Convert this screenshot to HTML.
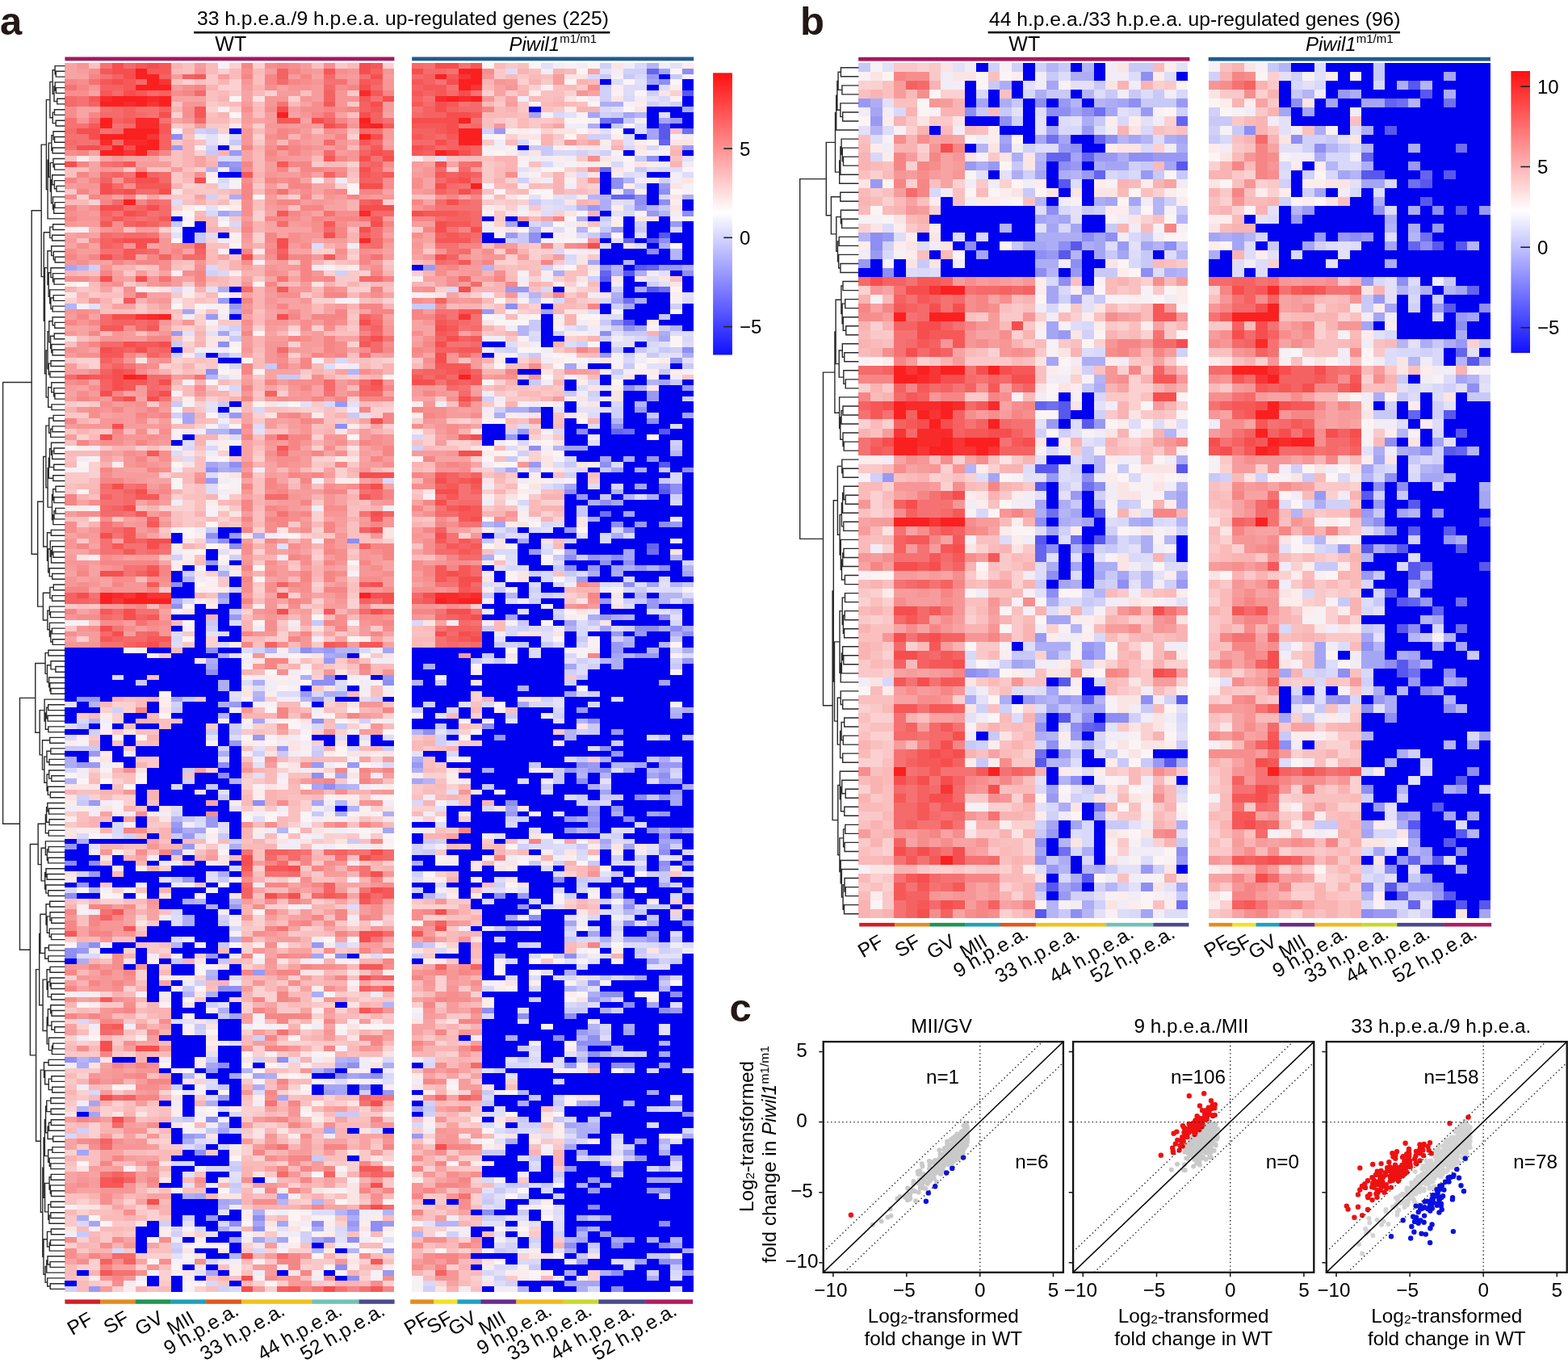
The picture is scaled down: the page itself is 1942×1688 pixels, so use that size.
<!DOCTYPE html><html><head><meta charset="utf-8"><style>html,body{margin:0;padding:0;background:#fff;overflow:hidden}svg{display:block}text{font-family:'Liberation Sans', Arial, sans-serif}</style></head><body>
<svg width="1942" height="1688" viewBox="0 0 1942 1688">
<rect width="1942" height="1688" fill="#fff"/>
<g transform="translate(80.40 78.20) scale(14.5680 6.7627)" shape-rendering="crispEdges"><path fill="#f8a3a3" d="M0 0h1v1h-1zM0 1h1v1h-1zM0 2h2v1h-2zM21 2h1v1h-1zM18 4h1v1h-1zM2 5h1v1h-1zM15 5h1v1h-1zM9 6h3v1h-3zM15 6h1v1h-1zM20 7h1v1h-1zM1 8h2v1h-2zM1 9h1v1h-1zM19 9h1v1h-1zM23 9h1v1h-1zM27 9h1v1h-1zM9 10h1v1h-1zM16 10h1v1h-1zM20 10h1v1h-1zM15 11h1v1h-1zM21 13h1v1h-1zM21 14h1v1h-1zM24 14h1v1h-1zM27 14h1v1h-1zM2 16h1v1h-1zM15 16h1v1h-1zM21 16h1v1h-1zM3 17h1v1h-1zM5 17h3v1h-3zM11 17h1v1h-1zM15 17h1v1h-1zM2 18h1v1h-1zM11 18h1v1h-1zM2 19h1v1h-1zM21 20h1v1h-1zM20 21h1v1h-1zM21 22h2v1h-2zM21 23h1v1h-1zM27 23h1v1h-1zM4 24h1v1h-1zM7 24h1v1h-1zM11 24h1v1h-1zM23 25h1v1h-1zM22 26h2v1h-2zM17 27h1v1h-1zM21 27h1v1h-1zM17 29h1v1h-1zM17 30h4v1h-4zM0 31h1v1h-1zM2 31h1v1h-1zM8 31h1v1h-1zM18 31h1v1h-1zM27 31h1v1h-1zM21 32h1v1h-1zM0 33h1v1h-1zM2 33h1v1h-1zM7 33h1v1h-1zM15 33h1v1h-1zM23 33h1v1h-1zM10 34h1v1h-1zM19 34h2v1h-2zM27 34h1v1h-1zM6 35h1v1h-1zM13 35h1v1h-1zM2 36h2v1h-2zM17 36h1v1h-1zM15 37h1v1h-1zM4 38h1v1h-1zM8 38h1v1h-1zM5 39h1v1h-1zM10 39h1v1h-1zM15 39h1v1h-1zM17 39h1v1h-1zM19 39h1v1h-1zM3 41h1v1h-1zM7 42h2v1h-2zM15 42h1v1h-1zM27 42h1v1h-1zM18 43h2v1h-2zM4 44h2v1h-2zM8 44h1v1h-1zM19 44h2v1h-2zM22 44h1v1h-1zM17 45h1v1h-1zM20 45h1v1h-1zM22 45h1v1h-1zM25 45h1v1h-1zM2 46h1v1h-1zM15 46h1v1h-1zM17 46h1v1h-1zM20 46h1v1h-1zM27 46h1v1h-1zM19 47h1v1h-1zM0 48h2v1h-2zM8 48h1v1h-1zM18 48h1v1h-1zM1 49h1v1h-1zM7 49h1v1h-1zM17 49h1v1h-1zM20 49h1v1h-1zM23 50h2v1h-2zM2 52h1v1h-1zM21 52h1v1h-1zM24 52h1v1h-1zM15 53h1v1h-1zM20 53h1v1h-1zM26 53h1v1h-1zM7 56h1v1h-1zM17 56h3v1h-3zM23 56h1v1h-1zM15 57h1v1h-1zM17 57h1v1h-1zM2 58h1v1h-1zM1 59h1v1h-1zM17 59h1v1h-1zM21 59h1v1h-1zM0 60h1v1h-1zM5 60h1v1h-1zM21 60h1v1h-1zM27 60h1v1h-1zM6 61h1v1h-1zM3 64h1v1h-1zM15 64h1v1h-1zM15 65h1v1h-1zM18 65h1v1h-1zM25 65h1v1h-1zM26 66h1v1h-1zM19 67h1v1h-1zM15 69h1v1h-1zM15 70h1v1h-1zM20 70h1v1h-1zM25 70h1v1h-1zM4 71h1v1h-1zM15 71h1v1h-1zM22 71h1v1h-1zM26 71h1v1h-1zM3 72h1v1h-1zM7 72h1v1h-1zM15 72h1v1h-1zM25 72h1v1h-1zM17 73h1v1h-1zM5 74h2v1h-2zM17 74h1v1h-1zM22 74h1v1h-1zM18 75h1v1h-1zM7 76h2v1h-2zM15 76h1v1h-1zM18 76h1v1h-1zM25 76h1v1h-1zM27 77h1v1h-1zM15 79h1v1h-1zM23 79h1v1h-1zM1 80h1v1h-1zM6 80h1v1h-1zM17 80h1v1h-1zM23 80h1v1h-1zM20 81h1v1h-1zM5 83h1v1h-1zM8 83h1v1h-1zM22 83h1v1h-1zM1 85h1v1h-1zM23 85h1v1h-1zM0 86h1v1h-1zM7 86h1v1h-1zM4 87h1v1h-1zM2 88h1v1h-1zM0 89h2v1h-2zM18 89h1v1h-1zM20 89h1v1h-1zM5 90h1v1h-1zM8 91h1v1h-1zM18 91h1v1h-1zM27 91h1v1h-1zM2 92h1v1h-1zM23 92h1v1h-1zM27 92h1v1h-1zM0 93h1v1h-1zM2 93h1v1h-1zM1 94h1v1h-1zM3 94h1v1h-1zM17 94h1v1h-1zM23 94h1v1h-1zM3 95h1v1h-1zM22 95h1v1h-1zM2 96h1v1h-1zM17 97h1v1h-1zM21 97h1v1h-1zM18 98h1v1h-1zM22 98h1v1h-1zM15 99h1v1h-1zM1 100h1v1h-1zM8 100h1v1h-1zM19 100h1v1h-1zM16 101h1v1h-1zM18 101h1v1h-1zM20 101h1v1h-1zM20 102h1v1h-1zM19 104h1v1h-1zM22 104h1v1h-1zM27 104h1v1h-1zM0 105h1v1h-1zM23 105h1v1h-1zM26 105h1v1h-1zM27 106h1v1h-1zM24 109h1v1h-1zM26 119h1v1h-1zM18 122h1v1h-1zM26 122h1v1h-1zM25 127h1v1h-1zM15 128h1v1h-1zM11 129h1v1h-1zM12 135h1v1h-1zM3 137h1v1h-1zM5 138h1v1h-1zM7 142h1v1h-1zM12 144h1v1h-1zM6 145h1v1h-1zM19 150h1v1h-1zM23 150h3v1h-3zM16 151h1v1h-1zM20 151h1v1h-1zM24 152h1v1h-1zM23 153h1v1h-1zM27 153h1v1h-1zM7 155h1v1h-1zM18 155h1v1h-1zM22 155h1v1h-1zM5 156h1v1h-1zM7 156h1v1h-1zM19 156h1v1h-1zM5 157h1v1h-1zM1 158h1v1h-1zM19 158h1v1h-1zM22 158h1v1h-1zM27 158h1v1h-1zM1 159h1v1h-1zM18 159h1v1h-1zM17 160h1v1h-1zM23 160h1v1h-1zM27 160h1v1h-1zM17 162h1v1h-1zM19 162h2v1h-2zM26 162h1v1h-1zM17 163h1v1h-1zM19 165h1v1h-1zM2 166h1v1h-1zM22 167h1v1h-1zM8 168h1v1h-1zM25 168h1v1h-1zM1 169h1v1h-1zM18 169h1v1h-1zM20 169h1v1h-1zM23 169h1v1h-1zM1 171h1v1h-1zM17 172h1v1h-1zM20 173h1v1h-1zM22 174h1v1h-1zM15 175h1v1h-1zM0 176h1v1h-1zM8 176h1v1h-1zM22 176h1v1h-1zM27 178h1v1h-1zM6 179h2v1h-2zM17 179h1v1h-1zM3 183h1v1h-1zM5 184h1v1h-1zM8 185h1v1h-1zM17 191h1v1h-1zM22 191h1v1h-1zM26 191h1v1h-1zM19 193h1v1h-1zM23 193h1v1h-1zM6 194h1v1h-1zM20 194h1v1h-1zM5 196h1v1h-1zM25 196h2v1h-2zM0 197h1v1h-1zM22 197h2v1h-2zM25 197h1v1h-1zM0 198h1v1h-1zM25 198h1v1h-1zM3 199h2v1h-2zM3 200h1v1h-1zM6 200h2v1h-2zM3 202h1v1h-1zM17 202h1v1h-1zM0 203h1v1h-1zM2 203h1v1h-1zM0 204h1v1h-1zM22 204h1v1h-1zM18 205h1v1h-1zM22 205h1v1h-1zM1 206h2v1h-2zM20 206h1v1h-1zM26 206h1v1h-1zM4 207h1v1h-1zM7 207h2v1h-2zM6 208h1v1h-1zM4 209h1v1h-1zM7 209h1v1h-1zM20 209h1v1h-1zM22 209h2v1h-2zM5 215h1v1h-1zM7 216h1v1h-1zM1 218h1v1h-1zM0 219h1v1h-1zM6 219h1v1h-1zM4 220h2v1h-2z"/><path fill="#f79696" d="M1 0h1v1h-1zM11 1h1v1h-1zM20 1h1v1h-1zM24 1h1v1h-1zM27 1h1v1h-1zM23 2h1v1h-1zM15 3h1v1h-1zM21 3h1v1h-1zM24 3h1v1h-1zM27 3h1v1h-1zM2 4h1v1h-1zM19 4h2v1h-2zM27 4h1v1h-1zM23 5h1v1h-1zM17 6h2v1h-2zM20 6h1v1h-1zM23 6h2v1h-2zM10 7h2v1h-2zM17 7h1v1h-1zM23 7h1v1h-1zM20 9h1v1h-1zM1 10h1v1h-1zM10 10h1v1h-1zM17 11h2v1h-2zM20 11h1v1h-1zM24 11h1v1h-1zM15 12h1v1h-1zM23 12h1v1h-1zM15 13h1v1h-1zM20 13h1v1h-1zM15 14h1v1h-1zM17 14h1v1h-1zM23 14h1v1h-1zM21 15h1v1h-1zM20 16h1v1h-1zM24 16h1v1h-1zM4 17h1v1h-1zM18 17h1v1h-1zM24 17h1v1h-1zM3 19h1v1h-1zM17 20h1v1h-1zM4 21h1v1h-1zM1 22h2v1h-2zM22 24h1v1h-1zM25 24h1v1h-1zM27 24h1v1h-1zM17 25h1v1h-1zM21 25h1v1h-1zM18 26h1v1h-1zM1 27h1v1h-1zM20 27h1v1h-1zM1 28h2v1h-2zM0 29h1v1h-1zM20 29h1v1h-1zM3 30h1v1h-1zM27 30h1v1h-1zM15 31h1v1h-1zM20 31h2v1h-2zM8 32h1v1h-1zM20 32h1v1h-1zM5 33h1v1h-1zM8 33h1v1h-1zM8 34h1v1h-1zM26 34h1v1h-1zM1 35h1v1h-1zM21 35h1v1h-1zM23 35h1v1h-1zM0 36h1v1h-1zM5 36h1v1h-1zM11 36h1v1h-1zM3 37h1v1h-1zM17 37h1v1h-1zM19 37h1v1h-1zM18 38h1v1h-1zM21 38h1v1h-1zM7 39h1v1h-1zM3 40h1v1h-1zM7 40h1v1h-1zM15 40h1v1h-1zM17 41h1v1h-1zM19 41h2v1h-2zM23 41h1v1h-1zM5 42h1v1h-1zM2 43h1v1h-1zM8 43h1v1h-1zM17 43h1v1h-1zM20 43h1v1h-1zM15 44h1v1h-1zM0 45h1v1h-1zM2 45h1v1h-1zM1 47h1v1h-1zM8 47h1v1h-1zM10 47h1v1h-1zM17 47h2v1h-2zM15 48h1v1h-1zM27 48h1v1h-1zM0 49h1v1h-1zM4 49h1v1h-1zM8 49h1v1h-1zM27 49h1v1h-1zM3 50h2v1h-2zM1 51h1v1h-1zM17 51h2v1h-2zM1 52h1v1h-1zM15 52h1v1h-1zM17 52h1v1h-1zM17 53h1v1h-1zM5 54h1v1h-1zM7 54h1v1h-1zM17 54h1v1h-1zM10 57h1v1h-1zM27 58h1v1h-1zM19 59h1v1h-1zM23 59h1v1h-1zM11 60h1v1h-1zM15 60h1v1h-1zM20 60h1v1h-1zM19 61h2v1h-2zM22 61h1v1h-1zM5 62h1v1h-1zM8 62h1v1h-1zM1 63h1v1h-1zM3 63h1v1h-1zM6 63h1v1h-1zM3 65h2v1h-2zM1 66h3v1h-3zM8 66h1v1h-1zM20 66h1v1h-1zM15 67h1v1h-1zM20 67h1v1h-1zM5 68h2v1h-2zM8 68h1v1h-1zM22 68h2v1h-2zM27 68h1v1h-1zM7 69h1v1h-1zM17 69h1v1h-1zM20 69h1v1h-1zM27 69h1v1h-1zM26 70h1v1h-1zM6 71h1v1h-1zM19 71h2v1h-2zM5 72h1v1h-1zM17 72h1v1h-1zM5 73h1v1h-1zM7 73h1v1h-1zM19 73h1v1h-1zM25 74h1v1h-1zM11 75h1v1h-1zM5 76h1v1h-1zM26 76h1v1h-1zM20 77h1v1h-1zM23 77h1v1h-1zM15 78h1v1h-1zM8 79h1v1h-1zM19 79h1v1h-1zM22 79h1v1h-1zM22 80h1v1h-1zM27 80h1v1h-1zM17 82h1v1h-1zM22 82h2v1h-2zM27 83h1v1h-1zM6 84h1v1h-1zM8 84h1v1h-1zM15 84h1v1h-1zM20 84h1v1h-1zM25 84h1v1h-1zM27 84h1v1h-1zM2 85h1v1h-1zM1 86h1v1h-1zM23 86h1v1h-1zM26 86h1v1h-1zM0 87h1v1h-1zM18 87h1v1h-1zM0 88h1v1h-1zM19 89h1v1h-1zM25 89h1v1h-1zM4 90h1v1h-1zM25 90h1v1h-1zM0 91h2v1h-2zM15 91h1v1h-1zM23 91h1v1h-1zM3 92h1v1h-1zM17 92h1v1h-1zM25 92h1v1h-1zM19 93h1v1h-1zM25 93h2v1h-2zM0 94h1v1h-1zM0 95h1v1h-1zM2 95h1v1h-1zM5 95h2v1h-2zM8 95h1v1h-1zM23 95h1v1h-1zM4 96h3v1h-3zM19 96h1v1h-1zM25 96h1v1h-1zM20 97h1v1h-1zM17 98h1v1h-1zM23 98h1v1h-1zM17 99h1v1h-1zM2 100h1v1h-1zM16 100h1v1h-1zM0 101h1v1h-1zM17 101h1v1h-1zM27 101h1v1h-1zM25 102h1v1h-1zM1 103h1v1h-1zM8 103h1v1h-1zM8 104h1v1h-1zM16 104h2v1h-2zM20 105h1v1h-1zM0 106h3v1h-3zM20 106h1v1h-1zM16 108h1v1h-1zM22 111h1v1h-1zM27 111h1v1h-1zM25 117h2v1h-2zM15 118h1v1h-1zM20 119h1v1h-1zM18 121h1v1h-1zM26 121h1v1h-1zM22 122h1v1h-1zM15 129h1v1h-1zM26 129h1v1h-1zM26 131h1v1h-1zM5 133h1v1h-1zM20 133h1v1h-1zM27 133h1v1h-1zM25 135h1v1h-1zM22 139h1v1h-1zM7 143h1v1h-1zM3 144h1v1h-1zM23 146h1v1h-1zM22 147h1v1h-1zM27 148h1v1h-1zM20 150h1v1h-1zM26 150h1v1h-1zM19 151h1v1h-1zM21 151h1v1h-1zM7 153h1v1h-1zM20 153h1v1h-1zM0 156h1v1h-1zM15 156h1v1h-1zM3 157h2v1h-2zM3 158h2v1h-2zM26 158h1v1h-1zM5 159h1v1h-1zM17 159h1v1h-1zM3 160h1v1h-1zM16 162h1v1h-1zM17 164h1v1h-1zM0 165h1v1h-1zM3 165h1v1h-1zM6 165h1v1h-1zM23 165h1v1h-1zM17 166h1v1h-1zM1 167h1v1h-1zM3 167h1v1h-1zM3 168h1v1h-1zM5 168h1v1h-1zM16 168h1v1h-1zM2 169h2v1h-2zM5 171h1v1h-1zM22 171h1v1h-1zM3 173h1v1h-1zM17 173h1v1h-1zM27 173h1v1h-1zM1 174h1v1h-1zM3 174h1v1h-1zM22 177h1v1h-1zM8 180h1v1h-1zM15 180h1v1h-1zM19 180h1v1h-1zM25 180h1v1h-1zM5 183h1v1h-1zM4 184h1v1h-1zM6 184h2v1h-2zM20 184h1v1h-1zM2 185h1v1h-1zM4 185h1v1h-1zM3 186h1v1h-1zM18 187h1v1h-1zM7 188h1v1h-1zM15 188h1v1h-1zM19 191h1v1h-1zM19 192h1v1h-1zM26 194h2v1h-2zM5 195h2v1h-2zM7 196h1v1h-1zM17 196h1v1h-1zM6 197h1v1h-1zM27 197h1v1h-1zM4 198h3v1h-3zM27 202h1v1h-1zM7 203h1v1h-1zM19 203h1v1h-1zM1 204h1v1h-1zM26 204h1v1h-1zM0 205h1v1h-1zM5 205h1v1h-1zM17 205h1v1h-1zM0 206h1v1h-1zM3 206h3v1h-3zM26 208h1v1h-1zM5 216h1v1h-1zM3 218h1v1h-1zM20 218h1v1h-1zM23 219h1v1h-1zM7 220h1v1h-1zM17 220h1v1h-1zM3 222h1v1h-1zM5 222h1v1h-1zM19 222h1v1h-1zM22 222h1v1h-1zM20 223h1v1h-1z"/><path fill="#fac0c0" d="M2 0h1v1h-1zM10 0h1v1h-1zM21 0h1v1h-1zM10 1h1v1h-1zM16 2h1v1h-1zM9 3h1v1h-1zM11 3h1v1h-1zM16 3h1v1h-1zM12 5h1v1h-1zM20 5h1v1h-1zM12 6h1v1h-1zM9 7h1v1h-1zM13 7h1v1h-1zM16 7h1v1h-1zM12 9h1v1h-1zM16 9h1v1h-1zM24 9h1v1h-1zM10 11h1v1h-1zM21 12h1v1h-1zM24 12h1v1h-1zM10 13h1v1h-1zM11 14h1v1h-1zM9 16h1v1h-1zM0 17h1v1h-1zM9 17h1v1h-1zM9 18h1v1h-1zM0 19h2v1h-2zM7 19h2v1h-2zM10 19h1v1h-1zM0 20h1v1h-1zM24 20h1v1h-1zM12 22h1v1h-1zM10 23h1v1h-1zM13 23h1v1h-1zM8 24h1v1h-1zM10 25h1v1h-1zM16 25h1v1h-1zM16 26h1v1h-1zM19 26h1v1h-1zM5 30h1v1h-1zM24 30h1v1h-1zM1 32h1v1h-1zM12 33h2v1h-2zM10 36h1v1h-1zM23 36h1v1h-1zM7 37h1v1h-1zM9 37h1v1h-1zM27 37h1v1h-1zM2 38h1v1h-1zM12 40h1v1h-1zM2 41h1v1h-1zM27 41h1v1h-1zM3 42h2v1h-2zM11 43h1v1h-1zM25 43h1v1h-1zM3 45h3v1h-3zM9 45h1v1h-1zM12 45h1v1h-1zM16 45h1v1h-1zM24 45h1v1h-1zM24 47h1v1h-1zM11 48h1v1h-1zM6 49h1v1h-1zM23 49h2v1h-2zM1 50h1v1h-1zM9 50h1v1h-1zM0 51h1v1h-1zM16 53h1v1h-1zM24 53h1v1h-1zM11 54h1v1h-1zM25 54h1v1h-1zM1 55h1v1h-1zM10 56h1v1h-1zM22 56h1v1h-1zM12 59h1v1h-1zM13 61h1v1h-1zM16 61h1v1h-1zM26 62h1v1h-1zM17 63h2v1h-2zM22 63h1v1h-1zM22 64h1v1h-1zM2 65h1v1h-1zM12 65h1v1h-1zM22 65h1v1h-1zM24 65h1v1h-1zM21 66h1v1h-1zM2 67h1v1h-1zM17 67h2v1h-2zM27 67h1v1h-1zM16 68h1v1h-1zM0 69h1v1h-1zM7 70h1v1h-1zM11 70h1v1h-1zM16 70h1v1h-1zM0 72h1v1h-1zM11 72h1v1h-1zM11 73h1v1h-1zM22 73h1v1h-1zM10 74h2v1h-2zM16 76h1v1h-1zM19 76h1v1h-1zM0 77h1v1h-1zM11 77h1v1h-1zM16 77h1v1h-1zM21 77h1v1h-1zM11 78h1v1h-1zM16 78h1v1h-1zM24 78h1v1h-1zM2 79h1v1h-1zM10 79h2v1h-2zM11 80h1v1h-1zM25 80h1v1h-1zM6 81h1v1h-1zM11 81h1v1h-1zM24 81h1v1h-1zM9 82h1v1h-1zM13 82h1v1h-1zM16 82h1v1h-1zM24 82h1v1h-1zM0 83h2v1h-2zM9 83h1v1h-1zM16 83h1v1h-1zM11 84h1v1h-1zM13 84h1v1h-1zM24 84h1v1h-1zM24 85h1v1h-1zM8 86h1v1h-1zM24 86h2v1h-2zM25 87h2v1h-2zM11 88h1v1h-1zM11 90h1v1h-1zM24 90h1v1h-1zM19 91h1v1h-1zM24 95h1v1h-1zM18 96h1v1h-1zM24 96h1v1h-1zM12 97h1v1h-1zM1 99h1v1h-1zM21 99h1v1h-1zM26 99h2v1h-2zM15 101h1v1h-1zM18 103h1v1h-1zM24 103h1v1h-1zM27 105h1v1h-1zM16 106h1v1h-1zM20 109h1v1h-1zM25 109h1v1h-1zM18 110h1v1h-1zM24 110h1v1h-1zM7 112h1v1h-1zM26 114h1v1h-1zM26 115h1v1h-1zM5 116h1v1h-1zM23 117h1v1h-1zM27 117h1v1h-1zM16 118h1v1h-1zM22 118h1v1h-1zM19 119h1v1h-1zM8 120h2v1h-2zM5 121h1v1h-1zM8 121h1v1h-1zM22 121h1v1h-1zM6 122h2v1h-2zM16 122h1v1h-1zM4 124h1v1h-1zM6 124h1v1h-1zM15 125h1v1h-1zM15 127h1v1h-1zM20 127h1v1h-1zM2 130h1v1h-1zM4 130h2v1h-2zM10 130h1v1h-1zM19 130h2v1h-2zM5 131h1v1h-1zM27 131h1v1h-1zM4 132h1v1h-1zM1 133h2v1h-2zM15 133h1v1h-1zM19 134h2v1h-2zM7 135h1v1h-1zM6 136h1v1h-1zM19 136h1v1h-1zM1 137h1v1h-1zM19 137h1v1h-1zM1 138h1v1h-1zM7 138h1v1h-1zM19 138h1v1h-1zM25 138h1v1h-1zM24 139h1v1h-1zM7 140h1v1h-1zM6 141h1v1h-1zM19 141h1v1h-1zM8 142h1v1h-1zM15 142h1v1h-1zM25 142h1v1h-1zM5 143h2v1h-2zM20 143h1v1h-1zM7 144h1v1h-1zM11 144h1v1h-1zM16 144h1v1h-1zM16 145h1v1h-1zM24 145h1v1h-1zM10 146h1v1h-1zM16 148h1v1h-1zM21 149h2v1h-2zM6 151h1v1h-1zM16 152h1v1h-1zM20 152h1v1h-1zM0 153h1v1h-1zM5 153h1v1h-1zM18 153h1v1h-1zM22 153h1v1h-1zM24 153h1v1h-1zM8 155h1v1h-1zM1 156h1v1h-1zM22 156h1v1h-1zM1 157h1v1h-1zM15 157h1v1h-1zM18 157h1v1h-1zM25 157h1v1h-1zM15 159h1v1h-1zM20 159h2v1h-2zM4 160h2v1h-2zM16 160h1v1h-1zM6 161h1v1h-1zM8 161h1v1h-1zM24 162h1v1h-1zM8 163h1v1h-1zM3 164h1v1h-1zM15 164h1v1h-1zM19 164h1v1h-1zM18 165h1v1h-1zM23 166h1v1h-1zM25 166h1v1h-1zM24 167h1v1h-1zM6 168h1v1h-1zM15 168h1v1h-1zM26 168h2v1h-2zM12 169h1v1h-1zM24 171h1v1h-1zM20 172h1v1h-1zM2 173h1v1h-1zM2 175h1v1h-1zM27 175h1v1h-1zM5 177h1v1h-1zM26 177h1v1h-1zM0 179h1v1h-1zM24 179h1v1h-1zM24 181h1v1h-1zM18 184h1v1h-1zM7 185h1v1h-1zM0 187h1v1h-1zM3 187h1v1h-1zM17 187h1v1h-1zM0 189h1v1h-1zM15 189h1v1h-1zM19 189h1v1h-1zM24 189h1v1h-1zM5 190h1v1h-1zM7 190h1v1h-1zM20 190h1v1h-1zM8 191h1v1h-1zM8 192h1v1h-1zM18 192h1v1h-1zM6 193h1v1h-1zM24 193h2v1h-2zM0 194h1v1h-1zM18 194h1v1h-1zM19 195h2v1h-2zM1 196h1v1h-1zM18 196h1v1h-1zM21 196h1v1h-1zM26 197h1v1h-1zM2 199h1v1h-1zM7 199h1v1h-1zM23 199h1v1h-1zM1 200h2v1h-2zM15 200h1v1h-1zM22 200h2v1h-2zM0 201h1v1h-1zM2 201h1v1h-1zM17 201h1v1h-1zM11 203h1v1h-1zM8 206h1v1h-1zM10 206h2v1h-2zM0 207h2v1h-2zM16 207h1v1h-1zM20 207h1v1h-1zM23 207h1v1h-1zM0 208h1v1h-1zM2 208h1v1h-1zM2 210h2v1h-2zM23 211h1v1h-1zM5 213h1v1h-1zM4 214h1v1h-1zM24 214h1v1h-1zM8 216h1v1h-1zM20 216h1v1h-1zM7 217h2v1h-2zM20 219h1v1h-1zM27 219h1v1h-1zM8 220h1v1h-1zM13 220h1v1h-1zM15 221h1v1h-1zM0 222h1v1h-1zM12 222h1v1h-1zM14 222h1v1h-1zM20 222h1v1h-1zM7 224h1v1h-1zM12 224h1v1h-1z"/><path fill="#f67272" d="M3 0h1v1h-1zM3 2h1v1h-1zM25 2h1v1h-1zM2 3h1v1h-1zM22 3h2v1h-2zM0 4h1v1h-1zM1 6h1v1h-1zM26 6h1v1h-1zM1 7h1v1h-1zM18 7h1v1h-1zM3 8h1v1h-1zM6 8h2v1h-2zM7 9h1v1h-1zM22 9h1v1h-1zM0 10h1v1h-1zM2 10h1v1h-1zM8 10h1v1h-1zM27 10h1v1h-1zM0 11h2v1h-2zM4 11h1v1h-1zM3 12h1v1h-1zM26 12h1v1h-1zM0 13h2v1h-2zM1 14h2v1h-2zM0 15h1v1h-1zM18 15h1v1h-1zM25 15h1v1h-1zM26 17h1v1h-1zM3 18h1v1h-1zM5 20h1v1h-1zM18 23h1v1h-1zM8 25h1v1h-1zM4 27h1v1h-1zM7 27h1v1h-1zM22 27h1v1h-1zM6 28h1v1h-1zM25 28h1v1h-1zM8 29h1v1h-1zM26 30h1v1h-1zM4 31h1v1h-1zM7 31h1v1h-1zM26 31h1v1h-1zM25 33h1v1h-1zM3 34h2v1h-2zM26 35h1v1h-1zM8 39h1v1h-1zM18 39h1v1h-1zM26 46h1v1h-1zM25 48h1v1h-1zM27 50h1v1h-1zM8 53h1v1h-1zM25 53h1v1h-1zM4 54h1v1h-1zM3 55h1v1h-1zM5 55h1v1h-1zM11 57h1v1h-1zM8 59h1v1h-1zM22 60h1v1h-1zM8 61h1v1h-1zM5 77h1v1h-1zM3 78h2v1h-2zM25 78h1v1h-1zM4 79h1v1h-1zM3 80h2v1h-2zM5 82h1v1h-1zM18 82h1v1h-1zM25 82h1v1h-1zM3 84h1v1h-1zM3 85h1v1h-1zM4 86h1v1h-1zM3 87h1v1h-1zM3 88h1v1h-1zM5 88h2v1h-2zM3 89h2v1h-2zM6 89h1v1h-1zM8 89h1v1h-1zM5 92h2v1h-2zM5 93h1v1h-1zM2 97h1v1h-1zM6 100h2v1h-2zM4 101h1v1h-1zM6 102h1v1h-1zM4 103h1v1h-1zM3 106h2v1h-2zM15 144h1v1h-1zM20 144h1v1h-1zM24 144h2v1h-2zM23 145h1v1h-1zM25 147h1v1h-1zM15 148h1v1h-1zM17 148h2v1h-2zM25 148h1v1h-1zM25 151h1v1h-1zM18 152h1v1h-1zM26 153h1v1h-1zM3 155h1v1h-1zM18 158h1v1h-1zM26 160h1v1h-1zM26 169h1v1h-1zM26 173h1v1h-1zM4 177h1v1h-1zM18 177h1v1h-1zM26 189h2v1h-2zM17 190h1v1h-1zM25 190h1v1h-1zM18 198h1v1h-1zM3 203h1v1h-1zM5 203h1v1h-1zM25 203h1v1h-1zM25 209h1v1h-1zM4 221h2v1h-2zM21 224h1v1h-1zM23 224h1v1h-1zM25 224h1v1h-1z"/><path fill="#f64e4e" d="M4 0h1v1h-1zM7 0h1v1h-1zM25 0h1v1h-1zM4 1h2v1h-2zM25 1h1v1h-1zM5 2h1v1h-1zM26 2h1v1h-1zM4 3h1v1h-1zM25 4h1v1h-1zM5 5h1v1h-1zM27 6h1v1h-1zM26 7h1v1h-1zM18 8h1v1h-1zM8 9h1v1h-1zM25 9h1v1h-1zM21 10h1v1h-1zM22 11h1v1h-1zM1 12h2v1h-2zM2 13h1v1h-1zM26 13h1v1h-1zM1 15h2v1h-2zM5 15h1v1h-1zM26 16h1v1h-1zM25 17h1v1h-1zM27 17h1v1h-1zM0 18h1v1h-1zM25 19h1v1h-1zM6 21h2v1h-2zM11 21h1v1h-1zM3 22h1v1h-1zM25 22h2v1h-2zM3 23h1v1h-1zM5 23h1v1h-1zM8 23h1v1h-1zM3 26h2v1h-2zM7 26h1v1h-1zM25 26h3v1h-3zM5 27h1v1h-1zM26 29h1v1h-1zM25 30h1v1h-1zM22 31h1v1h-1zM5 32h3v1h-3zM18 32h1v1h-1zM6 33h1v1h-1zM18 33h1v1h-1zM3 35h1v1h-1zM15 35h1v1h-1zM3 39h1v1h-1zM6 39h1v1h-1zM4 46h2v1h-2zM18 46h1v1h-1zM25 47h1v1h-1zM26 50h1v1h-1zM5 51h1v1h-1zM8 51h1v1h-1zM3 52h1v1h-1zM6 52h1v1h-1zM4 56h1v1h-1zM1 57h1v1h-1zM4 57h1v1h-1zM4 58h1v1h-1zM8 58h1v1h-1zM26 58h1v1h-1zM4 59h1v1h-1zM3 60h1v1h-1zM8 60h1v1h-1zM5 61h1v1h-1zM7 61h1v1h-1zM26 65h1v1h-1zM4 66h1v1h-1zM3 68h1v1h-1zM25 75h3v1h-3zM4 77h1v1h-1zM26 77h1v1h-1zM6 78h1v1h-1zM5 81h1v1h-1zM26 82h1v1h-1zM26 85h1v1h-1zM3 86h1v1h-1zM7 87h2v1h-2zM7 88h1v1h-1zM3 93h2v1h-2zM7 93h1v1h-1zM26 95h1v1h-1zM1 97h1v1h-1zM18 97h1v1h-1zM26 97h2v1h-2zM27 98h1v1h-1zM5 100h1v1h-1zM18 100h1v1h-1zM26 100h1v1h-1zM5 101h1v1h-1zM3 103h1v1h-1zM4 104h1v1h-1zM7 106h1v1h-1zM26 144h1v1h-1zM15 145h1v1h-1zM25 145h1v1h-1zM15 146h1v1h-1zM19 147h1v1h-1zM26 148h1v1h-1zM26 151h1v1h-1zM17 152h1v1h-1zM19 152h1v1h-1zM25 152h1v1h-1zM25 159h2v1h-2zM25 160h1v1h-1zM25 167h1v1h-1zM3 179h1v1h-1zM3 180h1v1h-1zM6 180h2v1h-2zM3 189h1v1h-1zM26 190h1v1h-1zM4 193h1v1h-1zM4 204h1v1h-1zM26 205h1v1h-1zM7 208h1v1h-1zM26 209h1v1h-1zM15 218h1v1h-1zM15 222h1v1h-1zM15 224h1v1h-1zM22 224h1v1h-1z"/><path fill="#f56a6a" d="M5 0h1v1h-1zM22 2h1v1h-1zM6 3h1v1h-1zM18 3h1v1h-1zM22 4h1v1h-1zM26 4h1v1h-1zM4 5h1v1h-1zM7 5h1v1h-1zM11 5h1v1h-1zM0 6h1v1h-1zM0 7h1v1h-1zM4 8h1v1h-1zM3 9h2v1h-2zM6 9h1v1h-1zM11 10h1v1h-1zM5 11h1v1h-1zM0 12h1v1h-1zM4 12h1v1h-1zM25 12h1v1h-1zM0 14h1v1h-1zM4 14h1v1h-1zM22 14h1v1h-1zM26 14h1v1h-1zM7 16h1v1h-1zM22 16h1v1h-1zM4 18h1v1h-1zM25 18h1v1h-1zM26 19h1v1h-1zM3 20h1v1h-1zM8 20h1v1h-1zM8 21h1v1h-1zM4 22h1v1h-1zM6 23h2v1h-2zM4 25h1v1h-1zM7 25h1v1h-1zM5 26h1v1h-1zM8 26h1v1h-1zM8 27h1v1h-1zM26 27h2v1h-2zM3 28h1v1h-1zM5 28h1v1h-1zM7 28h1v1h-1zM18 29h1v1h-1zM22 30h1v1h-1zM3 31h1v1h-1zM5 31h2v1h-2zM26 32h1v1h-1zM4 33h1v1h-1zM26 33h1v1h-1zM7 34h1v1h-1zM4 35h1v1h-1zM10 35h2v1h-2zM25 39h2v1h-2zM15 41h1v1h-1zM6 42h1v1h-1zM3 46h1v1h-1zM3 47h1v1h-1zM6 47h1v1h-1zM26 47h1v1h-1zM6 48h1v1h-1zM26 49h1v1h-1zM3 51h2v1h-2zM26 51h1v1h-1zM7 52h1v1h-1zM18 52h1v1h-1zM26 52h1v1h-1zM0 57h1v1h-1zM7 57h2v1h-2zM7 58h1v1h-1zM22 58h1v1h-1zM25 58h1v1h-1zM7 59h1v1h-1zM22 59h1v1h-1zM25 60h2v1h-2zM18 71h1v1h-1zM3 77h1v1h-1zM6 77h1v1h-1zM26 78h1v1h-1zM5 79h1v1h-1zM17 79h2v1h-2zM26 79h1v1h-1zM5 80h1v1h-1zM3 81h1v1h-1zM3 82h2v1h-2zM4 85h1v1h-1zM8 88h1v1h-1zM7 89h1v1h-1zM2 98h1v1h-1zM26 98h1v1h-1zM4 100h1v1h-1zM25 100h1v1h-1zM3 101h1v1h-1zM3 104h1v1h-1zM6 104h1v1h-1zM5 105h2v1h-2zM8 106h1v1h-1zM19 144h1v1h-1zM22 144h1v1h-1zM27 144h1v1h-1zM17 145h1v1h-1zM19 145h1v1h-1zM27 145h1v1h-1zM18 146h1v1h-1zM19 148h1v1h-1zM15 150h1v1h-1zM21 152h1v1h-1zM26 152h1v1h-1zM27 159h1v1h-1zM26 167h1v1h-1zM3 177h1v1h-1zM4 189h1v1h-1zM4 194h1v1h-1zM3 198h1v1h-1zM18 203h1v1h-1zM27 203h1v1h-1zM27 209h1v1h-1zM4 218h2v1h-2zM18 218h1v1h-1z"/><path fill="#f65858" d="M6 0h1v1h-1zM8 0h1v1h-1zM26 0h1v1h-1zM3 1h1v1h-1zM7 1h2v1h-2zM22 1h1v1h-1zM11 2h1v1h-1zM3 3h1v1h-1zM5 3h1v1h-1zM25 3h1v1h-1zM5 4h1v1h-1zM3 5h1v1h-1zM6 5h1v1h-1zM26 5h1v1h-1zM2 6h1v1h-1zM25 6h1v1h-1zM22 7h1v1h-1zM11 8h1v1h-1zM26 8h1v1h-1zM11 9h1v1h-1zM5 10h1v1h-1zM18 10h2v1h-2zM2 11h1v1h-1zM8 11h1v1h-1zM27 11h1v1h-1zM8 12h1v1h-1zM25 14h1v1h-1zM3 15h1v1h-1zM26 15h1v1h-1zM27 16h1v1h-1zM22 17h1v1h-1zM5 18h1v1h-1zM18 18h1v1h-1zM15 20h1v1h-1zM25 20h1v1h-1zM27 20h1v1h-1zM6 22h3v1h-3zM4 23h1v1h-1zM26 25h1v1h-1zM6 27h1v1h-1zM18 27h1v1h-1zM4 28h1v1h-1zM8 28h1v1h-1zM26 28h1v1h-1zM3 29h1v1h-1zM6 29h1v1h-1zM22 29h1v1h-1zM4 32h1v1h-1zM11 33h1v1h-1zM5 34h1v1h-1zM5 35h1v1h-1zM18 35h1v1h-1zM22 35h1v1h-1zM18 41h1v1h-1zM5 43h1v1h-1zM3 48h2v1h-2zM7 48h1v1h-1zM6 51h2v1h-2zM25 51h1v1h-1zM4 52h1v1h-1zM3 53h2v1h-2zM5 56h1v1h-1zM2 57h2v1h-2zM5 58h2v1h-2zM5 59h1v1h-1zM26 59h1v1h-1zM18 68h1v1h-1zM18 70h1v1h-1zM7 71h1v1h-1zM6 79h2v1h-2zM25 79h1v1h-1zM6 82h1v1h-1zM26 83h1v1h-1zM7 84h1v1h-1zM5 85h1v1h-1zM5 86h1v1h-1zM5 87h1v1h-1zM4 88h1v1h-1zM5 89h1v1h-1zM7 92h1v1h-1zM7 95h1v1h-1zM25 95h1v1h-1zM3 100h1v1h-1zM22 100h1v1h-1zM7 101h1v1h-1zM3 105h1v1h-1zM7 105h2v1h-2zM6 106h1v1h-1zM22 106h1v1h-1zM25 106h2v1h-2zM15 147h1v1h-1zM17 147h2v1h-2zM27 151h1v1h-1zM22 152h1v1h-1zM27 152h1v1h-1zM25 153h1v1h-1zM4 155h1v1h-1zM5 158h1v1h-1zM0 159h1v1h-1zM25 165h2v1h-2zM27 169h1v1h-1zM3 171h1v1h-1zM25 173h1v1h-1zM4 176h1v1h-1zM25 202h2v1h-2zM3 204h1v1h-1zM3 205h2v1h-2zM26 219h1v1h-1zM3 221h1v1h-1zM19 224h1v1h-1zM26 224h1v1h-1z"/><path fill="#f9b3b3" d="M9 0h1v1h-1zM13 3h1v1h-1zM12 4h1v1h-1zM16 4h1v1h-1zM13 6h1v1h-1zM9 8h1v1h-1zM13 9h1v1h-1zM10 12h1v1h-1zM19 13h1v1h-1zM10 14h1v1h-1zM10 15h1v1h-1zM16 15h1v1h-1zM10 16h1v1h-1zM13 16h1v1h-1zM10 17h1v1h-1zM10 18h1v1h-1zM12 18h1v1h-1zM19 19h1v1h-1zM10 20h1v1h-1zM16 20h1v1h-1zM22 21h1v1h-1zM9 22h1v1h-1zM14 23h1v1h-1zM11 25h1v1h-1zM24 25h1v1h-1zM24 26h1v1h-1zM11 28h1v1h-1zM16 29h1v1h-1zM2 30h1v1h-1zM12 30h1v1h-1zM16 30h1v1h-1zM24 31h1v1h-1zM24 32h1v1h-1zM16 33h1v1h-1zM22 33h1v1h-1zM16 35h1v1h-1zM14 36h1v1h-1zM21 36h1v1h-1zM4 37h2v1h-2zM14 37h1v1h-1zM16 37h1v1h-1zM0 38h1v1h-1zM15 38h2v1h-2zM19 38h1v1h-1zM27 38h1v1h-1zM12 39h1v1h-1zM6 40h1v1h-1zM18 40h1v1h-1zM22 40h1v1h-1zM24 40h1v1h-1zM0 41h1v1h-1zM11 41h1v1h-1zM16 41h1v1h-1zM1 42h1v1h-1zM16 42h1v1h-1zM21 42h1v1h-1zM3 43h1v1h-1zM6 43h1v1h-1zM16 43h1v1h-1zM7 44h1v1h-1zM16 44h1v1h-1zM24 44h1v1h-1zM27 44h1v1h-1zM8 45h1v1h-1zM9 47h1v1h-1zM11 49h1v1h-1zM2 50h1v1h-1zM16 50h1v1h-1zM11 51h1v1h-1zM16 51h1v1h-1zM19 54h1v1h-1zM10 55h1v1h-1zM27 55h1v1h-1zM8 56h1v1h-1zM21 56h1v1h-1zM27 56h1v1h-1zM22 57h1v1h-1zM26 57h1v1h-1zM9 58h1v1h-1zM11 58h1v1h-1zM12 60h2v1h-2zM11 61h1v1h-1zM14 61h1v1h-1zM0 63h1v1h-1zM10 63h1v1h-1zM11 64h1v1h-1zM23 64h1v1h-1zM1 65h1v1h-1zM7 65h1v1h-1zM18 66h1v1h-1zM1 67h1v1h-1zM22 67h1v1h-1zM26 67h1v1h-1zM11 68h2v1h-2zM11 69h1v1h-1zM16 69h1v1h-1zM21 69h1v1h-1zM24 69h1v1h-1zM4 70h2v1h-2zM4 72h1v1h-1zM3 73h1v1h-1zM16 73h1v1h-1zM24 74h1v1h-1zM22 76h1v1h-1zM2 78h1v1h-1zM9 78h1v1h-1zM1 79h1v1h-1zM12 79h1v1h-1zM16 79h1v1h-1zM21 79h1v1h-1zM24 79h1v1h-1zM14 80h1v1h-1zM16 80h1v1h-1zM7 81h1v1h-1zM26 81h1v1h-1zM11 82h1v1h-1zM24 83h1v1h-1zM2 84h1v1h-1zM10 88h1v1h-1zM16 88h1v1h-1zM21 88h1v1h-1zM24 88h1v1h-1zM16 90h2v1h-2zM21 92h1v1h-1zM16 93h1v1h-1zM21 93h1v1h-1zM11 97h1v1h-1zM23 100h1v1h-1zM12 101h1v1h-1zM15 102h1v1h-1zM15 103h1v1h-1zM22 103h1v1h-1zM19 110h1v1h-1zM15 111h1v1h-1zM4 116h1v1h-1zM7 116h1v1h-1zM19 118h1v1h-1zM26 118h1v1h-1zM15 119h3v1h-3zM23 119h1v1h-1zM6 120h2v1h-2zM7 123h1v1h-1zM22 125h1v1h-1zM26 125h1v1h-1zM6 128h1v1h-1zM4 129h1v1h-1zM16 129h1v1h-1zM19 131h1v1h-1zM0 133h1v1h-1zM3 133h2v1h-2zM7 133h1v1h-1zM17 133h1v1h-1zM24 133h2v1h-2zM7 134h1v1h-1zM17 134h1v1h-1zM17 135h1v1h-1zM5 136h1v1h-1zM2 138h1v1h-1zM2 139h1v1h-1zM3 140h1v1h-1zM8 140h1v1h-1zM15 140h1v1h-1zM20 140h1v1h-1zM8 141h1v1h-1zM15 141h1v1h-1zM16 142h1v1h-1zM3 143h2v1h-2zM8 143h2v1h-2zM17 143h1v1h-1zM5 145h1v1h-1zM11 145h1v1h-1zM21 145h2v1h-2zM6 146h1v1h-1zM26 146h1v1h-1zM7 147h1v1h-1zM23 147h1v1h-1zM27 147h1v1h-1zM20 148h1v1h-1zM24 148h1v1h-1zM16 149h1v1h-1zM23 149h1v1h-1zM25 149h1v1h-1zM8 151h1v1h-1zM16 153h1v1h-1zM0 154h1v1h-1zM15 154h1v1h-1zM21 154h2v1h-2zM27 154h1v1h-1zM6 155h1v1h-1zM15 155h1v1h-1zM27 155h1v1h-1zM18 156h1v1h-1zM17 157h1v1h-1zM21 157h1v1h-1zM23 158h1v1h-1zM1 160h1v1h-1zM20 160h1v1h-1zM5 163h1v1h-1zM2 164h1v1h-1zM10 164h1v1h-1zM22 164h1v1h-1zM25 164h2v1h-2zM17 167h1v1h-1zM1 168h1v1h-1zM13 168h1v1h-1zM22 168h2v1h-2zM6 169h1v1h-1zM4 170h1v1h-1zM15 170h1v1h-1zM27 170h1v1h-1zM6 171h1v1h-1zM15 171h1v1h-1zM0 172h1v1h-1zM7 172h1v1h-1zM16 172h1v1h-1zM25 172h1v1h-1zM7 173h2v1h-2zM24 173h1v1h-1zM5 174h1v1h-1zM8 174h1v1h-1zM26 174h1v1h-1zM6 175h1v1h-1zM20 175h1v1h-1zM23 175h1v1h-1zM7 176h1v1h-1zM19 176h1v1h-1zM8 177h1v1h-1zM17 177h1v1h-1zM25 177h1v1h-1zM3 178h1v1h-1zM21 178h1v1h-1zM20 180h1v1h-1zM6 181h1v1h-1zM23 181h1v1h-1zM6 182h1v1h-1zM20 182h1v1h-1zM1 186h1v1h-1zM5 186h1v1h-1zM15 187h1v1h-1zM0 188h1v1h-1zM5 188h1v1h-1zM8 189h1v1h-1zM3 190h1v1h-1zM11 190h1v1h-1zM2 191h1v1h-1zM18 191h1v1h-1zM5 192h1v1h-1zM8 193h1v1h-1zM3 194h1v1h-1zM3 195h2v1h-2zM21 195h1v1h-1zM23 195h1v1h-1zM23 196h2v1h-2zM19 198h1v1h-1zM21 198h1v1h-1zM24 198h1v1h-1zM18 199h1v1h-1zM0 200h1v1h-1zM20 201h1v1h-1zM26 201h1v1h-1zM15 202h1v1h-1zM15 203h1v1h-1zM24 203h1v1h-1zM19 204h1v1h-1zM21 204h1v1h-1zM23 204h1v1h-1zM25 204h1v1h-1zM6 205h1v1h-1zM13 205h1v1h-1zM20 205h1v1h-1zM2 207h1v1h-1zM6 207h1v1h-1zM15 207h1v1h-1zM21 207h1v1h-1zM4 208h1v1h-1zM15 208h1v1h-1zM22 208h1v1h-1zM8 209h1v1h-1zM16 209h4v1h-4zM24 209h1v1h-1zM8 210h1v1h-1zM5 211h1v1h-1zM15 213h1v1h-1zM2 215h1v1h-1zM1 216h1v1h-1zM4 216h1v1h-1zM2 217h2v1h-2zM16 218h1v1h-1zM22 218h1v1h-1zM2 221h1v1h-1zM24 221h1v1h-1zM13 222h1v1h-1zM23 223h2v1h-2zM6 224h1v1h-1z"/><path fill="#f79c9c" d="M11 0h1v1h-1zM20 0h1v1h-1zM1 1h1v1h-1zM17 1h1v1h-1zM21 1h1v1h-1zM9 2h1v1h-1zM13 2h1v1h-1zM19 2h1v1h-1zM24 2h1v1h-1zM27 2h1v1h-1zM9 4h1v1h-1zM15 4h1v1h-1zM21 4h1v1h-1zM18 5h2v1h-2zM21 5h1v1h-1zM21 6h1v1h-1zM15 7h1v1h-1zM27 7h1v1h-1zM19 8h1v1h-1zM27 8h1v1h-1zM15 9h1v1h-1zM17 9h1v1h-1zM15 10h1v1h-1zM17 10h1v1h-1zM24 10h1v1h-1zM11 11h1v1h-1zM19 11h1v1h-1zM21 11h1v1h-1zM17 12h1v1h-1zM20 12h1v1h-1zM27 12h1v1h-1zM22 13h1v1h-1zM27 13h1v1h-1zM20 14h1v1h-1zM22 15h1v1h-1zM27 15h1v1h-1zM18 16h1v1h-1zM23 16h1v1h-1zM19 17h2v1h-2zM6 18h3v1h-3zM17 18h1v1h-1zM4 19h1v1h-1zM9 19h1v1h-1zM17 19h1v1h-1zM27 19h1v1h-1zM2 20h1v1h-1zM18 20h2v1h-2zM1 21h1v1h-1zM0 22h1v1h-1zM17 22h1v1h-1zM2 23h1v1h-1zM19 23h1v1h-1zM17 24h1v1h-1zM23 24h1v1h-1zM26 24h1v1h-1zM20 25h1v1h-1zM22 25h1v1h-1zM1 26h1v1h-1zM17 26h1v1h-1zM2 27h1v1h-1zM15 28h1v1h-1zM20 28h1v1h-1zM27 28h1v1h-1zM1 29h2v1h-2zM19 29h1v1h-1zM24 29h2v1h-2zM6 30h2v1h-2zM1 31h1v1h-1zM0 32h1v1h-1zM15 32h1v1h-1zM22 32h2v1h-2zM19 33h1v1h-1zM27 33h1v1h-1zM1 34h2v1h-2zM27 35h1v1h-1zM18 36h1v1h-1zM26 36h1v1h-1zM18 37h1v1h-1zM25 37h1v1h-1zM6 38h1v1h-1zM2 39h1v1h-1zM4 39h1v1h-1zM9 39h1v1h-1zM9 40h1v1h-1zM20 40h1v1h-1zM17 42h1v1h-1zM25 42h1v1h-1zM7 43h1v1h-1zM17 44h1v1h-1zM23 44h1v1h-1zM18 45h1v1h-1zM0 46h1v1h-1zM21 47h1v1h-1zM27 47h1v1h-1zM2 48h1v1h-1zM17 48h1v1h-1zM5 49h1v1h-1zM21 49h1v1h-1zM5 50h2v1h-2zM15 50h1v1h-1zM17 50h2v1h-2zM21 50h1v1h-1zM15 51h1v1h-1zM20 51h2v1h-2zM19 52h2v1h-2zM0 53h1v1h-1zM6 53h1v1h-1zM27 53h1v1h-1zM0 55h1v1h-1zM19 55h1v1h-1zM0 56h2v1h-2zM26 56h1v1h-1zM9 57h1v1h-1zM15 58h1v1h-1zM18 58h1v1h-1zM23 58h1v1h-1zM0 59h1v1h-1zM6 59h1v1h-1zM2 60h1v1h-1zM6 60h1v1h-1zM19 60h1v1h-1zM23 60h1v1h-1zM0 61h1v1h-1zM3 61h1v1h-1zM17 61h1v1h-1zM4 62h1v1h-1zM5 63h1v1h-1zM8 63h1v1h-1zM4 64h2v1h-2zM20 64h1v1h-1zM5 65h1v1h-1zM8 65h1v1h-1zM17 65h1v1h-1zM19 65h1v1h-1zM0 66h1v1h-1zM5 66h3v1h-3zM17 66h1v1h-1zM19 66h1v1h-1zM25 67h1v1h-1zM0 68h1v1h-1zM25 68h1v1h-1zM2 69h1v1h-1zM5 69h1v1h-1zM8 69h1v1h-1zM18 69h1v1h-1zM22 69h1v1h-1zM17 70h1v1h-1zM3 71h1v1h-1zM25 71h1v1h-1zM20 72h1v1h-1zM27 72h1v1h-1zM8 73h1v1h-1zM20 73h1v1h-1zM25 73h2v1h-2zM4 74h1v1h-1zM15 74h1v1h-1zM19 74h1v1h-1zM4 75h4v1h-4zM17 75h1v1h-1zM22 75h1v1h-1zM6 76h1v1h-1zM7 77h1v1h-1zM19 78h3v1h-3zM20 79h1v1h-1zM8 80h1v1h-1zM18 80h2v1h-2zM26 80h1v1h-1zM19 81h1v1h-1zM0 82h1v1h-1zM7 82h1v1h-1zM15 82h1v1h-1zM6 83h1v1h-1zM20 83h1v1h-1zM23 83h1v1h-1zM25 83h1v1h-1zM5 84h1v1h-1zM23 84h1v1h-1zM6 85h1v1h-1zM19 85h1v1h-1zM2 86h1v1h-1zM2 87h1v1h-1zM15 87h1v1h-1zM20 87h1v1h-1zM23 87h1v1h-1zM17 88h1v1h-1zM20 88h1v1h-1zM23 88h1v1h-1zM17 89h1v1h-1zM0 90h1v1h-1zM6 90h2v1h-2zM15 90h1v1h-1zM22 90h1v1h-1zM26 90h1v1h-1zM2 91h1v1h-1zM26 91h1v1h-1zM0 92h1v1h-1zM18 92h1v1h-1zM20 92h1v1h-1zM22 92h1v1h-1zM15 93h1v1h-1zM18 93h1v1h-1zM2 94h1v1h-1zM18 94h1v1h-1zM27 94h1v1h-1zM27 95h1v1h-1zM26 96h1v1h-1zM15 97h1v1h-1zM22 97h1v1h-1zM3 99h2v1h-2zM22 99h2v1h-2zM20 100h1v1h-1zM24 100h1v1h-1zM8 101h1v1h-1zM5 102h1v1h-1zM6 103h1v1h-1zM25 103h1v1h-1zM1 104h2v1h-2zM5 104h1v1h-1zM25 104h1v1h-1zM2 105h1v1h-1zM24 106h1v1h-1zM16 110h1v1h-1zM25 119h1v1h-1zM25 122h1v1h-1zM27 127h1v1h-1zM17 128h1v1h-1zM27 130h1v1h-1zM20 131h1v1h-1zM21 133h1v1h-1zM26 133h1v1h-1zM26 139h1v1h-1zM12 145h1v1h-1zM16 146h1v1h-1zM22 148h2v1h-2zM23 151h1v1h-1zM15 153h1v1h-1zM4 154h1v1h-1zM7 154h1v1h-1zM25 154h1v1h-1zM5 155h1v1h-1zM20 155h1v1h-1zM25 155h1v1h-1zM17 156h1v1h-1zM20 156h1v1h-1zM4 159h1v1h-1zM24 159h1v1h-1zM18 160h2v1h-2zM25 161h2v1h-2zM1 165h1v1h-1zM17 165h1v1h-1zM4 166h1v1h-1zM26 166h1v1h-1zM2 167h1v1h-1zM4 167h1v1h-1zM18 167h1v1h-1zM20 167h1v1h-1zM0 168h1v1h-1zM15 169h1v1h-1zM2 171h1v1h-1zM23 171h1v1h-1zM22 173h1v1h-1zM15 174h1v1h-1zM25 175h1v1h-1zM6 176h1v1h-1zM0 177h1v1h-1zM16 177h1v1h-1zM19 177h1v1h-1zM27 177h1v1h-1zM7 178h1v1h-1zM22 178h1v1h-1zM16 179h1v1h-1zM5 180h1v1h-1zM26 180h1v1h-1zM3 184h1v1h-1zM3 185h1v1h-1zM6 186h1v1h-1zM8 187h1v1h-1zM3 188h1v1h-1zM6 188h1v1h-1zM6 190h1v1h-1zM23 191h1v1h-1zM0 193h1v1h-1zM3 193h1v1h-1zM16 193h1v1h-1zM5 194h1v1h-1zM15 194h1v1h-1zM3 196h1v1h-1zM5 197h1v1h-1zM15 197h1v1h-1zM17 197h1v1h-1zM20 197h1v1h-1zM7 198h1v1h-1zM16 198h1v1h-1zM20 198h1v1h-1zM19 199h2v1h-2zM22 199h1v1h-1zM26 199h1v1h-1zM5 200h1v1h-1zM18 200h1v1h-1zM6 201h1v1h-1zM21 201h1v1h-1zM2 202h1v1h-1zM4 202h1v1h-1zM7 202h1v1h-1zM21 202h1v1h-1zM1 203h1v1h-1zM6 203h1v1h-1zM2 204h1v1h-1zM6 204h1v1h-1zM2 205h1v1h-1zM11 205h1v1h-1zM16 205h1v1h-1zM25 205h1v1h-1zM17 216h1v1h-1zM17 218h1v1h-1zM16 220h1v1h-1zM17 221h1v1h-1zM18 222h1v1h-1zM19 223h1v1h-1zM3 224h1v1h-1zM16 224h1v1h-1z"/><path fill="#fababa" d="M12 0h1v1h-1zM24 0h1v1h-1zM9 1h1v1h-1zM12 1h1v1h-1zM14 1h1v1h-1zM16 1h1v1h-1zM14 2h1v1h-1zM13 5h1v1h-1zM16 5h1v1h-1zM14 7h1v1h-1zM19 7h1v1h-1zM16 8h1v1h-1zM12 10h2v1h-2zM16 12h1v1h-1zM18 14h1v1h-1zM24 15h1v1h-1zM16 16h1v1h-1zM8 17h1v1h-1zM12 17h1v1h-1zM16 17h1v1h-1zM21 17h1v1h-1zM16 18h1v1h-1zM22 18h2v1h-2zM16 19h1v1h-1zM24 19h1v1h-1zM10 21h1v1h-1zM16 21h1v1h-1zM18 22h1v1h-1zM16 23h1v1h-1zM18 24h1v1h-1zM21 24h1v1h-1zM0 25h2v1h-2zM13 25h1v1h-1zM11 27h1v1h-1zM12 28h1v1h-1zM12 29h1v1h-1zM13 30h1v1h-1zM12 34h1v1h-1zM12 35h1v1h-1zM9 36h1v1h-1zM12 36h1v1h-1zM24 36h1v1h-1zM1 38h1v1h-1zM7 38h1v1h-1zM13 39h1v1h-1zM2 40h1v1h-1zM13 40h1v1h-1zM19 40h1v1h-1zM26 40h2v1h-2zM21 41h1v1h-1zM12 42h1v1h-1zM24 42h1v1h-1zM1 43h1v1h-1zM26 43h1v1h-1zM3 44h1v1h-1zM21 44h1v1h-1zM7 45h1v1h-1zM21 45h1v1h-1zM16 46h1v1h-1zM16 47h1v1h-1zM23 48h1v1h-1zM3 49h1v1h-1zM18 49h1v1h-1zM22 49h1v1h-1zM11 50h1v1h-1zM16 52h1v1h-1zM16 54h1v1h-1zM22 54h1v1h-1zM16 55h1v1h-1zM21 55h1v1h-1zM25 55h1v1h-1zM25 57h1v1h-1zM13 58h1v1h-1zM16 58h1v1h-1zM10 59h1v1h-1zM16 59h1v1h-1zM18 59h1v1h-1zM24 59h1v1h-1zM10 60h1v1h-1zM15 62h1v1h-1zM25 62h1v1h-1zM15 63h1v1h-1zM11 65h1v1h-1zM9 66h2v1h-2zM22 66h1v1h-1zM5 67h1v1h-1zM21 67h1v1h-1zM24 67h1v1h-1zM2 68h1v1h-1zM23 70h1v1h-1zM0 71h3v1h-3zM0 73h1v1h-1zM18 74h1v1h-1zM20 74h1v1h-1zM26 74h1v1h-1zM9 75h2v1h-2zM24 75h1v1h-1zM2 76h1v1h-1zM10 76h1v1h-1zM1 77h2v1h-2zM19 77h1v1h-1zM13 80h1v1h-1zM24 80h1v1h-1zM16 81h1v1h-1zM25 81h1v1h-1zM12 83h1v1h-1zM14 83h1v1h-1zM9 84h1v1h-1zM16 84h1v1h-1zM21 84h1v1h-1zM19 87h1v1h-1zM11 91h1v1h-1zM21 91h1v1h-1zM6 94h1v1h-1zM19 94h1v1h-1zM21 94h1v1h-1zM16 98h1v1h-1zM7 99h1v1h-1zM19 101h1v1h-1zM22 101h1v1h-1zM24 101h1v1h-1zM9 102h1v1h-1zM20 103h1v1h-1zM24 104h1v1h-1zM15 105h2v1h-2zM19 106h1v1h-1zM9 107h1v1h-1zM21 110h1v1h-1zM26 110h2v1h-2zM16 111h1v1h-1zM26 111h1v1h-1zM24 115h1v1h-1zM6 116h1v1h-1zM3 117h1v1h-1zM6 117h1v1h-1zM18 117h2v1h-2zM20 118h1v1h-1zM25 118h1v1h-1zM2 119h1v1h-1zM7 119h1v1h-1zM22 120h1v1h-1zM27 121h1v1h-1zM2 124h1v1h-1zM7 124h1v1h-1zM25 125h1v1h-1zM18 127h1v1h-1zM21 127h3v1h-3zM17 129h1v1h-1zM17 130h1v1h-1zM2 131h1v1h-1zM17 131h1v1h-1zM19 132h1v1h-1zM18 133h2v1h-2zM22 133h1v1h-1zM3 134h1v1h-1zM15 134h1v1h-1zM18 134h1v1h-1zM21 134h1v1h-1zM15 135h1v1h-1zM19 135h1v1h-1zM3 138h1v1h-1zM18 138h1v1h-1zM1 139h1v1h-1zM16 139h1v1h-1zM18 139h1v1h-1zM27 139h1v1h-1zM17 141h1v1h-1zM10 142h2v1h-2zM13 142h1v1h-1zM15 143h2v1h-2zM21 144h1v1h-1zM14 145h1v1h-1zM19 146h1v1h-1zM26 147h1v1h-1zM4 148h1v1h-1zM17 151h2v1h-2zM2 153h1v1h-1zM6 153h1v1h-1zM21 155h1v1h-1zM25 158h1v1h-1zM6 159h1v1h-1zM22 159h1v1h-1zM2 160h1v1h-1zM20 161h1v1h-1zM27 161h1v1h-1zM13 162h1v1h-1zM18 162h1v1h-1zM14 164h1v1h-1zM16 165h1v1h-1zM24 165h1v1h-1zM1 166h1v1h-1zM8 166h1v1h-1zM22 166h1v1h-1zM15 167h2v1h-2zM21 167h1v1h-1zM12 168h1v1h-1zM17 168h1v1h-1zM20 168h2v1h-2zM17 169h1v1h-1zM5 170h1v1h-1zM19 170h2v1h-2zM20 171h1v1h-1zM19 172h1v1h-1zM26 172h1v1h-1zM1 173h1v1h-1zM6 173h1v1h-1zM4 174h1v1h-1zM7 174h1v1h-1zM23 174h2v1h-2zM17 175h1v1h-1zM1 177h1v1h-1zM21 177h1v1h-1zM15 178h1v1h-1zM18 178h1v1h-1zM20 178h1v1h-1zM23 178h1v1h-1zM8 179h1v1h-1zM15 179h1v1h-1zM27 179h1v1h-1zM0 180h1v1h-1zM2 180h1v1h-1zM4 180h1v1h-1zM24 180h1v1h-1zM7 181h2v1h-2zM19 181h1v1h-1zM25 181h2v1h-2zM17 184h1v1h-1zM0 185h1v1h-1zM17 186h1v1h-1zM19 186h2v1h-2zM2 187h1v1h-1zM2 189h1v1h-1zM20 189h2v1h-2zM23 189h1v1h-1zM18 190h1v1h-1zM27 190h1v1h-1zM5 191h1v1h-1zM21 191h1v1h-1zM24 191h1v1h-1zM17 192h1v1h-1zM22 192h1v1h-1zM7 193h1v1h-1zM20 193h1v1h-1zM1 194h1v1h-1zM11 194h1v1h-1zM23 194h3v1h-3zM0 195h1v1h-1zM8 195h1v1h-1zM17 195h1v1h-1zM18 197h1v1h-1zM21 197h1v1h-1zM24 197h1v1h-1zM5 199h2v1h-2zM8 199h2v1h-2zM17 199h1v1h-1zM21 199h1v1h-1zM8 200h1v1h-1zM4 201h2v1h-2zM15 201h2v1h-2zM8 202h1v1h-1zM16 202h1v1h-1zM19 202h1v1h-1zM20 203h1v1h-1zM10 204h1v1h-1zM18 204h1v1h-1zM21 205h1v1h-1zM6 206h1v1h-1zM15 206h1v1h-1zM5 207h1v1h-1zM12 207h1v1h-1zM17 207h1v1h-1zM25 207h1v1h-1zM27 207h1v1h-1zM8 208h1v1h-1zM5 209h1v1h-1zM0 210h1v1h-1zM4 210h1v1h-1zM3 211h2v1h-2zM6 211h1v1h-1zM18 211h1v1h-1zM27 211h1v1h-1zM1 213h1v1h-1zM3 213h2v1h-2zM2 214h1v1h-1zM26 214h1v1h-1zM2 216h1v1h-1zM25 216h2v1h-2zM26 218h1v1h-1zM15 219h1v1h-1zM0 220h1v1h-1zM25 220h2v1h-2zM0 221h1v1h-1zM1 223h1v1h-1zM15 223h1v1h-1zM25 223h1v1h-1zM1 224h1v1h-1zM8 224h1v1h-1z"/><path fill="#f7f0f5" d="M13 0h1v1h-1zM13 8h1v1h-1zM9 12h1v1h-1zM13 13h1v1h-1zM13 14h1v1h-1zM11 15h1v1h-1zM14 21h1v1h-1zM14 22h1v1h-1zM10 28h1v1h-1zM1 30h1v1h-1zM14 31h1v1h-1zM13 34h1v1h-1zM16 36h1v1h-1zM22 37h1v1h-1zM9 38h1v1h-1zM6 41h1v1h-1zM23 43h2v1h-2zM1 44h1v1h-1zM12 44h1v1h-1zM13 45h1v1h-1zM12 47h1v1h-1zM14 51h1v1h-1zM21 54h1v1h-1zM13 55h1v1h-1zM10 58h1v1h-1zM9 60h1v1h-1zM10 62h1v1h-1zM9 65h1v1h-1zM12 66h1v1h-1zM9 67h1v1h-1zM9 68h1v1h-1zM14 69h1v1h-1zM9 70h1v1h-1zM2 72h1v1h-1zM12 72h1v1h-1zM0 74h2v1h-2zM14 76h1v1h-1zM21 76h1v1h-1zM14 77h1v1h-1zM13 79h1v1h-1zM2 81h1v1h-1zM12 81h1v1h-1zM12 82h1v1h-1zM9 85h1v1h-1zM18 86h1v1h-1zM21 87h1v1h-1zM10 89h1v1h-1zM2 90h1v1h-1zM13 91h1v1h-1zM11 92h1v1h-1zM24 93h1v1h-1zM12 94h1v1h-1zM12 96h1v1h-1zM9 100h1v1h-1zM0 102h2v1h-2zM24 102h1v1h-1zM10 103h1v1h-1zM6 107h1v1h-1zM15 108h1v1h-1zM20 108h1v1h-1zM15 110h1v1h-1zM18 112h1v1h-1zM25 112h1v1h-1zM26 113h1v1h-1zM19 114h1v1h-1zM27 114h1v1h-1zM15 116h1v1h-1zM16 117h2v1h-2zM20 117h1v1h-1zM21 119h1v1h-1zM15 120h1v1h-1zM3 121h1v1h-1zM20 122h1v1h-1zM4 123h1v1h-1zM17 123h1v1h-1zM1 124h1v1h-1zM12 124h1v1h-1zM20 126h1v1h-1zM2 127h1v1h-1zM24 127h1v1h-1zM18 128h1v1h-1zM3 129h1v1h-1zM24 129h1v1h-1zM6 130h1v1h-1zM22 130h1v1h-1zM18 131h1v1h-1zM24 131h1v1h-1zM16 132h1v1h-1zM26 132h1v1h-1zM22 134h1v1h-1zM26 134h1v1h-1zM4 135h1v1h-1zM4 136h1v1h-1zM25 136h1v1h-1zM15 137h1v1h-1zM18 137h1v1h-1zM24 137h1v1h-1zM26 137h1v1h-1zM5 139h1v1h-1zM24 140h1v1h-1zM18 141h1v1h-1zM20 141h1v1h-1zM25 141h1v1h-1zM12 142h1v1h-1zM27 142h1v1h-1zM21 143h1v1h-1zM24 149h1v1h-1zM10 150h1v1h-1zM3 151h1v1h-1zM5 151h1v1h-1zM4 152h1v1h-1zM19 154h1v1h-1zM1 155h1v1h-1zM14 159h1v1h-1zM10 160h1v1h-1zM9 163h1v1h-1zM22 163h1v1h-1zM21 164h1v1h-1zM23 164h2v1h-2zM11 165h2v1h-2zM24 168h1v1h-1zM6 170h1v1h-1zM8 172h1v1h-1zM16 174h1v1h-1zM16 175h1v1h-1zM24 175h1v1h-1zM10 176h1v1h-1zM17 176h1v1h-1zM23 177h1v1h-1zM23 180h1v1h-1zM17 181h1v1h-1zM21 181h1v1h-1zM26 182h1v1h-1zM20 183h1v1h-1zM25 184h1v1h-1zM15 185h1v1h-1zM16 186h1v1h-1zM25 186h1v1h-1zM5 187h1v1h-1zM11 187h1v1h-1zM11 191h1v1h-1zM12 192h1v1h-1zM11 193h1v1h-1zM13 193h1v1h-1zM10 195h1v1h-1zM5 202h1v1h-1zM23 202h1v1h-1zM24 204h1v1h-1zM9 206h1v1h-1zM23 206h1v1h-1zM0 209h1v1h-1zM17 210h1v1h-1zM20 210h1v1h-1zM21 211h2v1h-2zM10 213h1v1h-1zM15 214h1v1h-1zM21 214h1v1h-1zM25 214h1v1h-1zM7 215h1v1h-1zM10 216h1v1h-1zM13 216h1v1h-1zM24 216h1v1h-1zM18 217h1v1h-1zM26 217h1v1h-1zM10 218h1v1h-1zM9 219h2v1h-2zM16 219h1v1h-1zM7 221h1v1h-1zM23 221h1v1h-1zM26 221h1v1h-1zM16 222h1v1h-1zM26 222h1v1h-1zM10 223h1v1h-1zM10 224h1v1h-1z"/><path fill="#fbd0d0" d="M14 0h1v1h-1zM16 0h1v1h-1zM27 0h1v1h-1zM13 1h1v1h-1zM10 3h1v1h-1zM14 3h1v1h-1zM13 4h2v1h-2zM17 5h1v1h-1zM19 6h1v1h-1zM12 8h1v1h-1zM14 8h1v1h-1zM9 9h1v1h-1zM14 10h1v1h-1zM16 11h1v1h-1zM13 12h1v1h-1zM16 13h1v1h-1zM24 13h1v1h-1zM11 16h1v1h-1zM2 17h1v1h-1zM24 18h1v1h-1zM11 19h1v1h-1zM10 22h1v1h-1zM23 22h1v1h-1zM1 24h1v1h-1zM13 24h1v1h-1zM19 24h1v1h-1zM2 25h1v1h-1zM27 25h1v1h-1zM9 26h1v1h-1zM16 27h1v1h-1zM16 28h1v1h-1zM8 30h1v1h-1zM16 31h1v1h-1zM12 32h1v1h-1zM16 32h1v1h-1zM21 34h2v1h-2zM24 35h1v1h-1zM22 36h1v1h-1zM22 38h1v1h-1zM25 38h1v1h-1zM24 41h2v1h-2zM11 42h1v1h-1zM0 43h1v1h-1zM4 43h1v1h-1zM10 43h1v1h-1zM21 43h2v1h-2zM27 43h1v1h-1zM10 44h1v1h-1zM11 46h1v1h-1zM11 47h1v1h-1zM10 48h1v1h-1zM16 48h1v1h-1zM19 48h1v1h-1zM21 48h1v1h-1zM10 51h1v1h-1zM19 51h1v1h-1zM24 51h1v1h-1zM19 53h1v1h-1zM1 54h2v1h-2zM9 54h1v1h-1zM27 54h1v1h-1zM2 55h1v1h-1zM8 55h1v1h-1zM11 55h1v1h-1zM9 56h1v1h-1zM20 57h1v1h-1zM24 57h1v1h-1zM14 60h1v1h-1zM18 60h1v1h-1zM12 61h1v1h-1zM24 61h1v1h-1zM1 62h1v1h-1zM11 62h1v1h-1zM20 63h2v1h-2zM23 63h1v1h-1zM26 63h2v1h-2zM16 64h1v1h-1zM26 64h1v1h-1zM14 65h1v1h-1zM11 66h1v1h-1zM27 66h1v1h-1zM1 68h1v1h-1zM21 68h1v1h-1zM6 70h1v1h-1zM8 70h1v1h-1zM21 70h1v1h-1zM11 71h1v1h-1zM13 71h1v1h-1zM24 71h1v1h-1zM9 72h1v1h-1zM16 72h1v1h-1zM21 72h2v1h-2zM2 73h1v1h-1zM2 74h1v1h-1zM21 74h1v1h-1zM23 74h1v1h-1zM2 75h1v1h-1zM8 75h1v1h-1zM23 75h1v1h-1zM9 79h1v1h-1zM10 80h1v1h-1zM8 81h3v1h-3zM21 82h1v1h-1zM13 83h1v1h-1zM21 83h1v1h-1zM16 85h1v1h-1zM21 85h1v1h-1zM20 86h1v1h-1zM11 87h1v1h-1zM16 87h1v1h-1zM27 87h1v1h-1zM16 89h1v1h-1zM21 90h1v1h-1zM12 93h1v1h-1zM21 95h1v1h-1zM16 96h1v1h-1zM19 97h1v1h-1zM21 98h1v1h-1zM24 98h1v1h-1zM24 99h1v1h-1zM15 100h1v1h-1zM21 100h1v1h-1zM18 104h1v1h-1zM1 105h1v1h-1zM12 105h1v1h-1zM18 105h1v1h-1zM12 106h1v1h-1zM21 109h1v1h-1zM23 110h1v1h-1zM21 112h1v1h-1zM17 116h1v1h-1zM4 117h2v1h-2zM22 117h1v1h-1zM3 118h1v1h-1zM5 118h1v1h-1zM4 119h1v1h-1zM27 119h1v1h-1zM4 120h1v1h-1zM16 121h1v1h-1zM24 121h1v1h-1zM19 122h1v1h-1zM21 122h1v1h-1zM23 122h1v1h-1zM21 124h1v1h-1zM17 125h1v1h-1zM19 127h1v1h-1zM26 127h1v1h-1zM2 129h1v1h-1zM12 129h1v1h-1zM18 129h1v1h-1zM22 129h1v1h-1zM4 131h1v1h-1zM15 131h1v1h-1zM15 132h1v1h-1zM2 134h1v1h-1zM4 134h2v1h-2zM5 135h1v1h-1zM20 135h1v1h-1zM20 136h1v1h-1zM26 136h1v1h-1zM0 137h1v1h-1zM26 138h1v1h-1zM19 139h1v1h-1zM22 141h2v1h-2zM17 142h1v1h-1zM22 142h1v1h-1zM5 144h1v1h-1zM27 146h1v1h-1zM8 147h1v1h-1zM16 147h1v1h-1zM17 149h1v1h-1zM27 149h1v1h-1zM4 151h1v1h-1zM1 153h1v1h-1zM3 153h2v1h-2zM21 153h1v1h-1zM17 154h2v1h-2zM24 155h1v1h-1zM6 156h1v1h-1zM16 156h1v1h-1zM27 156h1v1h-1zM16 157h1v1h-1zM20 158h1v1h-1zM0 160h1v1h-1zM15 161h1v1h-1zM5 162h1v1h-1zM8 162h1v1h-1zM15 162h1v1h-1zM21 162h1v1h-1zM11 163h1v1h-1zM15 165h1v1h-1zM6 166h1v1h-1zM0 167h1v1h-1zM6 167h1v1h-1zM11 167h1v1h-1zM19 167h1v1h-1zM5 169h1v1h-1zM16 169h1v1h-1zM19 169h1v1h-1zM3 170h1v1h-1zM16 170h2v1h-2zM24 170h1v1h-1zM14 171h1v1h-1zM17 171h1v1h-1zM25 171h1v1h-1zM6 172h1v1h-1zM15 172h1v1h-1zM22 172h1v1h-1zM15 173h1v1h-1zM23 173h1v1h-1zM6 174h1v1h-1zM21 174h1v1h-1zM0 175h1v1h-1zM7 175h1v1h-1zM1 176h1v1h-1zM6 177h1v1h-1zM15 177h1v1h-1zM24 177h1v1h-1zM0 178h1v1h-1zM5 178h1v1h-1zM1 179h1v1h-1zM18 179h3v1h-3zM16 180h1v1h-1zM21 180h1v1h-1zM27 180h1v1h-1zM5 181h1v1h-1zM16 181h1v1h-1zM19 183h1v1h-1zM21 183h2v1h-2zM19 184h1v1h-1zM1 185h1v1h-1zM11 186h1v1h-1zM19 187h1v1h-1zM1 188h1v1h-1zM8 188h1v1h-1zM18 188h1v1h-1zM22 189h1v1h-1zM4 190h1v1h-1zM23 190h1v1h-1zM0 191h1v1h-1zM3 191h1v1h-1zM6 191h1v1h-1zM15 191h2v1h-2zM25 191h1v1h-1zM3 192h1v1h-1zM15 192h1v1h-1zM22 193h1v1h-1zM2 194h1v1h-1zM17 194h1v1h-1zM21 194h1v1h-1zM2 195h1v1h-1zM7 195h1v1h-1zM2 196h1v1h-1zM15 196h1v1h-1zM7 197h2v1h-2zM19 197h1v1h-1zM15 198h1v1h-1zM0 199h1v1h-1zM15 199h1v1h-1zM16 200h1v1h-1zM27 200h1v1h-1zM18 201h1v1h-1zM22 201h1v1h-1zM24 201h1v1h-1zM24 202h1v1h-1zM8 203h1v1h-1zM15 205h1v1h-1zM19 205h1v1h-1zM7 206h1v1h-1zM22 207h1v1h-1zM1 208h1v1h-1zM5 208h1v1h-1zM20 208h1v1h-1zM6 209h1v1h-1zM1 210h1v1h-1zM7 210h1v1h-1zM7 211h1v1h-1zM23 212h1v1h-1zM11 214h1v1h-1zM1 215h1v1h-1zM0 216h1v1h-1zM15 216h1v1h-1zM17 217h1v1h-1zM19 217h2v1h-2zM7 218h2v1h-2zM23 218h1v1h-1zM27 218h1v1h-1zM2 219h1v1h-1zM25 219h1v1h-1zM1 220h2v1h-2zM6 220h1v1h-1zM15 220h1v1h-1zM20 220h1v1h-1zM8 221h1v1h-1zM8 222h1v1h-1zM25 222h1v1h-1zM3 223h1v1h-1zM16 223h1v1h-1zM18 223h1v1h-1zM22 223h1v1h-1zM27 223h1v1h-1zM4 224h1v1h-1zM11 224h1v1h-1zM17 224h1v1h-1z"/><path fill="#f68686" d="M15 0h1v1h-1zM18 0h1v1h-1zM19 1h1v1h-1zM2 2h1v1h-1zM15 2h1v1h-1zM17 2h1v1h-1zM20 2h1v1h-1zM0 3h1v1h-1zM17 3h1v1h-1zM19 3h1v1h-1zM1 4h1v1h-1zM11 4h1v1h-1zM24 4h1v1h-1zM10 5h1v1h-1zM27 5h1v1h-1zM22 8h1v1h-1zM24 8h1v1h-1zM2 9h1v1h-1zM21 9h1v1h-1zM23 10h1v1h-1zM18 12h1v1h-1zM18 13h1v1h-1zM23 13h1v1h-1zM15 15h1v1h-1zM19 15h1v1h-1zM1 16h1v1h-1zM8 16h1v1h-1zM17 16h1v1h-1zM19 16h1v1h-1zM23 17h1v1h-1zM1 18h1v1h-1zM15 18h1v1h-1zM19 18h2v1h-2zM18 19h1v1h-1zM20 19h2v1h-2zM1 20h1v1h-1zM23 20h1v1h-1zM0 21h1v1h-1zM2 21h1v1h-1zM17 21h1v1h-1zM19 21h1v1h-1zM15 22h1v1h-1zM19 22h2v1h-2zM1 23h1v1h-1zM15 23h1v1h-1zM23 23h1v1h-1zM25 23h2v1h-2zM2 24h1v1h-1zM5 24h1v1h-1zM15 24h1v1h-1zM20 24h1v1h-1zM24 24h1v1h-1zM3 25h1v1h-1zM6 25h1v1h-1zM18 25h2v1h-2zM0 26h1v1h-1zM20 26h2v1h-2zM19 27h1v1h-1zM0 28h1v1h-1zM17 28h2v1h-2zM21 28h1v1h-1zM23 28h2v1h-2zM27 29h1v1h-1zM15 30h1v1h-1zM23 30h1v1h-1zM17 31h1v1h-1zM23 31h1v1h-1zM2 32h1v1h-1zM17 32h1v1h-1zM10 33h1v1h-1zM9 34h1v1h-1zM15 34h1v1h-1zM17 34h1v1h-1zM0 35h1v1h-1zM2 35h1v1h-1zM7 35h1v1h-1zM19 35h2v1h-2zM25 35h1v1h-1zM4 36h1v1h-1zM6 36h2v1h-2zM20 36h1v1h-1zM25 36h1v1h-1zM20 37h1v1h-1zM3 38h1v1h-1zM11 38h1v1h-1zM20 38h1v1h-1zM26 38h1v1h-1zM11 39h1v1h-1zM20 39h1v1h-1zM22 39h1v1h-1zM27 39h1v1h-1zM17 40h1v1h-1zM26 41h1v1h-1zM22 42h2v1h-2zM15 43h1v1h-1zM18 44h1v1h-1zM25 44h2v1h-2zM23 45h1v1h-1zM26 45h2v1h-2zM1 46h1v1h-1zM19 46h1v1h-1zM21 46h3v1h-3zM0 47h1v1h-1zM2 47h1v1h-1zM22 47h1v1h-1zM2 49h1v1h-1zM15 49h1v1h-1zM25 49h1v1h-1zM7 50h2v1h-2zM19 50h1v1h-1zM22 50h1v1h-1zM2 51h1v1h-1zM22 51h1v1h-1zM22 52h1v1h-1zM27 52h1v1h-1zM5 53h1v1h-1zM18 53h1v1h-1zM21 53h1v1h-1zM23 53h1v1h-1zM20 54h1v1h-1zM6 55h1v1h-1zM15 55h1v1h-1zM18 55h1v1h-1zM20 55h1v1h-1zM15 56h1v1h-1zM1 58h1v1h-1zM17 58h1v1h-1zM15 59h1v1h-1zM20 59h1v1h-1zM27 59h1v1h-1zM4 60h1v1h-1zM1 61h1v1h-1zM15 61h1v1h-1zM21 61h1v1h-1zM23 61h1v1h-1zM25 61h3v1h-3zM4 63h1v1h-1zM7 63h1v1h-1zM25 63h1v1h-1zM6 64h1v1h-1zM8 64h1v1h-1zM19 64h1v1h-1zM27 64h1v1h-1zM0 65h1v1h-1zM20 65h1v1h-1zM27 65h1v1h-1zM4 67h1v1h-1zM15 68h1v1h-1zM17 68h1v1h-1zM19 68h2v1h-2zM1 69h1v1h-1zM6 69h1v1h-1zM19 69h1v1h-1zM25 69h1v1h-1zM19 70h1v1h-1zM27 70h1v1h-1zM21 71h1v1h-1zM27 71h1v1h-1zM6 72h1v1h-1zM26 72h1v1h-1zM23 73h1v1h-1zM3 74h1v1h-1zM7 74h1v1h-1zM15 75h1v1h-1zM19 75h1v1h-1zM21 75h1v1h-1zM3 76h2v1h-2zM17 76h1v1h-1zM20 76h1v1h-1zM15 77h1v1h-1zM17 77h1v1h-1zM8 78h1v1h-1zM18 78h1v1h-1zM22 78h2v1h-2zM27 78h1v1h-1zM0 79h1v1h-1zM27 79h1v1h-1zM0 80h1v1h-1zM15 80h1v1h-1zM20 80h1v1h-1zM15 81h1v1h-1zM17 81h1v1h-1zM20 82h1v1h-1zM15 83h1v1h-1zM17 83h2v1h-2zM4 84h1v1h-1zM18 84h1v1h-1zM22 84h1v1h-1zM26 84h1v1h-1zM15 85h1v1h-1zM22 85h1v1h-1zM17 87h1v1h-1zM22 87h1v1h-1zM1 88h1v1h-1zM26 88h2v1h-2zM22 89h1v1h-1zM27 89h1v1h-1zM19 90h1v1h-1zM27 90h1v1h-1zM3 91h5v1h-5zM22 91h1v1h-1zM25 91h1v1h-1zM8 92h1v1h-1zM15 92h1v1h-1zM1 93h1v1h-1zM8 93h1v1h-1zM20 93h1v1h-1zM22 93h1v1h-1zM15 94h1v1h-1zM20 94h1v1h-1zM22 94h1v1h-1zM4 95h1v1h-1zM19 95h1v1h-1zM0 96h2v1h-2zM7 96h1v1h-1zM22 96h2v1h-2zM15 98h1v1h-1zM19 98h1v1h-1zM6 99h1v1h-1zM0 100h1v1h-1zM7 102h1v1h-1zM22 102h1v1h-1zM27 102h1v1h-1zM23 103h1v1h-1zM15 104h1v1h-1zM20 104h1v1h-1zM26 104h1v1h-1zM19 105h1v1h-1zM15 106h1v1h-1zM17 109h2v1h-2zM17 110h1v1h-1zM25 110h1v1h-1zM6 118h1v1h-1zM18 118h1v1h-1zM27 118h1v1h-1zM18 119h1v1h-1zM24 119h1v1h-1zM23 129h1v1h-1zM25 129h1v1h-1zM27 129h1v1h-1zM22 131h1v1h-1zM25 131h1v1h-1zM23 139h1v1h-1zM25 139h1v1h-1zM5 140h1v1h-1zM26 142h1v1h-1zM8 144h1v1h-1zM20 145h1v1h-1zM17 146h1v1h-1zM20 146h1v1h-1zM21 147h1v1h-1zM24 147h1v1h-1zM26 149h1v1h-1zM17 150h2v1h-2zM21 150h1v1h-1zM19 153h1v1h-1zM2 154h2v1h-2zM0 155h1v1h-1zM17 155h1v1h-1zM23 155h1v1h-1zM2 156h1v1h-1zM4 156h1v1h-1zM21 156h1v1h-1zM23 156h1v1h-1zM25 156h1v1h-1zM0 157h1v1h-1zM2 157h1v1h-1zM20 157h1v1h-1zM0 158h1v1h-1zM17 158h1v1h-1zM2 159h2v1h-2zM23 159h1v1h-1zM25 162h1v1h-1zM27 162h1v1h-1zM15 163h1v1h-1zM18 163h1v1h-1zM27 164h1v1h-1zM2 165h1v1h-1zM20 165h1v1h-1zM0 166h1v1h-1zM3 166h1v1h-1zM5 166h1v1h-1zM15 166h1v1h-1zM18 166h2v1h-2zM23 167h1v1h-1zM2 168h1v1h-1zM4 168h1v1h-1zM0 169h1v1h-1zM18 170h1v1h-1zM16 171h1v1h-1zM18 171h1v1h-1zM5 173h1v1h-1zM16 173h1v1h-1zM0 174h1v1h-1zM2 174h1v1h-1zM17 174h4v1h-4zM3 175h1v1h-1zM18 175h1v1h-1zM22 175h1v1h-1zM7 177h1v1h-1zM17 178h1v1h-1zM25 178h2v1h-2zM26 179h1v1h-1zM17 180h2v1h-2zM22 180h1v1h-1zM3 181h1v1h-1zM4 183h1v1h-1zM6 183h1v1h-1zM6 185h1v1h-1zM2 186h1v1h-1zM7 186h2v1h-2zM18 186h1v1h-1zM17 188h1v1h-1zM6 189h2v1h-2zM19 190h1v1h-1zM1 193h1v1h-1zM5 193h1v1h-1zM18 193h1v1h-1zM26 193h1v1h-1zM19 194h1v1h-1zM2 197h1v1h-1zM17 198h1v1h-1zM22 198h2v1h-2zM27 198h1v1h-1zM16 199h1v1h-1zM4 200h1v1h-1zM19 200h2v1h-2zM3 201h1v1h-1zM7 201h1v1h-1zM25 201h1v1h-1zM18 202h1v1h-1zM20 202h1v1h-1zM22 202h1v1h-1zM7 204h1v1h-1zM20 204h1v1h-1zM17 206h1v1h-1zM19 206h1v1h-1zM25 206h1v1h-1zM27 206h1v1h-1zM21 209h1v1h-1zM2 218h1v1h-1zM19 218h1v1h-1zM18 219h2v1h-2zM3 220h1v1h-1zM19 220h1v1h-1zM20 221h1v1h-1zM4 222h1v1h-1zM20 224h1v1h-1zM24 224h1v1h-1zM27 224h1v1h-1z"/><path fill="#f78e8e" d="M17 0h1v1h-1zM19 0h1v1h-1zM22 0h1v1h-1zM2 1h1v1h-1zM15 1h1v1h-1zM23 1h1v1h-1zM1 3h1v1h-1zM20 3h1v1h-1zM10 4h1v1h-1zM17 4h1v1h-1zM23 4h1v1h-1zM0 5h2v1h-2zM9 5h1v1h-1zM21 7h1v1h-1zM0 8h1v1h-1zM10 8h1v1h-1zM15 8h1v1h-1zM17 8h1v1h-1zM20 8h2v1h-2zM23 8h1v1h-1zM0 9h1v1h-1zM10 9h1v1h-1zM19 12h1v1h-1zM22 12h1v1h-1zM17 13h1v1h-1zM19 14h1v1h-1zM17 15h1v1h-1zM20 15h1v1h-1zM23 15h1v1h-1zM0 16h1v1h-1zM17 17h1v1h-1zM27 18h1v1h-1zM6 19h1v1h-1zM15 19h1v1h-1zM22 19h2v1h-2zM11 20h1v1h-1zM20 20h1v1h-1zM15 21h1v1h-1zM18 21h1v1h-1zM27 21h1v1h-1zM5 22h1v1h-1zM27 22h1v1h-1zM17 23h1v1h-1zM20 23h1v1h-1zM22 23h1v1h-1zM0 24h1v1h-1zM3 24h1v1h-1zM15 25h1v1h-1zM2 26h1v1h-1zM15 26h1v1h-1zM0 27h1v1h-1zM15 27h1v1h-1zM23 27h2v1h-2zM19 28h1v1h-1zM22 28h1v1h-1zM4 29h1v1h-1zM15 29h1v1h-1zM21 29h1v1h-1zM23 29h1v1h-1zM4 30h1v1h-1zM21 30h1v1h-1zM19 31h1v1h-1zM19 32h1v1h-1zM27 32h1v1h-1zM1 33h1v1h-1zM9 33h1v1h-1zM17 33h1v1h-1zM20 33h1v1h-1zM0 34h1v1h-1zM23 34h1v1h-1zM25 34h1v1h-1zM9 35h1v1h-1zM17 35h1v1h-1zM1 36h1v1h-1zM8 36h1v1h-1zM15 36h1v1h-1zM8 37h1v1h-1zM11 37h1v1h-1zM26 37h1v1h-1zM10 38h1v1h-1zM17 38h1v1h-1zM0 39h2v1h-2zM21 39h1v1h-1zM4 40h1v1h-1zM8 40h1v1h-1zM11 40h1v1h-1zM5 41h1v1h-1zM22 41h1v1h-1zM18 42h2v1h-2zM26 42h1v1h-1zM1 45h1v1h-1zM15 45h1v1h-1zM19 45h1v1h-1zM15 47h1v1h-1zM20 47h1v1h-1zM23 47h1v1h-1zM5 48h1v1h-1zM20 48h1v1h-1zM22 48h1v1h-1zM20 50h1v1h-1zM23 51h1v1h-1zM27 51h1v1h-1zM0 52h1v1h-1zM23 52h1v1h-1zM25 52h1v1h-1zM1 53h2v1h-2zM22 53h1v1h-1zM8 54h1v1h-1zM18 54h1v1h-1zM7 55h1v1h-1zM2 56h1v1h-1zM6 56h1v1h-1zM25 56h1v1h-1zM21 57h1v1h-1zM0 58h1v1h-1zM19 58h3v1h-3zM24 58h1v1h-1zM2 59h1v1h-1zM11 59h1v1h-1zM1 60h1v1h-1zM24 60h1v1h-1zM2 61h1v1h-1zM18 61h1v1h-1zM3 62h1v1h-1zM6 62h1v1h-1zM2 63h1v1h-1zM2 64h1v1h-1zM7 64h1v1h-1zM18 64h1v1h-1zM6 65h1v1h-1zM21 65h1v1h-1zM15 66h1v1h-1zM6 67h1v1h-1zM8 67h1v1h-1zM4 68h1v1h-1zM7 68h1v1h-1zM26 68h1v1h-1zM3 69h2v1h-2zM23 69h1v1h-1zM26 69h1v1h-1zM22 70h1v1h-1zM5 71h1v1h-1zM8 71h1v1h-1zM17 71h1v1h-1zM23 71h1v1h-1zM8 72h1v1h-1zM18 72h2v1h-2zM6 73h1v1h-1zM15 73h1v1h-1zM18 73h1v1h-1zM27 73h1v1h-1zM8 74h1v1h-1zM3 75h1v1h-1zM20 75h1v1h-1zM11 76h1v1h-1zM8 77h1v1h-1zM18 77h1v1h-1zM22 77h1v1h-1zM24 77h1v1h-1zM7 78h1v1h-1zM17 78h1v1h-1zM2 80h1v1h-1zM7 80h1v1h-1zM18 81h1v1h-1zM22 81h2v1h-2zM1 82h2v1h-2zM8 82h1v1h-1zM19 82h1v1h-1zM3 83h1v1h-1zM19 83h1v1h-1zM0 84h1v1h-1zM17 84h1v1h-1zM0 85h1v1h-1zM7 85h1v1h-1zM17 85h1v1h-1zM20 85h1v1h-1zM6 86h1v1h-1zM15 88h1v1h-1zM19 88h1v1h-1zM22 88h1v1h-1zM2 89h1v1h-1zM15 89h1v1h-1zM23 89h1v1h-1zM26 89h1v1h-1zM3 90h1v1h-1zM20 90h1v1h-1zM23 90h1v1h-1zM17 91h1v1h-1zM20 91h1v1h-1zM1 92h1v1h-1zM4 92h1v1h-1zM26 92h1v1h-1zM17 93h1v1h-1zM23 93h1v1h-1zM27 93h1v1h-1zM4 94h2v1h-2zM7 94h2v1h-2zM25 94h2v1h-2zM1 95h1v1h-1zM15 95h1v1h-1zM17 95h1v1h-1zM20 95h1v1h-1zM3 96h1v1h-1zM15 96h1v1h-1zM17 96h1v1h-1zM20 96h1v1h-1zM27 96h1v1h-1zM23 97h1v1h-1zM20 98h1v1h-1zM5 99h1v1h-1zM8 99h1v1h-1zM19 99h1v1h-1zM25 99h1v1h-1zM17 100h1v1h-1zM1 101h2v1h-2zM23 101h1v1h-1zM25 101h2v1h-2zM3 102h2v1h-2zM8 102h1v1h-1zM17 102h1v1h-1zM23 102h1v1h-1zM26 102h1v1h-1zM2 103h1v1h-1zM5 103h1v1h-1zM7 103h1v1h-1zM17 103h1v1h-1zM27 103h1v1h-1zM0 104h1v1h-1zM18 106h1v1h-1zM18 111h1v1h-1zM25 111h1v1h-1zM17 127h1v1h-1zM20 128h1v1h-1zM5 129h1v1h-1zM25 130h1v1h-1zM21 131h1v1h-1zM23 133h1v1h-1zM18 135h1v1h-1zM26 135h1v1h-1zM6 137h1v1h-1zM12 137h1v1h-1zM15 139h1v1h-1zM17 139h1v1h-1zM6 140h1v1h-1zM6 144h1v1h-1zM18 145h1v1h-1zM22 146h1v1h-1zM15 149h1v1h-1zM20 149h1v1h-1zM27 150h1v1h-1zM17 153h1v1h-1zM5 154h1v1h-1zM16 154h1v1h-1zM26 154h1v1h-1zM26 155h1v1h-1zM26 156h1v1h-1zM19 157h1v1h-1zM22 157h1v1h-1zM2 158h1v1h-1zM16 159h1v1h-1zM15 160h1v1h-1zM17 161h1v1h-1zM22 162h1v1h-1zM4 163h1v1h-1zM19 163h2v1h-2zM4 164h1v1h-1zM4 165h1v1h-1zM21 165h2v1h-2zM27 165h1v1h-1zM5 167h1v1h-1zM19 168h1v1h-1zM4 169h1v1h-1zM22 169h1v1h-1zM0 171h1v1h-1zM4 171h1v1h-1zM19 171h1v1h-1zM5 172h1v1h-1zM4 173h1v1h-1zM4 175h1v1h-1zM8 175h1v1h-1zM5 179h1v1h-1zM1 180h1v1h-1zM7 183h1v1h-1zM5 185h1v1h-1zM4 186h1v1h-1zM6 187h2v1h-2zM17 189h1v1h-1zM2 193h1v1h-1zM17 193h1v1h-1zM7 194h1v1h-1zM22 194h1v1h-1zM20 196h1v1h-1zM27 196h1v1h-1zM1 197h1v1h-1zM4 197h1v1h-1zM2 198h1v1h-1zM17 200h1v1h-1zM19 201h1v1h-1zM11 204h1v1h-1zM15 204h1v1h-1zM1 205h1v1h-1zM7 205h1v1h-1zM3 207h1v1h-1zM26 207h1v1h-1zM3 208h1v1h-1zM16 208h2v1h-2zM5 210h1v1h-1zM0 215h1v1h-1zM4 215h1v1h-1zM8 215h1v1h-1zM3 216h1v1h-1zM0 217h1v1h-1zM0 218h1v1h-1zM25 218h1v1h-1zM1 219h1v1h-1zM4 219h1v1h-1zM8 219h1v1h-1zM11 219h1v1h-1zM6 221h1v1h-1zM17 222h1v1h-1zM27 222h1v1h-1zM4 223h1v1h-1zM26 223h1v1h-1z"/><path fill="#fac8c8" d="M23 0h1v1h-1zM12 2h1v1h-1zM12 3h1v1h-1zM14 5h1v1h-1zM24 5h1v1h-1zM12 7h1v1h-1zM24 7h1v1h-1zM9 11h1v1h-1zM12 11h2v1h-2zM9 14h1v1h-1zM16 14h1v1h-1zM21 18h1v1h-1zM5 19h1v1h-1zM9 20h1v1h-1zM9 21h1v1h-1zM24 21h1v1h-1zM11 22h1v1h-1zM16 22h1v1h-1zM0 23h1v1h-1zM11 23h2v1h-2zM6 24h1v1h-1zM9 24h2v1h-2zM12 25h1v1h-1zM14 28h1v1h-1zM14 30h1v1h-1zM24 34h1v1h-1zM14 35h1v1h-1zM13 36h1v1h-1zM19 36h1v1h-1zM27 36h1v1h-1zM6 37h1v1h-1zM10 37h1v1h-1zM13 37h1v1h-1zM5 38h1v1h-1zM24 38h1v1h-1zM14 39h1v1h-1zM16 39h1v1h-1zM23 39h2v1h-2zM5 40h1v1h-1zM10 40h1v1h-1zM14 40h1v1h-1zM23 40h1v1h-1zM25 40h1v1h-1zM1 41h1v1h-1zM4 41h1v1h-1zM2 42h1v1h-1zM9 42h1v1h-1zM20 42h1v1h-1zM12 43h1v1h-1zM6 44h1v1h-1zM6 45h1v1h-1zM9 46h1v1h-1zM24 46h1v1h-1zM13 47h2v1h-2zM9 48h1v1h-1zM24 48h1v1h-1zM10 52h1v1h-1zM0 54h1v1h-1zM10 54h1v1h-1zM12 54h1v1h-1zM24 54h1v1h-1zM26 54h1v1h-1zM9 55h1v1h-1zM12 55h1v1h-1zM26 55h1v1h-1zM11 56h1v1h-1zM20 56h1v1h-1zM16 57h1v1h-1zM23 57h1v1h-1zM14 58h1v1h-1zM9 59h1v1h-1zM16 60h1v1h-1zM9 61h1v1h-1zM0 62h1v1h-1zM2 62h1v1h-1zM7 62h1v1h-1zM21 62h1v1h-1zM27 62h1v1h-1zM11 63h1v1h-1zM19 63h1v1h-1zM0 64h2v1h-2zM16 65h1v1h-1zM23 65h1v1h-1zM25 66h1v1h-1zM0 67h1v1h-1zM3 67h1v1h-1zM7 67h1v1h-1zM3 70h1v1h-1zM16 71h1v1h-1zM14 72h1v1h-1zM21 73h1v1h-1zM24 73h1v1h-1zM27 74h1v1h-1zM0 75h2v1h-2zM16 75h1v1h-1zM0 76h2v1h-2zM10 77h1v1h-1zM0 78h1v1h-1zM10 78h1v1h-1zM14 79h1v1h-1zM21 80h1v1h-1zM14 81h1v1h-1zM10 82h1v1h-1zM4 83h1v1h-1zM10 83h2v1h-2zM1 84h1v1h-1zM10 84h1v1h-1zM14 84h1v1h-1zM19 84h1v1h-1zM8 85h1v1h-1zM21 86h2v1h-2zM1 87h1v1h-1zM21 89h1v1h-1zM24 89h1v1h-1zM8 90h1v1h-1zM16 91h1v1h-1zM19 92h1v1h-1zM13 94h1v1h-1zM24 94h1v1h-1zM13 95h1v1h-1zM16 95h1v1h-1zM8 96h1v1h-1zM21 96h1v1h-1zM16 97h1v1h-1zM24 97h1v1h-1zM0 99h1v1h-1zM2 99h1v1h-1zM18 99h1v1h-1zM20 99h1v1h-1zM2 102h1v1h-1zM18 102h1v1h-1zM0 103h1v1h-1zM26 103h1v1h-1zM10 104h1v1h-1zM21 104h1v1h-1zM23 104h1v1h-1zM17 105h1v1h-1zM22 105h1v1h-1zM10 106h1v1h-1zM21 106h1v1h-1zM8 108h1v1h-1zM26 108h1v1h-1zM23 109h1v1h-1zM22 110h1v1h-1zM21 111h1v1h-1zM24 111h1v1h-1zM21 114h1v1h-1zM11 116h1v1h-1zM23 118h1v1h-1zM1 119h1v1h-1zM12 121h1v1h-1zM17 121h1v1h-1zM4 122h1v1h-1zM15 122h1v1h-1zM17 122h1v1h-1zM2 123h1v1h-1zM5 125h1v1h-1zM6 127h2v1h-2zM7 128h1v1h-1zM15 130h1v1h-1zM16 131h1v1h-1zM23 131h1v1h-1zM25 134h1v1h-1zM15 136h1v1h-1zM17 136h1v1h-1zM0 139h1v1h-1zM7 139h2v1h-2zM21 139h1v1h-1zM24 141h1v1h-1zM26 141h1v1h-1zM21 142h1v1h-1zM12 143h1v1h-1zM9 145h1v1h-1zM3 146h1v1h-1zM21 146h1v1h-1zM25 146h1v1h-1zM20 147h1v1h-1zM21 148h1v1h-1zM18 149h1v1h-1zM3 150h1v1h-1zM11 150h1v1h-1zM24 151h1v1h-1zM6 154h1v1h-1zM23 154h1v1h-1zM19 155h1v1h-1zM7 157h1v1h-1zM23 157h1v1h-1zM27 157h1v1h-1zM6 158h1v1h-1zM15 158h2v1h-2zM21 158h1v1h-1zM24 158h1v1h-1zM19 159h1v1h-1zM7 161h1v1h-1zM19 161h1v1h-1zM7 162h1v1h-1zM23 162h1v1h-1zM8 165h1v1h-1zM18 168h1v1h-1zM23 170h1v1h-1zM25 170h1v1h-1zM11 171h1v1h-1zM26 171h2v1h-2zM3 172h2v1h-2zM18 172h1v1h-1zM21 172h1v1h-1zM0 173h1v1h-1zM18 173h2v1h-2zM25 174h1v1h-1zM27 174h1v1h-1zM5 175h1v1h-1zM19 175h1v1h-1zM20 177h1v1h-1zM4 178h1v1h-1zM2 179h1v1h-1zM4 179h1v1h-1zM21 179h3v1h-3zM25 179h1v1h-1zM0 181h3v1h-3zM4 181h1v1h-1zM18 181h1v1h-1zM17 182h1v1h-1zM0 184h3v1h-3zM0 186h1v1h-1zM15 186h1v1h-1zM4 188h1v1h-1zM1 189h1v1h-1zM11 189h1v1h-1zM0 190h1v1h-1zM15 190h1v1h-1zM22 190h1v1h-1zM4 191h1v1h-1zM7 191h1v1h-1zM27 191h1v1h-1zM7 192h1v1h-1zM16 192h1v1h-1zM25 192h2v1h-2zM15 193h1v1h-1zM27 193h1v1h-1zM16 194h1v1h-1zM15 195h1v1h-1zM4 196h1v1h-1zM6 196h1v1h-1zM8 196h1v1h-1zM16 197h1v1h-1zM1 198h1v1h-1zM8 198h2v1h-2zM26 198h1v1h-1zM12 199h1v1h-1zM25 199h1v1h-1zM27 199h1v1h-1zM25 200h1v1h-1zM23 201h1v1h-1zM0 202h1v1h-1zM6 202h1v1h-1zM17 203h1v1h-1zM27 204h1v1h-1zM23 205h1v1h-1zM27 205h1v1h-1zM19 208h1v1h-1zM25 208h1v1h-1zM3 209h1v1h-1zM15 209h1v1h-1zM6 210h1v1h-1zM0 211h1v1h-1zM8 211h1v1h-1zM17 211h1v1h-1zM0 212h1v1h-1zM4 212h2v1h-2zM3 214h1v1h-1zM5 214h1v1h-1zM17 214h1v1h-1zM3 215h1v1h-1zM22 216h1v1h-1zM1 217h1v1h-1zM5 217h1v1h-1zM15 217h1v1h-1zM6 218h1v1h-1zM17 219h1v1h-1zM21 219h2v1h-2zM21 220h1v1h-1zM25 221h1v1h-1zM1 222h1v1h-1zM2 223h1v1h-1zM8 223h1v1h-1zM13 223h1v1h-1zM21 223h1v1h-1z"/><path fill="#fa2020" d="M6 1h1v1h-1zM6 2h2v1h-2zM7 3h1v1h-1zM6 4h3v1h-3zM4 6h3v1h-3zM8 6h1v1h-1zM3 7h2v1h-2zM6 7h1v1h-1zM8 7h1v1h-1zM18 9h1v1h-1zM3 10h1v1h-1zM25 10h1v1h-1zM3 11h1v1h-1zM26 11h1v1h-1zM5 12h3v1h-3zM3 13h4v1h-4zM25 13h1v1h-1zM7 14h1v1h-1zM4 15h1v1h-1zM6 15h2v1h-2zM3 16h2v1h-2zM6 16h1v1h-1zM5 25h1v1h-1zM8 46h1v1h-1zM5 57h1v1h-1zM3 97h1v1h-1zM6 97h1v1h-1zM25 97h1v1h-1zM3 98h1v1h-1zM5 98h4v1h-4z"/><path fill="#f56262" d="M18 1h1v1h-1zM26 1h1v1h-1zM4 2h1v1h-1zM8 2h1v1h-1zM10 2h1v1h-1zM18 2h1v1h-1zM26 3h1v1h-1zM3 4h2v1h-2zM8 5h1v1h-1zM22 5h1v1h-1zM22 6h1v1h-1zM2 7h1v1h-1zM25 7h1v1h-1zM5 8h1v1h-1zM8 8h1v1h-1zM25 8h1v1h-1zM5 9h1v1h-1zM26 9h1v1h-1zM4 10h1v1h-1zM22 10h1v1h-1zM26 10h1v1h-1zM23 11h1v1h-1zM8 13h1v1h-1zM8 14h1v1h-1zM8 15h1v1h-1zM25 16h1v1h-1zM26 18h1v1h-1zM4 20h1v1h-1zM7 20h1v1h-1zM22 20h1v1h-1zM26 20h1v1h-1zM3 21h1v1h-1zM5 21h1v1h-1zM25 21h2v1h-2zM25 25h1v1h-1zM6 26h1v1h-1zM3 27h1v1h-1zM5 29h1v1h-1zM7 29h1v1h-1zM25 31h1v1h-1zM3 32h1v1h-1zM3 33h1v1h-1zM6 34h1v1h-1zM11 34h1v1h-1zM18 34h1v1h-1zM8 35h1v1h-1zM25 46h1v1h-1zM4 47h2v1h-2zM7 47h1v1h-1zM26 48h1v1h-1zM25 50h1v1h-1zM5 52h1v1h-1zM8 52h1v1h-1zM7 53h1v1h-1zM3 54h1v1h-1zM4 55h1v1h-1zM3 56h1v1h-1zM3 58h1v1h-1zM3 59h1v1h-1zM25 59h1v1h-1zM7 60h1v1h-1zM17 60h1v1h-1zM4 61h1v1h-1zM25 77h1v1h-1zM5 78h1v1h-1zM3 79h1v1h-1zM4 81h1v1h-1zM27 82h1v1h-1zM7 83h1v1h-1zM25 85h1v1h-1zM6 87h1v1h-1zM25 88h1v1h-1zM6 93h1v1h-1zM18 95h1v1h-1zM0 97h1v1h-1zM0 98h2v1h-2zM25 98h1v1h-1zM27 100h1v1h-1zM6 101h1v1h-1zM7 104h1v1h-1zM4 105h1v1h-1zM5 106h1v1h-1zM17 106h1v1h-1zM23 106h1v1h-1zM17 144h2v1h-2zM23 144h1v1h-1zM26 145h1v1h-1zM22 150h1v1h-1zM15 151h1v1h-1zM22 151h1v1h-1zM15 152h1v1h-1zM23 152h1v1h-1zM3 156h1v1h-1zM27 167h1v1h-1zM25 169h1v1h-1zM3 176h1v1h-1zM5 189h1v1h-1zM25 189h1v1h-1zM3 197h1v1h-1zM4 203h1v1h-1zM22 203h1v1h-1zM26 203h1v1h-1zM5 204h1v1h-1zM3 219h1v1h-1zM5 219h1v1h-1zM18 224h1v1h-1z"/><path fill="#f83434" d="M8 3h1v1h-1zM7 7h1v1h-1zM7 13h1v1h-1zM5 16h1v1h-1zM6 46h1v1h-1zM5 97h1v1h-1zM7 97h2v1h-2zM4 98h1v1h-1z"/><path fill="#f92a2a" d="M25 5h1v1h-1zM3 6h1v1h-1zM7 6h1v1h-1zM5 7h1v1h-1zM6 10h2v1h-2zM6 11h2v1h-2zM25 11h1v1h-1zM3 14h1v1h-1zM5 14h2v1h-2zM6 20h1v1h-1zM25 27h1v1h-1zM25 32h1v1h-1zM7 46h1v1h-1zM6 57h1v1h-1zM4 97h1v1h-1z"/><path fill="#fcf4f4" d="M14 6h1v1h-1zM14 9h1v1h-1zM12 21h1v1h-1zM24 22h1v1h-1zM24 23h1v1h-1zM16 24h1v1h-1zM11 26h1v1h-1zM13 26h1v1h-1zM10 27h1v1h-1zM10 29h1v1h-1zM13 29h1v1h-1zM9 32h1v1h-1zM14 33h1v1h-1zM1 40h1v1h-1zM16 40h1v1h-1zM13 42h1v1h-1zM9 44h1v1h-1zM11 44h1v1h-1zM16 49h1v1h-1zM14 52h1v1h-1zM15 54h1v1h-1zM13 56h1v1h-1zM16 56h1v1h-1zM27 57h1v1h-1zM12 58h1v1h-1zM16 62h1v1h-1zM19 62h1v1h-1zM9 63h1v1h-1zM12 64h1v1h-1zM14 66h1v1h-1zM24 68h1v1h-1zM0 70h1v1h-1zM13 72h1v1h-1zM1 73h1v1h-1zM9 73h1v1h-1zM9 76h1v1h-1zM9 77h1v1h-1zM13 77h1v1h-1zM1 78h1v1h-1zM12 84h1v1h-1zM10 85h1v1h-1zM10 86h1v1h-1zM19 86h1v1h-1zM12 88h1v1h-1zM11 89h1v1h-1zM13 90h1v1h-1zM24 91h1v1h-1zM16 92h1v1h-1zM16 94h1v1h-1zM11 95h1v1h-1zM10 99h1v1h-1zM21 101h1v1h-1zM10 102h1v1h-1zM16 102h1v1h-1zM10 105h1v1h-1zM24 105h1v1h-1zM5 107h1v1h-1zM19 108h1v1h-1zM25 108h1v1h-1zM17 111h1v1h-1zM20 111h1v1h-1zM20 113h1v1h-1zM24 113h1v1h-1zM18 114h1v1h-1zM8 115h1v1h-1zM17 118h1v1h-1zM24 118h1v1h-1zM8 119h1v1h-1zM22 119h1v1h-1zM18 120h2v1h-2zM23 120h1v1h-1zM19 121h1v1h-1zM27 122h1v1h-1zM6 123h1v1h-1zM15 123h1v1h-1zM20 123h1v1h-1zM17 124h1v1h-1zM23 125h1v1h-1zM23 126h1v1h-1zM23 128h1v1h-1zM25 128h1v1h-1zM0 130h1v1h-1zM1 131h1v1h-1zM3 131h1v1h-1zM6 131h1v1h-1zM5 132h1v1h-1zM20 132h1v1h-1zM27 134h1v1h-1zM17 137h1v1h-1zM20 137h1v1h-1zM15 138h1v1h-1zM17 138h1v1h-1zM20 138h1v1h-1zM12 140h1v1h-1zM19 140h1v1h-1zM25 140h1v1h-1zM2 141h1v1h-1zM27 141h1v1h-1zM23 143h1v1h-1zM27 143h1v1h-1zM13 144h1v1h-1zM14 149h1v1h-1zM13 150h1v1h-1zM1 151h1v1h-1zM3 152h1v1h-1zM6 152h1v1h-1zM16 155h1v1h-1zM22 160h1v1h-1zM24 160h1v1h-1zM0 161h1v1h-1zM14 161h1v1h-1zM16 163h1v1h-1zM27 163h1v1h-1zM11 166h1v1h-1zM11 169h1v1h-1zM22 170h1v1h-1zM10 171h1v1h-1zM1 172h1v1h-1zM16 176h1v1h-1zM20 176h1v1h-1zM23 176h1v1h-1zM25 176h3v1h-3zM12 177h1v1h-1zM2 178h1v1h-1zM19 178h1v1h-1zM15 181h1v1h-1zM22 181h1v1h-1zM8 183h1v1h-1zM15 183h1v1h-1zM17 183h1v1h-1zM10 184h1v1h-1zM16 184h1v1h-1zM19 185h1v1h-1zM21 186h1v1h-1zM24 186h1v1h-1zM4 187h1v1h-1zM20 187h1v1h-1zM9 188h1v1h-1zM13 188h1v1h-1zM12 191h1v1h-1zM20 192h1v1h-1zM10 194h1v1h-1zM14 200h1v1h-1zM1 201h1v1h-1zM27 201h1v1h-1zM21 203h1v1h-1zM13 206h1v1h-1zM23 208h1v1h-1zM27 208h1v1h-1zM19 210h1v1h-1zM2 211h1v1h-1zM19 211h1v1h-1zM3 212h1v1h-1zM15 212h1v1h-1zM20 213h1v1h-1zM27 214h1v1h-1zM19 215h1v1h-1zM26 215h1v1h-1zM11 216h2v1h-2zM27 216h1v1h-1zM25 217h1v1h-1zM21 218h1v1h-1zM7 219h1v1h-1zM9 220h1v1h-1zM22 220h1v1h-1zM6 223h1v1h-1zM11 223h1v1h-1zM17 223h1v1h-1z"/><path fill="#fbe4e4" d="M16 6h1v1h-1zM14 15h1v1h-1zM9 23h1v1h-1zM14 25h1v1h-1zM23 37h1v1h-1zM21 40h1v1h-1zM8 41h1v1h-1zM0 42h1v1h-1zM14 42h1v1h-1zM9 43h1v1h-1zM11 45h1v1h-1zM12 48h1v1h-1zM19 49h1v1h-1zM0 50h1v1h-1zM10 50h1v1h-1zM12 50h2v1h-2zM12 51h1v1h-1zM6 54h1v1h-1zM17 62h1v1h-1zM17 64h1v1h-1zM23 67h1v1h-1zM13 68h1v1h-1zM24 70h1v1h-1zM10 71h1v1h-1zM24 72h1v1h-1zM10 73h1v1h-1zM14 75h1v1h-1zM13 81h1v1h-1zM14 82h1v1h-1zM18 85h1v1h-1zM27 85h1v1h-1zM27 86h1v1h-1zM10 87h1v1h-1zM1 90h1v1h-1zM10 91h1v1h-1zM14 92h1v1h-1zM24 92h1v1h-1zM11 93h1v1h-1zM12 98h1v1h-1zM10 100h1v1h-1zM19 103h1v1h-1zM21 103h1v1h-1zM21 108h1v1h-1zM27 108h1v1h-1zM11 109h1v1h-1zM16 109h1v1h-1zM19 109h1v1h-1zM23 111h1v1h-1zM15 114h1v1h-1zM22 114h1v1h-1zM15 115h1v1h-1zM24 117h1v1h-1zM8 118h1v1h-1zM20 120h1v1h-1zM5 122h1v1h-1zM18 123h1v1h-1zM19 124h1v1h-1zM23 124h1v1h-1zM19 125h1v1h-1zM17 126h1v1h-1zM24 126h2v1h-2zM27 126h1v1h-1zM3 127h1v1h-1zM19 128h1v1h-1zM6 129h1v1h-1zM19 129h1v1h-1zM21 129h1v1h-1zM3 130h1v1h-1zM24 130h1v1h-1zM0 132h3v1h-3zM17 132h1v1h-1zM11 133h1v1h-1zM0 134h1v1h-1zM24 135h1v1h-1zM3 136h1v1h-1zM8 136h1v1h-1zM16 136h1v1h-1zM27 136h1v1h-1zM8 138h1v1h-1zM24 138h1v1h-1zM27 138h1v1h-1zM0 140h1v1h-1zM21 140h1v1h-1zM0 141h1v1h-1zM18 142h1v1h-1zM20 142h1v1h-1zM23 142h1v1h-1zM11 143h1v1h-1zM26 143h1v1h-1zM3 145h1v1h-1zM13 145h1v1h-1zM13 146h1v1h-1zM4 147h1v1h-1zM0 148h1v1h-1zM19 149h1v1h-1zM8 152h1v1h-1zM14 152h1v1h-1zM6 157h1v1h-1zM24 157h1v1h-1zM3 163h1v1h-1zM25 163h1v1h-1zM5 164h1v1h-1zM11 164h1v1h-1zM18 164h1v1h-1zM13 165h1v1h-1zM20 166h2v1h-2zM24 166h1v1h-1zM24 169h1v1h-1zM11 170h1v1h-1zM8 171h1v1h-1zM21 171h1v1h-1zM10 172h1v1h-1zM24 172h1v1h-1zM11 175h1v1h-1zM26 175h1v1h-1zM12 176h1v1h-1zM24 176h1v1h-1zM12 178h1v1h-1zM24 178h1v1h-1zM12 180h1v1h-1zM20 181h1v1h-1zM27 181h1v1h-1zM3 182h1v1h-1zM15 182h1v1h-1zM22 182h1v1h-1zM2 183h1v1h-1zM26 183h1v1h-1zM10 186h1v1h-1zM19 188h1v1h-1zM9 189h1v1h-1zM24 190h1v1h-1zM0 192h1v1h-1zM4 192h1v1h-1zM6 192h1v1h-1zM21 192h1v1h-1zM9 194h1v1h-1zM16 195h1v1h-1zM18 195h1v1h-1zM25 195h1v1h-1zM12 196h1v1h-1zM16 196h1v1h-1zM14 199h1v1h-1zM24 199h1v1h-1zM26 200h1v1h-1zM8 201h1v1h-1zM1 202h1v1h-1zM16 203h1v1h-1zM23 203h1v1h-1zM8 204h1v1h-1zM13 204h1v1h-1zM24 205h1v1h-1zM21 206h1v1h-1zM24 206h1v1h-1zM13 207h2v1h-2zM24 207h1v1h-1zM24 208h1v1h-1zM1 209h2v1h-2zM20 211h1v1h-1zM6 212h1v1h-1zM17 212h1v1h-1zM0 213h1v1h-1zM19 213h1v1h-1zM25 213h1v1h-1zM10 214h1v1h-1zM16 214h1v1h-1zM16 216h1v1h-1zM10 217h1v1h-1zM13 217h1v1h-1zM11 218h1v1h-1zM24 219h1v1h-1zM11 220h1v1h-1zM10 221h1v1h-1zM19 221h1v1h-1z"/><path fill="#fcecec" d="M14 11h1v1h-1zM1 17h1v1h-1zM12 20h1v1h-1zM21 21h1v1h-1zM10 26h1v1h-1zM14 26h1v1h-1zM9 27h1v1h-1zM0 30h1v1h-1zM14 32h1v1h-1zM16 34h1v1h-1zM24 37h1v1h-1zM14 38h1v1h-1zM0 40h1v1h-1zM7 41h1v1h-1zM10 42h1v1h-1zM13 44h1v1h-1zM10 53h1v1h-1zM23 55h1v1h-1zM14 56h1v1h-1zM10 61h1v1h-1zM21 64h1v1h-1zM24 66h1v1h-1zM13 69h1v1h-1zM1 70h1v1h-1zM13 70h1v1h-1zM23 72h1v1h-1zM4 73h1v1h-1zM13 75h1v1h-1zM23 76h2v1h-2zM14 78h1v1h-1zM12 80h1v1h-1zM0 81h2v1h-2zM2 83h1v1h-1zM11 86h1v1h-1zM15 86h1v1h-1zM9 88h1v1h-1zM13 88h1v1h-1zM14 89h1v1h-1zM10 90h1v1h-1zM9 91h1v1h-1zM9 92h1v1h-1zM12 95h1v1h-1zM11 96h1v1h-1zM13 96h1v1h-1zM11 98h1v1h-1zM12 99h1v1h-1zM16 99h1v1h-1zM25 105h1v1h-1zM14 106h1v1h-1zM18 107h1v1h-1zM7 108h1v1h-1zM17 108h1v1h-1zM20 110h1v1h-1zM15 112h1v1h-1zM17 112h1v1h-1zM19 112h1v1h-1zM18 113h1v1h-1zM17 115h1v1h-1zM25 115h1v1h-1zM27 115h1v1h-1zM8 116h1v1h-1zM8 117h1v1h-1zM3 119h1v1h-1zM13 120h1v1h-1zM24 120h1v1h-1zM26 120h1v1h-1zM25 121h1v1h-1zM3 122h1v1h-1zM1 123h1v1h-1zM0 124h1v1h-1zM15 124h2v1h-2zM20 125h1v1h-1zM3 126h1v1h-1zM22 126h1v1h-1zM26 126h1v1h-1zM4 128h1v1h-1zM18 132h1v1h-1zM27 132h1v1h-1zM16 133h1v1h-1zM16 134h1v1h-1zM23 134h2v1h-2zM0 135h1v1h-1zM14 135h1v1h-1zM1 136h1v1h-1zM4 137h1v1h-1zM7 137h1v1h-1zM25 137h1v1h-1zM0 138h1v1h-1zM22 138h1v1h-1zM1 140h2v1h-2zM16 140h1v1h-1zM22 140h1v1h-1zM26 140h1v1h-1zM12 141h1v1h-1zM24 143h1v1h-1zM4 144h1v1h-1zM6 147h1v1h-1zM0 149h1v1h-1zM11 152h1v1h-1zM1 154h1v1h-1zM14 157h1v1h-1zM11 161h1v1h-1zM16 161h1v1h-1zM18 161h1v1h-1zM7 164h1v1h-1zM27 166h1v1h-1zM8 167h3v1h-3zM9 169h1v1h-1zM21 169h1v1h-1zM0 170h1v1h-1zM2 170h1v1h-1zM2 172h1v1h-1zM12 173h1v1h-1zM21 173h1v1h-1zM10 174h1v1h-1zM21 175h1v1h-1zM18 176h1v1h-1zM2 177h1v1h-1zM10 177h1v1h-1zM6 178h1v1h-1zM12 179h1v1h-1zM11 182h1v1h-1zM11 183h1v1h-1zM9 184h1v1h-1zM24 184h1v1h-1zM18 185h1v1h-1zM20 185h1v1h-1zM27 187h1v1h-1zM11 188h1v1h-1zM20 188h1v1h-1zM16 189h1v1h-1zM21 190h1v1h-1zM9 191h1v1h-1zM14 191h1v1h-1zM20 191h1v1h-1zM9 192h1v1h-1zM27 192h1v1h-1zM21 193h1v1h-1zM19 196h1v1h-1zM18 206h1v1h-1zM22 206h1v1h-1zM19 207h1v1h-1zM15 210h1v1h-1zM15 211h1v1h-1zM26 211h1v1h-1zM19 212h1v1h-1zM22 212h1v1h-1zM25 212h1v1h-1zM2 213h1v1h-1zM8 213h1v1h-1zM17 213h1v1h-1zM27 213h1v1h-1zM8 214h1v1h-1zM22 214h1v1h-1zM11 215h1v1h-1zM19 216h1v1h-1zM22 217h1v1h-1zM24 218h1v1h-1zM14 220h1v1h-1zM18 220h1v1h-1zM24 220h1v1h-1zM27 220h1v1h-1zM9 221h1v1h-1zM14 221h1v1h-1zM21 221h1v1h-1zM2 222h1v1h-1zM10 222h1v1h-1zM5 224h1v1h-1z"/><path fill="#d0d0f9" d="M11 12h1v1h-1zM12 15h1v1h-1zM12 24h1v1h-1zM2 37h1v1h-1zM12 38h1v1h-1zM23 38h1v1h-1zM14 48h1v1h-1zM9 53h1v1h-1zM11 53h1v1h-1zM9 64h1v1h-1zM9 90h1v1h-1zM14 90h1v1h-1zM10 93h1v1h-1zM14 96h1v1h-1zM12 103h1v1h-1zM16 107h1v1h-1zM26 116h1v1h-1zM9 117h1v1h-1zM4 118h1v1h-1zM25 120h1v1h-1zM14 121h1v1h-1zM2 122h1v1h-1zM13 125h1v1h-1zM21 125h1v1h-1zM16 126h1v1h-1zM10 131h1v1h-1zM1 134h1v1h-1zM5 141h1v1h-1zM14 142h1v1h-1zM1 148h1v1h-1zM13 156h1v1h-1zM23 161h1v1h-1zM11 168h1v1h-1zM12 172h1v1h-1zM11 177h1v1h-1zM16 178h1v1h-1zM16 182h1v1h-1zM9 187h1v1h-1zM25 188h1v1h-1zM9 193h1v1h-1zM1 195h1v1h-1zM14 195h1v1h-1zM14 201h1v1h-1zM14 206h1v1h-1zM10 211h1v1h-1zM8 212h1v1h-1zM9 214h1v1h-1zM20 214h1v1h-1zM20 215h1v1h-1zM9 216h1v1h-1zM0 224h1v1h-1zM13 224h1v1h-1z"/><path fill="#c9c9f8" d="M12 12h1v1h-1zM14 14h1v1h-1zM12 16h1v1h-1zM9 29h1v1h-1zM11 31h1v1h-1zM11 32h1v1h-1zM14 50h1v1h-1zM9 51h1v1h-1zM17 55h1v1h-1zM18 57h2v1h-2zM9 62h1v1h-1zM13 62h1v1h-1zM24 64h1v1h-1zM12 85h1v1h-1zM14 100h1v1h-1zM12 102h1v1h-1zM21 102h1v1h-1zM19 107h1v1h-1zM6 113h1v1h-1zM10 116h1v1h-1zM9 118h1v1h-1zM1 121h1v1h-1zM23 121h1v1h-1zM12 122h1v1h-1zM14 122h1v1h-1zM0 125h3v1h-3zM27 125h1v1h-1zM18 126h1v1h-1zM21 126h1v1h-1zM10 129h1v1h-1zM12 132h1v1h-1zM13 134h1v1h-1zM1 135h1v1h-1zM21 137h1v1h-1zM10 138h1v1h-1zM9 141h1v1h-1zM13 141h1v1h-1zM24 142h1v1h-1zM9 149h1v1h-1zM13 149h1v1h-1zM13 157h1v1h-1zM13 161h1v1h-1zM9 164h1v1h-1zM13 164h1v1h-1zM10 169h1v1h-1zM13 174h1v1h-1zM11 176h1v1h-1zM12 182h1v1h-1zM13 187h1v1h-1zM23 192h2v1h-2zM10 193h1v1h-1zM12 195h1v1h-1zM11 198h1v1h-1zM21 200h1v1h-1zM14 202h1v1h-1zM14 205h1v1h-1zM1 214h1v1h-1zM17 215h1v1h-1zM9 217h1v1h-1z"/><path fill="#0000f0" d="M14 12h1v1h-1zM13 15h1v1h-1zM13 20h2v1h-2zM9 28h1v1h-1zM11 29h1v1h-1zM10 30h2v1h-2zM10 31h1v1h-1zM13 31h1v1h-1zM10 32h1v1h-1zM14 34h1v1h-1zM14 41h1v1h-1zM14 43h1v1h-1zM14 46h1v1h-1zM9 52h1v1h-1zM12 53h1v1h-1zM13 54h2v1h-2zM14 62h1v1h-1zM13 63h1v1h-1zM10 68h1v1h-1zM9 69h1v1h-1zM14 70h1v1h-1zM14 71h1v1h-1zM13 85h2v1h-2zM9 86h1v1h-1zM13 86h1v1h-1zM9 87h1v1h-1zM14 87h1v1h-1zM12 89h1v1h-1zM12 90h1v1h-1zM14 91h1v1h-1zM10 92h1v1h-1zM12 92h1v1h-1zM9 93h1v1h-1zM9 94h1v1h-1zM14 94h1v1h-1zM10 95h1v1h-1zM14 95h1v1h-1zM9 96h2v1h-2zM9 97h2v1h-2zM14 97h1v1h-1zM14 98h1v1h-1zM11 99h1v1h-1zM13 99h2v1h-2zM11 100h3v1h-3zM9 101h3v1h-3zM13 101h1v1h-1zM11 102h1v1h-1zM13 102h1v1h-1zM9 103h1v1h-1zM11 103h1v1h-1zM13 103h2v1h-2zM11 104h1v1h-1zM14 104h1v1h-1zM11 105h1v1h-1zM13 105h2v1h-2zM11 106h1v1h-1zM0 107h5v1h-5zM7 107h2v1h-2zM10 107h2v1h-2zM13 107h2v1h-2zM0 108h7v1h-7zM9 108h4v1h-4zM24 108h1v1h-1zM0 109h11v1h-11zM13 109h2v1h-2zM0 110h12v1h-12zM13 110h2v1h-2zM0 111h12v1h-12zM13 111h2v1h-2zM0 112h4v1h-4zM5 112h2v1h-2zM8 112h7v1h-7zM23 112h1v1h-1zM26 112h1v1h-1zM0 113h6v1h-6zM7 113h6v1h-6zM14 113h1v1h-1zM0 114h13v1h-13zM14 114h1v1h-1zM20 114h1v1h-1zM24 114h1v1h-1zM0 115h8v1h-8zM9 115h5v1h-5zM0 116h1v1h-1zM3 116h1v1h-1zM12 116h2v1h-2zM23 116h2v1h-2zM27 116h1v1h-1zM1 117h1v1h-1zM7 117h1v1h-1zM10 117h3v1h-3zM15 117h1v1h-1zM21 117h1v1h-1zM0 118h3v1h-3zM7 118h1v1h-1zM10 118h4v1h-4zM0 119h1v1h-1zM5 119h2v1h-2zM9 119h4v1h-4zM14 119h1v1h-1zM0 120h1v1h-1zM5 120h1v1h-1zM10 120h3v1h-3zM14 120h1v1h-1zM2 121h1v1h-1zM4 121h1v1h-1zM6 121h2v1h-2zM9 121h3v1h-3zM13 121h1v1h-1zM0 122h2v1h-2zM8 122h4v1h-4zM13 122h1v1h-1zM3 123h1v1h-1zM5 123h1v1h-1zM8 123h4v1h-4zM13 123h1v1h-1zM21 123h2v1h-2zM24 123h1v1h-1zM26 123h1v1h-1zM3 124h1v1h-1zM5 124h1v1h-1zM8 124h4v1h-4zM13 124h1v1h-1zM22 124h1v1h-1zM24 124h1v1h-1zM26 124h2v1h-2zM3 125h2v1h-2zM6 125h7v1h-7zM14 125h1v1h-1zM0 126h2v1h-2zM4 126h1v1h-1zM6 126h7v1h-7zM14 126h1v1h-1zM1 127h1v1h-1zM4 127h2v1h-2zM8 127h5v1h-5zM14 127h1v1h-1zM5 128h1v1h-1zM8 128h5v1h-5zM14 128h1v1h-1zM7 129h3v1h-3zM13 129h2v1h-2zM7 130h3v1h-3zM11 130h2v1h-2zM14 130h1v1h-1zM7 131h3v1h-3zM11 131h3v1h-3zM3 132h1v1h-1zM6 132h3v1h-3zM10 132h2v1h-2zM13 132h2v1h-2zM6 133h1v1h-1zM8 133h3v1h-3zM12 133h1v1h-1zM14 133h1v1h-1zM6 134h1v1h-1zM8 134h5v1h-5zM14 134h1v1h-1zM6 135h1v1h-1zM8 135h4v1h-4zM13 135h1v1h-1zM7 136h1v1h-1zM10 136h4v1h-4zM23 136h1v1h-1zM10 137h2v1h-2zM13 137h2v1h-2zM4 138h1v1h-1zM6 138h1v1h-1zM13 138h2v1h-2zM3 139h1v1h-1zM6 139h1v1h-1zM14 139h1v1h-1zM14 140h1v1h-1zM7 141h1v1h-1zM14 141h1v1h-1zM0 142h1v1h-1zM2 142h5v1h-5zM9 142h1v1h-1zM1 143h1v1h-1zM0 144h2v1h-2zM14 144h1v1h-1zM0 145h3v1h-3zM4 145h1v1h-1zM8 145h1v1h-1zM10 145h1v1h-1zM1 146h1v1h-1zM4 146h2v1h-2zM7 146h1v1h-1zM11 146h1v1h-1zM14 146h1v1h-1zM0 147h4v1h-4zM5 147h1v1h-1zM9 147h5v1h-5zM3 148h1v1h-1zM5 148h7v1h-7zM14 148h1v1h-1zM1 149h7v1h-7zM11 149h1v1h-1zM0 150h1v1h-1zM2 150h1v1h-1zM4 150h2v1h-2zM7 150h2v1h-2zM12 150h1v1h-1zM14 150h1v1h-1zM7 151h1v1h-1zM9 151h3v1h-3zM13 151h2v1h-2zM1 152h2v1h-2zM5 152h1v1h-1zM7 152h1v1h-1zM9 152h2v1h-2zM12 152h2v1h-2zM8 153h2v1h-2zM12 153h2v1h-2zM8 154h4v1h-4zM13 154h1v1h-1zM10 155h3v1h-3zM14 155h1v1h-1zM11 156h2v1h-2zM8 157h1v1h-1zM11 157h2v1h-2zM7 158h7v1h-7zM7 159h7v1h-7zM6 160h3v1h-3zM11 160h3v1h-3zM4 161h2v1h-2zM10 161h1v1h-1zM12 161h1v1h-1zM3 162h2v1h-2zM6 162h1v1h-1zM9 162h4v1h-4zM14 162h1v1h-1zM6 163h1v1h-1zM10 163h1v1h-1zM13 163h1v1h-1zM24 163h1v1h-1zM0 164h1v1h-1zM6 164h1v1h-1zM8 164h1v1h-1zM12 164h1v1h-1zM5 165h1v1h-1zM7 165h1v1h-1zM9 165h2v1h-2zM14 165h1v1h-1zM7 166h1v1h-1zM9 166h2v1h-2zM13 166h2v1h-2zM7 167h1v1h-1zM13 167h1v1h-1zM7 168h1v1h-1zM9 168h1v1h-1zM7 169h2v1h-2zM7 170h1v1h-1zM9 170h1v1h-1zM13 170h2v1h-2zM7 171h1v1h-1zM9 171h1v1h-1zM12 171h2v1h-2zM9 172h1v1h-1zM11 172h1v1h-1zM14 172h1v1h-1zM23 172h1v1h-1zM9 173h3v1h-3zM14 173h1v1h-1zM9 174h1v1h-1zM11 174h2v1h-2zM13 175h2v1h-2zM9 176h1v1h-1zM13 176h2v1h-2zM9 177h1v1h-1zM13 177h2v1h-2zM8 178h4v1h-4zM13 178h2v1h-2zM9 179h3v1h-3zM9 180h3v1h-3zM13 180h2v1h-2zM9 181h3v1h-3zM13 181h2v1h-2zM4 182h2v1h-2zM7 182h1v1h-1zM9 182h2v1h-2zM13 182h2v1h-2zM9 183h2v1h-2zM14 183h1v1h-1zM16 183h1v1h-1zM8 184h1v1h-1zM11 184h1v1h-1zM13 184h2v1h-2zM23 184h1v1h-1zM26 184h1v1h-1zM9 185h1v1h-1zM12 185h2v1h-2zM21 185h2v1h-2zM9 186h1v1h-1zM13 186h2v1h-2zM10 187h1v1h-1zM14 187h1v1h-1zM21 187h1v1h-1zM24 187h1v1h-1zM26 187h1v1h-1zM12 188h1v1h-1zM14 188h1v1h-1zM21 188h1v1h-1zM24 188h1v1h-1zM26 188h1v1h-1zM10 189h1v1h-1zM14 189h1v1h-1zM8 190h1v1h-1zM10 190h1v1h-1zM13 190h2v1h-2zM10 191h1v1h-1zM1 192h1v1h-1zM10 192h1v1h-1zM13 192h1v1h-1zM14 193h1v1h-1zM8 194h1v1h-1zM14 194h1v1h-1zM9 195h1v1h-1zM24 195h1v1h-1zM27 195h1v1h-1zM9 196h1v1h-1zM13 196h2v1h-2zM9 197h1v1h-1zM13 197h2v1h-2zM12 198h1v1h-1zM10 199h1v1h-1zM13 199h1v1h-1zM9 200h5v1h-5zM24 200h1v1h-1zM11 201h3v1h-3zM9 202h2v1h-2zM9 203h1v1h-1zM12 203h2v1h-2zM9 204h1v1h-1zM12 204h1v1h-1zM16 204h1v1h-1zM8 205h2v1h-2zM12 206h1v1h-1zM9 207h1v1h-1zM9 208h4v1h-4zM9 209h4v1h-4zM9 210h4v1h-4zM14 210h1v1h-1zM9 211h1v1h-1zM11 211h1v1h-1zM13 211h2v1h-2zM7 212h1v1h-1zM9 212h1v1h-1zM11 212h2v1h-2zM6 213h2v1h-2zM12 213h1v1h-1zM6 214h2v1h-2zM13 214h2v1h-2zM6 215h1v1h-1zM10 215h1v1h-1zM12 215h2v1h-2zM6 216h1v1h-1zM14 216h1v1h-1zM21 216h1v1h-1zM6 217h1v1h-1zM11 217h2v1h-2zM14 217h1v1h-1zM23 217h1v1h-1zM12 218h2v1h-2zM10 220h1v1h-1zM12 220h1v1h-1zM1 221h1v1h-1zM13 221h1v1h-1zM18 221h1v1h-1zM22 221h1v1h-1zM7 222h1v1h-1zM9 222h1v1h-1zM11 222h1v1h-1zM23 222h1v1h-1zM0 223h1v1h-1zM7 223h1v1h-1zM9 223h1v1h-1zM14 223h1v1h-1zM9 224h1v1h-1z"/><path fill="#8e8ef3" d="M9 13h1v1h-1zM13 18h1v1h-1zM14 19h1v1h-1zM13 51h1v1h-1zM12 56h1v1h-1zM23 66h1v1h-1zM14 67h1v1h-1zM14 73h1v1h-1zM12 74h1v1h-1zM12 86h1v1h-1zM13 87h1v1h-1zM24 87h1v1h-1zM14 88h1v1h-1zM9 95h1v1h-1zM9 99h1v1h-1zM12 107h1v1h-1zM20 107h1v1h-1zM12 111h1v1h-1zM22 112h1v1h-1zM21 113h2v1h-2zM27 113h1v1h-1zM21 120h1v1h-1zM13 128h1v1h-1zM13 130h1v1h-1zM21 130h1v1h-1zM22 132h1v1h-1zM16 135h1v1h-1zM9 140h1v1h-1zM9 144h1v1h-1zM0 146h1v1h-1zM2 146h1v1h-1zM0 152h1v1h-1zM2 161h1v1h-1zM0 162h1v1h-1zM0 163h1v1h-1zM23 163h1v1h-1zM13 169h2v1h-2zM0 182h1v1h-1zM18 182h1v1h-1zM13 183h1v1h-1zM24 183h1v1h-1zM22 184h1v1h-1zM23 185h1v1h-1zM26 185h1v1h-1zM25 187h1v1h-1zM12 193h1v1h-1zM11 199h1v1h-1zM16 211h1v1h-1zM14 212h1v1h-1zM21 212h1v1h-1zM26 212h1v1h-1zM16 213h1v1h-1zM26 213h1v1h-1zM22 215h1v1h-1zM24 215h1v1h-1zM23 220h1v1h-1zM24 222h1v1h-1z"/><path fill="#f1ecf6" d="M11 13h1v1h-1zM13 19h1v1h-1zM23 21h1v1h-1zM13 28h1v1h-1zM9 30h1v1h-1zM13 32h1v1h-1zM24 33h1v1h-1zM21 37h1v1h-1zM10 41h1v1h-1zM10 46h1v1h-1zM13 46h1v1h-1zM11 52h3v1h-3zM24 55h1v1h-1zM14 57h1v1h-1zM13 59h1v1h-1zM18 62h1v1h-1zM14 63h1v1h-1zM24 63h1v1h-1zM13 65h1v1h-1zM10 67h2v1h-2zM12 69h1v1h-1zM2 70h1v1h-1zM12 71h1v1h-1zM1 72h1v1h-1zM9 74h1v1h-1zM16 74h1v1h-1zM13 76h1v1h-1zM13 78h1v1h-1zM9 80h1v1h-1zM21 81h1v1h-1zM27 81h1v1h-1zM11 85h1v1h-1zM17 86h1v1h-1zM9 89h1v1h-1zM18 90h1v1h-1zM14 93h1v1h-1zM11 94h1v1h-1zM19 102h1v1h-1zM16 103h1v1h-1zM21 105h1v1h-1zM26 107h1v1h-1zM18 108h1v1h-1zM15 109h1v1h-1zM26 109h2v1h-2zM19 111h1v1h-1zM16 112h1v1h-1zM24 112h1v1h-1zM17 113h1v1h-1zM19 113h1v1h-1zM25 113h1v1h-1zM17 114h1v1h-1zM25 114h1v1h-1zM18 116h2v1h-2zM14 118h1v1h-1zM21 118h1v1h-1zM3 120h1v1h-1zM17 120h1v1h-1zM27 120h1v1h-1zM15 121h1v1h-1zM20 121h1v1h-1zM24 122h1v1h-1zM19 123h1v1h-1zM18 124h1v1h-1zM20 124h1v1h-1zM25 124h1v1h-1zM5 126h1v1h-1zM15 126h1v1h-1zM19 126h1v1h-1zM16 127h1v1h-1zM3 128h1v1h-1zM22 128h1v1h-1zM26 128h1v1h-1zM1 129h1v1h-1zM20 129h1v1h-1zM1 130h1v1h-1zM18 130h1v1h-1zM26 130h1v1h-1zM25 132h1v1h-1zM3 135h1v1h-1zM22 135h1v1h-1zM27 135h1v1h-1zM0 136h1v1h-1zM2 136h1v1h-1zM18 136h1v1h-1zM21 136h1v1h-1zM2 137h1v1h-1zM5 137h1v1h-1zM8 137h1v1h-1zM16 137h1v1h-1zM22 137h1v1h-1zM21 138h1v1h-1zM23 138h1v1h-1zM10 139h1v1h-1zM20 139h1v1h-1zM17 140h1v1h-1zM23 140h1v1h-1zM3 141h1v1h-1zM16 141h1v1h-1zM21 141h1v1h-1zM19 142h1v1h-1zM13 143h1v1h-1zM18 143h2v1h-2zM22 143h1v1h-1zM25 143h1v1h-1zM2 144h1v1h-1zM10 144h1v1h-1zM7 145h1v1h-1zM8 146h2v1h-2zM12 146h1v1h-1zM24 146h1v1h-1zM6 150h1v1h-1zM9 150h1v1h-1zM16 150h1v1h-1zM12 151h1v1h-1zM20 154h1v1h-1zM2 155h1v1h-1zM13 155h1v1h-1zM8 156h1v1h-1zM14 156h1v1h-1zM24 156h1v1h-1zM26 157h1v1h-1zM21 160h1v1h-1zM3 161h1v1h-1zM22 161h1v1h-1zM2 162h1v1h-1zM7 163h1v1h-1zM14 163h1v1h-1zM16 164h1v1h-1zM20 164h1v1h-1zM10 168h1v1h-1zM14 168h1v1h-1zM1 170h1v1h-1zM8 170h1v1h-1zM26 170h1v1h-1zM2 176h1v1h-1zM5 176h1v1h-1zM15 176h1v1h-1zM21 176h1v1h-1zM1 178h1v1h-1zM13 179h1v1h-1zM8 182h1v1h-1zM21 182h1v1h-1zM25 182h1v1h-1zM0 183h1v1h-1zM18 183h1v1h-1zM25 183h1v1h-1zM27 184h1v1h-1zM11 185h1v1h-1zM22 186h1v1h-1zM26 186h1v1h-1zM1 187h1v1h-1zM1 190h1v1h-1zM9 190h1v1h-1zM16 190h1v1h-1zM11 192h1v1h-1zM12 194h1v1h-1zM11 195h1v1h-1zM22 196h1v1h-1zM14 198h1v1h-1zM11 202h1v1h-1zM17 204h1v1h-1zM12 205h1v1h-1zM16 206h1v1h-1zM14 209h1v1h-1zM18 210h1v1h-1zM25 210h2v1h-2zM25 211h1v1h-1zM20 212h1v1h-1zM22 213h1v1h-1zM0 214h1v1h-1zM18 214h2v1h-2zM9 215h1v1h-1zM15 215h1v1h-1zM25 215h1v1h-1zM18 216h1v1h-1zM23 216h1v1h-1zM13 219h2v1h-2zM16 221h1v1h-1zM6 222h1v1h-1zM21 222h1v1h-1zM5 223h1v1h-1z"/><path fill="#e3e0f8" d="M12 13h1v1h-1zM12 14h1v1h-1zM13 22h1v1h-1zM12 26h1v1h-1zM9 31h1v1h-1zM12 41h1v1h-1zM2 44h1v1h-1zM10 49h1v1h-1zM12 49h1v1h-1zM14 49h1v1h-1zM13 57h1v1h-1zM12 62h1v1h-1zM20 62h1v1h-1zM24 62h1v1h-1zM12 63h1v1h-1zM25 64h1v1h-1zM16 67h1v1h-1zM18 88h1v1h-1zM13 89h1v1h-1zM12 104h1v1h-1zM14 108h1v1h-1zM14 115h1v1h-1zM0 117h1v1h-1zM12 123h1v1h-1zM25 123h1v1h-1zM16 125h1v1h-1zM13 127h1v1h-1zM16 128h1v1h-1zM16 130h1v1h-1zM13 133h1v1h-1zM14 136h1v1h-1zM22 136h1v1h-1zM13 140h1v1h-1zM2 143h1v1h-1zM8 149h1v1h-1zM12 149h1v1h-1zM24 161h1v1h-1zM13 172h1v1h-1zM10 175h1v1h-1zM12 175h1v1h-1zM14 179h1v1h-1zM12 181h1v1h-1zM19 182h1v1h-1zM10 188h1v1h-1zM12 197h1v1h-1zM10 203h1v1h-1zM14 203h1v1h-1zM10 205h1v1h-1zM13 210h1v1h-1zM10 212h1v1h-1zM18 213h1v1h-1zM12 214h1v1h-1zM23 215h1v1h-1zM27 215h1v1h-1zM9 218h1v1h-1zM11 221h1v1h-1z"/><path fill="#d8d8fa" d="M14 13h1v1h-1zM13 17h2v1h-2zM13 21h1v1h-1zM12 27h1v1h-1zM14 29h1v1h-1zM12 37h1v1h-1zM13 38h1v1h-1zM9 41h1v1h-1zM14 53h1v1h-1zM23 54h1v1h-1zM14 55h1v1h-1zM14 59h1v1h-1zM22 62h1v1h-1zM16 63h1v1h-1zM13 64h1v1h-1zM13 66h1v1h-1zM10 70h1v1h-1zM12 70h1v1h-1zM27 76h1v1h-1zM10 98h1v1h-1zM9 105h1v1h-1zM13 106h1v1h-1zM25 107h1v1h-1zM23 114h1v1h-1zM21 115h1v1h-1zM22 116h1v1h-1zM1 120h1v1h-1zM21 121h1v1h-1zM0 123h1v1h-1zM24 125h1v1h-1zM27 128h1v1h-1zM0 129h1v1h-1zM9 132h1v1h-1zM9 137h1v1h-1zM11 138h1v1h-1zM4 139h1v1h-1zM4 140h1v1h-1zM1 141h1v1h-1zM14 147h1v1h-1zM0 151h1v1h-1zM9 155h1v1h-1zM14 158h1v1h-1zM2 163h1v1h-1zM1 175h1v1h-1zM27 182h1v1h-1zM27 185h1v1h-1zM12 187h1v1h-1zM2 188h1v1h-1zM14 192h1v1h-1zM0 196h1v1h-1zM13 198h1v1h-1zM9 201h2v1h-2zM12 202h2v1h-2zM1 212h1v1h-1zM13 212h1v1h-1zM9 213h1v1h-1zM11 213h1v1h-1zM14 213h1v1h-1zM23 213h1v1h-1zM4 217h1v1h-1zM16 217h1v1h-1zM12 219h1v1h-1zM12 223h1v1h-1zM14 224h1v1h-1z"/><path fill="#9999f4" d="M9 15h1v1h-1zM14 16h1v1h-1zM14 18h1v1h-1zM13 43h1v1h-1zM14 44h1v1h-1zM12 46h1v1h-1zM9 49h1v1h-1zM23 62h1v1h-1zM14 64h1v1h-1zM12 76h1v1h-1zM14 86h1v1h-1zM12 91h1v1h-1zM13 97h1v1h-1zM14 101h1v1h-1zM22 107h1v1h-1zM22 109h1v1h-1zM27 112h1v1h-1zM20 115h1v1h-1zM1 116h2v1h-2zM21 116h1v1h-1zM14 117h1v1h-1zM16 123h1v1h-1zM14 124h1v1h-1zM18 125h1v1h-1zM2 126h1v1h-1zM1 128h2v1h-2zM21 128h1v1h-1zM24 128h1v1h-1zM2 135h1v1h-1zM12 138h1v1h-1zM9 139h1v1h-1zM12 139h1v1h-1zM10 141h1v1h-1zM0 143h1v1h-1zM10 143h1v1h-1zM2 148h1v1h-1zM10 149h1v1h-1zM1 150h1v1h-1zM14 154h1v1h-1zM21 161h1v1h-1zM1 162h1v1h-1zM12 163h1v1h-1zM16 166h1v1h-1zM12 184h1v1h-1zM25 185h1v1h-1zM22 188h1v1h-1zM27 188h1v1h-1zM13 189h1v1h-1zM10 196h1v1h-1zM18 207h1v1h-1zM24 210h1v1h-1zM12 211h1v1h-1zM24 212h1v1h-1zM27 212h1v1h-1zM27 217h1v1h-1zM27 221h1v1h-1zM2 224h1v1h-1z"/><path fill="#b4b4f6" d="M12 19h1v1h-1zM14 27h1v1h-1zM1 37h1v1h-1zM0 44h1v1h-1zM13 53h1v1h-1zM24 56h1v1h-1zM12 57h1v1h-1zM12 67h2v1h-2zM13 73h1v1h-1zM12 87h1v1h-1zM10 94h1v1h-1zM17 107h1v1h-1zM23 107h2v1h-2zM16 115h1v1h-1zM20 116h1v1h-1zM2 117h1v1h-1zM13 119h1v1h-1zM2 120h1v1h-1zM0 131h1v1h-1zM14 131h1v1h-1zM24 132h1v1h-1zM23 135h1v1h-1zM24 136h1v1h-1zM9 138h1v1h-1zM18 140h1v1h-1zM2 151h1v1h-1zM11 153h1v1h-1zM14 153h1v1h-1zM9 161h1v1h-1zM12 166h1v1h-1zM10 170h1v1h-1zM27 172h1v1h-1zM1 182h1v1h-1zM23 182h1v1h-1zM15 184h1v1h-1zM21 184h1v1h-1zM10 185h1v1h-1zM1 191h1v1h-1zM13 194h1v1h-1zM18 208h1v1h-1zM21 208h1v1h-1zM23 210h1v1h-1zM27 210h1v1h-1zM21 217h1v1h-1zM24 217h1v1h-1zM14 218h1v1h-1z"/><path fill="#adadf6" d="M14 24h1v1h-1zM13 41h1v1h-1zM14 45h1v1h-1zM13 74h1v1h-1zM16 86h1v1h-1zM13 93h1v1h-1zM9 98h1v1h-1zM13 98h1v1h-1zM13 108h1v1h-1zM22 108h1v1h-1zM12 109h1v1h-1zM20 112h1v1h-1zM13 113h1v1h-1zM16 113h1v1h-1zM13 114h1v1h-1zM22 115h2v1h-2zM16 116h1v1h-1zM13 117h1v1h-1zM13 126h1v1h-1zM0 127h1v1h-1zM0 128h1v1h-1zM23 132h1v1h-1zM23 137h1v1h-1zM27 137h1v1h-1zM10 140h1v1h-1zM1 142h1v1h-1zM14 143h1v1h-1zM13 148h1v1h-1zM10 153h1v1h-1zM12 154h1v1h-1zM10 156h1v1h-1zM10 157h1v1h-1zM14 160h1v1h-1zM1 161h1v1h-1zM1 164h1v1h-1zM12 167h1v1h-1zM12 170h1v1h-1zM21 170h1v1h-1zM13 173h1v1h-1zM24 182h1v1h-1zM1 183h1v1h-1zM27 183h1v1h-1zM17 185h1v1h-1zM16 187h1v1h-1zM12 190h1v1h-1zM10 197h1v1h-1zM10 207h1v1h-1zM14 208h1v1h-1zM13 209h1v1h-1zM16 210h1v1h-1zM1 211h1v1h-1zM24 211h1v1h-1zM13 213h1v1h-1zM21 213h1v1h-1z"/><path fill="#dddcf9" d="M9 25h1v1h-1zM12 31h1v1h-1zM21 33h1v1h-1zM13 48h1v1h-1zM22 55h1v1h-1zM16 66h1v1h-1zM14 68h1v1h-1zM10 69h1v1h-1zM9 71h1v1h-1zM10 72h1v1h-1zM12 75h1v1h-1zM12 77h1v1h-1zM12 78h1v1h-1zM13 92h1v1h-1zM14 102h1v1h-1zM9 104h1v1h-1zM13 104h1v1h-1zM9 106h1v1h-1zM15 107h1v1h-1zM4 112h1v1h-1zM15 113h1v1h-1zM23 113h1v1h-1zM16 114h1v1h-1zM18 115h2v1h-2zM14 116h1v1h-1zM25 116h1v1h-1zM0 121h1v1h-1zM14 123h1v1h-1zM23 123h1v1h-1zM27 123h1v1h-1zM9 136h1v1h-1zM16 138h1v1h-1zM11 139h1v1h-1zM13 139h1v1h-1zM4 141h1v1h-1zM11 141h1v1h-1zM12 148h1v1h-1zM24 154h1v1h-1zM9 156h1v1h-1zM9 157h1v1h-1zM9 160h1v1h-1zM1 163h1v1h-1zM26 163h1v1h-1zM14 167h1v1h-1zM9 175h1v1h-1zM12 186h1v1h-1zM23 186h1v1h-1zM27 186h1v1h-1zM16 188h1v1h-1zM12 189h1v1h-1zM13 191h1v1h-1zM26 195h1v1h-1zM11 197h1v1h-1zM10 198h1v1h-1zM14 204h1v1h-1zM21 210h2v1h-2zM23 214h1v1h-1z"/><path fill="#a5a5f5" d="M13 27h1v1h-1zM0 37h1v1h-1zM10 45h1v1h-1zM13 49h1v1h-1zM10 64h1v1h-1zM10 65h1v1h-1zM12 73h1v1h-1zM14 74h1v1h-1zM21 107h1v1h-1zM27 107h1v1h-1zM23 108h1v1h-1zM12 110h1v1h-1zM9 116h1v1h-1zM16 120h1v1h-1zM23 130h1v1h-1zM21 132h1v1h-1zM21 135h1v1h-1zM11 140h1v1h-1zM27 140h1v1h-1zM21 163h1v1h-1zM14 174h1v1h-1zM2 182h1v1h-1zM12 183h1v1h-1zM23 183h1v1h-1zM14 185h1v1h-1zM16 185h1v1h-1zM24 185h1v1h-1zM22 187h2v1h-2zM23 188h1v1h-1zM18 189h1v1h-1zM2 190h1v1h-1zM2 192h1v1h-1zM13 195h1v1h-1zM22 195h1v1h-1zM11 196h1v1h-1zM1 199h1v1h-1zM11 207h1v1h-1zM13 208h1v1h-1zM2 212h1v1h-1zM16 212h1v1h-1zM18 212h1v1h-1zM24 213h1v1h-1zM14 215h1v1h-1zM16 215h1v1h-1zM18 215h1v1h-1zM21 215h1v1h-1zM12 221h1v1h-1z"/></g>
<g transform="translate(509.70 78.20) scale(14.5680 6.7627)" shape-rendering="crispEdges"><path fill="#f56a6a" d="M0 0h1v1h-1zM1 1h2v1h-2zM0 2h1v1h-1zM3 5h1v1h-1zM1 7h1v1h-1zM5 7h1v1h-1zM4 8h2v1h-2zM0 9h1v1h-1zM5 11h1v1h-1zM2 13h1v1h-1zM0 14h2v1h-2zM2 15h1v1h-1zM5 18h1v1h-1zM2 19h1v1h-1zM4 19h1v1h-1zM2 21h1v1h-1zM3 22h1v1h-1zM5 23h1v1h-1zM2 25h1v1h-1zM4 25h1v1h-1zM5 27h1v1h-1zM2 28h1v1h-1zM5 28h1v1h-1zM5 29h1v1h-1zM5 31h1v1h-1zM4 34h1v1h-1zM2 36h1v1h-1zM4 39h1v1h-1zM5 40h1v1h-1zM4 47h1v1h-1zM5 48h1v1h-1zM5 51h1v1h-1zM4 53h1v1h-1zM0 56h1v1h-1zM1 57h1v1h-1zM3 57h1v1h-1zM3 59h1v1h-1zM4 60h1v1h-1zM5 61h1v1h-1zM4 62h1v1h-1zM2 79h1v1h-1zM4 80h2v1h-2zM2 82h2v1h-2zM5 87h1v1h-1zM2 89h2v1h-2zM4 90h2v1h-2zM5 92h1v1h-1zM5 93h1v1h-1zM3 94h1v1h-1zM5 95h1v1h-1zM0 97h1v1h-1zM2 101h1v1h-1zM4 102h1v1h-1zM3 104h1v1h-1zM3 106h1v1h-1zM5 106h1v1h-1zM5 180h1v1h-1zM5 183h1v1h-1zM2 189h1v1h-1z"/><path fill="#f67272" d="M1 0h1v1h-1zM4 0h1v1h-1zM3 1h1v1h-1zM2 3h1v1h-1zM3 4h1v1h-1zM5 5h1v1h-1zM1 6h1v1h-1zM4 7h1v1h-1zM0 8h1v1h-1zM5 10h1v1h-1zM4 11h1v1h-1zM4 18h1v1h-1zM5 21h1v1h-1zM4 22h1v1h-1zM3 23h1v1h-1zM5 25h1v1h-1zM2 26h4v1h-4zM3 30h1v1h-1zM5 32h1v1h-1zM2 33h2v1h-2zM3 34h1v1h-1zM3 36h1v1h-1zM2 45h2v1h-2zM3 46h1v1h-1zM5 46h1v1h-1zM5 47h1v1h-1zM4 48h1v1h-1zM3 51h2v1h-2zM2 58h1v1h-1zM4 59h1v1h-1zM4 75h1v1h-1zM4 77h1v1h-1zM4 78h1v1h-1zM4 79h2v1h-2zM3 80h1v1h-1zM2 81h1v1h-1zM4 84h2v1h-2zM3 86h1v1h-1zM3 87h1v1h-1zM2 88h1v1h-1zM2 95h2v1h-2zM2 100h1v1h-1zM5 100h1v1h-1zM5 102h1v1h-1zM2 103h1v1h-1zM2 105h1v1h-1zM2 106h1v1h-1zM4 106h1v1h-1zM5 189h1v1h-1zM4 207h1v1h-1z"/><path fill="#f64e4e" d="M2 0h2v1h-2zM0 1h1v1h-1zM3 3h1v1h-1zM4 5h1v1h-1zM2 7h1v1h-1zM2 8h1v1h-1zM3 9h2v1h-2zM0 10h4v1h-4zM3 11h1v1h-1zM3 12h1v1h-1zM2 14h1v1h-1zM0 15h1v1h-1zM4 16h1v1h-1zM2 18h1v1h-1zM4 21h1v1h-1zM2 22h1v1h-1zM4 23h1v1h-1zM3 25h1v1h-1zM0 27h1v1h-1zM2 29h1v1h-1zM2 30h1v1h-1zM5 30h1v1h-1zM15 33h1v1h-1zM2 35h1v1h-1zM4 41h1v1h-1zM2 48h1v1h-1zM3 50h1v1h-1zM2 51h1v1h-1zM2 53h1v1h-1zM2 54h1v1h-1zM4 56h1v1h-1zM0 58h2v1h-2zM4 61h1v1h-1zM5 68h1v1h-1zM4 71h2v1h-2zM2 76h1v1h-1zM5 76h1v1h-1zM2 78h2v1h-2zM2 80h1v1h-1zM4 81h1v1h-1zM5 83h1v1h-1zM2 86h1v1h-1zM3 93h1v1h-1zM4 94h2v1h-2zM4 95h1v1h-1zM1 97h1v1h-1zM3 100h2v1h-2zM5 101h1v1h-1zM2 104h1v1h-1zM4 104h1v1h-1zM5 105h1v1h-1zM2 155h1v1h-1zM2 158h1v1h-1zM2 198h1v1h-1z"/><path fill="#f65858" d="M5 0h1v1h-1zM3 2h1v1h-1zM0 3h1v1h-1zM1 4h2v1h-2zM0 5h1v1h-1zM2 5h1v1h-1zM0 7h1v1h-1zM3 7h1v1h-1zM5 9h1v1h-1zM0 11h3v1h-3zM2 12h1v1h-1zM0 13h1v1h-1zM3 13h1v1h-1zM1 15h1v1h-1zM4 15h1v1h-1zM0 16h1v1h-1zM2 20h1v1h-1zM4 20h1v1h-1zM3 21h1v1h-1zM1 27h3v1h-3zM3 29h2v1h-2zM3 31h1v1h-1zM2 32h3v1h-3zM4 36h1v1h-1zM4 45h2v1h-2zM2 47h1v1h-1zM3 48h1v1h-1zM2 49h1v1h-1zM5 50h1v1h-1zM4 52h2v1h-2zM2 55h3v1h-3zM3 56h1v1h-1zM0 57h1v1h-1zM2 57h1v1h-1zM5 57h1v1h-1zM3 58h1v1h-1zM5 58h1v1h-1zM2 75h1v1h-1zM4 76h1v1h-1zM3 77h1v1h-1zM5 77h1v1h-1zM3 79h1v1h-1zM3 81h1v1h-1zM5 81h1v1h-1zM4 82h2v1h-2zM4 83h1v1h-1zM2 87h1v1h-1zM4 87h1v1h-1zM3 88h1v1h-1zM5 88h1v1h-1zM4 89h1v1h-1zM2 92h1v1h-1zM4 92h1v1h-1zM2 93h1v1h-1zM4 93h1v1h-1zM2 94h1v1h-1zM4 96h1v1h-1zM1 98h1v1h-1zM4 101h1v1h-1zM5 104h1v1h-1zM4 105h1v1h-1zM0 159h1v1h-1z"/><path fill="#fcf4f4" d="M6 0h1v1h-1zM10 0h1v1h-1zM15 0h1v1h-1zM14 1h1v1h-1zM22 1h1v1h-1zM13 3h1v1h-1zM18 3h1v1h-1zM22 3h1v1h-1zM19 5h1v1h-1zM14 6h1v1h-1zM10 7h1v1h-1zM15 7h1v1h-1zM18 8h1v1h-1zM13 10h2v1h-2zM18 11h1v1h-1zM14 12h1v1h-1zM17 12h1v1h-1zM7 13h1v1h-1zM13 13h1v1h-1zM10 14h1v1h-1zM20 14h1v1h-1zM7 16h1v1h-1zM18 17h1v1h-1zM11 19h2v1h-2zM23 19h1v1h-1zM7 23h1v1h-1zM10 23h2v1h-2zM22 23h1v1h-1zM9 24h1v1h-1zM11 24h1v1h-1zM6 27h1v1h-1zM14 27h1v1h-1zM13 28h1v1h-1zM23 28h1v1h-1zM12 29h1v1h-1zM9 30h1v1h-1zM15 30h1v1h-1zM17 31h1v1h-1zM13 32h1v1h-1zM22 33h1v1h-1zM13 37h1v1h-1zM22 41h1v1h-1zM7 43h1v1h-1zM6 46h1v1h-1zM10 46h1v1h-1zM14 46h2v1h-2zM7 47h3v1h-3zM22 50h1v1h-1zM15 51h1v1h-1zM22 51h1v1h-1zM9 52h2v1h-2zM12 53h1v1h-1zM13 54h1v1h-1zM20 54h1v1h-1zM7 55h1v1h-1zM12 55h1v1h-1zM19 55h1v1h-1zM11 57h1v1h-1zM6 58h1v1h-1zM17 58h1v1h-1zM7 65h1v1h-1zM14 65h1v1h-1zM20 68h1v1h-1zM8 69h1v1h-1zM11 69h1v1h-1zM6 70h1v1h-1zM7 71h2v1h-2zM12 71h1v1h-1zM0 72h1v1h-1zM6 72h1v1h-1zM7 73h2v1h-2zM11 74h1v1h-1zM9 77h1v1h-1zM9 79h1v1h-1zM6 83h1v1h-1zM10 84h1v1h-1zM14 85h1v1h-1zM6 88h1v1h-1zM12 89h1v1h-1zM7 90h1v1h-1zM11 90h1v1h-1zM8 94h1v1h-1zM12 94h1v1h-1zM13 100h1v1h-1zM11 102h1v1h-1zM12 105h1v1h-1zM22 106h1v1h-1zM8 107h1v1h-1zM5 110h1v1h-1zM14 114h1v1h-1zM7 117h1v1h-1zM0 119h1v1h-1zM4 120h1v1h-1zM4 123h1v1h-1zM4 127h1v1h-1zM7 133h1v1h-1zM10 137h1v1h-1zM2 138h1v1h-1zM14 142h1v1h-1zM8 143h1v1h-1zM15 145h1v1h-1zM9 146h1v1h-1zM14 146h1v1h-1zM16 147h1v1h-1zM1 148h1v1h-1zM19 148h1v1h-1zM8 150h1v1h-1zM10 155h1v1h-1zM0 157h1v1h-1zM14 158h1v1h-1zM17 161h1v1h-1zM15 162h1v1h-1zM11 163h1v1h-1zM10 164h1v1h-1zM7 166h1v1h-1zM10 166h1v1h-1zM22 168h1v1h-1zM8 169h1v1h-1zM14 170h1v1h-1zM20 170h1v1h-1zM13 171h1v1h-1zM11 176h1v1h-1zM13 179h1v1h-1zM17 184h1v1h-1zM3 187h1v1h-1zM8 188h1v1h-1zM8 192h1v1h-1zM12 192h1v1h-1zM6 195h1v1h-1zM22 196h1v1h-1zM6 197h1v1h-1zM3 201h1v1h-1zM12 205h1v1h-1zM9 206h1v1h-1zM8 207h1v1h-1zM11 209h1v1h-1zM11 211h1v1h-1zM9 213h1v1h-1zM2 217h1v1h-1zM12 218h1v1h-1zM7 219h1v1h-1zM10 221h1v1h-1zM10 222h1v1h-1z"/><path fill="#fababa" d="M7 0h1v1h-1zM13 1h1v1h-1zM8 2h1v1h-1zM10 2h1v1h-1zM15 3h1v1h-1zM6 4h1v1h-1zM9 4h1v1h-1zM13 4h1v1h-1zM10 6h1v1h-1zM12 6h1v1h-1zM6 7h1v1h-1zM11 7h1v1h-1zM13 7h1v1h-1zM7 8h1v1h-1zM6 9h3v1h-3zM9 10h1v1h-1zM9 11h1v1h-1zM8 14h1v1h-1zM22 15h1v1h-1zM4 17h2v1h-2zM7 19h1v1h-1zM7 20h1v1h-1zM7 22h1v1h-1zM10 22h1v1h-1zM9 23h1v1h-1zM14 23h1v1h-1zM7 24h1v1h-1zM15 25h1v1h-1zM10 28h1v1h-1zM11 35h1v1h-1zM7 37h1v1h-1zM9 37h1v1h-1zM10 38h1v1h-1zM8 39h1v1h-1zM1 40h1v1h-1zM11 40h1v1h-1zM15 40h1v1h-1zM11 42h1v1h-1zM6 43h1v1h-1zM3 44h1v1h-1zM12 44h2v1h-2zM8 46h1v1h-1zM15 53h1v1h-1zM10 54h1v1h-1zM0 55h1v1h-1zM9 55h1v1h-1zM15 57h1v1h-1zM9 60h2v1h-2zM8 65h1v1h-1zM12 66h1v1h-1zM1 70h1v1h-1zM7 70h1v1h-1zM1 73h1v1h-1zM0 74h1v1h-1zM0 76h1v1h-1zM7 76h1v1h-1zM8 77h1v1h-1zM12 78h1v1h-1zM10 80h1v1h-1zM7 81h1v1h-1zM10 81h1v1h-1zM1 84h1v1h-1zM5 85h1v1h-1zM12 88h1v1h-1zM0 90h1v1h-1zM13 96h1v1h-1zM7 102h1v1h-1zM1 103h1v1h-1zM7 103h1v1h-1zM0 105h2v1h-2zM0 106h1v1h-1zM5 118h1v1h-1zM3 119h1v1h-1zM1 123h1v1h-1zM0 124h1v1h-1zM0 125h1v1h-1zM1 129h1v1h-1zM4 129h1v1h-1zM2 132h1v1h-1zM4 132h1v1h-1zM1 133h1v1h-1zM2 134h1v1h-1zM4 134h1v1h-1zM0 137h1v1h-1zM8 142h1v1h-1zM3 143h1v1h-1zM7 143h1v1h-1zM9 144h1v1h-1zM6 146h1v1h-1zM14 147h1v1h-1zM14 148h1v1h-1zM1 153h1v1h-1zM14 153h1v1h-1zM3 159h1v1h-1zM3 160h1v1h-1zM13 161h1v1h-1zM5 162h1v1h-1zM13 162h1v1h-1zM5 163h1v1h-1zM0 168h1v1h-1zM1 170h1v1h-1zM5 172h1v1h-1zM2 173h1v1h-1zM3 178h1v1h-1zM3 182h1v1h-1zM5 182h1v1h-1zM3 183h1v1h-1zM5 184h1v1h-1zM2 185h1v1h-1zM2 187h1v1h-1zM2 190h1v1h-1zM4 190h2v1h-2zM6 196h1v1h-1zM0 199h1v1h-1zM1 204h1v1h-1zM6 205h1v1h-1zM0 208h1v1h-1zM5 211h1v1h-1zM0 215h1v1h-1zM3 216h1v1h-1zM0 217h1v1h-1zM4 219h1v1h-1zM5 221h1v1h-1zM1 222h1v1h-1zM11 222h1v1h-1zM4 223h1v1h-1z"/><path fill="#fac8c8" d="M8 0h1v1h-1zM7 1h1v1h-1zM7 2h1v1h-1zM9 2h1v1h-1zM11 3h1v1h-1zM14 4h1v1h-1zM8 5h1v1h-1zM7 7h1v1h-1zM9 7h1v1h-1zM9 8h1v1h-1zM12 8h1v1h-1zM7 10h1v1h-1zM10 10h2v1h-2zM10 11h1v1h-1zM12 13h1v1h-1zM6 14h1v1h-1zM14 17h1v1h-1zM6 18h1v1h-1zM6 19h1v1h-1zM6 20h1v1h-1zM6 21h1v1h-1zM14 21h1v1h-1zM14 22h1v1h-1zM15 23h1v1h-1zM6 25h1v1h-1zM8 25h1v1h-1zM10 26h1v1h-1zM7 27h1v1h-1zM7 28h1v1h-1zM10 33h1v1h-1zM1 34h1v1h-1zM15 35h1v1h-1zM12 36h1v1h-1zM15 41h1v1h-1zM13 42h1v1h-1zM8 43h1v1h-1zM14 43h1v1h-1zM10 45h1v1h-1zM7 48h1v1h-1zM6 49h1v1h-1zM8 50h1v1h-1zM14 50h1v1h-1zM12 52h1v1h-1zM0 54h1v1h-1zM12 56h1v1h-1zM12 57h1v1h-1zM23 57h1v1h-1zM10 59h1v1h-1zM12 59h1v1h-1zM7 60h1v1h-1zM11 60h1v1h-1zM2 61h1v1h-1zM8 61h2v1h-2zM6 62h1v1h-1zM3 65h1v1h-1zM8 66h1v1h-1zM12 68h1v1h-1zM5 74h1v1h-1zM8 75h1v1h-1zM15 76h1v1h-1zM7 77h1v1h-1zM0 78h1v1h-1zM10 79h1v1h-1zM7 80h1v1h-1zM6 81h1v1h-1zM1 83h1v1h-1zM13 98h1v1h-1zM13 112h1v1h-1zM5 121h1v1h-1zM12 122h1v1h-1zM0 123h1v1h-1zM4 124h2v1h-2zM1 125h1v1h-1zM2 128h1v1h-1zM0 132h1v1h-1zM0 133h1v1h-1zM2 137h1v1h-1zM3 140h1v1h-1zM6 142h1v1h-1zM2 144h1v1h-1zM8 144h1v1h-1zM22 148h1v1h-1zM0 153h1v1h-1zM3 153h2v1h-2zM15 153h1v1h-1zM13 154h1v1h-1zM5 155h1v1h-1zM15 155h1v1h-1zM3 158h1v1h-1zM2 159h1v1h-1zM14 161h1v1h-1zM1 163h1v1h-1zM3 164h1v1h-1zM5 164h1v1h-1zM11 164h1v1h-1zM4 169h1v1h-1zM0 170h1v1h-1zM2 172h1v1h-1zM3 174h2v1h-2zM4 176h1v1h-1zM1 178h1v1h-1zM4 179h1v1h-1zM2 181h1v1h-1zM4 185h1v1h-1zM5 186h1v1h-1zM5 191h1v1h-1zM5 192h1v1h-1zM8 193h1v1h-1zM2 194h1v1h-1zM5 194h1v1h-1zM11 197h1v1h-1zM12 198h1v1h-1zM3 199h1v1h-1zM2 200h1v1h-1zM4 202h2v1h-2zM12 202h1v1h-1zM9 204h1v1h-1zM5 205h1v1h-1zM1 207h2v1h-2zM2 208h1v1h-1zM1 209h1v1h-1zM2 210h1v1h-1zM4 211h1v1h-1zM10 214h1v1h-1zM12 215h1v1h-1zM1 221h1v1h-1zM8 222h1v1h-1zM5 223h1v1h-1z"/><path fill="#fac0c0" d="M9 0h1v1h-1zM10 1h1v1h-1zM11 2h1v1h-1zM12 4h1v1h-1zM11 5h2v1h-2zM7 6h1v1h-1zM11 6h1v1h-1zM14 7h1v1h-1zM11 8h1v1h-1zM9 9h1v1h-1zM6 10h1v1h-1zM12 10h1v1h-1zM6 11h1v1h-1zM22 12h1v1h-1zM14 13h1v1h-1zM17 14h1v1h-1zM3 17h1v1h-1zM6 17h1v1h-1zM22 17h1v1h-1zM7 18h1v1h-1zM10 18h1v1h-1zM14 19h1v1h-1zM11 22h1v1h-1zM6 23h1v1h-1zM8 23h1v1h-1zM13 23h1v1h-1zM0 24h2v1h-2zM15 29h1v1h-1zM6 33h1v1h-1zM9 33h1v1h-1zM0 36h1v1h-1zM9 36h2v1h-2zM8 37h1v1h-1zM10 37h1v1h-1zM14 37h1v1h-1zM8 38h1v1h-1zM13 38h2v1h-2zM13 39h1v1h-1zM22 39h1v1h-1zM6 40h1v1h-1zM10 41h1v1h-1zM4 42h1v1h-1zM7 42h1v1h-1zM7 44h1v1h-1zM9 44h1v1h-1zM14 44h1v1h-1zM7 45h1v1h-1zM7 49h1v1h-1zM14 53h1v1h-1zM4 54h1v1h-1zM8 55h1v1h-1zM6 59h1v1h-1zM8 59h2v1h-2zM11 59h1v1h-1zM12 60h1v1h-1zM10 61h1v1h-1zM3 62h1v1h-1zM12 64h1v1h-1zM5 65h1v1h-1zM9 65h1v1h-1zM12 65h1v1h-1zM1 67h1v1h-1zM10 67h1v1h-1zM0 69h1v1h-1zM5 69h1v1h-1zM2 70h2v1h-2zM7 72h1v1h-1zM1 74h1v1h-1zM6 75h1v1h-1zM12 75h1v1h-1zM15 75h1v1h-1zM11 78h1v1h-1zM0 79h1v1h-1zM8 81h1v1h-1zM12 82h1v1h-1zM0 83h1v1h-1zM12 87h1v1h-1zM0 88h1v1h-1zM6 89h1v1h-1zM1 90h1v1h-1zM7 91h1v1h-1zM12 93h1v1h-1zM14 97h1v1h-1zM0 103h1v1h-1zM0 104h2v1h-2zM1 106h1v1h-1zM5 117h1v1h-1zM8 118h1v1h-1zM4 121h1v1h-1zM2 125h1v1h-1zM1 127h1v1h-1zM1 128h1v1h-1zM2 129h1v1h-1zM2 131h1v1h-1zM1 132h1v1h-1zM2 133h1v1h-1zM0 134h1v1h-1zM4 135h1v1h-1zM2 140h1v1h-1zM4 143h1v1h-1zM6 143h1v1h-1zM13 147h1v1h-1zM3 148h1v1h-1zM6 150h1v1h-1zM5 151h1v1h-1zM15 154h1v1h-1zM3 156h2v1h-2zM5 157h1v1h-1zM2 176h1v1h-1zM3 177h1v1h-1zM3 179h1v1h-1zM2 182h1v1h-1zM0 184h1v1h-1zM15 184h1v1h-1zM1 187h1v1h-1zM8 187h1v1h-1zM3 190h1v1h-1zM11 191h1v1h-1zM2 192h1v1h-1zM0 193h1v1h-1zM3 193h2v1h-2zM11 194h1v1h-1zM0 197h1v1h-1zM1 198h1v1h-1zM10 198h1v1h-1zM0 201h1v1h-1zM3 202h1v1h-1zM3 206h1v1h-1zM3 209h1v1h-1zM5 209h1v1h-1zM1 210h1v1h-1zM1 211h1v1h-1zM5 212h1v1h-1zM6 214h1v1h-1zM1 216h1v1h-1zM3 217h1v1h-1zM4 221h1v1h-1zM4 222h1v1h-1zM5 224h1v1h-1z"/><path fill="#e3e0f8" d="M11 0h1v1h-1zM22 0h1v1h-1zM16 1h1v1h-1zM19 3h1v1h-1zM20 6h1v1h-1zM17 8h1v1h-1zM13 9h1v1h-1zM21 9h1v1h-1zM16 12h1v1h-1zM18 14h1v1h-1zM9 16h1v1h-1zM2 17h1v1h-1zM23 17h1v1h-1zM9 19h1v1h-1zM19 20h1v1h-1zM10 24h1v1h-1zM12 24h1v1h-1zM17 25h1v1h-1zM11 26h1v1h-1zM17 27h1v1h-1zM19 31h1v1h-1zM17 32h1v1h-1zM21 38h1v1h-1zM20 39h1v1h-1zM21 40h1v1h-1zM9 42h1v1h-1zM23 42h1v1h-1zM13 48h1v1h-1zM16 48h1v1h-1zM17 49h1v1h-1zM18 50h1v1h-1zM17 51h2v1h-2zM21 51h1v1h-1zM21 53h2v1h-2zM23 54h1v1h-1zM20 55h2v1h-2zM17 57h1v1h-1zM16 59h1v1h-1zM12 63h1v1h-1zM14 63h3v1h-3zM13 74h1v1h-1zM11 85h1v1h-1zM14 86h1v1h-1zM11 88h1v1h-1zM8 91h1v1h-1zM7 92h1v1h-1zM13 94h1v1h-1zM7 95h1v1h-1zM17 95h1v1h-1zM21 95h1v1h-1zM20 96h1v1h-1zM9 100h1v1h-1zM21 100h1v1h-1zM22 101h1v1h-1zM15 103h1v1h-1zM11 104h1v1h-1zM7 105h1v1h-1zM11 105h1v1h-1zM13 109h1v1h-1zM12 116h1v1h-1zM17 116h1v1h-1zM4 117h1v1h-1zM12 117h1v1h-1zM2 119h1v1h-1zM8 120h1v1h-1zM12 120h1v1h-1zM2 122h1v1h-1zM20 123h1v1h-1zM3 124h1v1h-1zM0 126h1v1h-1zM16 131h1v1h-1zM3 133h1v1h-1zM3 135h1v1h-1zM2 136h1v1h-1zM12 137h1v1h-1zM10 140h1v1h-1zM7 141h1v1h-1zM1 143h1v1h-1zM20 143h1v1h-1zM21 145h2v1h-2zM19 146h1v1h-1zM16 148h1v1h-1zM18 149h1v1h-1zM6 151h1v1h-1zM9 151h1v1h-1zM12 154h1v1h-1zM13 156h1v1h-1zM18 156h1v1h-1zM19 157h1v1h-1zM17 159h1v1h-1zM17 160h1v1h-1zM21 163h2v1h-2zM13 164h1v1h-1zM15 164h1v1h-1zM20 165h2v1h-2zM11 166h1v1h-1zM15 167h1v1h-1zM15 169h1v1h-1zM22 172h1v1h-1zM9 173h1v1h-1zM9 175h1v1h-1zM21 176h1v1h-1zM21 177h1v1h-1zM10 181h1v1h-1zM13 181h1v1h-1zM8 182h1v1h-1zM10 183h1v1h-1zM6 184h1v1h-1zM8 185h1v1h-1zM7 192h1v1h-1zM11 196h1v1h-1zM7 197h1v1h-1zM22 197h1v1h-1zM17 198h1v1h-1zM22 202h1v1h-1zM6 206h1v1h-1zM7 207h1v1h-1zM6 209h1v1h-1zM12 209h1v1h-1zM8 211h1v1h-1zM12 211h1v1h-1zM1 212h1v1h-1zM6 212h2v1h-2zM10 212h1v1h-1zM7 214h1v1h-1zM12 217h1v1h-1zM17 219h1v1h-1zM7 221h1v1h-1zM22 224h1v1h-1z"/><path fill="#f1ecf6" d="M12 0h1v1h-1zM14 0h1v1h-1zM18 0h1v1h-1zM21 0h1v1h-1zM11 1h1v1h-1zM17 1h1v1h-1zM9 6h1v1h-1zM15 6h1v1h-1zM19 6h1v1h-1zM19 10h1v1h-1zM13 11h2v1h-2zM23 13h1v1h-1zM7 14h1v1h-1zM7 15h1v1h-1zM16 15h1v1h-1zM21 15h1v1h-1zM10 17h2v1h-2zM13 17h1v1h-1zM17 17h1v1h-1zM12 18h1v1h-1zM21 18h1v1h-1zM23 18h1v1h-1zM9 20h1v1h-1zM17 20h1v1h-1zM22 20h1v1h-1zM11 21h1v1h-1zM19 21h1v1h-1zM22 21h1v1h-1zM13 22h1v1h-1zM17 23h1v1h-1zM14 24h1v1h-1zM9 26h1v1h-1zM22 27h1v1h-1zM6 29h1v1h-1zM13 29h1v1h-1zM6 30h1v1h-1zM14 34h2v1h-2zM12 37h1v1h-1zM20 38h1v1h-1zM9 39h1v1h-1zM11 39h1v1h-1zM17 40h1v1h-1zM6 42h1v1h-1zM15 42h1v1h-1zM12 46h1v1h-1zM14 47h1v1h-1zM8 48h1v1h-1zM15 48h1v1h-1zM15 49h1v1h-1zM6 50h2v1h-2zM17 50h1v1h-1zM10 51h1v1h-1zM6 52h1v1h-1zM11 52h1v1h-1zM19 53h1v1h-1zM11 54h1v1h-1zM15 54h1v1h-1zM19 54h1v1h-1zM14 55h1v1h-1zM16 56h1v1h-1zM18 56h1v1h-1zM22 57h1v1h-1zM11 58h1v1h-1zM6 60h1v1h-1zM14 60h1v1h-1zM7 61h1v1h-1zM2 62h1v1h-1zM10 62h1v1h-1zM12 62h1v1h-1zM14 62h1v1h-1zM6 63h1v1h-1zM9 64h1v1h-1zM15 68h1v1h-1zM7 69h1v1h-1zM11 70h1v1h-1zM6 73h1v1h-1zM9 76h1v1h-1zM12 76h1v1h-1zM6 77h1v1h-1zM10 78h1v1h-1zM6 80h1v1h-1zM9 81h1v1h-1zM10 83h1v1h-1zM22 83h1v1h-1zM6 91h1v1h-1zM6 93h1v1h-1zM13 95h1v1h-1zM8 96h1v1h-1zM16 96h1v1h-1zM9 98h1v1h-1zM17 98h1v1h-1zM11 99h1v1h-1zM6 100h1v1h-1zM15 100h1v1h-1zM3 102h1v1h-1zM12 103h1v1h-1zM7 104h1v1h-1zM8 109h1v1h-1zM11 119h1v1h-1zM10 129h1v1h-1zM4 131h1v1h-1zM11 131h1v1h-1zM1 134h1v1h-1zM1 137h1v1h-1zM0 138h1v1h-1zM6 141h1v1h-1zM9 142h1v1h-1zM2 143h1v1h-1zM19 144h1v1h-1zM8 145h1v1h-1zM12 145h1v1h-1zM3 146h1v1h-1zM7 146h1v1h-1zM2 151h1v1h-1zM8 151h1v1h-1zM15 151h1v1h-1zM14 156h1v1h-1zM17 156h1v1h-1zM14 157h1v1h-1zM4 158h1v1h-1zM6 158h1v1h-1zM10 158h1v1h-1zM22 161h1v1h-1zM23 162h1v1h-1zM15 163h1v1h-1zM0 174h1v1h-1zM15 175h1v1h-1zM5 178h1v1h-1zM14 183h1v1h-1zM14 184h1v1h-1zM0 186h1v1h-1zM7 188h1v1h-1zM22 189h1v1h-1zM7 194h1v1h-1zM1 195h1v1h-1zM7 196h1v1h-1zM5 197h1v1h-1zM11 199h1v1h-1zM17 200h1v1h-1zM9 203h1v1h-1zM11 210h1v1h-1zM3 211h1v1h-1zM9 212h1v1h-1zM4 213h1v1h-1zM4 214h1v1h-1zM9 214h1v1h-1zM7 215h1v1h-1zM9 217h1v1h-1zM13 219h1v1h-1zM6 220h1v1h-1zM6 222h1v1h-1zM12 222h1v1h-1zM4 224h1v1h-1zM7 224h2v1h-2z"/><path fill="#f7f0f5" d="M13 0h1v1h-1zM17 2h1v1h-1zM23 2h1v1h-1zM11 4h1v1h-1zM17 5h1v1h-1zM22 6h1v1h-1zM18 7h1v1h-1zM11 9h1v1h-1zM14 9h1v1h-1zM15 10h1v1h-1zM8 12h1v1h-1zM10 12h1v1h-1zM6 13h1v1h-1zM22 13h1v1h-1zM8 15h1v1h-1zM13 15h1v1h-1zM6 16h1v1h-1zM17 16h1v1h-1zM20 16h2v1h-2zM9 18h1v1h-1zM13 18h1v1h-1zM18 18h1v1h-1zM18 19h1v1h-1zM10 20h1v1h-1zM13 21h1v1h-1zM6 22h1v1h-1zM23 22h1v1h-1zM23 23h1v1h-1zM9 27h1v1h-1zM19 27h1v1h-1zM22 28h1v1h-1zM13 30h1v1h-1zM7 31h1v1h-1zM13 31h1v1h-1zM11 32h2v1h-2zM14 32h1v1h-1zM13 34h1v1h-1zM9 38h1v1h-1zM0 39h1v1h-1zM14 40h1v1h-1zM0 42h1v1h-1zM9 43h1v1h-1zM11 43h1v1h-1zM22 43h1v1h-1zM8 45h1v1h-1zM17 45h1v1h-1zM22 45h1v1h-1zM7 46h1v1h-1zM9 46h1v1h-1zM12 48h1v1h-1zM20 48h1v1h-1zM14 49h1v1h-1zM9 50h1v1h-1zM8 53h1v1h-1zM11 53h1v1h-1zM13 53h1v1h-1zM17 53h1v1h-1zM14 54h1v1h-1zM17 54h1v1h-1zM17 55h1v1h-1zM23 56h1v1h-1zM13 57h1v1h-1zM20 57h1v1h-1zM9 62h1v1h-1zM11 62h1v1h-1zM6 65h1v1h-1zM11 67h1v1h-1zM10 69h1v1h-1zM12 72h1v1h-1zM13 76h1v1h-1zM1 79h1v1h-1zM8 80h1v1h-1zM9 83h1v1h-1zM22 87h1v1h-1zM8 88h1v1h-1zM11 91h1v1h-1zM8 93h1v1h-1zM17 96h1v1h-1zM23 96h1v1h-1zM14 101h1v1h-1zM8 102h1v1h-1zM15 105h1v1h-1zM15 106h1v1h-1zM13 107h2v1h-2zM14 108h1v1h-1zM22 108h1v1h-1zM22 111h1v1h-1zM2 112h1v1h-1zM22 117h1v1h-1zM6 120h1v1h-1zM5 122h1v1h-1zM3 127h1v1h-1zM2 135h1v1h-1zM0 140h1v1h-1zM11 141h1v1h-1zM12 142h1v1h-1zM2 145h1v1h-1zM6 145h1v1h-1zM9 145h1v1h-1zM19 151h1v1h-1zM12 152h1v1h-1zM15 152h1v1h-1zM12 153h1v1h-1zM17 153h1v1h-1zM9 156h1v1h-1zM14 162h1v1h-1zM1 164h1v1h-1zM7 164h1v1h-1zM12 164h1v1h-1zM14 164h1v1h-1zM17 164h1v1h-1zM7 165h1v1h-1zM6 168h2v1h-2zM13 168h1v1h-1zM16 168h1v1h-1zM19 170h1v1h-1zM0 173h1v1h-1zM10 179h1v1h-1zM0 182h1v1h-1zM13 184h1v1h-1zM3 186h1v1h-1zM13 189h1v1h-1zM13 190h1v1h-1zM1 194h1v1h-1zM11 198h1v1h-1zM7 204h1v1h-1zM9 209h1v1h-1zM0 212h1v1h-1zM7 213h1v1h-1zM2 214h1v1h-1zM6 217h1v1h-1zM22 218h1v1h-1zM9 220h1v1h-1zM0 222h1v1h-1zM0 223h1v1h-1zM0 224h1v1h-1z"/><path fill="#d0d0f9" d="M16 0h1v1h-1zM18 1h2v1h-2zM16 4h1v1h-1zM16 5h1v1h-1zM20 5h1v1h-1zM16 6h1v1h-1zM20 7h1v1h-1zM22 7h1v1h-1zM16 9h1v1h-1zM6 12h1v1h-1zM15 13h2v1h-2zM14 16h1v1h-1zM16 16h1v1h-1zM9 21h1v1h-1zM21 21h1v1h-1zM18 26h1v1h-1zM19 29h1v1h-1zM8 32h1v1h-1zM11 37h1v1h-1zM15 39h1v1h-1zM20 40h1v1h-1zM17 41h1v1h-1zM17 44h1v1h-1zM22 44h1v1h-1zM21 48h1v1h-1zM12 49h1v1h-1zM16 50h1v1h-1zM14 51h1v1h-1zM8 52h1v1h-1zM22 52h1v1h-1zM18 53h1v1h-1zM15 60h1v1h-1zM6 61h1v1h-1zM23 61h1v1h-1zM7 63h1v1h-1zM17 63h1v1h-1zM17 64h1v1h-1zM8 67h1v1h-1zM22 69h1v1h-1zM0 70h1v1h-1zM9 71h1v1h-1zM13 75h1v1h-1zM12 77h1v1h-1zM22 79h1v1h-1zM13 87h1v1h-1zM14 90h1v1h-1zM10 93h1v1h-1zM10 96h1v1h-1zM11 97h1v1h-1zM10 98h1v1h-1zM18 98h1v1h-1zM22 100h1v1h-1zM12 101h1v1h-1zM9 103h1v1h-1zM18 103h1v1h-1zM17 105h1v1h-1zM8 106h1v1h-1zM14 109h1v1h-1zM22 109h1v1h-1zM15 110h1v1h-1zM13 111h1v1h-1zM2 113h1v1h-1zM13 113h1v1h-1zM15 115h1v1h-1zM11 116h1v1h-1zM1 117h1v1h-1zM0 118h1v1h-1zM12 119h1v1h-1zM14 122h1v1h-1zM2 123h1v1h-1zM2 124h1v1h-1zM17 124h1v1h-1zM22 129h1v1h-1zM14 134h1v1h-1zM17 134h1v1h-1zM14 135h1v1h-1zM8 138h2v1h-2zM17 141h1v1h-1zM2 142h1v1h-1zM0 143h1v1h-1zM9 143h1v1h-1zM22 143h1v1h-1zM0 144h1v1h-1zM17 145h1v1h-1zM12 146h1v1h-1zM0 148h1v1h-1zM20 148h1v1h-1zM15 149h2v1h-2zM7 150h1v1h-1zM14 150h1v1h-1zM0 151h1v1h-1zM17 151h1v1h-1zM13 152h1v1h-1zM16 153h1v1h-1zM21 154h1v1h-1zM7 158h1v1h-1zM13 158h1v1h-1zM17 158h1v1h-1zM7 160h1v1h-1zM9 161h1v1h-1zM16 161h1v1h-1zM21 162h1v1h-1zM0 163h1v1h-1zM12 163h1v1h-1zM19 163h1v1h-1zM21 164h1v1h-1zM18 167h1v1h-1zM10 171h1v1h-1zM14 172h1v1h-1zM17 173h1v1h-1zM16 177h1v1h-1zM17 181h1v1h-1zM19 181h1v1h-1zM7 184h1v1h-1zM12 189h1v1h-1zM1 190h1v1h-1zM20 191h1v1h-1zM1 192h1v1h-1zM9 194h2v1h-2zM8 195h1v1h-1zM17 196h1v1h-1zM18 198h1v1h-1zM6 207h1v1h-1zM12 207h1v1h-1zM21 207h1v1h-1zM6 211h2v1h-2zM3 214h1v1h-1zM12 214h1v1h-1zM10 215h1v1h-1zM8 216h1v1h-1zM8 217h1v1h-1zM20 221h1v1h-1zM7 222h1v1h-1zM8 223h1v1h-1zM1 224h1v1h-1z"/><path fill="#fbe4e4" d="M17 0h1v1h-1zM13 2h2v1h-2zM21 5h1v1h-1zM13 6h1v1h-1zM17 6h1v1h-1zM19 8h1v1h-1zM12 12h2v1h-2zM15 12h1v1h-1zM9 13h2v1h-2zM22 14h2v1h-2zM14 15h2v1h-2zM19 15h1v1h-1zM10 16h1v1h-1zM16 17h1v1h-1zM19 18h1v1h-1zM10 19h1v1h-1zM17 19h1v1h-1zM13 20h1v1h-1zM15 20h1v1h-1zM10 21h1v1h-1zM23 21h1v1h-1zM22 22h1v1h-1zM8 24h1v1h-1zM22 24h1v1h-1zM13 25h1v1h-1zM7 26h1v1h-1zM22 26h1v1h-1zM8 27h1v1h-1zM10 27h1v1h-1zM13 27h1v1h-1zM19 28h2v1h-2zM14 29h1v1h-1zM8 30h1v1h-1zM18 33h1v1h-1zM14 35h1v1h-1zM14 36h1v1h-1zM15 37h1v1h-1zM14 39h1v1h-1zM17 39h1v1h-1zM19 39h1v1h-1zM21 39h1v1h-1zM22 40h1v1h-1zM13 41h1v1h-1zM2 42h1v1h-1zM16 42h1v1h-1zM13 45h2v1h-2zM6 47h1v1h-1zM9 51h1v1h-1zM16 54h1v1h-1zM11 56h1v1h-1zM14 57h1v1h-1zM18 57h1v1h-1zM15 59h1v1h-1zM20 59h1v1h-1zM17 60h1v1h-1zM14 61h1v1h-1zM17 61h1v1h-1zM15 62h1v1h-1zM10 64h1v1h-1zM13 64h1v1h-1zM11 68h1v1h-1zM12 69h1v1h-1zM5 70h1v1h-1zM9 70h1v1h-1zM11 72h1v1h-1zM11 73h1v1h-1zM14 73h1v1h-1zM12 74h1v1h-1zM6 76h1v1h-1zM10 77h1v1h-1zM1 78h1v1h-1zM8 79h1v1h-1zM14 83h1v1h-1zM9 84h1v1h-1zM14 84h1v1h-1zM7 87h1v1h-1zM11 87h1v1h-1zM7 88h1v1h-1zM22 89h1v1h-1zM9 93h1v1h-1zM6 94h1v1h-1zM9 94h1v1h-1zM17 97h1v1h-1zM14 98h1v1h-1zM17 99h1v1h-1zM14 100h1v1h-1zM1 102h1v1h-1zM16 102h1v1h-1zM9 104h2v1h-2zM12 104h1v1h-1zM8 108h1v1h-1zM5 113h1v1h-1zM9 116h2v1h-2zM14 121h1v1h-1zM12 124h1v1h-1zM3 129h1v1h-1zM5 133h1v1h-1zM7 136h1v1h-1zM9 136h1v1h-1zM10 141h1v1h-1zM17 143h1v1h-1zM19 143h1v1h-1zM13 144h1v1h-1zM5 146h1v1h-1zM8 146h1v1h-1zM5 147h1v1h-1zM7 147h1v1h-1zM22 147h1v1h-1zM8 149h1v1h-1zM9 150h1v1h-1zM3 151h1v1h-1zM14 155h1v1h-1zM5 160h1v1h-1zM0 162h1v1h-1zM3 162h1v1h-1zM20 162h1v1h-1zM14 167h1v1h-1zM8 168h1v1h-1zM14 171h1v1h-1zM0 175h1v1h-1zM3 175h1v1h-1zM11 183h1v1h-1zM0 187h1v1h-1zM6 187h1v1h-1zM3 188h1v1h-1zM14 189h2v1h-2zM11 192h1v1h-1zM7 193h1v1h-1zM4 196h1v1h-1zM8 196h1v1h-1zM10 196h1v1h-1zM1 197h1v1h-1zM7 198h1v1h-1zM6 201h1v1h-1zM17 201h1v1h-1zM10 218h2v1h-2zM15 218h1v1h-1zM6 219h1v1h-1zM6 223h1v1h-1zM2 224h1v1h-1z"/><path fill="#d8d8fa" d="M19 0h1v1h-1zM15 2h1v1h-1zM19 2h1v1h-1zM18 6h1v1h-1zM21 6h1v1h-1zM16 8h1v1h-1zM12 9h1v1h-1zM9 14h1v1h-1zM18 15h1v1h-1zM20 15h1v1h-1zM12 16h2v1h-2zM11 18h1v1h-1zM17 18h1v1h-1zM21 19h1v1h-1zM19 22h1v1h-1zM21 24h1v1h-1zM12 25h1v1h-1zM13 26h1v1h-1zM18 27h1v1h-1zM10 29h1v1h-1zM16 29h1v1h-1zM22 30h1v1h-1zM12 34h1v1h-1zM13 35h1v1h-1zM3 41h1v1h-1zM11 41h1v1h-1zM12 43h1v1h-1zM16 43h1v1h-1zM14 48h1v1h-1zM10 50h1v1h-1zM19 50h1v1h-1zM23 50h1v1h-1zM20 51h1v1h-1zM7 52h1v1h-1zM18 54h1v1h-1zM15 58h1v1h-1zM15 61h1v1h-1zM17 62h1v1h-1zM12 67h1v1h-1zM0 68h1v1h-1zM9 69h1v1h-1zM13 72h1v1h-1zM22 75h1v1h-1zM22 76h1v1h-1zM17 77h1v1h-1zM9 80h1v1h-1zM22 80h1v1h-1zM11 84h1v1h-1zM10 85h1v1h-1zM17 85h1v1h-1zM9 86h1v1h-1zM16 86h1v1h-1zM16 87h1v1h-1zM7 89h2v1h-2zM11 89h1v1h-1zM23 91h1v1h-1zM8 92h1v1h-1zM11 93h1v1h-1zM11 94h1v1h-1zM12 95h1v1h-1zM18 96h1v1h-1zM10 97h1v1h-1zM12 97h1v1h-1zM23 97h1v1h-1zM12 100h1v1h-1zM0 102h1v1h-1zM22 102h1v1h-1zM8 103h1v1h-1zM11 103h1v1h-1zM14 103h1v1h-1zM8 104h1v1h-1zM14 104h1v1h-1zM14 106h1v1h-1zM22 107h1v1h-1zM13 108h1v1h-1zM14 115h1v1h-1zM6 117h1v1h-1zM10 117h2v1h-2zM15 117h1v1h-1zM3 118h1v1h-1zM12 118h1v1h-1zM3 126h1v1h-1zM22 127h1v1h-1zM22 130h1v1h-1zM0 135h1v1h-1zM16 135h1v1h-1zM6 136h1v1h-1zM8 139h1v1h-1zM16 141h1v1h-1zM11 142h1v1h-1zM18 142h1v1h-1zM11 143h1v1h-1zM12 144h1v1h-1zM14 144h1v1h-1zM23 144h1v1h-1zM2 150h1v1h-1zM22 150h1v1h-1zM12 151h1v1h-1zM14 151h1v1h-1zM2 152h1v1h-1zM22 152h1v1h-1zM10 153h1v1h-1zM11 154h1v1h-1zM17 154h1v1h-1zM19 154h1v1h-1zM15 156h1v1h-1zM22 156h1v1h-1zM9 158h1v1h-1zM14 160h2v1h-2zM10 161h1v1h-1zM20 161h1v1h-1zM2 162h1v1h-1zM22 162h1v1h-1zM13 167h1v1h-1zM22 167h1v1h-1zM14 168h1v1h-1zM6 169h1v1h-1zM10 169h1v1h-1zM13 172h1v1h-1zM6 174h1v1h-1zM16 176h1v1h-1zM10 180h1v1h-1zM18 181h1v1h-1zM10 182h1v1h-1zM1 183h1v1h-1zM8 183h2v1h-2zM20 184h1v1h-1zM23 184h1v1h-1zM12 186h1v1h-1zM6 189h1v1h-1zM12 191h1v1h-1zM21 191h2v1h-2zM0 194h1v1h-1zM9 195h1v1h-1zM23 195h1v1h-1zM14 197h1v1h-1zM14 200h1v1h-1zM10 202h1v1h-1zM20 202h1v1h-1zM6 204h1v1h-1zM12 204h1v1h-1zM7 205h1v1h-1zM11 206h1v1h-1zM9 207h1v1h-1zM10 208h1v1h-1zM7 209h1v1h-1zM15 217h1v1h-1zM9 219h2v1h-2zM7 220h1v1h-1zM6 221h1v1h-1zM22 221h1v1h-1zM1 223h1v1h-1zM15 224h1v1h-1z"/><path fill="#b4b4f6" d="M20 0h1v1h-1zM19 9h1v1h-1zM18 21h1v1h-1zM15 24h2v1h-2zM14 26h1v1h-1zM20 26h1v1h-1zM21 27h1v1h-1zM10 30h1v1h-1zM14 30h1v1h-1zM22 34h1v1h-1zM22 35h1v1h-1zM18 36h1v1h-1zM6 37h1v1h-1zM17 37h1v1h-1zM10 42h1v1h-1zM9 48h1v1h-1zM22 48h1v1h-1zM9 49h1v1h-1zM20 58h1v1h-1zM19 59h1v1h-1zM19 62h1v1h-1zM17 65h1v1h-1zM12 70h1v1h-1zM22 71h1v1h-1zM17 78h1v1h-1zM18 79h1v1h-1zM6 84h1v1h-1zM22 90h1v1h-1zM20 92h1v1h-1zM23 92h1v1h-1zM22 95h1v1h-1zM8 97h1v1h-1zM19 97h1v1h-1zM21 97h2v1h-2zM21 98h1v1h-1zM18 101h1v1h-1zM13 103h1v1h-1zM18 105h1v1h-1zM21 106h1v1h-1zM20 107h1v1h-1zM18 108h1v1h-1zM16 109h1v1h-1zM0 113h1v1h-1zM9 114h1v1h-1zM22 118h1v1h-1zM14 120h1v1h-1zM0 122h1v1h-1zM13 122h1v1h-1zM13 123h1v1h-1zM17 128h2v1h-2zM20 129h1v1h-1zM14 130h1v1h-1zM16 130h1v1h-1zM1 131h1v1h-1zM14 140h1v1h-1zM16 143h1v1h-1zM23 151h1v1h-1zM1 152h1v1h-1zM18 155h1v1h-1zM0 161h1v1h-1zM13 169h1v1h-1zM21 169h1v1h-1zM16 171h1v1h-1zM15 176h1v1h-1zM14 178h1v1h-1zM21 179h1v1h-1zM16 181h1v1h-1zM14 182h1v1h-1zM9 188h1v1h-1zM18 190h1v1h-1zM16 192h1v1h-1zM15 194h1v1h-1zM21 197h1v1h-1zM22 200h1v1h-1zM16 201h1v1h-1zM21 202h1v1h-1zM14 205h1v1h-1zM2 212h2v1h-2zM15 213h1v1h-1zM0 214h1v1h-1zM14 214h1v1h-1zM13 215h1v1h-1zM22 215h1v1h-1zM9 224h1v1h-1z"/><path fill="#fcecec" d="M23 0h1v1h-1zM17 4h1v1h-1zM22 4h1v1h-1zM10 5h1v1h-1zM19 7h1v1h-1zM13 8h1v1h-1zM9 12h1v1h-1zM17 13h1v1h-1zM16 14h1v1h-1zM19 14h1v1h-1zM6 15h1v1h-1zM12 15h1v1h-1zM8 16h1v1h-1zM19 16h1v1h-1zM0 17h1v1h-1zM9 17h1v1h-1zM12 17h1v1h-1zM14 18h3v1h-3zM20 18h1v1h-1zM20 21h1v1h-1zM9 22h1v1h-1zM18 22h1v1h-1zM19 23h1v1h-1zM6 24h1v1h-1zM22 25h1v1h-1zM6 26h1v1h-1zM17 26h1v1h-1zM17 28h1v1h-1zM17 29h1v1h-1zM7 30h1v1h-1zM11 30h1v1h-1zM12 31h1v1h-1zM11 38h1v1h-1zM15 38h1v1h-1zM9 40h1v1h-1zM12 40h1v1h-1zM1 42h1v1h-1zM22 42h1v1h-1zM12 47h1v1h-1zM15 47h1v1h-1zM20 47h1v1h-1zM13 49h1v1h-1zM7 53h1v1h-1zM7 54h1v1h-1zM12 54h1v1h-1zM21 54h1v1h-1zM19 56h2v1h-2zM22 56h1v1h-1zM14 58h1v1h-1zM17 59h1v1h-1zM13 61h1v1h-1zM16 61h1v1h-1zM0 62h1v1h-1zM7 62h1v1h-1zM0 64h1v1h-1zM6 64h1v1h-1zM8 64h1v1h-1zM14 64h1v1h-1zM0 67h1v1h-1zM5 67h1v1h-1zM6 71h1v1h-1zM11 71h1v1h-1zM9 72h1v1h-1zM15 73h1v1h-1zM9 74h1v1h-1zM10 75h1v1h-1zM10 76h2v1h-2zM9 78h1v1h-1zM6 79h1v1h-1zM9 82h1v1h-1zM8 84h1v1h-1zM6 85h1v1h-1zM6 96h1v1h-1zM6 98h1v1h-1zM13 101h1v1h-1zM6 102h1v1h-1zM15 107h1v1h-1zM5 111h1v1h-1zM7 118h1v1h-1zM11 129h1v1h-1zM0 130h1v1h-1zM3 130h1v1h-1zM3 131h1v1h-1zM4 137h1v1h-1zM1 140h1v1h-1zM15 143h1v1h-1zM11 144h1v1h-1zM17 144h1v1h-1zM3 145h1v1h-1zM10 145h1v1h-1zM13 145h1v1h-1zM2 146h1v1h-1zM11 146h1v1h-1zM8 147h1v1h-1zM1 149h2v1h-2zM5 149h1v1h-1zM3 152h1v1h-1zM5 152h1v1h-1zM20 153h1v1h-1zM2 161h1v1h-1zM17 162h1v1h-1zM2 164h1v1h-1zM10 168h1v1h-1zM7 169h1v1h-1zM13 170h1v1h-1zM6 171h1v1h-1zM20 171h1v1h-1zM6 172h1v1h-1zM13 180h1v1h-1zM12 184h1v1h-1zM0 185h1v1h-1zM1 188h1v1h-1zM0 189h1v1h-1zM1 193h1v1h-1zM5 193h1v1h-1zM11 193h1v1h-1zM12 194h1v1h-1zM12 195h1v1h-1zM12 196h1v1h-1zM21 196h1v1h-1zM10 197h1v1h-1zM15 197h1v1h-1zM6 198h1v1h-1zM5 201h1v1h-1zM0 204h1v1h-1zM11 208h1v1h-1zM10 209h1v1h-1zM3 213h1v1h-1zM10 217h1v1h-1zM8 221h2v1h-2zM11 221h1v1h-1zM9 222h1v1h-1zM14 222h1v1h-1z"/><path fill="#fa2020" d="M4 1h2v1h-2zM2 2h1v1h-1zM5 2h1v1h-1zM4 3h2v1h-2zM4 4h1v1h-1zM3 6h1v1h-1zM5 6h1v1h-1zM4 10h1v1h-1zM4 12h2v1h-2zM4 13h2v1h-2zM4 14h2v1h-2zM2 16h1v1h-1zM5 22h1v1h-1zM4 57h1v1h-1zM2 98h1v1h-1zM4 98h2v1h-2z"/><path fill="#f78e8e" d="M6 1h1v1h-1zM15 4h1v1h-1zM15 17h1v1h-1zM8 20h1v1h-1zM0 21h1v1h-1zM0 22h1v1h-1zM0 31h1v1h-1zM13 33h1v1h-1zM6 34h1v1h-1zM2 37h1v1h-1zM2 38h1v1h-1zM7 38h1v1h-1zM3 39h1v1h-1zM3 40h1v1h-1zM1 41h1v1h-1zM0 43h1v1h-1zM2 44h1v1h-1zM0 49h1v1h-1zM5 49h1v1h-1zM1 50h1v1h-1zM1 52h1v1h-1zM0 53h1v1h-1zM1 54h1v1h-1zM10 55h1v1h-1zM8 57h1v1h-1zM3 61h1v1h-1zM1 63h2v1h-2zM2 64h1v1h-1zM5 64h1v1h-1zM0 66h1v1h-1zM3 66h1v1h-1zM3 67h1v1h-1zM2 73h1v1h-1zM4 73h1v1h-1zM4 74h1v1h-1zM1 75h1v1h-1zM0 77h2v1h-2zM1 82h1v1h-1zM2 83h1v1h-1zM7 83h1v1h-1zM3 84h1v1h-1zM1 87h1v1h-1zM1 88h1v1h-1zM1 89h1v1h-1zM0 91h1v1h-1zM3 91h2v1h-2zM0 92h1v1h-1zM1 94h1v1h-1zM14 95h1v1h-1zM0 96h2v1h-2zM3 96h1v1h-1zM15 98h1v1h-1zM3 99h1v1h-1zM14 99h1v1h-1zM0 155h1v1h-1zM0 156h1v1h-1zM4 165h1v1h-1zM1 166h1v1h-1zM5 166h1v1h-1zM5 168h1v1h-1zM3 170h1v1h-1zM3 171h2v1h-2zM4 180h1v1h-1zM2 183h1v1h-1zM1 184h1v1h-1zM3 184h1v1h-1zM2 186h1v1h-1zM1 189h1v1h-1zM5 198h1v1h-1zM2 199h1v1h-1zM0 200h1v1h-1zM3 203h1v1h-1zM5 203h1v1h-1zM4 205h1v1h-1zM4 208h1v1h-1zM4 209h1v1h-1zM1 215h2v1h-2zM5 215h1v1h-1zM0 216h1v1h-1zM1 218h1v1h-1zM1 219h1v1h-1zM0 220h1v1h-1z"/><path fill="#dddcf9" d="M8 1h1v1h-1zM17 3h1v1h-1zM18 4h2v1h-2zM21 4h1v1h-1zM18 5h1v1h-1zM21 7h1v1h-1zM19 11h1v1h-1zM19 12h1v1h-1zM18 13h1v1h-1zM15 16h1v1h-1zM20 19h1v1h-1zM22 19h1v1h-1zM14 20h1v1h-1zM18 20h1v1h-1zM23 20h1v1h-1zM13 24h1v1h-1zM11 25h1v1h-1zM18 25h1v1h-1zM12 26h1v1h-1zM11 27h1v1h-1zM12 30h1v1h-1zM14 31h1v1h-1zM16 33h1v1h-1zM19 33h1v1h-1zM13 36h1v1h-1zM23 43h1v1h-1zM15 45h1v1h-1zM16 46h2v1h-2zM10 49h1v1h-1zM22 49h2v1h-2zM8 51h1v1h-1zM13 51h1v1h-1zM23 51h1v1h-1zM20 52h1v1h-1zM9 53h1v1h-1zM14 59h1v1h-1zM15 64h1v1h-1zM9 66h1v1h-1zM15 66h1v1h-1zM22 66h1v1h-1zM15 69h1v1h-1zM8 70h1v1h-1zM12 73h1v1h-1zM17 73h1v1h-1zM14 74h1v1h-1zM11 77h1v1h-1zM15 77h1v1h-1zM19 79h1v1h-1zM12 84h1v1h-1zM7 85h1v1h-1zM8 86h1v1h-1zM18 86h1v1h-1zM8 90h1v1h-1zM12 91h1v1h-1zM9 92h1v1h-1zM14 93h1v1h-1zM18 94h1v1h-1zM21 94h1v1h-1zM6 95h1v1h-1zM10 95h1v1h-1zM16 95h1v1h-1zM19 95h1v1h-1zM21 96h2v1h-2zM8 98h1v1h-1zM22 98h1v1h-1zM18 99h1v1h-1zM20 100h1v1h-1zM14 102h1v1h-1zM10 103h1v1h-1zM17 103h1v1h-1zM12 106h1v1h-1zM10 107h1v1h-1zM10 108h1v1h-1zM23 108h1v1h-1zM6 109h1v1h-1zM15 109h1v1h-1zM14 110h1v1h-1zM14 111h1v1h-1zM15 125h1v1h-1zM13 127h1v1h-1zM17 129h1v1h-1zM9 131h1v1h-1zM20 131h1v1h-1zM11 133h1v1h-1zM13 134h1v1h-1zM2 139h1v1h-1zM19 139h1v1h-1zM17 140h2v1h-2zM17 142h1v1h-1zM10 143h1v1h-1zM12 143h2v1h-2zM20 144h1v1h-1zM14 145h1v1h-1zM17 146h2v1h-2zM11 147h1v1h-1zM12 148h1v1h-1zM23 148h1v1h-1zM0 149h1v1h-1zM7 149h1v1h-1zM7 151h1v1h-1zM6 153h1v1h-1zM16 155h2v1h-2zM17 157h1v1h-1zM15 158h1v1h-1zM13 159h1v1h-1zM22 159h1v1h-1zM18 161h2v1h-2zM23 161h1v1h-1zM10 163h1v1h-1zM14 163h1v1h-1zM16 163h1v1h-1zM20 163h1v1h-1zM8 164h1v1h-1zM14 165h1v1h-1zM8 167h1v1h-1zM10 167h1v1h-1zM12 167h1v1h-1zM17 167h1v1h-1zM17 171h1v1h-1zM15 172h1v1h-1zM16 178h1v1h-1zM1 182h1v1h-1zM12 182h1v1h-1zM12 183h1v1h-1zM18 184h1v1h-1zM7 191h1v1h-1zM6 192h1v1h-1zM13 193h1v1h-1zM6 194h1v1h-1zM20 194h1v1h-1zM7 195h1v1h-1zM10 195h1v1h-1zM13 196h1v1h-1zM17 197h1v1h-1zM17 199h1v1h-1zM9 200h1v1h-1zM16 200h1v1h-1zM10 201h1v1h-1zM22 201h1v1h-1zM10 205h1v1h-1zM8 206h1v1h-1zM7 208h1v1h-1zM12 210h1v1h-1zM9 211h1v1h-1zM12 212h1v1h-1zM8 213h1v1h-1zM12 213h1v1h-1zM8 215h1v1h-1zM7 216h1v1h-1zM10 216h1v1h-1zM18 219h1v1h-1zM8 220h1v1h-1zM18 220h1v1h-1zM22 222h1v1h-1zM7 223h1v1h-1zM11 224h1v1h-1z"/><path fill="#f9b3b3" d="M9 1h1v1h-1zM12 1h1v1h-1zM6 3h1v1h-1zM10 3h1v1h-1zM14 3h1v1h-1zM9 5h1v1h-1zM12 7h1v1h-1zM8 8h1v1h-1zM14 8h2v1h-2zM11 11h1v1h-1zM11 13h1v1h-1zM11 14h1v1h-1zM14 14h1v1h-1zM17 15h1v1h-1zM22 16h1v1h-1zM7 17h2v1h-2zM8 18h1v1h-1zM22 18h1v1h-1zM8 19h1v1h-1zM12 20h1v1h-1zM7 21h1v1h-1zM12 21h1v1h-1zM8 22h1v1h-1zM12 22h1v1h-1zM12 23h1v1h-1zM14 25h1v1h-1zM15 27h1v1h-1zM1 33h1v1h-1zM9 34h1v1h-1zM1 36h1v1h-1zM1 38h1v1h-1zM6 38h1v1h-1zM0 40h1v1h-1zM7 40h1v1h-1zM10 40h1v1h-1zM5 41h3v1h-3zM14 42h1v1h-1zM13 43h1v1h-1zM4 44h2v1h-2zM12 45h1v1h-1zM13 46h1v1h-1zM13 47h1v1h-1zM6 48h1v1h-1zM8 49h1v1h-1zM20 49h1v1h-1zM15 50h1v1h-1zM12 51h1v1h-1zM13 52h1v1h-1zM6 54h1v1h-1zM6 56h2v1h-2zM8 58h1v1h-1zM12 58h1v1h-1zM7 59h1v1h-1zM11 61h1v1h-1zM8 62h1v1h-1zM15 65h1v1h-1zM4 67h1v1h-1zM0 73h1v1h-1zM7 75h1v1h-1zM7 78h1v1h-1zM11 79h2v1h-2zM11 81h2v1h-2zM6 82h2v1h-2zM10 82h1v1h-1zM11 83h1v1h-1zM0 84h1v1h-1zM14 96h2v1h-2zM6 116h1v1h-1zM1 124h1v1h-1zM3 125h1v1h-1zM3 134h1v1h-1zM1 135h1v1h-1zM6 135h1v1h-1zM1 141h2v1h-2zM7 144h1v1h-1zM15 144h1v1h-1zM11 145h1v1h-1zM13 146h1v1h-1zM3 149h1v1h-1zM4 154h1v1h-1zM14 154h1v1h-1zM4 155h1v1h-1zM5 156h1v1h-1zM4 159h2v1h-2zM5 161h1v1h-1zM17 163h1v1h-1zM0 165h1v1h-1zM5 167h1v1h-1zM0 169h1v1h-1zM4 172h1v1h-1zM3 176h1v1h-1zM5 176h1v1h-1zM1 177h1v1h-1zM0 178h1v1h-1zM2 178h1v1h-1zM1 180h3v1h-3zM0 181h2v1h-2zM5 181h1v1h-1zM4 182h1v1h-1zM2 188h1v1h-1zM3 192h1v1h-1zM4 197h1v1h-1zM10 199h1v1h-1zM12 199h1v1h-1zM1 200h1v1h-1zM12 200h1v1h-1zM1 201h1v1h-1zM12 201h1v1h-1zM2 203h1v1h-1zM1 205h1v1h-1zM2 209h1v1h-1zM3 210h1v1h-1zM0 211h1v1h-1zM4 212h1v1h-1zM0 213h1v1h-1zM3 215h1v1h-1zM2 216h1v1h-1zM12 216h1v1h-1zM5 217h1v1h-1zM0 218h1v1h-1zM5 219h1v1h-1zM4 220h1v1h-1zM0 221h1v1h-1zM3 224h1v1h-1z"/><path fill="#f8a3a3" d="M15 1h1v1h-1zM7 4h1v1h-1zM7 5h1v1h-1zM15 5h1v1h-1zM8 6h1v1h-1zM12 11h1v1h-1zM15 14h1v1h-1zM1 18h1v1h-1zM3 18h1v1h-1zM0 19h1v1h-1zM1 21h1v1h-1zM1 22h1v1h-1zM4 24h1v1h-1zM1 25h1v1h-1zM11 28h1v1h-1zM1 31h1v1h-1zM1 32h1v1h-1zM5 34h1v1h-1zM0 35h1v1h-1zM5 35h1v1h-1zM3 38h1v1h-1zM1 39h2v1h-2zM5 39h1v1h-1zM2 40h1v1h-1zM3 42h1v1h-1zM0 47h1v1h-1zM0 48h2v1h-2zM1 49h1v1h-1zM4 49h1v1h-1zM0 50h1v1h-1zM1 53h1v1h-1zM15 56h1v1h-1zM5 59h1v1h-1zM0 61h2v1h-2zM4 63h1v1h-1zM1 66h1v1h-1zM5 66h1v1h-1zM2 68h1v1h-1zM2 72h3v1h-3zM5 73h1v1h-1zM0 80h1v1h-1zM1 81h1v1h-1zM3 83h1v1h-1zM8 83h1v1h-1zM4 85h1v1h-1zM0 89h1v1h-1zM2 90h1v1h-1zM0 95h1v1h-1zM2 102h1v1h-1zM3 141h1v1h-1zM13 142h1v1h-1zM15 147h1v1h-1zM0 160h1v1h-1zM2 160h1v1h-1zM1 165h1v1h-1zM4 167h1v1h-1zM4 168h1v1h-1zM0 171h1v1h-1zM4 173h1v1h-1zM2 174h1v1h-1zM1 175h1v1h-1zM0 176h2v1h-2zM0 177h1v1h-1zM4 183h1v1h-1zM4 184h1v1h-1zM1 185h1v1h-1zM3 185h1v1h-1zM5 185h1v1h-1zM3 189h1v1h-1zM2 191h1v1h-1zM3 194h1v1h-1zM4 195h2v1h-2zM0 198h1v1h-1zM1 199h1v1h-1zM4 199h2v1h-2zM3 200h1v1h-1zM2 202h1v1h-1zM2 204h1v1h-1zM4 206h2v1h-2zM4 210h1v1h-1zM1 220h1v1h-1zM3 223h1v1h-1z"/><path fill="#6464ef" d="M20 1h1v1h-1zM17 10h1v1h-1zM21 14h1v1h-1zM16 19h1v1h-1zM17 24h2v1h-2zM18 32h1v1h-1zM20 37h1v1h-1zM16 38h1v1h-1zM17 67h1v1h-1zM21 77h1v1h-1zM20 88h1v1h-1z"/><path fill="#a5a5f5" d="M21 1h1v1h-1zM20 3h1v1h-1zM10 9h1v1h-1zM15 9h1v1h-1zM18 9h1v1h-1zM21 10h1v1h-1zM20 12h1v1h-1zM20 13h1v1h-1zM8 29h1v1h-1zM15 36h1v1h-1zM17 43h1v1h-1zM18 44h1v1h-1zM11 45h1v1h-1zM19 48h1v1h-1zM21 50h1v1h-1zM13 55h1v1h-1zM21 58h1v1h-1zM23 64h1v1h-1zM13 70h2v1h-2zM16 72h1v1h-1zM8 74h1v1h-1zM17 74h1v1h-1zM13 77h1v1h-1zM19 77h1v1h-1zM17 80h1v1h-1zM18 82h1v1h-1zM7 84h1v1h-1zM9 87h1v1h-1zM13 89h1v1h-1zM18 89h1v1h-1zM16 90h1v1h-1zM18 90h1v1h-1zM17 92h1v1h-1zM23 93h1v1h-1zM20 95h1v1h-1zM8 101h1v1h-1zM13 102h1v1h-1zM16 103h1v1h-1zM17 108h1v1h-1zM13 110h1v1h-1zM21 113h1v1h-1zM13 115h1v1h-1zM9 117h1v1h-1zM19 128h1v1h-1zM18 129h1v1h-1zM21 129h1v1h-1zM20 130h1v1h-1zM0 131h1v1h-1zM22 131h1v1h-1zM16 133h1v1h-1zM22 134h1v1h-1zM22 135h1v1h-1zM8 136h1v1h-1zM20 137h1v1h-1zM15 140h1v1h-1zM16 142h1v1h-1zM21 142h1v1h-1zM18 143h1v1h-1zM17 152h1v1h-1zM18 153h1v1h-1zM13 157h1v1h-1zM15 159h1v1h-1zM20 159h1v1h-1zM7 163h1v1h-1zM20 164h1v1h-1zM20 172h1v1h-1zM18 177h1v1h-1zM14 180h1v1h-1zM21 181h1v1h-1zM21 183h1v1h-1zM20 188h1v1h-1zM15 190h1v1h-1zM0 191h1v1h-1zM13 194h1v1h-1zM19 197h1v1h-1zM13 198h1v1h-1zM18 199h1v1h-1zM20 204h2v1h-2zM16 211h1v1h-1zM14 215h1v1h-1zM17 215h1v1h-1zM22 216h1v1h-1zM14 219h1v1h-1zM19 219h1v1h-1zM13 223h3v1h-3z"/><path fill="#8e8ef3" d="M23 1h1v1h-1zM21 3h1v1h-1zM20 17h1v1h-1zM17 21h1v1h-1zM17 22h1v1h-1zM21 23h1v1h-1zM19 24h1v1h-1zM19 25h1v1h-1zM21 25h1v1h-1zM23 27h1v1h-1zM10 31h1v1h-1zM10 32h1v1h-1zM21 32h1v1h-1zM20 34h1v1h-1zM16 37h1v1h-1zM23 38h1v1h-1zM8 44h1v1h-1zM17 47h1v1h-1zM18 48h1v1h-1zM16 49h1v1h-1zM23 52h1v1h-1zM18 59h1v1h-1zM10 63h1v1h-1zM20 65h1v1h-1zM17 66h1v1h-1zM14 67h1v1h-1zM10 70h1v1h-1zM16 73h1v1h-1zM23 74h1v1h-1zM22 77h1v1h-1zM13 78h1v1h-1zM22 78h1v1h-1zM16 80h1v1h-1zM17 84h1v1h-1zM21 84h1v1h-1zM18 85h1v1h-1zM13 90h1v1h-1zM17 90h1v1h-1zM16 91h1v1h-1zM18 91h1v1h-1zM13 92h1v1h-1zM21 92h1v1h-1zM18 95h1v1h-1zM21 101h1v1h-1zM19 103h2v1h-2zM22 103h1v1h-1zM23 104h1v1h-1zM15 120h1v1h-1zM6 121h1v1h-1zM1 122h1v1h-1zM16 125h1v1h-1zM14 128h1v1h-1zM16 129h1v1h-1zM21 130h1v1h-1zM14 131h1v1h-1zM19 134h1v1h-1zM8 135h1v1h-1zM15 137h1v1h-1zM18 138h1v1h-1zM15 139h1v1h-1zM20 140h1v1h-1zM22 140h1v1h-1zM21 141h1v1h-1zM21 144h1v1h-1zM21 146h1v1h-1zM23 146h1v1h-1zM12 149h1v1h-1zM7 152h1v1h-1zM18 154h1v1h-1zM10 156h1v1h-1zM18 157h1v1h-1zM23 157h1v1h-1zM13 163h1v1h-1zM15 168h1v1h-1zM16 170h2v1h-2zM22 170h1v1h-1zM18 172h1v1h-1zM6 173h1v1h-1zM21 173h1v1h-1zM9 174h1v1h-1zM13 174h1v1h-1zM12 178h1v1h-1zM15 178h1v1h-1zM14 179h3v1h-3zM15 181h1v1h-1zM17 183h2v1h-2zM22 190h1v1h-1zM17 202h1v1h-1zM21 206h1v1h-1zM15 209h1v1h-1zM6 210h1v1h-1zM21 212h1v1h-1zM14 213h1v1h-1zM13 216h1v1h-1zM17 216h1v1h-1zM21 216h1v1h-1zM21 219h1v1h-1zM17 221h1v1h-1zM23 221h1v1h-1zM17 224h1v1h-1z"/><path fill="#f56262" d="M1 2h1v1h-1zM1 3h1v1h-1zM0 4h1v1h-1zM1 5h1v1h-1zM0 6h1v1h-1zM1 8h1v1h-1zM3 8h1v1h-1zM1 9h2v1h-2zM0 12h2v1h-2zM1 13h1v1h-1zM3 14h1v1h-1zM3 15h1v1h-1zM5 15h1v1h-1zM1 16h1v1h-1zM5 16h1v1h-1zM3 20h1v1h-1zM5 20h1v1h-1zM2 23h1v1h-1zM4 27h1v1h-1zM3 28h2v1h-2zM2 31h1v1h-1zM4 31h1v1h-1zM3 35h1v1h-1zM2 43h1v1h-1zM2 46h1v1h-1zM3 47h1v1h-1zM3 49h1v1h-1zM2 50h1v1h-1zM4 50h1v1h-1zM2 52h2v1h-2zM1 56h2v1h-2zM5 56h1v1h-1zM4 58h1v1h-1zM4 68h1v1h-1zM3 75h1v1h-1zM5 75h1v1h-1zM3 76h1v1h-1zM2 77h1v1h-1zM5 78h1v1h-1zM2 85h1v1h-1zM4 88h1v1h-1zM5 89h1v1h-1zM5 96h1v1h-1zM0 98h1v1h-1zM3 101h1v1h-1zM3 103h3v1h-3zM3 105h1v1h-1zM2 157h1v1h-1zM2 165h1v1h-1zM5 165h1v1h-1zM4 189h1v1h-1zM2 221h1v1h-1z"/><path fill="#f83434" d="M4 2h1v1h-1zM5 4h1v1h-1zM3 16h1v1h-1zM4 46h1v1h-1zM4 97h1v1h-1z"/><path fill="#f79696" d="M6 2h1v1h-1zM7 3h1v1h-1zM8 4h1v1h-1zM14 5h1v1h-1zM6 6h1v1h-1zM7 11h1v1h-1zM13 14h1v1h-1zM1 19h1v1h-1zM1 20h1v1h-1zM15 21h1v1h-1zM1 23h1v1h-1zM2 24h1v1h-1zM0 26h1v1h-1zM9 28h1v1h-1zM15 32h1v1h-1zM0 33h1v1h-1zM7 33h1v1h-1zM2 34h1v1h-1zM1 35h1v1h-1zM4 35h1v1h-1zM6 35h2v1h-2zM5 36h1v1h-1zM5 38h1v1h-1zM0 41h1v1h-1zM8 42h1v1h-1zM1 43h1v1h-1zM3 43h1v1h-1zM5 43h1v1h-1zM1 47h1v1h-1zM3 53h1v1h-1zM3 54h1v1h-1zM1 55h1v1h-1zM13 56h1v1h-1zM7 57h1v1h-1zM10 57h1v1h-1zM1 59h1v1h-1zM2 60h1v1h-1zM1 62h1v1h-1zM1 65h1v1h-1zM10 65h1v1h-1zM2 66h1v1h-1zM4 66h1v1h-1zM3 68h1v1h-1zM3 71h1v1h-1zM9 73h1v1h-1zM2 74h2v1h-2zM8 82h1v1h-1zM0 86h1v1h-1zM5 86h1v1h-1zM2 91h1v1h-1zM5 91h1v1h-1zM0 94h1v1h-1zM1 95h1v1h-1zM15 95h1v1h-1zM2 96h1v1h-1zM0 99h2v1h-2zM4 99h1v1h-1zM13 99h1v1h-1zM0 101h1v1h-1zM4 133h1v1h-1zM15 148h1v1h-1zM2 153h1v1h-1zM3 157h1v1h-1zM1 158h1v1h-1zM4 160h1v1h-1zM0 166h1v1h-1zM3 166h1v1h-1zM3 167h1v1h-1zM1 168h1v1h-1zM3 169h1v1h-1zM2 170h1v1h-1zM4 170h1v1h-1zM1 171h1v1h-1zM1 173h1v1h-1zM5 174h1v1h-1zM4 177h1v1h-1zM0 180h1v1h-1zM3 191h1v1h-1zM2 193h1v1h-1zM2 195h1v1h-1zM3 196h1v1h-1zM2 197h2v1h-2zM4 201h1v1h-1zM1 203h1v1h-1zM3 204h1v1h-1zM0 205h1v1h-1zM0 206h1v1h-1zM3 207h1v1h-1zM5 216h1v1h-1zM4 218h1v1h-1zM3 221h1v1h-1zM2 222h2v1h-2z"/><path fill="#f79c9c" d="M12 2h1v1h-1zM8 3h1v1h-1zM12 3h1v1h-1zM8 7h1v1h-1zM0 18h1v1h-1zM5 19h1v1h-1zM0 20h1v1h-1zM0 23h1v1h-1zM0 29h2v1h-2zM0 32h1v1h-1zM8 33h1v1h-1zM0 34h1v1h-1zM9 35h1v1h-1zM12 35h1v1h-1zM4 37h2v1h-2zM4 38h1v1h-1zM6 39h1v1h-1zM4 40h1v1h-1zM4 43h1v1h-1zM1 45h1v1h-1zM0 51h1v1h-1zM15 52h1v1h-1zM5 54h1v1h-1zM5 55h1v1h-1zM14 56h1v1h-1zM6 57h1v1h-1zM0 59h1v1h-1zM2 59h1v1h-1zM0 60h1v1h-1zM3 60h1v1h-1zM5 60h1v1h-1zM12 61h1v1h-1zM5 62h1v1h-1zM3 63h1v1h-1zM5 63h1v1h-1zM3 64h2v1h-2zM2 65h1v1h-1zM2 67h1v1h-1zM2 69h1v1h-1zM0 71h3v1h-3zM0 82h1v1h-1zM0 85h1v1h-1zM3 85h1v1h-1zM1 86h1v1h-1zM0 87h1v1h-1zM1 91h1v1h-1zM0 93h1v1h-1zM2 99h1v1h-1zM15 99h1v1h-1zM1 101h1v1h-1zM4 108h1v1h-1zM3 155h1v1h-1zM4 157h1v1h-1zM1 159h1v1h-1zM3 165h1v1h-1zM1 167h1v1h-1zM3 168h1v1h-1zM1 169h1v1h-1zM5 169h1v1h-1zM5 171h1v1h-1zM3 172h1v1h-1zM3 173h1v1h-1zM1 174h1v1h-1zM5 177h1v1h-1zM1 179h1v1h-1zM5 179h1v1h-1zM4 181h1v1h-1zM2 184h1v1h-1zM4 186h1v1h-1zM4 187h2v1h-2zM3 195h1v1h-1zM2 196h1v1h-1zM5 196h1v1h-1zM4 203h1v1h-1zM2 206h1v1h-1zM2 211h1v1h-1zM0 219h1v1h-1zM2 219h1v1h-1z"/><path fill="#c9c9f8" d="M16 2h1v1h-1zM18 2h1v1h-1zM22 2h1v1h-1zM17 9h1v1h-1zM18 10h1v1h-1zM17 11h1v1h-1zM10 15h2v1h-2zM11 16h1v1h-1zM19 17h1v1h-1zM19 19h1v1h-1zM10 25h1v1h-1zM21 26h1v1h-1zM16 28h1v1h-1zM11 29h1v1h-1zM16 30h1v1h-1zM19 30h1v1h-1zM9 31h1v1h-1zM15 31h1v1h-1zM9 32h1v1h-1zM10 43h1v1h-1zM0 44h2v1h-2zM21 46h1v1h-1zM10 47h1v1h-1zM16 47h1v1h-1zM10 48h1v1h-1zM17 48h1v1h-1zM18 49h2v1h-2zM20 50h1v1h-1zM17 52h1v1h-1zM19 52h1v1h-1zM21 52h1v1h-1zM10 53h1v1h-1zM20 53h1v1h-1zM18 55h1v1h-1zM23 55h1v1h-1zM17 56h1v1h-1zM21 56h1v1h-1zM10 58h1v1h-1zM22 58h1v1h-1zM13 60h1v1h-1zM20 64h1v1h-1zM22 70h1v1h-1zM8 72h1v1h-1zM13 73h1v1h-1zM7 74h1v1h-1zM10 74h1v1h-1zM16 74h1v1h-1zM21 74h1v1h-1zM21 76h1v1h-1zM16 79h1v1h-1zM14 81h1v1h-1zM14 82h1v1h-1zM8 85h1v1h-1zM7 86h1v1h-1zM6 87h1v1h-1zM12 90h1v1h-1zM12 92h1v1h-1zM13 93h1v1h-1zM23 95h1v1h-1zM7 96h1v1h-1zM19 96h1v1h-1zM6 97h1v1h-1zM19 98h1v1h-1zM9 102h1v1h-1zM15 102h1v1h-1zM6 103h1v1h-1zM14 105h1v1h-1zM22 105h1v1h-1zM7 106h1v1h-1zM9 106h1v1h-1zM11 106h1v1h-1zM6 108h1v1h-1zM5 109h1v1h-1zM7 109h1v1h-1zM22 110h1v1h-1zM14 112h1v1h-1zM8 119h1v1h-1zM2 121h1v1h-1zM15 121h1v1h-1zM3 122h1v1h-1zM15 122h1v1h-1zM21 123h1v1h-1zM23 123h1v1h-1zM14 127h1v1h-1zM20 127h1v1h-1zM10 128h1v1h-1zM12 129h1v1h-1zM12 130h1v1h-1zM12 131h1v1h-1zM6 132h1v1h-1zM11 132h1v1h-1zM16 132h1v1h-1zM16 134h1v1h-1zM20 134h1v1h-1zM15 135h1v1h-1zM1 142h1v1h-1zM14 143h1v1h-1zM1 144h1v1h-1zM19 145h1v1h-1zM10 146h1v1h-1zM15 146h1v1h-1zM19 147h1v1h-1zM17 148h1v1h-1zM21 148h1v1h-1zM14 149h1v1h-1zM21 149h1v1h-1zM20 154h1v1h-1zM19 155h1v1h-1zM20 156h1v1h-1zM13 160h1v1h-1zM22 160h1v1h-1zM1 161h1v1h-1zM21 161h1v1h-1zM19 162h1v1h-1zM22 164h1v1h-1zM16 167h1v1h-1zM21 168h1v1h-1zM14 169h1v1h-1zM13 173h2v1h-2zM9 180h1v1h-1zM14 181h1v1h-1zM9 182h1v1h-1zM6 188h1v1h-1zM10 189h1v1h-1zM6 190h1v1h-1zM12 190h1v1h-1zM1 191h1v1h-1zM9 193h1v1h-1zM12 193h1v1h-1zM15 193h1v1h-1zM13 195h1v1h-1zM13 197h1v1h-1zM21 198h1v1h-1zM6 199h2v1h-2zM10 200h1v1h-1zM15 200h1v1h-1zM18 200h1v1h-1zM12 203h1v1h-1zM17 203h1v1h-1zM8 205h2v1h-2zM11 205h1v1h-1zM7 206h1v1h-1zM6 208h1v1h-1zM9 210h1v1h-1zM15 211h1v1h-1zM15 216h1v1h-1zM7 217h1v1h-1zM14 218h1v1h-1zM20 218h2v1h-2zM10 220h1v1h-1zM22 220h1v1h-1z"/><path fill="#9999f4" d="M20 2h1v1h-1zM22 10h1v1h-1zM7 12h1v1h-1zM23 15h1v1h-1zM21 22h1v1h-1zM18 23h1v1h-1zM15 26h1v1h-1zM19 26h1v1h-1zM20 27h1v1h-1zM22 29h1v1h-1zM17 30h1v1h-1zM8 31h1v1h-1zM16 31h1v1h-1zM1 37h1v1h-1zM21 37h2v1h-2zM8 41h2v1h-2zM6 45h1v1h-1zM16 53h1v1h-1zM22 54h1v1h-1zM23 59h1v1h-1zM20 60h1v1h-1zM20 61h1v1h-1zM19 63h1v1h-1zM9 67h1v1h-1zM8 68h1v1h-1zM20 72h1v1h-1zM10 73h1v1h-1zM14 79h1v1h-1zM19 84h1v1h-1zM22 84h1v1h-1zM13 85h1v1h-1zM10 89h1v1h-1zM15 90h1v1h-1zM15 92h1v1h-1zM19 92h1v1h-1zM14 94h1v1h-1zM16 98h1v1h-1zM20 98h1v1h-1zM20 99h1v1h-1zM16 101h1v1h-1zM17 104h1v1h-1zM19 104h1v1h-1zM17 106h1v1h-1zM17 107h1v1h-1zM19 108h2v1h-2zM23 109h1v1h-1zM14 118h1v1h-1zM17 122h1v1h-1zM7 123h1v1h-1zM17 126h1v1h-1zM0 128h1v1h-1zM15 128h1v1h-1zM21 128h2v1h-2zM13 129h1v1h-1zM15 129h1v1h-1zM21 131h1v1h-1zM22 133h1v1h-1zM21 134h1v1h-1zM15 136h1v1h-1zM17 136h1v1h-1zM8 137h1v1h-1zM21 137h1v1h-1zM13 138h1v1h-1zM15 138h1v1h-1zM13 140h1v1h-1zM21 143h1v1h-1zM21 147h1v1h-1zM9 152h1v1h-1zM9 154h1v1h-1zM8 158h1v1h-1zM20 160h1v1h-1zM15 171h1v1h-1zM22 173h1v1h-1zM14 177h1v1h-1zM13 183h1v1h-1zM23 192h1v1h-1zM0 196h1v1h-1zM19 200h1v1h-1zM13 202h1v1h-1zM15 204h1v1h-1zM15 206h1v1h-1zM20 206h1v1h-1zM16 214h1v1h-1zM18 215h1v1h-1zM22 219h1v1h-1z"/><path fill="#0000f0" d="M21 2h1v1h-1zM16 3h1v1h-1zM23 3h1v1h-1zM20 4h1v1h-1zM23 4h1v1h-1zM23 6h1v1h-1zM23 7h1v1h-1zM10 8h1v1h-1zM20 8h3v1h-3zM20 9h1v1h-1zM22 9h2v1h-2zM20 10h1v1h-1zM23 10h1v1h-1zM16 11h1v1h-1zM20 11h1v1h-1zM22 11h2v1h-2zM18 12h1v1h-1zM19 13h1v1h-1zM9 15h1v1h-1zM18 16h1v1h-1zM23 16h1v1h-1zM21 17h1v1h-1zM16 20h1v1h-1zM20 20h2v1h-2zM16 21h1v1h-1zM16 22h1v1h-1zM20 22h1v1h-1zM16 23h1v1h-1zM20 23h1v1h-1zM20 24h1v1h-1zM20 25h1v1h-1zM23 25h1v1h-1zM23 26h1v1h-1zM16 27h1v1h-1zM6 28h1v1h-1zM8 28h1v1h-1zM15 28h1v1h-1zM18 28h1v1h-1zM21 28h1v1h-1zM9 29h1v1h-1zM18 29h1v1h-1zM20 29h2v1h-2zM23 29h1v1h-1zM18 30h1v1h-1zM20 30h2v1h-2zM23 30h1v1h-1zM6 31h1v1h-1zM11 31h1v1h-1zM18 31h1v1h-1zM20 31h1v1h-1zM22 31h2v1h-2zM6 32h2v1h-2zM16 32h1v1h-1zM19 32h1v1h-1zM22 32h2v1h-2zM17 33h1v1h-1zM20 33h1v1h-1zM23 33h1v1h-1zM16 34h4v1h-4zM21 34h1v1h-1zM23 34h1v1h-1zM16 35h6v1h-6zM23 35h1v1h-1zM16 36h2v1h-2zM19 36h5v1h-5zM0 37h1v1h-1zM18 37h1v1h-1zM22 38h1v1h-1zM18 39h1v1h-1zM23 39h1v1h-1zM16 40h1v1h-1zM18 40h2v1h-2zM23 40h1v1h-1zM12 41h1v1h-1zM16 41h1v1h-1zM18 41h1v1h-1zM23 41h1v1h-1zM18 42h4v1h-4zM20 43h2v1h-2zM11 44h1v1h-1zM16 44h1v1h-1zM19 44h3v1h-3zM23 44h1v1h-1zM16 45h1v1h-1zM18 45h4v1h-4zM23 45h1v1h-1zM11 46h1v1h-1zM18 46h3v1h-3zM22 46h2v1h-2zM11 47h1v1h-1zM19 47h1v1h-1zM21 47h3v1h-3zM11 48h1v1h-1zM23 48h1v1h-1zM11 49h1v1h-1zM11 50h2v1h-2zM6 51h2v1h-2zM11 51h1v1h-1zM16 51h1v1h-1zM19 51h1v1h-1zM16 52h1v1h-1zM18 52h1v1h-1zM6 53h1v1h-1zM8 54h1v1h-1zM15 55h2v1h-2zM22 55h1v1h-1zM9 56h2v1h-2zM16 57h1v1h-1zM19 57h1v1h-1zM21 57h1v1h-1zM9 58h1v1h-1zM13 58h1v1h-1zM16 58h1v1h-1zM18 58h2v1h-2zM23 58h1v1h-1zM13 59h1v1h-1zM21 59h2v1h-2zM16 60h1v1h-1zM18 60h2v1h-2zM21 60h3v1h-3zM18 61h2v1h-2zM21 61h2v1h-2zM13 62h1v1h-1zM16 62h1v1h-1zM18 62h1v1h-1zM20 62h4v1h-4zM11 63h1v1h-1zM13 63h1v1h-1zM18 63h1v1h-1zM20 63h4v1h-4zM11 64h1v1h-1zM16 64h1v1h-1zM18 64h2v1h-2zM21 64h2v1h-2zM11 65h1v1h-1zM13 65h1v1h-1zM16 65h1v1h-1zM18 65h2v1h-2zM21 65h3v1h-3zM6 66h2v1h-2zM11 66h1v1h-1zM13 66h2v1h-2zM16 66h1v1h-1zM18 66h4v1h-4zM23 66h1v1h-1zM6 67h2v1h-2zM13 67h1v1h-1zM15 67h2v1h-2zM19 67h2v1h-2zM22 67h2v1h-2zM6 68h2v1h-2zM9 68h1v1h-1zM13 68h2v1h-2zM16 68h4v1h-4zM21 68h3v1h-3zM6 69h1v1h-1zM13 69h2v1h-2zM16 69h6v1h-6zM23 69h1v1h-1zM15 70h7v1h-7zM23 70h1v1h-1zM13 71h9v1h-9zM23 71h1v1h-1zM14 72h2v1h-2zM17 72h1v1h-1zM19 72h1v1h-1zM21 72h3v1h-3zM18 73h3v1h-3zM22 73h2v1h-2zM15 74h1v1h-1zM18 74h1v1h-1zM20 74h1v1h-1zM22 74h1v1h-1zM9 75h1v1h-1zM11 75h1v1h-1zM14 75h1v1h-1zM16 75h6v1h-6zM23 75h1v1h-1zM14 76h1v1h-1zM16 76h5v1h-5zM23 76h1v1h-1zM14 77h1v1h-1zM16 77h1v1h-1zM18 77h1v1h-1zM20 77h1v1h-1zM23 77h1v1h-1zM14 78h3v1h-3zM18 78h3v1h-3zM23 78h1v1h-1zM13 79h1v1h-1zM15 79h1v1h-1zM17 79h1v1h-1zM21 79h1v1h-1zM23 79h1v1h-1zM13 80h2v1h-2zM18 80h4v1h-4zM23 80h1v1h-1zM13 81h1v1h-1zM15 81h9v1h-9zM13 82h1v1h-1zM15 82h1v1h-1zM17 82h1v1h-1zM19 82h5v1h-5zM13 83h1v1h-1zM16 83h6v1h-6zM23 83h1v1h-1zM13 84h1v1h-1zM15 84h2v1h-2zM18 84h1v1h-1zM20 84h1v1h-1zM23 84h1v1h-1zM9 85h1v1h-1zM12 85h1v1h-1zM15 85h2v1h-2zM19 85h5v1h-5zM6 86h1v1h-1zM10 86h4v1h-4zM15 86h1v1h-1zM19 86h5v1h-5zM8 87h1v1h-1zM10 87h1v1h-1zM14 87h2v1h-2zM17 87h5v1h-5zM23 87h1v1h-1zM9 88h2v1h-2zM13 88h7v1h-7zM21 88h3v1h-3zM9 89h1v1h-1zM14 89h4v1h-4zM19 89h1v1h-1zM21 89h1v1h-1zM23 89h1v1h-1zM9 90h2v1h-2zM19 90h3v1h-3zM23 90h1v1h-1zM9 91h2v1h-2zM13 91h3v1h-3zM17 91h1v1h-1zM19 91h4v1h-4zM6 92h1v1h-1zM10 92h2v1h-2zM14 92h1v1h-1zM16 92h1v1h-1zM22 92h1v1h-1zM7 93h1v1h-1zM16 93h1v1h-1zM18 93h5v1h-5zM7 94h1v1h-1zM10 94h1v1h-1zM15 94h3v1h-3zM19 94h2v1h-2zM22 94h2v1h-2zM8 95h2v1h-2zM11 95h1v1h-1zM9 96h1v1h-1zM11 96h2v1h-2zM7 97h1v1h-1zM9 97h1v1h-1zM16 97h1v1h-1zM18 97h1v1h-1zM20 97h1v1h-1zM7 98h1v1h-1zM11 98h2v1h-2zM6 99h5v1h-5zM12 99h1v1h-1zM16 99h1v1h-1zM19 99h1v1h-1zM21 99h3v1h-3zM7 100h2v1h-2zM10 100h2v1h-2zM16 100h4v1h-4zM23 100h1v1h-1zM6 101h2v1h-2zM9 101h3v1h-3zM19 101h2v1h-2zM23 101h1v1h-1zM10 102h1v1h-1zM12 102h1v1h-1zM17 102h5v1h-5zM23 102h1v1h-1zM6 104h1v1h-1zM13 104h1v1h-1zM15 104h2v1h-2zM18 104h1v1h-1zM20 104h2v1h-2zM6 105h1v1h-1zM8 105h3v1h-3zM13 105h1v1h-1zM16 105h1v1h-1zM19 105h3v1h-3zM23 105h1v1h-1zM6 106h1v1h-1zM10 106h1v1h-1zM13 106h1v1h-1zM16 106h1v1h-1zM19 106h2v1h-2zM23 106h1v1h-1zM0 107h8v1h-8zM9 107h1v1h-1zM11 107h2v1h-2zM16 107h1v1h-1zM18 107h2v1h-2zM21 107h1v1h-1zM0 108h4v1h-4zM5 108h1v1h-1zM7 108h1v1h-1zM9 108h1v1h-1zM11 108h2v1h-2zM16 108h1v1h-1zM21 108h1v1h-1zM0 109h5v1h-5zM9 109h4v1h-4zM18 109h4v1h-4zM0 110h1v1h-1zM2 110h3v1h-3zM6 110h7v1h-7zM16 110h1v1h-1zM18 110h4v1h-4zM23 110h1v1h-1zM0 111h5v1h-5zM6 111h7v1h-7zM15 111h7v1h-7zM23 111h1v1h-1zM0 112h2v1h-2zM3 112h10v1h-10zM15 112h9v1h-9zM1 113h1v1h-1zM3 113h2v1h-2zM6 113h7v1h-7zM14 113h7v1h-7zM22 113h2v1h-2zM0 114h9v1h-9zM10 114h4v1h-4zM15 114h9v1h-9zM0 115h5v1h-5zM6 115h7v1h-7zM16 115h8v1h-8zM0 116h5v1h-5zM7 116h2v1h-2zM13 116h4v1h-4zM18 116h6v1h-6zM0 117h1v1h-1zM2 117h2v1h-2zM8 117h1v1h-1zM13 117h2v1h-2zM16 117h6v1h-6zM23 117h1v1h-1zM1 118h2v1h-2zM4 118h1v1h-1zM6 118h1v1h-1zM9 118h3v1h-3zM13 118h1v1h-1zM15 118h7v1h-7zM1 119h1v1h-1zM4 119h1v1h-1zM6 119h2v1h-2zM9 119h2v1h-2zM13 119h9v1h-9zM23 119h1v1h-1zM0 120h4v1h-4zM5 120h1v1h-1zM7 120h1v1h-1zM9 120h3v1h-3zM13 120h1v1h-1zM16 120h8v1h-8zM0 121h2v1h-2zM3 121h1v1h-1zM7 121h7v1h-7zM16 121h8v1h-8zM6 122h6v1h-6zM16 122h1v1h-1zM18 122h6v1h-6zM3 123h1v1h-1zM5 123h2v1h-2zM8 123h5v1h-5zM14 123h6v1h-6zM22 123h1v1h-1zM6 124h6v1h-6zM13 124h4v1h-4zM18 124h6v1h-6zM4 125h11v1h-11zM17 125h7v1h-7zM1 126h2v1h-2zM4 126h13v1h-13zM18 126h6v1h-6zM2 127h1v1h-1zM5 127h8v1h-8zM17 127h3v1h-3zM23 127h1v1h-1zM3 128h7v1h-7zM11 128h3v1h-3zM16 128h1v1h-1zM20 128h1v1h-1zM23 128h1v1h-1zM5 129h1v1h-1zM7 129h3v1h-3zM19 129h1v1h-1zM23 129h1v1h-1zM4 130h8v1h-8zM13 130h1v1h-1zM15 130h1v1h-1zM17 130h3v1h-3zM23 130h1v1h-1zM5 131h4v1h-4zM10 131h1v1h-1zM13 131h1v1h-1zM15 131h1v1h-1zM17 131h3v1h-3zM23 131h1v1h-1zM5 132h1v1h-1zM7 132h4v1h-4zM12 132h3v1h-3zM17 132h6v1h-6zM6 133h1v1h-1zM8 133h3v1h-3zM12 133h4v1h-4zM17 133h5v1h-5zM23 133h1v1h-1zM5 134h8v1h-8zM15 134h1v1h-1zM18 134h1v1h-1zM23 134h1v1h-1zM5 135h1v1h-1zM7 135h1v1h-1zM9 135h5v1h-5zM17 135h5v1h-5zM23 135h1v1h-1zM3 136h3v1h-3zM10 136h5v1h-5zM16 136h1v1h-1zM18 136h6v1h-6zM3 137h1v1h-1zM5 137h3v1h-3zM9 137h1v1h-1zM11 137h1v1h-1zM13 137h2v1h-2zM16 137h1v1h-1zM18 137h2v1h-2zM22 137h2v1h-2zM3 138h1v1h-1zM5 138h3v1h-3zM10 138h3v1h-3zM16 138h2v1h-2zM19 138h5v1h-5zM0 139h2v1h-2zM3 139h5v1h-5zM9 139h6v1h-6zM16 139h3v1h-3zM20 139h4v1h-4zM5 140h5v1h-5zM11 140h2v1h-2zM16 140h1v1h-1zM19 140h1v1h-1zM0 141h1v1h-1zM4 141h2v1h-2zM8 141h2v1h-2zM12 141h4v1h-4zM18 141h3v1h-3zM22 141h2v1h-2zM0 142h1v1h-1zM3 142h3v1h-3zM7 142h1v1h-1zM19 142h2v1h-2zM23 142h1v1h-1zM5 143h1v1h-1zM23 143h1v1h-1zM3 144h4v1h-4zM10 144h1v1h-1zM16 144h1v1h-1zM18 144h1v1h-1zM22 144h1v1h-1zM0 145h2v1h-2zM4 145h2v1h-2zM16 145h1v1h-1zM18 145h1v1h-1zM20 145h1v1h-1zM23 145h1v1h-1zM1 146h1v1h-1zM4 146h1v1h-1zM16 146h1v1h-1zM20 146h1v1h-1zM22 146h1v1h-1zM0 147h5v1h-5zM6 147h1v1h-1zM9 147h2v1h-2zM12 147h1v1h-1zM17 147h2v1h-2zM20 147h1v1h-1zM23 147h1v1h-1zM4 148h8v1h-8zM18 148h1v1h-1zM4 149h1v1h-1zM6 149h1v1h-1zM9 149h3v1h-3zM13 149h1v1h-1zM17 149h1v1h-1zM19 149h2v1h-2zM22 149h2v1h-2zM0 150h2v1h-2zM3 150h3v1h-3zM10 150h4v1h-4zM15 150h6v1h-6zM23 150h1v1h-1zM1 151h1v1h-1zM4 151h1v1h-1zM10 151h2v1h-2zM13 151h1v1h-1zM16 151h1v1h-1zM18 151h1v1h-1zM20 151h3v1h-3zM0 152h1v1h-1zM4 152h1v1h-1zM6 152h1v1h-1zM8 152h1v1h-1zM10 152h2v1h-2zM14 152h1v1h-1zM16 152h1v1h-1zM18 152h4v1h-4zM23 152h1v1h-1zM5 153h1v1h-1zM7 153h3v1h-3zM11 153h1v1h-1zM19 153h1v1h-1zM21 153h1v1h-1zM23 153h1v1h-1zM5 154h4v1h-4zM10 154h1v1h-1zM16 154h1v1h-1zM22 154h1v1h-1zM6 155h4v1h-4zM11 155h3v1h-3zM20 155h2v1h-2zM23 155h1v1h-1zM6 156h2v1h-2zM11 156h2v1h-2zM16 156h1v1h-1zM19 156h1v1h-1zM21 156h1v1h-1zM23 156h1v1h-1zM6 157h7v1h-7zM15 157h2v1h-2zM21 157h2v1h-2zM5 158h1v1h-1zM11 158h2v1h-2zM16 158h1v1h-1zM18 158h6v1h-6zM6 159h7v1h-7zM14 159h1v1h-1zM16 159h1v1h-1zM18 159h2v1h-2zM21 159h1v1h-1zM23 159h1v1h-1zM6 160h1v1h-1zM8 160h5v1h-5zM21 160h1v1h-1zM23 160h1v1h-1zM4 161h1v1h-1zM6 161h3v1h-3zM11 161h2v1h-2zM4 162h1v1h-1zM6 162h7v1h-7zM16 162h1v1h-1zM18 162h1v1h-1zM2 163h3v1h-3zM6 163h1v1h-1zM8 163h2v1h-2zM18 163h1v1h-1zM23 163h1v1h-1zM0 164h1v1h-1zM4 164h1v1h-1zM6 164h1v1h-1zM9 164h1v1h-1zM16 164h1v1h-1zM18 164h2v1h-2zM23 164h1v1h-1zM6 165h1v1h-1zM8 165h6v1h-6zM15 165h5v1h-5zM22 165h2v1h-2zM6 166h1v1h-1zM8 166h2v1h-2zM12 166h1v1h-1zM14 166h10v1h-10zM6 167h2v1h-2zM9 167h1v1h-1zM11 167h1v1h-1zM20 167h1v1h-1zM23 167h1v1h-1zM9 168h1v1h-1zM11 168h2v1h-2zM17 168h4v1h-4zM23 168h1v1h-1zM9 169h1v1h-1zM11 169h2v1h-2zM16 169h5v1h-5zM22 169h2v1h-2zM6 170h7v1h-7zM18 170h1v1h-1zM21 170h1v1h-1zM23 170h1v1h-1zM7 171h3v1h-3zM11 171h2v1h-2zM18 171h2v1h-2zM21 171h3v1h-3zM7 172h6v1h-6zM16 172h2v1h-2zM19 172h1v1h-1zM21 172h1v1h-1zM23 172h1v1h-1zM7 173h2v1h-2zM10 173h3v1h-3zM15 173h1v1h-1zM18 173h3v1h-3zM23 173h1v1h-1zM7 174h2v1h-2zM10 174h3v1h-3zM14 174h10v1h-10zM6 175h3v1h-3zM10 175h5v1h-5zM16 175h8v1h-8zM6 176h5v1h-5zM12 176h3v1h-3zM17 176h1v1h-1zM19 176h2v1h-2zM22 176h2v1h-2zM6 177h8v1h-8zM17 177h1v1h-1zM19 177h2v1h-2zM22 177h2v1h-2zM4 178h1v1h-1zM6 178h2v1h-2zM9 178h3v1h-3zM13 178h1v1h-1zM17 178h7v1h-7zM6 179h4v1h-4zM11 179h2v1h-2zM17 179h4v1h-4zM22 179h2v1h-2zM6 180h3v1h-3zM11 180h2v1h-2zM15 180h2v1h-2zM18 180h6v1h-6zM6 181h4v1h-4zM11 181h2v1h-2zM20 181h1v1h-1zM22 181h2v1h-2zM6 182h2v1h-2zM11 182h1v1h-1zM13 182h1v1h-1zM15 182h9v1h-9zM0 183h1v1h-1zM6 183h2v1h-2zM16 183h1v1h-1zM19 183h2v1h-2zM22 183h2v1h-2zM8 184h4v1h-4zM16 184h1v1h-1zM19 184h1v1h-1zM21 184h2v1h-2zM6 185h2v1h-2zM9 185h15v1h-15zM6 186h2v1h-2zM9 186h3v1h-3zM13 186h11v1h-11zM7 187h1v1h-1zM9 187h15v1h-15zM0 188h1v1h-1zM10 188h10v1h-10zM21 188h3v1h-3zM7 189h3v1h-3zM11 189h1v1h-1zM16 189h6v1h-6zM23 189h1v1h-1zM0 190h1v1h-1zM7 190h2v1h-2zM10 190h2v1h-2zM16 190h2v1h-2zM19 190h3v1h-3zM23 190h1v1h-1zM6 191h1v1h-1zM8 191h3v1h-3zM13 191h7v1h-7zM23 191h1v1h-1zM0 192h1v1h-1zM9 192h2v1h-2zM13 192h3v1h-3zM17 192h6v1h-6zM6 193h1v1h-1zM10 193h1v1h-1zM14 193h1v1h-1zM16 193h8v1h-8zM8 194h1v1h-1zM16 194h4v1h-4zM21 194h3v1h-3zM16 195h7v1h-7zM9 196h1v1h-1zM15 196h2v1h-2zM18 196h3v1h-3zM9 197h1v1h-1zM16 197h1v1h-1zM18 197h1v1h-1zM20 197h1v1h-1zM23 197h1v1h-1zM8 198h2v1h-2zM14 198h3v1h-3zM19 198h2v1h-2zM22 198h2v1h-2zM8 199h2v1h-2zM13 199h1v1h-1zM15 199h2v1h-2zM19 199h2v1h-2zM22 199h2v1h-2zM6 200h3v1h-3zM11 200h1v1h-1zM13 200h1v1h-1zM20 200h2v1h-2zM23 200h1v1h-1zM7 201h3v1h-3zM11 201h1v1h-1zM13 201h3v1h-3zM18 201h4v1h-4zM23 201h1v1h-1zM6 202h4v1h-4zM11 202h1v1h-1zM14 202h3v1h-3zM18 202h2v1h-2zM23 202h1v1h-1zM6 203h3v1h-3zM10 203h2v1h-2zM13 203h4v1h-4zM18 203h6v1h-6zM8 204h1v1h-1zM10 204h2v1h-2zM13 204h2v1h-2zM16 204h4v1h-4zM23 204h1v1h-1zM13 205h1v1h-1zM15 205h1v1h-1zM17 205h7v1h-7zM10 206h1v1h-1zM12 206h3v1h-3zM16 206h4v1h-4zM22 206h2v1h-2zM10 207h2v1h-2zM13 207h8v1h-8zM22 207h2v1h-2zM1 208h1v1h-1zM3 208h1v1h-1zM8 208h2v1h-2zM12 208h12v1h-12zM8 209h1v1h-1zM13 209h2v1h-2zM16 209h8v1h-8zM5 210h1v1h-1zM7 210h2v1h-2zM10 210h1v1h-1zM13 210h11v1h-11zM10 211h1v1h-1zM13 211h1v1h-1zM17 211h7v1h-7zM8 212h1v1h-1zM11 212h1v1h-1zM13 212h8v1h-8zM22 212h2v1h-2zM5 213h2v1h-2zM11 213h1v1h-1zM13 213h1v1h-1zM16 213h8v1h-8zM5 214h1v1h-1zM8 214h1v1h-1zM11 214h1v1h-1zM13 214h1v1h-1zM15 214h1v1h-1zM17 214h7v1h-7zM6 215h1v1h-1zM9 215h1v1h-1zM11 215h1v1h-1zM15 215h2v1h-2zM19 215h1v1h-1zM21 215h1v1h-1zM23 215h1v1h-1zM6 216h1v1h-1zM9 216h1v1h-1zM11 216h1v1h-1zM14 216h1v1h-1zM16 216h1v1h-1zM18 216h3v1h-3zM23 216h1v1h-1zM11 217h1v1h-1zM14 217h1v1h-1zM16 217h7v1h-7zM5 218h4v1h-4zM13 218h1v1h-1zM16 218h4v1h-4zM23 218h1v1h-1zM8 219h1v1h-1zM11 219h2v1h-2zM15 219h2v1h-2zM20 219h1v1h-1zM23 219h1v1h-1zM5 220h1v1h-1zM11 220h7v1h-7zM19 220h3v1h-3zM23 220h1v1h-1zM12 221h1v1h-1zM14 221h1v1h-1zM18 221h2v1h-2zM21 221h1v1h-1zM13 222h1v1h-1zM16 222h4v1h-4zM21 222h1v1h-1zM23 222h1v1h-1zM9 223h4v1h-4zM16 223h8v1h-8zM6 224h1v1h-1zM10 224h1v1h-1zM12 224h2v1h-2zM16 224h1v1h-1zM18 224h4v1h-4zM23 224h1v1h-1z"/><path fill="#fbd0d0" d="M9 3h1v1h-1zM10 4h1v1h-1zM6 5h1v1h-1zM13 5h1v1h-1zM22 5h1v1h-1zM8 10h1v1h-1zM8 11h1v1h-1zM11 12h1v1h-1zM8 13h1v1h-1zM12 14h1v1h-1zM1 17h1v1h-1zM3 19h1v1h-1zM13 19h1v1h-1zM11 20h1v1h-1zM8 21h1v1h-1zM15 22h1v1h-1zM7 25h1v1h-1zM9 25h1v1h-1zM8 26h1v1h-1zM12 27h1v1h-1zM7 29h1v1h-1zM0 30h1v1h-1zM12 33h1v1h-1zM7 34h1v1h-1zM10 34h2v1h-2zM8 35h1v1h-1zM10 35h1v1h-1zM7 36h2v1h-2zM0 38h1v1h-1zM10 39h1v1h-1zM12 39h1v1h-1zM13 40h1v1h-1zM2 41h1v1h-1zM14 41h1v1h-1zM5 42h1v1h-1zM15 43h1v1h-1zM6 44h1v1h-1zM10 44h1v1h-1zM9 45h1v1h-1zM13 50h1v1h-1zM9 54h1v1h-1zM6 55h1v1h-1zM11 55h1v1h-1zM9 57h1v1h-1zM7 58h1v1h-1zM8 60h1v1h-1zM0 65h1v1h-1zM4 65h1v1h-1zM10 66h1v1h-1zM1 68h1v1h-1zM10 68h1v1h-1zM1 69h1v1h-1zM3 69h2v1h-2zM4 70h1v1h-1zM10 71h1v1h-1zM5 72h1v1h-1zM10 72h1v1h-1zM6 74h1v1h-1zM8 76h1v1h-1zM6 78h1v1h-1zM8 78h1v1h-1zM7 79h1v1h-1zM11 80h2v1h-2zM11 82h1v1h-1zM12 83h1v1h-1zM4 86h1v1h-1zM13 97h1v1h-1zM5 99h1v1h-1zM5 115h1v1h-1zM5 116h1v1h-1zM5 119h1v1h-1zM4 122h1v1h-1zM15 127h1v1h-1zM1 130h2v1h-2zM3 132h1v1h-1zM0 136h2v1h-2zM1 138h1v1h-1zM4 138h1v1h-1zM15 142h1v1h-1zM2 148h1v1h-1zM13 148h1v1h-1zM13 153h1v1h-1zM22 153h1v1h-1zM0 154h4v1h-4zM23 154h1v1h-1zM22 155h1v1h-1zM1 156h2v1h-2zM3 161h1v1h-1zM1 162h1v1h-1zM2 167h1v1h-1zM2 168h1v1h-1zM2 169h1v1h-1zM5 170h1v1h-1zM0 172h1v1h-1zM2 175h1v1h-1zM2 179h1v1h-1zM3 181h1v1h-1zM8 186h1v1h-1zM4 188h1v1h-1zM4 192h1v1h-1zM4 194h1v1h-1zM0 195h1v1h-1zM11 195h1v1h-1zM1 196h1v1h-1zM12 197h1v1h-1zM4 200h2v1h-2zM1 202h1v1h-1zM0 203h1v1h-1zM5 204h1v1h-1zM5 207h1v1h-1zM5 208h1v1h-1zM0 209h1v1h-1zM1 213h2v1h-2zM10 213h1v1h-1zM1 214h1v1h-1zM4 215h1v1h-1zM1 217h1v1h-1zM4 217h1v1h-1zM9 218h1v1h-1zM3 220h1v1h-1zM15 221h1v1h-1zM5 222h1v1h-1zM15 222h1v1h-1zM2 223h1v1h-1z"/><path fill="#5858ee" d="M23 5h1v1h-1zM21 11h1v1h-1zM21 12h1v1h-1zM21 13h1v1h-1zM21 31h1v1h-1zM20 32h1v1h-1zM19 37h1v1h-1zM18 38h1v1h-1zM16 39h1v1h-1zM20 41h1v1h-1zM18 47h1v1h-1zM21 67h1v1h-1zM21 73h1v1h-1zM21 78h1v1h-1z"/><path fill="#f92a2a" d="M2 6h1v1h-1zM4 6h1v1h-1zM2 97h2v1h-2zM5 97h1v1h-1zM3 98h1v1h-1z"/><path fill="#adadf6" d="M16 7h2v1h-2zM23 8h1v1h-1zM15 11h1v1h-1zM23 24h1v1h-1zM16 25h1v1h-1zM16 26h1v1h-1zM14 28h1v1h-1zM21 33h1v1h-1zM23 37h1v1h-1zM12 38h1v1h-1zM17 38h1v1h-1zM19 38h1v1h-1zM19 41h1v1h-1zM17 42h1v1h-1zM19 43h1v1h-1zM21 49h1v1h-1zM23 53h1v1h-1zM8 63h2v1h-2zM7 64h1v1h-1zM18 72h1v1h-1zM19 74h1v1h-1zM20 79h1v1h-1zM15 80h1v1h-1zM15 83h1v1h-1zM17 86h1v1h-1zM6 90h1v1h-1zM18 92h1v1h-1zM15 93h1v1h-1zM17 93h1v1h-1zM23 98h1v1h-1zM15 101h1v1h-1zM17 101h1v1h-1zM21 103h1v1h-1zM23 103h1v1h-1zM22 104h1v1h-1zM18 106h1v1h-1zM23 107h1v1h-1zM17 109h1v1h-1zM1 110h1v1h-1zM17 110h1v1h-1zM23 118h1v1h-1zM22 119h1v1h-1zM0 127h1v1h-1zM16 127h1v1h-1zM21 127h1v1h-1zM0 129h1v1h-1zM6 129h1v1h-1zM14 129h1v1h-1zM15 132h1v1h-1zM23 132h1v1h-1zM17 137h1v1h-1zM14 138h1v1h-1zM21 140h1v1h-1zM23 140h1v1h-1zM22 142h1v1h-1zM0 146h1v1h-1zM21 150h1v1h-1zM8 156h1v1h-1zM20 157h1v1h-1zM16 160h1v1h-1zM18 160h2v1h-2zM13 166h1v1h-1zM19 167h1v1h-1zM21 167h1v1h-1zM15 170h1v1h-1zM16 173h1v1h-1zM18 176h1v1h-1zM15 177h1v1h-1zM8 178h1v1h-1zM17 180h1v1h-1zM15 183h1v1h-1zM9 190h1v1h-1zM14 190h1v1h-1zM14 194h1v1h-1zM14 195h2v1h-2zM14 196h1v1h-1zM23 196h1v1h-1zM8 197h1v1h-1zM14 199h1v1h-1zM21 199h1v1h-1zM22 204h1v1h-1zM16 205h1v1h-1zM14 211h1v1h-1zM20 215h1v1h-1zM13 217h1v1h-1zM23 217h1v1h-1zM13 221h1v1h-1zM16 221h1v1h-1zM20 222h1v1h-1zM14 224h1v1h-1z"/><path fill="#f68686" d="M6 8h1v1h-1zM15 19h1v1h-1zM3 24h1v1h-1zM5 24h1v1h-1zM0 25h1v1h-1zM1 26h1v1h-1zM0 28h2v1h-2zM12 28h1v1h-1zM1 30h1v1h-1zM4 30h1v1h-1zM4 33h2v1h-2zM11 33h1v1h-1zM14 33h1v1h-1zM8 34h1v1h-1zM6 36h1v1h-1zM11 36h1v1h-1zM3 37h1v1h-1zM7 39h1v1h-1zM8 40h1v1h-1zM12 42h1v1h-1zM15 44h1v1h-1zM0 45h1v1h-1zM0 46h2v1h-2zM1 51h1v1h-1zM0 52h1v1h-1zM14 52h1v1h-1zM5 53h1v1h-1zM8 56h1v1h-1zM1 60h1v1h-1zM0 63h1v1h-1zM1 64h1v1h-1zM1 72h1v1h-1zM3 73h1v1h-1zM0 75h1v1h-1zM1 76h1v1h-1zM1 80h1v1h-1zM0 81h1v1h-1zM2 84h1v1h-1zM1 85h1v1h-1zM3 90h1v1h-1zM1 92h1v1h-1zM3 92h1v1h-1zM1 93h1v1h-1zM15 97h1v1h-1zM0 100h2v1h-2zM15 108h1v1h-1zM4 140h1v1h-1zM10 142h1v1h-1zM7 145h1v1h-1zM1 155h1v1h-1zM1 157h1v1h-1zM0 158h1v1h-1zM1 160h1v1h-1zM15 161h1v1h-1zM2 166h1v1h-1zM4 166h1v1h-1zM0 167h1v1h-1zM2 171h1v1h-1zM1 172h1v1h-1zM5 173h1v1h-1zM4 175h2v1h-2zM2 177h1v1h-1zM0 179h1v1h-1zM1 186h1v1h-1zM5 188h1v1h-1zM4 191h1v1h-1zM3 198h2v1h-2zM2 201h1v1h-1zM0 202h1v1h-1zM4 204h1v1h-1zM2 205h2v1h-2zM1 206h1v1h-1zM0 207h1v1h-1zM0 210h1v1h-1zM4 216h1v1h-1zM2 218h2v1h-2zM3 219h1v1h-1zM2 220h1v1h-1z"/><path fill="#6f6ff0" d="M16 10h1v1h-1zM23 12h1v1h-1zM21 41h1v1h-1zM18 43h1v1h-1zM18 67h1v1h-1zM16 82h1v1h-1zM20 89h1v1h-1z"/></g>
<g transform="translate(1063.40 78.30) scale(14.5680 11.0300)" shape-rendering="crispEdges"><path fill="#c9c9f8" d="M0 0h1v1h-1zM17 0h1v1h-1zM23 0h2v1h-2zM16 1h1v1h-1zM11 2h1v1h-1zM20 2h1v1h-1zM16 3h2v1h-2zM21 3h1v1h-1zM23 3h1v1h-1zM25 3h1v1h-1zM13 4h1v1h-1zM24 4h3v1h-3zM10 5h1v1h-1zM12 5h1v1h-1zM20 6h1v1h-1zM13 11h1v1h-1zM24 11h1v1h-1zM25 12h1v1h-1zM27 12h1v1h-1zM14 14h1v1h-1zM19 16h1v1h-1zM27 16h1v1h-1zM21 18h1v1h-1zM24 19h1v1h-1zM13 20h1v1h-1zM27 20h1v1h-1zM21 21h1v1h-1zM24 21h1v1h-1zM5 22h1v1h-1zM24 22h1v1h-1zM20 23h2v1h-2zM20 26h1v1h-1zM19 36h1v1h-1zM19 43h1v1h-1zM19 44h1v1h-1zM22 45h1v1h-1zM18 49h1v1h-1zM22 49h1v1h-1zM23 53h1v1h-1zM21 54h1v1h-1zM26 55h1v1h-1zM21 57h1v1h-1zM15 58h1v1h-1zM20 58h1v1h-1zM19 60h1v1h-1zM13 66h2v1h-2zM17 66h1v1h-1zM17 72h1v1h-1zM24 72h1v1h-1zM18 73h1v1h-1zM11 75h1v1h-1zM9 76h1v1h-1zM27 76h1v1h-1zM18 77h1v1h-1zM21 77h1v1h-1zM10 78h1v1h-1zM22 78h1v1h-1zM24 78h1v1h-1zM21 85h2v1h-2zM15 86h1v1h-1zM27 87h1v1h-1zM16 89h1v1h-1zM21 90h1v1h-1zM27 93h1v1h-1zM17 95h1v1h-1z"/><path fill="#f7f0f5" d="M1 0h1v1h-1zM12 0h1v1h-1zM0 1h1v1h-1zM17 2h1v1h-1zM6 5h1v1h-1zM25 5h1v1h-1zM3 7h1v1h-1zM2 8h1v1h-1zM10 10h1v1h-1zM21 13h1v1h-1zM12 15h1v1h-1zM18 15h1v1h-1zM26 16h1v1h-1zM0 17h2v1h-2zM21 17h1v1h-1zM25 18h1v1h-1zM27 18h1v1h-1zM3 21h1v1h-1zM2 22h1v1h-1zM20 24h1v1h-1zM24 25h1v1h-1zM1 26h1v1h-1zM21 26h2v1h-2zM24 26h1v1h-1zM17 27h1v1h-1zM17 29h1v1h-1zM15 30h1v1h-1zM16 31h1v1h-1zM16 32h1v1h-1zM0 33h1v1h-1zM17 34h1v1h-1zM19 35h1v1h-1zM13 37h1v1h-1zM18 37h1v1h-1zM19 41h1v1h-1zM23 41h1v1h-1zM15 43h1v1h-1zM20 43h1v1h-1zM27 43h1v1h-1zM0 46h1v1h-1zM13 46h1v1h-1zM24 46h1v1h-1zM27 46h1v1h-1zM23 47h2v1h-2zM24 48h2v1h-2zM21 49h1v1h-1zM9 50h1v1h-1zM21 50h1v1h-1zM23 52h1v1h-1zM25 52h1v1h-1zM9 53h1v1h-1zM25 53h1v1h-1zM26 54h1v1h-1zM21 55h1v1h-1zM0 57h1v1h-1zM14 59h1v1h-1zM13 60h1v1h-1zM25 60h1v1h-1zM14 61h1v1h-1zM20 61h1v1h-1zM17 63h1v1h-1zM19 63h1v1h-1zM12 65h1v1h-1zM18 65h1v1h-1zM18 66h1v1h-1zM21 66h1v1h-1zM18 70h1v1h-1zM27 70h1v1h-1zM21 71h1v1h-1zM21 72h1v1h-1zM9 74h1v1h-1zM26 74h1v1h-1zM23 75h1v1h-1zM21 76h1v1h-1zM22 77h1v1h-1zM22 80h1v1h-1zM24 81h1v1h-1zM17 82h1v1h-1zM9 83h2v1h-2zM24 83h1v1h-1zM27 84h1v1h-1zM9 85h1v1h-1zM23 87h1v1h-1zM21 88h1v1h-1zM23 89h1v1h-1zM26 89h1v1h-1zM0 90h1v1h-1zM24 91h2v1h-2zM21 93h1v1h-1zM25 93h1v1h-1zM17 94h1v1h-1zM21 95h1v1h-1z"/><path fill="#e3e0f8" d="M2 0h1v1h-1zM8 0h1v1h-1zM27 0h1v1h-1zM14 2h1v1h-1zM18 2h2v1h-2zM2 4h1v1h-1zM13 5h1v1h-1zM22 5h1v1h-1zM15 6h1v1h-1zM18 6h1v1h-1zM24 6h1v1h-1zM0 7h1v1h-1zM15 7h1v1h-1zM10 12h1v1h-1zM12 12h1v1h-1zM18 16h1v1h-1zM18 17h1v1h-1zM15 18h1v1h-1zM23 20h1v1h-1zM19 26h1v1h-1zM19 27h1v1h-1zM20 38h1v1h-1zM15 40h1v1h-1zM18 41h1v1h-1zM19 42h1v1h-1zM15 44h1v1h-1zM14 46h2v1h-2zM18 47h1v1h-1zM15 48h1v1h-1zM17 48h1v1h-1zM24 50h1v1h-1zM23 54h1v1h-1zM16 55h1v1h-1zM18 55h1v1h-1zM20 55h1v1h-1zM24 56h1v1h-1zM25 57h1v1h-1zM23 58h1v1h-1zM15 59h1v1h-1zM27 60h1v1h-1zM9 67h1v1h-1zM14 70h1v1h-1zM10 71h1v1h-1zM27 72h1v1h-1zM9 73h1v1h-1zM17 74h1v1h-1zM21 74h1v1h-1zM27 75h1v1h-1zM18 76h1v1h-1zM20 77h1v1h-1zM15 80h1v1h-1zM18 81h1v1h-1zM27 82h1v1h-1zM15 83h1v1h-1zM23 85h1v1h-1zM27 86h1v1h-1zM24 87h1v1h-1zM22 90h2v1h-2zM23 92h1v1h-1zM26 92h1v1h-1zM20 93h1v1h-1zM20 95h1v1h-1z"/><path fill="#fac8c8" d="M3 0h2v1h-2zM6 0h1v1h-1zM6 1h1v1h-1zM26 2h1v1h-1zM4 6h1v1h-1zM6 6h2v1h-2zM26 7h1v1h-1zM5 10h1v1h-1zM11 10h1v1h-1zM10 13h1v1h-1zM1 14h1v1h-1zM4 18h1v1h-1zM27 22h1v1h-1zM22 25h1v1h-1zM25 25h1v1h-1zM13 27h1v1h-1zM18 27h1v1h-1zM23 27h1v1h-1zM10 28h1v1h-1zM12 28h2v1h-2zM14 29h1v1h-1zM21 29h1v1h-1zM26 29h1v1h-1zM1 30h2v1h-2zM26 30h1v1h-1zM14 31h1v1h-1zM17 31h1v1h-1zM15 32h1v1h-1zM6 33h1v1h-1zM9 33h4v1h-4zM23 33h1v1h-1zM26 33h1v1h-1zM2 36h1v1h-1zM9 37h2v1h-2zM21 37h2v1h-2zM21 39h1v1h-1zM24 39h1v1h-1zM26 39h1v1h-1zM22 42h1v1h-1zM18 43h1v1h-1zM23 43h1v1h-1zM25 43h1v1h-1zM13 44h1v1h-1zM0 45h2v1h-2zM7 46h1v1h-1zM14 47h1v1h-1zM12 48h1v1h-1zM2 50h1v1h-1zM14 54h1v1h-1zM12 55h1v1h-1zM12 56h1v1h-1zM9 57h1v1h-1zM11 57h1v1h-1zM0 59h1v1h-1zM22 59h1v1h-1zM9 61h1v1h-1zM21 61h1v1h-1zM0 62h1v1h-1zM2 62h1v1h-1zM13 62h1v1h-1zM24 62h1v1h-1zM13 63h1v1h-1zM13 64h1v1h-1zM2 65h1v1h-1zM10 65h2v1h-2zM10 66h1v1h-1zM0 67h1v1h-1zM0 68h2v1h-2zM24 68h1v1h-1zM10 69h1v1h-1zM12 69h1v1h-1zM24 69h1v1h-1zM22 70h1v1h-1zM1 72h1v1h-1zM0 74h1v1h-1zM10 74h1v1h-1zM22 74h1v1h-1zM13 75h1v1h-1zM2 76h1v1h-1zM2 77h1v1h-1zM13 78h2v1h-2zM21 79h1v1h-1zM24 79h1v1h-1zM27 79h1v1h-1zM22 81h1v1h-1zM1 82h1v1h-1zM9 82h2v1h-2zM25 83h1v1h-1zM0 84h2v1h-2zM22 84h2v1h-2zM26 84h1v1h-1zM10 86h2v1h-2zM0 87h1v1h-1zM22 87h1v1h-1zM1 88h1v1h-1zM11 88h1v1h-1zM5 90h1v1h-1zM8 90h1v1h-1zM10 90h2v1h-2zM2 91h1v1h-1zM0 92h1v1h-1zM2 93h1v1h-1zM2 94h1v1h-1z"/><path fill="#fbd0d0" d="M5 0h1v1h-1zM0 2h2v1h-2zM25 2h1v1h-1zM7 3h2v1h-2zM26 6h1v1h-1zM4 7h1v1h-1zM5 9h1v1h-1zM25 9h1v1h-1zM4 11h1v1h-1zM1 12h1v1h-1zM4 13h1v1h-1zM8 13h1v1h-1zM12 13h1v1h-1zM25 14h1v1h-1zM2 15h1v1h-1zM6 16h1v1h-1zM24 17h1v1h-1zM0 18h1v1h-1zM24 24h1v1h-1zM0 25h1v1h-1zM22 27h1v1h-1zM15 28h1v1h-1zM18 28h1v1h-1zM1 29h1v1h-1zM22 29h1v1h-1zM13 30h1v1h-1zM24 30h1v1h-1zM20 31h1v1h-1zM11 32h1v1h-1zM5 33h1v1h-1zM22 34h1v1h-1zM24 34h1v1h-1zM18 35h1v1h-1zM23 35h1v1h-1zM0 36h1v1h-1zM23 36h2v1h-2zM23 37h1v1h-1zM23 38h1v1h-1zM27 38h1v1h-1zM0 40h1v1h-1zM2 40h1v1h-1zM23 42h1v1h-1zM8 44h1v1h-1zM7 45h1v1h-1zM11 45h1v1h-1zM6 46h1v1h-1zM9 46h1v1h-1zM2 47h1v1h-1zM7 47h1v1h-1zM1 48h1v1h-1zM1 49h1v1h-1zM1 50h1v1h-1zM2 54h1v1h-1zM10 54h1v1h-1zM13 57h1v1h-1zM13 58h1v1h-1zM1 59h1v1h-1zM24 59h1v1h-1zM0 60h1v1h-1zM2 60h1v1h-1zM1 62h1v1h-1zM9 62h1v1h-1zM23 62h1v1h-1zM16 63h1v1h-1zM22 64h1v1h-1zM4 65h1v1h-1zM23 65h1v1h-1zM2 66h1v1h-1zM15 66h1v1h-1zM21 67h1v1h-1zM24 67h1v1h-1zM26 67h2v1h-2zM2 68h1v1h-1zM27 69h1v1h-1zM11 70h1v1h-1zM23 70h1v1h-1zM26 70h1v1h-1zM8 71h1v1h-1zM0 72h1v1h-1zM14 72h1v1h-1zM1 73h2v1h-2zM24 74h1v1h-1zM1 75h2v1h-2zM24 75h1v1h-1zM1 77h1v1h-1zM14 77h1v1h-1zM0 78h2v1h-2zM22 79h1v1h-1zM0 81h1v1h-1zM13 82h1v1h-1zM11 83h2v1h-2zM13 85h2v1h-2zM2 87h1v1h-1zM14 87h1v1h-1zM25 87h1v1h-1zM2 88h1v1h-1zM14 88h1v1h-1zM22 88h1v1h-1zM6 90h2v1h-2zM9 90h1v1h-1zM12 90h1v1h-1zM1 91h1v1h-1zM2 92h1v1h-1zM12 92h1v1h-1zM13 93h1v1h-1zM12 95h1v1h-1z"/><path fill="#fbe4e4" d="M7 0h1v1h-1zM22 0h1v1h-1zM1 1h1v1h-1zM8 1h2v1h-2zM21 2h1v1h-1zM5 6h1v1h-1zM8 6h1v1h-1zM23 7h1v1h-1zM11 9h1v1h-1zM22 9h2v1h-2zM9 10h1v1h-1zM12 10h1v1h-1zM14 10h1v1h-1zM14 11h1v1h-1zM0 13h1v1h-1zM13 14h1v1h-1zM16 14h1v1h-1zM18 14h1v1h-1zM20 14h2v1h-2zM3 17h1v1h-1zM23 17h1v1h-1zM1 18h1v1h-1zM6 19h1v1h-1zM4 20h1v1h-1zM7 20h1v1h-1zM4 22h1v1h-1zM6 22h1v1h-1zM21 22h1v1h-1zM20 27h1v1h-1zM18 30h1v1h-1zM17 32h1v1h-1zM15 33h1v1h-1zM18 34h1v1h-1zM15 36h1v1h-1zM17 36h1v1h-1zM18 38h1v1h-1zM23 39h1v1h-1zM21 41h1v1h-1zM24 41h1v1h-1zM15 42h1v1h-1zM12 44h1v1h-1zM24 45h3v1h-3zM22 47h1v1h-1zM25 47h1v1h-1zM10 48h1v1h-1zM22 48h2v1h-2zM23 50h1v1h-1zM2 52h1v1h-1zM24 52h1v1h-1zM9 54h1v1h-1zM13 54h1v1h-1zM22 55h1v1h-1zM22 56h1v1h-1zM23 60h1v1h-1zM17 61h1v1h-1zM20 62h1v1h-1zM27 62h1v1h-1zM20 67h1v1h-1zM16 68h2v1h-2zM1 69h1v1h-1zM9 69h1v1h-1zM23 69h1v1h-1zM22 71h2v1h-2zM9 72h1v1h-1zM22 72h1v1h-1zM25 73h1v1h-1zM23 74h1v1h-1zM25 74h1v1h-1zM12 75h1v1h-1zM22 76h1v1h-1zM24 76h2v1h-2zM23 77h1v1h-1zM26 80h1v1h-1zM21 81h1v1h-1zM20 82h1v1h-1zM23 82h1v1h-1zM18 83h1v1h-1zM21 84h1v1h-1zM9 86h1v1h-1zM13 86h1v1h-1zM21 86h1v1h-1zM24 86h1v1h-1zM18 87h1v1h-1zM21 89h1v1h-1zM1 90h2v1h-2zM26 90h1v1h-1zM15 91h1v1h-1zM27 91h1v1h-1zM25 92h1v1h-1zM21 94h1v1h-1z"/><path fill="#f1ecf6" d="M9 0h1v1h-1zM21 0h1v1h-1zM7 1h1v1h-1zM15 1h1v1h-1zM21 1h2v1h-2zM7 2h2v1h-2zM15 2h1v1h-1zM23 2h1v1h-1zM22 3h1v1h-1zM26 3h1v1h-1zM0 5h1v1h-1zM2 5h1v1h-1zM25 6h1v1h-1zM8 7h1v1h-1zM21 7h1v1h-1zM10 8h1v1h-1zM2 9h1v1h-1zM13 9h1v1h-1zM26 9h1v1h-1zM9 13h1v1h-1zM11 13h1v1h-1zM14 13h1v1h-1zM27 13h1v1h-1zM7 14h1v1h-1zM9 15h1v1h-1zM17 15h1v1h-1zM24 15h1v1h-1zM22 17h1v1h-1zM23 18h1v1h-1zM22 19h1v1h-1zM25 19h1v1h-1zM6 20h1v1h-1zM0 21h1v1h-1zM8 22h1v1h-1zM17 22h1v1h-1zM26 26h1v1h-1zM15 27h1v1h-1zM16 28h1v1h-1zM18 33h1v1h-1zM22 33h1v1h-1zM16 35h2v1h-2zM15 37h1v1h-1zM21 38h1v1h-1zM20 41h1v1h-1zM27 41h1v1h-1zM17 43h1v1h-1zM2 44h1v1h-1zM22 44h2v1h-2zM26 44h1v1h-1zM20 46h1v1h-1zM21 47h1v1h-1zM26 47h1v1h-1zM14 48h1v1h-1zM21 48h1v1h-1zM9 49h1v1h-1zM13 49h2v1h-2zM26 52h1v1h-1zM14 53h1v1h-1zM1 54h1v1h-1zM25 54h1v1h-1zM23 56h1v1h-1zM14 57h1v1h-1zM25 58h1v1h-1zM10 59h1v1h-1zM23 59h1v1h-1zM21 60h2v1h-2zM26 60h1v1h-1zM15 63h1v1h-1zM17 64h2v1h-2zM26 65h2v1h-2zM11 67h1v1h-1zM15 67h2v1h-2zM14 68h1v1h-1zM0 69h1v1h-1zM10 70h1v1h-1zM17 70h1v1h-1zM24 70h1v1h-1zM25 71h1v1h-1zM23 72h1v1h-1zM10 73h1v1h-1zM24 73h1v1h-1zM26 73h1v1h-1zM9 75h1v1h-1zM21 75h2v1h-2zM17 76h1v1h-1zM18 79h1v1h-1zM20 80h1v1h-1zM24 80h1v1h-1zM21 82h1v1h-1zM17 84h1v1h-1zM24 85h1v1h-1zM23 88h3v1h-3zM22 89h1v1h-1zM21 91h1v1h-1zM23 91h1v1h-1zM23 93h1v1h-1zM26 93h1v1h-1zM18 94h1v1h-1zM22 94h1v1h-1zM25 95h1v1h-1z"/><path fill="#0000f0" d="M10 0h1v1h-1zM14 0h1v1h-1zM18 0h1v1h-1zM20 0h1v1h-1zM14 1h1v1h-1zM20 1h1v1h-1zM27 1h1v1h-1zM9 2h1v1h-1zM13 2h1v1h-1zM9 3h1v1h-1zM11 3h1v1h-1zM13 3h1v1h-1zM18 3h1v1h-1zM9 4h1v1h-1zM11 4h1v1h-1zM14 4h1v1h-1zM16 4h1v1h-1zM19 4h1v1h-1zM14 5h1v1h-1zM9 6h3v1h-3zM14 6h1v1h-1zM16 6h1v1h-1zM6 7h1v1h-1zM12 7h3v1h-3zM14 8h1v1h-1zM18 8h2v1h-2zM9 9h1v1h-1zM19 9h2v1h-2zM16 11h1v1h-1zM19 11h1v1h-1zM11 12h1v1h-1zM16 12h1v1h-1zM16 13h1v1h-1zM19 13h1v1h-1zM17 14h1v1h-1zM19 14h1v1h-1zM7 15h1v1h-1zM16 15h1v1h-1zM19 15h1v1h-1zM7 16h8v1h-8zM6 17h9v1h-9zM19 17h2v1h-2zM7 18h5v1h-5zM13 18h2v1h-2zM19 18h2v1h-2zM5 19h1v1h-1zM7 19h1v1h-1zM9 19h1v1h-1zM11 19h4v1h-4zM8 20h1v1h-1zM10 20h2v1h-2zM6 21h1v1h-1zM9 21h1v1h-1zM11 21h4v1h-4zM19 21h1v1h-1zM25 21h1v1h-1zM1 22h1v1h-1zM3 22h1v1h-1zM7 22h1v1h-1zM9 22h6v1h-6zM19 22h2v1h-2zM0 23h2v1h-2zM3 23h1v1h-1zM7 23h8v1h-8zM17 23h1v1h-1zM19 23h1v1h-1zM19 24h1v1h-1zM17 37h1v1h-1zM19 37h1v1h-1zM19 38h1v1h-1zM18 39h2v1h-2zM17 40h1v1h-1zM16 42h1v1h-1zM16 44h2v1h-2zM19 45h1v1h-1zM16 47h1v1h-1zM16 48h1v1h-1zM19 48h1v1h-1zM16 49h1v1h-1zM19 49h1v1h-1zM19 50h1v1h-1zM16 51h1v1h-1zM20 51h1v1h-1zM19 52h2v1h-2zM16 53h1v1h-1zM19 53h1v1h-1zM27 53h1v1h-1zM17 54h1v1h-1zM27 54h1v1h-1zM17 55h1v1h-1zM19 55h1v1h-1zM27 55h1v1h-1zM17 56h1v1h-1zM19 56h1v1h-1zM17 57h1v1h-1zM19 57h1v1h-1zM16 58h1v1h-1zM19 58h1v1h-1zM13 65h1v1h-1zM16 69h1v1h-1zM19 69h1v1h-1zM19 70h2v1h-2zM13 71h1v1h-1zM16 73h1v1h-1zM20 73h1v1h-1zM16 74h1v1h-1zM10 75h1v1h-1zM19 75h1v1h-1zM16 77h1v1h-1zM19 77h1v1h-1zM25 77h3v1h-3zM19 78h2v1h-2zM16 79h1v1h-1zM16 80h1v1h-1zM19 80h1v1h-1zM27 80h1v1h-1zM19 83h1v1h-1zM19 84h1v1h-1zM17 85h1v1h-1zM20 85h1v1h-1zM17 86h1v1h-1zM20 86h1v1h-1zM16 87h1v1h-1zM20 87h1v1h-1zM16 88h1v1h-1zM20 88h1v1h-1zM18 89h1v1h-1zM20 89h1v1h-1zM18 90h1v1h-1zM27 90h1v1h-1zM16 91h1v1h-1zM19 92h1v1h-1zM16 93h1v1h-1z"/><path fill="#d0d0f9" d="M11 0h1v1h-1zM13 0h1v1h-1zM15 0h1v1h-1zM27 5h1v1h-1zM13 6h1v1h-1zM14 9h1v1h-1zM23 11h1v1h-1zM14 12h1v1h-1zM22 12h1v1h-1zM26 15h1v1h-1zM20 16h1v1h-1zM23 16h1v1h-1zM2 20h1v1h-1zM17 26h1v1h-1zM19 30h1v1h-1zM27 32h1v1h-1zM19 34h1v1h-1zM20 39h1v1h-1zM15 41h1v1h-1zM17 41h1v1h-1zM18 45h1v1h-1zM1 46h1v1h-1zM17 47h1v1h-1zM20 48h1v1h-1zM23 49h1v1h-1zM17 52h1v1h-1zM21 52h1v1h-1zM27 52h1v1h-1zM20 54h1v1h-1zM23 57h1v1h-1zM21 58h1v1h-1zM26 58h1v1h-1zM19 59h1v1h-1zM20 60h1v1h-1zM12 67h1v1h-1zM19 67h1v1h-1zM26 71h1v1h-1zM10 72h1v1h-1zM12 72h1v1h-1zM23 73h1v1h-1zM10 76h1v1h-1zM20 76h1v1h-1zM19 81h1v1h-1zM18 82h1v1h-1zM16 84h1v1h-1zM15 85h1v1h-1zM25 90h1v1h-1zM20 92h1v1h-1zM22 92h1v1h-1zM15 93h1v1h-1zM18 93h2v1h-2zM20 94h1v1h-1z"/><path fill="#b4b4f6" d="M16 0h1v1h-1zM19 0h1v1h-1zM19 3h1v1h-1zM18 4h1v1h-1zM20 4h1v1h-1zM1 7h1v1h-1zM22 8h1v1h-1zM24 8h1v1h-1zM10 9h1v1h-1zM15 10h1v1h-1zM18 12h1v1h-1zM15 15h1v1h-1zM25 15h1v1h-1zM25 16h1v1h-1zM27 17h1v1h-1zM12 18h1v1h-1zM0 19h1v1h-1zM25 20h1v1h-1zM18 21h1v1h-1zM27 21h1v1h-1zM16 23h1v1h-1zM27 23h1v1h-1zM20 35h1v1h-1zM26 41h1v1h-1zM20 44h1v1h-1zM9 45h1v1h-1zM20 45h1v1h-1zM27 47h1v1h-1zM26 48h1v1h-1zM17 50h1v1h-1zM18 51h1v1h-1zM27 51h1v1h-1zM26 53h1v1h-1zM18 54h1v1h-1zM24 57h1v1h-1zM24 58h1v1h-1zM20 59h1v1h-1zM18 63h1v1h-1zM16 71h1v1h-1zM20 71h1v1h-1zM18 72h1v1h-1zM16 75h1v1h-1zM19 76h1v1h-1zM16 78h2v1h-2zM17 80h1v1h-1zM20 81h1v1h-1zM17 87h1v1h-1zM17 90h1v1h-1zM19 90h1v1h-1zM21 92h1v1h-1zM16 94h1v1h-1zM16 95h1v1h-1zM19 95h1v1h-1z"/><path fill="#fababa" d="M25 0h1v1h-1zM4 3h1v1h-1zM11 5h1v1h-1zM7 7h1v1h-1zM9 7h1v1h-1zM0 9h1v1h-1zM1 11h1v1h-1zM25 11h1v1h-1zM2 12h1v1h-1zM23 13h1v1h-1zM0 14h1v1h-1zM10 14h1v1h-1zM22 14h1v1h-1zM1 15h1v1h-1zM3 15h1v1h-1zM0 16h1v1h-1zM2 16h1v1h-1zM4 17h1v1h-1zM5 18h1v1h-1zM24 18h1v1h-1zM7 21h1v1h-1zM25 22h1v1h-1zM21 24h1v1h-1zM26 24h1v1h-1zM21 25h1v1h-1zM2 26h1v1h-1zM13 26h1v1h-1zM21 27h1v1h-1zM24 27h1v1h-1zM17 28h1v1h-1zM24 28h1v1h-1zM12 29h1v1h-1zM27 29h1v1h-1zM0 30h1v1h-1zM23 30h1v1h-1zM1 31h1v1h-1zM15 31h1v1h-1zM0 32h1v1h-1zM9 32h1v1h-1zM24 32h1v1h-1zM13 33h1v1h-1zM27 34h1v1h-1zM1 37h1v1h-1zM14 37h1v1h-1zM1 40h1v1h-1zM21 43h1v1h-1zM24 43h1v1h-1zM2 45h1v1h-1zM4 46h1v1h-1zM0 47h2v1h-2zM9 47h1v1h-1zM13 47h1v1h-1zM0 48h1v1h-1zM2 48h1v1h-1zM12 51h1v1h-1zM1 52h1v1h-1zM0 53h1v1h-1zM2 53h1v1h-1zM0 54h1v1h-1zM11 54h1v1h-1zM13 55h1v1h-1zM0 58h1v1h-1zM9 58h1v1h-1zM13 59h1v1h-1zM21 59h1v1h-1zM26 59h1v1h-1zM0 61h1v1h-1zM10 61h1v1h-1zM14 62h1v1h-1zM22 62h1v1h-1zM20 63h1v1h-1zM24 63h1v1h-1zM21 64h1v1h-1zM23 64h1v1h-1zM26 64h1v1h-1zM1 65h1v1h-1zM5 65h1v1h-1zM25 65h1v1h-1zM11 66h1v1h-1zM22 66h1v1h-1zM25 66h1v1h-1zM1 67h1v1h-1zM4 67h1v1h-1zM18 67h1v1h-1zM11 69h1v1h-1zM21 69h1v1h-1zM1 70h1v1h-1zM21 70h1v1h-1zM25 70h1v1h-1zM2 72h1v1h-1zM25 72h1v1h-1zM12 73h1v1h-1zM13 74h1v1h-1zM14 75h1v1h-1zM4 76h1v1h-1zM0 77h1v1h-1zM12 77h1v1h-1zM2 79h1v1h-1zM23 79h1v1h-1zM0 80h1v1h-1zM2 80h1v1h-1zM23 80h1v1h-1zM25 80h1v1h-1zM13 81h2v1h-2zM26 81h1v1h-1zM22 82h1v1h-1zM26 82h1v1h-1zM0 83h2v1h-2zM2 84h1v1h-1zM14 84h1v1h-1zM25 84h1v1h-1zM1 86h1v1h-1zM11 87h1v1h-1zM12 88h1v1h-1zM0 89h2v1h-2zM14 89h1v1h-1zM13 90h1v1h-1zM0 91h1v1h-1zM12 91h2v1h-2zM0 93h1v1h-1zM1 95h1v1h-1z"/><path fill="#fcecec" d="M26 0h1v1h-1zM13 1h1v1h-1zM25 1h1v1h-1zM2 6h1v1h-1zM21 6h1v1h-1zM23 6h1v1h-1zM11 7h1v1h-1zM11 8h1v1h-1zM1 9h1v1h-1zM21 9h1v1h-1zM2 10h1v1h-1zM15 13h1v1h-1zM20 13h1v1h-1zM24 13h1v1h-1zM12 14h1v1h-1zM26 14h1v1h-1zM6 15h1v1h-1zM10 15h2v1h-2zM27 15h1v1h-1zM21 16h2v1h-2zM3 18h1v1h-1zM6 18h1v1h-1zM4 19h1v1h-1zM0 20h1v1h-1zM3 20h1v1h-1zM4 21h1v1h-1zM22 23h1v1h-1zM15 24h1v1h-1zM15 25h1v1h-1zM18 25h1v1h-1zM27 25h1v1h-1zM23 26h1v1h-1zM27 26h1v1h-1zM19 28h1v1h-1zM15 29h1v1h-1zM20 29h1v1h-1zM24 29h1v1h-1zM2 33h1v1h-1zM21 33h1v1h-1zM16 34h1v1h-1zM18 36h1v1h-1zM22 40h1v1h-1zM26 40h1v1h-1zM17 42h1v1h-1zM0 44h2v1h-2zM21 44h1v1h-1zM10 45h1v1h-1zM21 46h1v1h-1zM25 46h1v1h-1zM9 48h1v1h-1zM13 48h1v1h-1zM10 49h1v1h-1zM26 49h1v1h-1zM13 51h1v1h-1zM12 52h1v1h-1zM18 52h1v1h-1zM13 53h1v1h-1zM10 57h1v1h-1zM26 57h1v1h-1zM2 59h1v1h-1zM27 59h1v1h-1zM24 60h1v1h-1zM18 62h2v1h-2zM16 64h1v1h-1zM19 64h1v1h-1zM24 65h1v1h-1zM12 66h1v1h-1zM24 66h1v1h-1zM27 66h1v1h-1zM17 67h1v1h-1zM13 68h1v1h-1zM19 68h1v1h-1zM18 69h1v1h-1zM2 70h1v1h-1zM17 75h1v1h-1zM11 76h1v1h-1zM26 76h1v1h-1zM9 78h1v1h-1zM11 78h1v1h-1zM21 78h1v1h-1zM17 79h1v1h-1zM20 79h1v1h-1zM24 82h1v1h-1zM15 84h1v1h-1zM24 84h1v1h-1zM12 85h1v1h-1zM22 86h1v1h-1zM21 87h1v1h-1zM14 90h1v1h-1zM1 93h1v1h-1zM22 93h1v1h-1zM23 94h1v1h-1zM26 94h1v1h-1z"/><path fill="#fcf4f4" d="M2 1h1v1h-1zM10 1h1v1h-1zM12 1h1v1h-1zM10 2h1v1h-1zM27 2h1v1h-1zM6 3h1v1h-1zM5 4h1v1h-1zM5 5h1v1h-1zM26 5h1v1h-1zM0 6h1v1h-1zM9 8h1v1h-1zM13 8h1v1h-1zM12 11h1v1h-1zM9 12h1v1h-1zM26 12h1v1h-1zM2 13h1v1h-1zM13 13h1v1h-1zM9 14h1v1h-1zM11 14h1v1h-1zM15 14h1v1h-1zM23 14h1v1h-1zM27 14h1v1h-1zM13 15h1v1h-1zM22 15h1v1h-1zM1 16h1v1h-1zM24 16h1v1h-1zM2 17h1v1h-1zM26 17h1v1h-1zM26 19h2v1h-2zM12 20h1v1h-1zM8 21h1v1h-1zM22 22h1v1h-1zM23 23h1v1h-1zM20 25h1v1h-1zM26 25h1v1h-1zM15 26h1v1h-1zM25 26h1v1h-1zM27 27h1v1h-1zM20 30h1v1h-1zM27 30h1v1h-1zM19 31h1v1h-1zM1 33h1v1h-1zM17 33h1v1h-1zM27 33h1v1h-1zM16 36h1v1h-1zM16 37h1v1h-1zM27 37h1v1h-1zM24 38h1v1h-1zM15 39h2v1h-2zM27 39h1v1h-1zM21 40h1v1h-1zM24 40h1v1h-1zM16 41h1v1h-1zM25 44h1v1h-1zM21 45h1v1h-1zM23 45h1v1h-1zM12 46h1v1h-1zM22 46h1v1h-1zM26 46h1v1h-1zM12 49h1v1h-1zM24 49h1v1h-1zM11 50h1v1h-1zM13 52h2v1h-2zM22 52h1v1h-1zM10 56h1v1h-1zM25 56h1v1h-1zM1 57h2v1h-2zM9 59h1v1h-1zM17 59h2v1h-2zM15 60h1v1h-1zM12 61h1v1h-1zM15 62h1v1h-1zM12 63h1v1h-1zM9 65h1v1h-1zM21 65h1v1h-1zM10 67h1v1h-1zM12 68h1v1h-1zM20 68h1v1h-1zM0 70h1v1h-1zM11 71h1v1h-1zM13 72h1v1h-1zM26 72h1v1h-1zM11 73h1v1h-1zM26 75h1v1h-1zM23 76h1v1h-1zM24 77h1v1h-1zM23 78h1v1h-1zM21 80h1v1h-1zM17 81h1v1h-1zM23 81h1v1h-1zM15 82h1v1h-1zM22 83h1v1h-1zM27 83h1v1h-1zM18 84h1v1h-1zM23 86h1v1h-1zM26 88h1v1h-1zM25 89h1v1h-1zM20 91h1v1h-1zM24 93h1v1h-1zM1 94h1v1h-1zM15 94h1v1h-1zM24 94h1v1h-1z"/><path fill="#f68686" d="M3 1h1v1h-1zM8 9h1v1h-1zM3 10h1v1h-1zM6 10h1v1h-1zM3 11h1v1h-1zM5 11h1v1h-1zM3 13h1v1h-1zM5 13h1v1h-1zM5 14h1v1h-1zM26 18h1v1h-1zM10 26h1v1h-1zM0 27h1v1h-1zM2 27h1v1h-1zM10 27h1v1h-1zM9 29h1v1h-1zM22 31h2v1h-2zM22 32h1v1h-1zM25 32h1v1h-1zM3 33h1v1h-1zM23 34h1v1h-1zM0 35h3v1h-3zM4 36h1v1h-1zM0 37h1v1h-1zM7 37h2v1h-2zM11 37h1v1h-1zM14 38h1v1h-1zM13 39h1v1h-1zM27 42h1v1h-1zM11 47h1v1h-1zM5 48h1v1h-1zM13 50h1v1h-1zM25 50h2v1h-2zM9 52h1v1h-1zM6 53h1v1h-1zM1 56h1v1h-1zM8 58h1v1h-1zM7 59h1v1h-1zM23 61h1v1h-1zM6 63h1v1h-1zM11 64h1v1h-1zM8 68h1v1h-1zM21 68h1v1h-1zM7 70h1v1h-1zM5 76h1v1h-1zM8 76h1v1h-1zM9 80h1v1h-1zM12 80h1v1h-1zM6 86h1v1h-1zM26 86h1v1h-1zM9 91h3v1h-3zM10 94h1v1h-1zM14 94h1v1h-1zM10 95h1v1h-1z"/><path fill="#f78e8e" d="M4 1h2v1h-2zM5 3h1v1h-1zM3 8h1v1h-1zM5 8h1v1h-1zM6 11h1v1h-1zM5 12h1v1h-1zM9 24h1v1h-1zM25 24h1v1h-1zM9 26h1v1h-1zM12 26h1v1h-1zM9 27h1v1h-1zM11 27h1v1h-1zM0 28h2v1h-2zM21 28h1v1h-1zM12 30h1v1h-1zM10 31h1v1h-1zM2 32h1v1h-1zM13 32h1v1h-1zM21 32h1v1h-1zM22 35h1v1h-1zM10 36h1v1h-1zM12 37h1v1h-1zM13 38h1v1h-1zM9 39h1v1h-1zM11 39h1v1h-1zM14 39h1v1h-1zM4 44h1v1h-1zM7 44h1v1h-1zM10 44h1v1h-1zM3 45h1v1h-1zM8 47h1v1h-1zM3 50h1v1h-1zM9 51h1v1h-1zM5 52h1v1h-1zM10 52h1v1h-1zM2 55h1v1h-1zM9 55h1v1h-1zM8 57h1v1h-1zM3 60h1v1h-1zM7 60h1v1h-1zM14 60h1v1h-1zM27 61h1v1h-1zM7 62h1v1h-1zM26 62h1v1h-1zM4 63h1v1h-1zM23 63h1v1h-1zM18 68h1v1h-1zM22 68h1v1h-1zM4 70h1v1h-1zM5 71h2v1h-2zM12 78h1v1h-1zM0 79h1v1h-1zM25 79h1v1h-1zM10 80h1v1h-1zM9 81h1v1h-1zM11 82h1v1h-1zM25 82h1v1h-1zM5 86h1v1h-1zM8 86h1v1h-1zM25 86h1v1h-1zM5 87h1v1h-1zM7 87h1v1h-1zM6 95h1v1h-1zM9 95h1v1h-1zM11 95h1v1h-1z"/><path fill="#fac0c0" d="M11 1h1v1h-1zM2 2h1v1h-1zM0 3h1v1h-1zM2 3h1v1h-1zM12 3h1v1h-1zM3 4h2v1h-2zM10 7h1v1h-1zM25 7h1v1h-1zM27 7h1v1h-1zM0 8h1v1h-1zM2 11h1v1h-1zM0 12h1v1h-1zM6 13h1v1h-1zM2 14h1v1h-1zM8 14h1v1h-1zM24 14h1v1h-1zM5 15h1v1h-1zM8 15h1v1h-1zM14 15h1v1h-1zM25 17h1v1h-1zM5 21h1v1h-1zM26 22h1v1h-1zM18 24h1v1h-1zM23 24h1v1h-1zM23 25h1v1h-1zM12 27h1v1h-1zM14 27h1v1h-1zM9 28h1v1h-1zM20 28h1v1h-1zM23 29h1v1h-1zM22 30h1v1h-1zM2 31h1v1h-1zM18 31h1v1h-1zM10 32h1v1h-1zM14 33h1v1h-1zM24 33h1v1h-1zM15 34h1v1h-1zM20 34h1v1h-1zM15 35h1v1h-1zM24 37h1v1h-1zM25 39h1v1h-1zM1 41h1v1h-1zM24 42h1v1h-1zM22 43h1v1h-1zM6 44h1v1h-1zM11 44h1v1h-1zM24 44h1v1h-1zM3 46h1v1h-1zM8 46h1v1h-1zM10 47h1v1h-1zM2 49h1v1h-1zM11 49h1v1h-1zM0 50h1v1h-1zM1 53h1v1h-1zM10 53h2v1h-2zM14 55h1v1h-1zM11 56h1v1h-1zM13 56h1v1h-1zM2 58h1v1h-1zM10 58h1v1h-1zM11 59h2v1h-2zM25 59h1v1h-1zM1 60h1v1h-1zM9 60h2v1h-2zM2 61h1v1h-1zM13 61h1v1h-1zM10 62h1v1h-1zM1 63h2v1h-2zM0 64h2v1h-2zM25 64h1v1h-1zM1 66h1v1h-1zM2 67h1v1h-1zM23 67h1v1h-1zM15 68h1v1h-1zM23 68h1v1h-1zM14 69h2v1h-2zM22 69h1v1h-1zM12 70h1v1h-1zM0 71h3v1h-3zM11 72h1v1h-1zM0 73h1v1h-1zM5 73h1v1h-1zM1 74h2v1h-2zM12 74h1v1h-1zM14 74h1v1h-1zM0 75h1v1h-1zM1 76h1v1h-1zM12 76h1v1h-1zM14 76h1v1h-1zM10 77h1v1h-1zM13 77h1v1h-1zM2 78h1v1h-1zM1 79h1v1h-1zM14 80h1v1h-1zM2 81h1v1h-1zM12 81h1v1h-1zM2 82h1v1h-1zM2 83h1v1h-1zM13 83h1v1h-1zM23 83h1v1h-1zM0 85h1v1h-1zM2 85h1v1h-1zM26 85h1v1h-1zM12 87h2v1h-2zM0 88h1v1h-1zM13 88h1v1h-1zM12 89h1v1h-1zM14 91h1v1h-1zM22 91h1v1h-1zM1 92h1v1h-1zM13 92h1v1h-1zM25 94h1v1h-1zM13 95h1v1h-1z"/><path fill="#dddcf9" d="M17 1h1v1h-1zM23 1h1v1h-1zM26 1h1v1h-1zM20 3h1v1h-1zM24 3h1v1h-1zM15 5h1v1h-1zM17 6h1v1h-1zM2 7h1v1h-1zM20 7h1v1h-1zM1 8h1v1h-1zM25 8h1v1h-1zM15 9h2v1h-2zM18 13h1v1h-1zM15 16h1v1h-1zM2 18h1v1h-1zM3 19h1v1h-1zM8 19h1v1h-1zM5 20h1v1h-1zM21 20h1v1h-1zM23 21h1v1h-1zM26 21h1v1h-1zM4 23h1v1h-1zM6 23h1v1h-1zM25 23h1v1h-1zM18 29h1v1h-1zM19 32h1v1h-1zM18 40h1v1h-1zM23 40h1v1h-1zM25 40h1v1h-1zM27 40h1v1h-1zM18 44h1v1h-1zM14 45h1v1h-1zM17 45h1v1h-1zM10 46h1v1h-1zM17 46h1v1h-1zM21 51h1v1h-1zM26 51h1v1h-1zM15 52h1v1h-1zM12 53h1v1h-1zM17 53h1v1h-1zM24 55h1v1h-1zM15 56h1v1h-1zM26 56h2v1h-2zM15 57h1v1h-1zM18 57h1v1h-1zM18 60h1v1h-1zM16 61h1v1h-1zM14 65h1v1h-1zM9 70h1v1h-1zM13 70h1v1h-1zM15 70h1v1h-1zM15 72h1v1h-1zM13 73h1v1h-1zM27 74h1v1h-1zM18 78h1v1h-1zM19 79h1v1h-1zM18 86h1v1h-1zM24 89h1v1h-1zM15 90h1v1h-1zM22 95h1v1h-1zM26 95h2v1h-2z"/><path fill="#adadf6" d="M18 1h2v1h-2zM12 2h1v1h-1zM15 3h1v1h-1zM1 4h1v1h-1zM12 4h1v1h-1zM21 4h1v1h-1zM19 6h1v1h-1zM26 8h1v1h-1zM27 9h1v1h-1zM13 10h1v1h-1zM22 10h1v1h-1zM10 11h1v1h-1zM15 11h1v1h-1zM20 11h1v1h-1zM13 12h1v1h-1zM17 12h1v1h-1zM20 15h1v1h-1zM16 17h1v1h-1zM15 19h4v1h-4zM16 20h1v1h-1zM19 20h1v1h-1zM15 22h2v1h-2zM26 23h1v1h-1zM19 33h2v1h-2zM20 36h1v1h-1zM27 44h1v1h-1zM17 49h1v1h-1zM20 49h1v1h-1zM15 50h1v1h-1zM17 51h1v1h-1zM23 51h1v1h-1zM21 53h1v1h-1zM24 53h1v1h-1zM24 54h1v1h-1zM16 56h1v1h-1zM20 56h2v1h-2zM27 57h1v1h-1zM18 58h1v1h-1zM16 60h1v1h-1zM15 65h3v1h-3zM14 67h1v1h-1zM11 68h1v1h-1zM9 71h1v1h-1zM12 71h1v1h-1zM15 71h1v1h-1zM15 73h1v1h-1zM15 75h1v1h-1zM27 78h1v1h-1zM17 83h1v1h-1zM20 84h1v1h-1zM27 85h1v1h-1zM19 88h1v1h-1zM17 89h1v1h-1zM20 90h1v1h-1zM18 91h1v1h-1zM15 92h1v1h-1zM19 94h1v1h-1z"/><path fill="#8e8ef3" d="M24 1h1v1h-1zM15 4h1v1h-1zM23 4h1v1h-1zM9 5h1v1h-1zM16 5h2v1h-2zM19 5h1v1h-1zM12 6h1v1h-1zM21 8h1v1h-1zM18 9h1v1h-1zM23 10h2v1h-2zM17 11h1v1h-1zM16 16h1v1h-1zM1 19h1v1h-1zM19 19h1v1h-1zM21 19h1v1h-1zM1 20h1v1h-1zM9 20h1v1h-1zM17 20h1v1h-1zM26 20h1v1h-1zM15 21h1v1h-1zM18 22h1v1h-1zM2 23h1v1h-1zM15 23h1v1h-1zM24 23h1v1h-1zM17 24h1v1h-1zM19 46h1v1h-1zM20 47h1v1h-1zM15 51h1v1h-1zM16 54h1v1h-1zM16 57h1v1h-1zM22 58h1v1h-1zM16 59h1v1h-1zM19 66h1v1h-1zM9 68h1v1h-1zM24 71h1v1h-1zM19 73h1v1h-1zM21 73h2v1h-2zM15 74h1v1h-1zM18 74h1v1h-1zM16 76h1v1h-1zM18 80h1v1h-1zM15 87h1v1h-1zM27 88h1v1h-1zM15 89h1v1h-1zM18 92h1v1h-1zM24 92h1v1h-1zM18 95h1v1h-1z"/><path fill="#f79c9c" d="M3 2h1v1h-1zM3 3h1v1h-1zM7 4h1v1h-1zM7 8h1v1h-1zM4 10h1v1h-1zM8 11h1v1h-1zM4 12h1v1h-1zM6 12h1v1h-1zM3 14h1v1h-1zM5 16h1v1h-1zM8 24h1v1h-1zM10 24h1v1h-1zM12 24h1v1h-1zM27 24h1v1h-1zM26 27h1v1h-1zM2 28h1v1h-1zM11 28h1v1h-1zM22 28h1v1h-1zM11 29h1v1h-1zM11 31h1v1h-1zM26 32h1v1h-1zM4 33h1v1h-1zM8 33h1v1h-1zM25 38h1v1h-1zM10 39h1v1h-1zM12 39h1v1h-1zM2 41h1v1h-1zM5 45h1v1h-1zM6 47h1v1h-1zM4 48h1v1h-1zM14 50h1v1h-1zM1 51h2v1h-2zM10 51h2v1h-2zM0 52h1v1h-1zM4 54h1v1h-1zM6 54h1v1h-1zM1 55h1v1h-1zM10 55h1v1h-1zM2 56h1v1h-1zM3 57h2v1h-2zM6 57h1v1h-1zM3 59h2v1h-2zM6 59h1v1h-1zM4 60h3v1h-3zM11 61h1v1h-1zM8 62h1v1h-1zM21 63h2v1h-2zM26 63h1v1h-1zM7 65h1v1h-1zM26 66h1v1h-1zM4 68h1v1h-1zM6 68h1v1h-1zM27 68h1v1h-1zM25 69h2v1h-2zM3 70h1v1h-1zM5 70h1v1h-1zM8 73h1v1h-1zM5 74h1v1h-1zM3 76h1v1h-1zM11 80h1v1h-1zM0 86h1v1h-1zM4 86h1v1h-1zM6 87h1v1h-1zM9 88h1v1h-1zM7 93h1v1h-1zM11 93h1v1h-1zM9 94h1v1h-1zM13 94h1v1h-1z"/><path fill="#f56262" d="M4 2h1v1h-1zM2 24h2v1h-2zM7 24h1v1h-1zM12 25h1v1h-1zM14 25h1v1h-1zM3 26h1v1h-1zM6 26h1v1h-1zM4 27h1v1h-1zM3 29h2v1h-2zM7 29h1v1h-1zM6 31h1v1h-1zM7 32h1v1h-1zM2 34h1v1h-1zM25 34h1v1h-1zM11 35h1v1h-1zM3 36h1v1h-1zM7 36h1v1h-1zM9 36h1v1h-1zM14 36h1v1h-1zM5 37h1v1h-1zM0 38h1v1h-1zM4 39h1v1h-1zM8 39h1v1h-1zM3 40h1v1h-1zM8 40h1v1h-1zM10 40h1v1h-1zM8 41h1v1h-1zM13 41h1v1h-1zM1 42h1v1h-1zM2 43h1v1h-1zM12 43h3v1h-3zM7 48h1v1h-1zM3 49h1v1h-1zM4 50h1v1h-1zM8 52h1v1h-1zM3 53h1v1h-1zM3 54h1v1h-1zM8 56h1v1h-1zM5 58h1v1h-1zM7 58h1v1h-1zM7 64h2v1h-2zM5 66h1v1h-1zM8 66h1v1h-1zM3 67h1v1h-1zM5 67h1v1h-1zM8 72h1v1h-1zM4 74h1v1h-1zM4 78h1v1h-1zM8 78h1v1h-1zM13 79h1v1h-1zM4 80h1v1h-1zM8 80h1v1h-1zM5 81h1v1h-1zM5 82h1v1h-1zM4 85h1v1h-1zM3 87h1v1h-1zM4 88h1v1h-1zM6 88h1v1h-1zM4 93h2v1h-2zM4 94h1v1h-1zM11 94h1v1h-1zM4 95h1v1h-1zM7 95h1v1h-1z"/><path fill="#f56a6a" d="M5 2h1v1h-1zM4 14h1v1h-1zM0 24h1v1h-1zM10 25h2v1h-2zM13 25h1v1h-1zM8 26h1v1h-1zM5 27h1v1h-1zM5 28h1v1h-1zM4 31h1v1h-1zM25 31h2v1h-2zM5 32h1v1h-1zM0 34h2v1h-2zM9 35h1v1h-1zM12 35h1v1h-1zM6 36h1v1h-1zM3 37h1v1h-1zM9 38h1v1h-1zM12 40h1v1h-1zM4 41h1v1h-1zM7 50h1v1h-1zM6 52h1v1h-1zM7 55h1v1h-1zM4 58h1v1h-1zM5 61h1v1h-1zM3 62h1v1h-1zM5 62h1v1h-1zM3 65h1v1h-1zM6 66h1v1h-1zM6 74h1v1h-1zM3 75h2v1h-2zM6 75h2v1h-2zM6 76h1v1h-1zM4 77h1v1h-1zM5 79h1v1h-1zM14 79h1v1h-1zM3 81h1v1h-1zM6 81h1v1h-1zM8 81h1v1h-1zM8 82h1v1h-1zM3 83h2v1h-2zM3 84h2v1h-2zM6 84h1v1h-1zM8 84h1v1h-1zM3 85h1v1h-1zM11 89h1v1h-1zM6 91h1v1h-1zM7 92h1v1h-1zM6 94h1v1h-1z"/><path fill="#f9b3b3" d="M6 2h1v1h-1zM22 2h1v1h-1zM24 2h1v1h-1zM1 3h1v1h-1zM8 4h1v1h-1zM4 5h1v1h-1zM7 5h2v1h-2zM3 6h1v1h-1zM5 7h1v1h-1zM22 7h1v1h-1zM4 8h1v1h-1zM3 9h2v1h-2zM0 10h1v1h-1zM0 11h1v1h-1zM22 13h1v1h-1zM25 13h1v1h-1zM0 15h1v1h-1zM3 16h1v1h-1zM5 17h1v1h-1zM22 18h1v1h-1zM22 24h1v1h-1zM0 26h1v1h-1zM14 26h1v1h-1zM0 29h1v1h-1zM2 29h1v1h-1zM14 30h1v1h-1zM21 30h1v1h-1zM0 31h1v1h-1zM13 31h1v1h-1zM1 32h1v1h-1zM18 32h1v1h-1zM7 33h1v1h-1zM24 35h1v1h-1zM1 36h1v1h-1zM21 36h1v1h-1zM25 36h1v1h-1zM27 36h1v1h-1zM2 37h1v1h-1zM22 38h1v1h-1zM26 38h1v1h-1zM22 39h1v1h-1zM0 41h1v1h-1zM22 41h1v1h-1zM25 41h1v1h-1zM18 42h1v1h-1zM21 42h1v1h-1zM14 44h1v1h-1zM12 45h2v1h-2zM5 46h1v1h-1zM12 47h1v1h-1zM11 48h1v1h-1zM25 49h1v1h-1zM22 50h1v1h-1zM27 50h1v1h-1zM14 51h1v1h-1zM12 54h1v1h-1zM25 55h1v1h-1zM9 56h1v1h-1zM14 56h1v1h-1zM12 57h1v1h-1zM1 58h1v1h-1zM14 58h1v1h-1zM12 60h1v1h-1zM1 61h1v1h-1zM15 61h1v1h-1zM18 61h1v1h-1zM24 61h1v1h-1zM12 62h1v1h-1zM21 62h1v1h-1zM0 63h1v1h-1zM9 63h2v1h-2zM14 63h1v1h-1zM27 63h1v1h-1zM14 64h1v1h-1zM24 64h1v1h-1zM27 64h1v1h-1zM0 65h1v1h-1zM8 65h1v1h-1zM22 65h1v1h-1zM0 66h1v1h-1zM23 66h1v1h-1zM22 67h1v1h-1zM25 67h1v1h-1zM4 73h1v1h-1zM14 73h1v1h-1zM11 74h1v1h-1zM25 75h1v1h-1zM0 76h1v1h-1zM13 76h1v1h-1zM9 77h1v1h-1zM15 79h1v1h-1zM1 80h1v1h-1zM1 81h1v1h-1zM0 82h1v1h-1zM14 83h1v1h-1zM21 83h1v1h-1zM26 83h1v1h-1zM12 84h2v1h-2zM1 85h1v1h-1zM10 85h2v1h-2zM25 85h1v1h-1zM2 86h1v1h-1zM12 86h1v1h-1zM14 86h1v1h-1zM1 87h1v1h-1zM26 87h1v1h-1zM2 89h1v1h-1zM13 89h1v1h-1zM3 90h2v1h-2zM26 91h1v1h-1zM14 92h1v1h-1zM12 93h1v1h-1zM14 93h1v1h-1zM0 94h1v1h-1zM0 95h1v1h-1zM2 95h1v1h-1zM14 95h1v1h-1z"/><path fill="#a5a5f5" d="M16 2h1v1h-1zM10 4h1v1h-1zM22 4h1v1h-1zM1 5h1v1h-1zM18 5h1v1h-1zM21 5h1v1h-1zM16 7h1v1h-1zM12 8h1v1h-1zM15 8h1v1h-1zM17 8h1v1h-1zM23 8h1v1h-1zM27 8h1v1h-1zM18 10h1v1h-1zM21 11h2v1h-2zM26 11h1v1h-1zM15 12h1v1h-1zM21 15h1v1h-1zM23 15h1v1h-1zM15 17h1v1h-1zM17 17h1v1h-1zM16 18h1v1h-1zM18 18h1v1h-1zM20 19h1v1h-1zM14 20h2v1h-2zM20 20h1v1h-1zM24 20h1v1h-1zM10 21h1v1h-1zM20 21h1v1h-1zM22 21h1v1h-1zM16 25h1v1h-1zM16 26h1v1h-1zM16 29h1v1h-1zM16 30h1v1h-1zM16 33h1v1h-1zM11 46h1v1h-1zM27 48h1v1h-1zM15 49h1v1h-1zM27 49h1v1h-1zM18 50h1v1h-1zM19 51h1v1h-1zM24 51h1v1h-1zM16 52h1v1h-1zM18 56h1v1h-1zM20 57h1v1h-1zM22 57h1v1h-1zM17 58h1v1h-1zM16 62h2v1h-2zM20 65h1v1h-1zM16 66h1v1h-1zM20 66h1v1h-1zM13 67h1v1h-1zM16 70h1v1h-1zM18 71h1v1h-1zM16 72h1v1h-1zM19 72h2v1h-2zM16 81h1v1h-1zM16 85h1v1h-1zM18 85h1v1h-1zM15 88h1v1h-1zM17 92h1v1h-1zM27 92h1v1h-1zM24 95h1v1h-1z"/><path fill="#d8d8fa" d="M10 3h1v1h-1zM14 3h1v1h-1zM27 3h1v1h-1zM3 5h1v1h-1zM23 5h1v1h-1zM22 6h1v1h-1zM17 7h2v1h-2zM24 7h1v1h-1zM24 9h1v1h-1zM1 10h1v1h-1zM21 12h1v1h-1zM23 12h1v1h-1zM6 14h1v1h-1zM17 16h1v1h-1zM17 18h1v1h-1zM10 19h1v1h-1zM23 19h1v1h-1zM2 21h1v1h-1zM23 22h1v1h-1zM5 23h1v1h-1zM16 24h1v1h-1zM17 25h1v1h-1zM16 27h1v1h-1zM19 29h1v1h-1zM20 32h1v1h-1zM20 37h1v1h-1zM20 42h1v1h-1zM16 43h1v1h-1zM18 46h1v1h-1zM23 46h1v1h-1zM10 50h1v1h-1zM22 51h1v1h-1zM25 51h1v1h-1zM22 53h1v1h-1zM22 54h1v1h-1zM23 55h1v1h-1zM17 60h1v1h-1zM19 61h1v1h-1zM20 64h1v1h-1zM9 66h1v1h-1zM2 69h1v1h-1zM20 69h1v1h-1zM27 73h1v1h-1zM20 75h1v1h-1zM15 76h1v1h-1zM15 81h1v1h-1zM27 81h1v1h-1zM19 82h1v1h-1zM16 83h1v1h-1zM19 85h1v1h-1zM19 86h1v1h-1zM19 87h1v1h-1zM18 88h1v1h-1zM19 89h1v1h-1zM17 91h1v1h-1zM23 95h1v1h-1z"/><path fill="#9999f4" d="M0 4h1v1h-1zM17 4h1v1h-1zM27 4h1v1h-1zM24 5h1v1h-1zM1 6h1v1h-1zM19 7h1v1h-1zM12 9h1v1h-1zM17 9h1v1h-1zM20 10h2v1h-2zM25 10h3v1h-3zM9 11h1v1h-1zM11 11h1v1h-1zM18 11h1v1h-1zM19 12h1v1h-1zM24 12h1v1h-1zM1 13h1v1h-1zM2 19h1v1h-1zM22 20h1v1h-1zM1 21h1v1h-1zM16 21h1v1h-1zM0 22h1v1h-1zM18 23h1v1h-1zM19 25h1v1h-1zM18 26h1v1h-1zM17 30h1v1h-1zM16 40h1v1h-1zM20 40h1v1h-1zM2 46h1v1h-1zM16 46h1v1h-1zM18 48h1v1h-1zM27 58h1v1h-1zM15 64h1v1h-1zM19 65h1v1h-1zM10 68h1v1h-1zM14 71h1v1h-1zM17 71h1v1h-1zM18 75h1v1h-1zM17 77h1v1h-1zM25 78h1v1h-1zM16 82h1v1h-1zM16 86h1v1h-1zM27 89h1v1h-1zM16 90h1v1h-1zM24 90h1v1h-1zM17 93h1v1h-1z"/><path fill="#f79696" d="M6 4h1v1h-1zM6 9h1v1h-1zM8 10h1v1h-1zM3 12h1v1h-1zM8 12h1v1h-1zM4 16h1v1h-1zM11 24h1v1h-1zM14 24h1v1h-1zM1 25h1v1h-1zM14 28h1v1h-1zM27 28h1v1h-1zM10 29h1v1h-1zM9 30h1v1h-1zM7 31h1v1h-1zM9 31h1v1h-1zM12 31h1v1h-1zM21 31h1v1h-1zM24 31h1v1h-1zM12 32h1v1h-1zM14 32h1v1h-1zM23 32h1v1h-1zM21 34h1v1h-1zM26 34h1v1h-1zM21 35h1v1h-1zM27 35h1v1h-1zM6 37h1v1h-1zM26 42h1v1h-1zM5 44h1v1h-1zM6 45h1v1h-1zM8 45h1v1h-1zM3 47h3v1h-3zM0 49h1v1h-1zM8 49h1v1h-1zM12 50h1v1h-1zM0 55h1v1h-1zM5 59h1v1h-1zM8 59h1v1h-1zM8 60h1v1h-1zM11 60h1v1h-1zM8 61h1v1h-1zM22 61h1v1h-1zM25 62h1v1h-1zM7 63h1v1h-1zM11 63h1v1h-1zM25 63h1v1h-1zM2 64h1v1h-1zM9 64h2v1h-2zM7 68h1v1h-1zM13 69h1v1h-1zM6 70h1v1h-1zM8 70h1v1h-1zM7 71h1v1h-1zM10 81h1v1h-1zM12 82h1v1h-1zM14 82h1v1h-1zM9 84h1v1h-1zM3 86h1v1h-1zM10 87h1v1h-1zM9 92h1v1h-1zM11 92h1v1h-1zM6 93h1v1h-1zM8 93h2v1h-2z"/><path fill="#6f6ff0" d="M20 5h1v1h-1zM16 8h1v1h-1zM16 38h1v1h-1zM19 47h1v1h-1zM16 50h1v1h-1zM18 53h1v1h-1zM15 77h1v1h-1zM20 83h1v1h-1zM17 88h1v1h-1zM27 94h1v1h-1z"/><path fill="#6464ef" d="M27 6h1v1h-1zM20 8h1v1h-1zM16 10h2v1h-2zM19 10h1v1h-1zM20 12h1v1h-1zM15 38h1v1h-1zM15 54h1v1h-1zM15 55h1v1h-1zM19 74h1v1h-1z"/><path fill="#f8a3a3" d="M6 8h1v1h-1zM8 8h1v1h-1zM7 10h1v1h-1zM7 11h1v1h-1zM7 12h1v1h-1zM7 13h1v1h-1zM26 13h1v1h-1zM4 15h1v1h-1zM13 24h1v1h-1zM2 25h1v1h-1zM11 26h1v1h-1zM1 27h1v1h-1zM23 28h1v1h-1zM25 29h1v1h-1zM10 30h2v1h-2zM8 32h1v1h-1zM25 33h1v1h-1zM12 36h1v1h-1zM22 36h1v1h-1zM26 36h1v1h-1zM12 38h1v1h-1zM25 42h1v1h-1zM26 43h1v1h-1zM3 44h1v1h-1zM9 44h1v1h-1zM4 45h1v1h-1zM3 48h1v1h-1zM0 51h1v1h-1zM4 52h1v1h-1zM11 52h1v1h-1zM7 53h1v1h-1zM0 56h1v1h-1zM5 57h1v1h-1zM7 57h1v1h-1zM11 58h2v1h-2zM6 62h1v1h-1zM11 62h1v1h-1zM3 63h1v1h-1zM5 63h1v1h-1zM8 63h1v1h-1zM12 64h1v1h-1zM3 68h1v1h-1zM5 68h1v1h-1zM3 71h2v1h-2zM6 73h2v1h-2zM11 77h1v1h-1zM26 79h1v1h-1zM13 80h1v1h-1zM25 81h1v1h-1zM10 84h1v1h-1zM7 86h1v1h-1zM4 87h1v1h-1zM8 87h2v1h-2zM10 88h1v1h-1zM10 92h1v1h-1zM10 93h1v1h-1zM12 94h1v1h-1zM8 95h1v1h-1z"/><path fill="#f64e4e" d="M7 9h1v1h-1zM1 24h1v1h-1zM4 25h2v1h-2zM6 27h1v1h-1zM8 27h1v1h-1zM5 29h2v1h-2zM13 29h1v1h-1zM5 30h1v1h-1zM27 31h1v1h-1zM4 32h1v1h-1zM10 34h1v1h-1zM12 34h1v1h-1zM7 35h2v1h-2zM13 35h2v1h-2zM25 37h2v1h-2zM2 38h1v1h-1zM5 40h1v1h-1zM7 40h1v1h-1zM11 41h2v1h-2zM2 42h1v1h-1zM14 42h1v1h-1zM8 48h1v1h-1zM4 49h1v1h-1zM8 54h1v1h-1zM3 56h2v1h-2zM6 56h1v1h-1zM3 61h2v1h-2zM25 61h1v1h-1zM3 64h1v1h-1zM6 64h1v1h-1zM3 66h2v1h-2zM8 67h1v1h-1zM25 68h1v1h-1zM5 69h1v1h-1zM8 75h1v1h-1zM7 76h1v1h-1zM6 77h1v1h-1zM8 77h1v1h-1zM7 78h1v1h-1zM3 80h1v1h-1zM5 80h1v1h-1zM7 80h1v1h-1zM11 81h1v1h-1zM6 82h2v1h-2zM3 88h1v1h-1zM5 88h1v1h-1zM8 88h1v1h-1zM8 89h1v1h-1zM5 91h1v1h-1zM7 94h1v1h-1zM5 95h1v1h-1z"/><path fill="#5858ee" d="M27 11h1v1h-1zM17 13h1v1h-1zM18 20h1v1h-1zM17 21h1v1h-1zM17 38h1v1h-1zM17 39h1v1h-1zM19 40h1v1h-1zM15 45h2v1h-2zM27 45h1v1h-1zM15 47h1v1h-1zM20 50h1v1h-1zM15 53h1v1h-1zM20 53h1v1h-1zM19 54h1v1h-1zM17 69h1v1h-1zM19 71h1v1h-1zM27 71h1v1h-1zM17 73h1v1h-1zM20 74h1v1h-1zM15 78h1v1h-1zM26 78h1v1h-1zM19 91h1v1h-1zM16 92h1v1h-1zM15 95h1v1h-1z"/><path fill="#f67272" d="M4 24h1v1h-1zM3 25h1v1h-1zM9 25h1v1h-1zM4 26h1v1h-1zM7 26h1v1h-1zM7 27h1v1h-1zM4 28h1v1h-1zM8 29h1v1h-1zM3 30h2v1h-2zM25 30h1v1h-1zM3 31h1v1h-1zM3 32h1v1h-1zM9 34h1v1h-1zM10 35h1v1h-1zM8 36h1v1h-1zM13 36h1v1h-1zM0 39h1v1h-1zM2 39h1v1h-1zM9 40h1v1h-1zM13 40h2v1h-2zM14 41h1v1h-1zM0 42h1v1h-1zM12 42h1v1h-1zM0 43h1v1h-1zM6 48h1v1h-1zM5 49h3v1h-3zM5 50h2v1h-2zM3 52h1v1h-1zM5 54h1v1h-1zM3 55h3v1h-3zM7 56h1v1h-1zM3 58h1v1h-1zM6 58h1v1h-1zM7 61h1v1h-1zM26 61h1v1h-1zM4 64h1v1h-1zM4 69h1v1h-1zM6 69h1v1h-1zM5 72h1v1h-1zM3 73h1v1h-1zM3 74h1v1h-1zM8 74h1v1h-1zM5 75h1v1h-1zM3 77h1v1h-1zM3 78h1v1h-1zM4 79h1v1h-1zM7 79h3v1h-3zM12 79h1v1h-1zM6 80h1v1h-1zM4 81h1v1h-1zM4 82h1v1h-1zM6 83h1v1h-1zM7 84h1v1h-1zM11 84h1v1h-1zM5 85h2v1h-2zM8 85h1v1h-1zM7 88h1v1h-1zM3 89h1v1h-1zM5 89h1v1h-1zM9 89h2v1h-2zM3 91h1v1h-1zM7 91h2v1h-2zM4 92h1v1h-1zM6 92h1v1h-1zM3 94h1v1h-1zM3 95h1v1h-1z"/><path fill="#f65858" d="M5 24h2v1h-2zM5 26h1v1h-1zM3 27h1v1h-1zM25 27h1v1h-1zM25 28h2v1h-2zM6 30h3v1h-3zM5 31h1v1h-1zM8 31h1v1h-1zM6 32h1v1h-1zM13 34h2v1h-2zM25 35h2v1h-2zM5 36h1v1h-1zM11 36h1v1h-1zM4 37h1v1h-1zM1 38h1v1h-1zM10 38h1v1h-1zM1 39h1v1h-1zM4 40h1v1h-1zM9 41h2v1h-2zM13 42h1v1h-1zM1 43h1v1h-1zM8 50h1v1h-1zM7 52h1v1h-1zM4 53h2v1h-2zM8 53h1v1h-1zM7 54h1v1h-1zM6 55h1v1h-1zM8 55h1v1h-1zM11 55h1v1h-1zM5 56h1v1h-1zM6 61h1v1h-1zM4 62h1v1h-1zM5 64h1v1h-1zM6 65h1v1h-1zM7 66h1v1h-1zM6 67h2v1h-2zM26 68h1v1h-1zM3 69h1v1h-1zM7 69h2v1h-2zM3 72h2v1h-2zM6 72h2v1h-2zM7 74h1v1h-1zM5 77h1v1h-1zM7 77h1v1h-1zM5 78h2v1h-2zM6 79h1v1h-1zM10 79h1v1h-1zM3 82h1v1h-1zM5 83h1v1h-1zM7 83h2v1h-2zM5 84h1v1h-1zM7 85h1v1h-1zM4 89h1v1h-1zM6 89h1v1h-1zM4 91h1v1h-1zM3 92h1v1h-1zM5 92h1v1h-1zM8 92h1v1h-1zM3 93h1v1h-1zM5 94h1v1h-1zM8 94h1v1h-1z"/><path fill="#f83434" d="M6 25h1v1h-1zM4 34h1v1h-1zM6 34h1v1h-1zM6 35h1v1h-1zM6 39h1v1h-1zM3 41h1v1h-1zM8 42h1v1h-1zM5 43h1v1h-1zM8 43h2v1h-2zM11 43h1v1h-1zM6 51h1v1h-1zM7 81h1v1h-1z"/><path fill="#fa2020" d="M7 25h2v1h-2zM3 28h1v1h-1zM6 28h3v1h-3zM3 34h1v1h-1zM5 34h1v1h-1zM7 34h2v1h-2zM11 34h1v1h-1zM3 35h2v1h-2zM3 38h1v1h-1zM7 38h1v1h-1zM3 39h1v1h-1zM5 39h1v1h-1zM7 39h1v1h-1zM6 40h1v1h-1zM11 40h1v1h-1zM3 42h2v1h-2zM7 42h1v1h-1zM9 42h3v1h-3zM3 43h2v1h-2zM6 43h2v1h-2zM10 43h1v1h-1zM3 51h3v1h-3zM7 51h2v1h-2zM3 79h1v1h-1zM11 79h1v1h-1zM7 89h1v1h-1z"/><path fill="#f92a2a" d="M5 35h1v1h-1zM4 38h3v1h-3zM8 38h1v1h-1zM11 38h1v1h-1zM5 41h3v1h-3zM5 42h2v1h-2z"/></g>
<g transform="translate(1496.80 78.30) scale(14.5680 11.0300)" shape-rendering="crispEdges"><path fill="#f7f0f5" d="M0 0h1v1h-1zM4 0h1v1h-1zM8 1h1v1h-1zM12 1h1v1h-1zM2 5h1v1h-1zM1 7h1v1h-1zM10 7h1v1h-1zM6 10h1v1h-1zM11 30h1v1h-1zM6 32h1v1h-1zM8 33h1v1h-1zM23 34h1v1h-1zM19 35h1v1h-1zM13 41h1v1h-1zM17 41h1v1h-1zM13 42h1v1h-1zM0 44h1v1h-1zM0 45h1v1h-1zM6 46h1v1h-1zM9 51h1v1h-1zM12 53h1v1h-1zM9 57h1v1h-1zM10 60h1v1h-1zM9 61h1v1h-1zM8 62h2v1h-2zM19 64h1v1h-1zM7 65h1v1h-1zM7 67h1v1h-1zM11 70h1v1h-1zM8 72h1v1h-1zM9 75h1v1h-1zM0 76h1v1h-1zM0 82h1v1h-1zM7 83h1v1h-1zM5 86h1v1h-1zM8 86h1v1h-1zM10 86h1v1h-1zM14 94h1v1h-1z"/><path fill="#fac0c0" d="M1 0h1v1h-1zM12 6h1v1h-1zM8 7h1v1h-1zM2 8h1v1h-1zM3 9h1v1h-1zM2 13h1v1h-1zM3 14h1v1h-1zM0 15h1v1h-1zM11 15h1v1h-1zM0 26h1v1h-1zM10 26h1v1h-1zM6 28h1v1h-1zM12 28h1v1h-1zM10 30h1v1h-1zM9 31h2v1h-2zM14 31h1v1h-1zM0 32h2v1h-2zM9 32h2v1h-2zM2 33h1v1h-1zM7 33h1v1h-1zM12 33h1v1h-1zM17 34h1v1h-1zM13 36h2v1h-2zM0 47h1v1h-1zM1 48h1v1h-1zM0 49h1v1h-1zM10 50h2v1h-2zM1 51h1v1h-1zM6 51h1v1h-1zM0 53h1v1h-1zM12 54h1v1h-1zM0 55h1v1h-1zM11 55h1v1h-1zM1 61h1v1h-1zM1 62h1v1h-1zM2 63h1v1h-1zM7 63h1v1h-1zM0 64h1v1h-1zM6 64h1v1h-1zM1 65h1v1h-1zM8 66h1v1h-1zM8 67h1v1h-1zM12 68h1v1h-1zM10 69h1v1h-1zM1 70h1v1h-1zM4 71h1v1h-1zM10 72h1v1h-1zM0 73h1v1h-1zM8 77h2v1h-2zM1 78h1v1h-1zM9 78h1v1h-1zM12 78h1v1h-1zM1 81h1v1h-1zM9 81h1v1h-1zM8 82h4v1h-4zM1 84h1v1h-1zM10 84h1v1h-1zM12 84h1v1h-1zM3 86h1v1h-1zM7 86h1v1h-1zM0 87h1v1h-1zM7 88h2v1h-2zM10 88h1v1h-1zM2 90h1v1h-1zM10 93h1v1h-1zM11 94h1v1h-1zM1 95h1v1h-1zM6 95h1v1h-1zM9 95h1v1h-1zM11 95h1v1h-1z"/><path fill="#f9b3b3" d="M2 0h1v1h-1zM1 1h1v1h-1zM4 2h1v1h-1zM5 3h1v1h-1zM2 4h1v1h-1zM5 5h1v1h-1zM4 6h1v1h-1zM4 7h1v1h-1zM3 8h1v1h-1zM5 8h1v1h-1zM1 11h1v1h-1zM0 12h2v1h-2zM0 14h1v1h-1zM5 15h1v1h-1zM1 16h1v1h-1zM4 16h1v1h-1zM2 18h2v1h-2zM2 21h1v1h-1zM12 24h1v1h-1zM14 25h1v1h-1zM11 27h1v1h-1zM9 28h2v1h-2zM10 29h1v1h-1zM12 31h1v1h-1zM3 33h1v1h-1zM21 34h1v1h-1zM15 35h1v1h-1zM9 44h1v1h-1zM12 48h1v1h-1zM7 52h1v1h-1zM9 52h1v1h-1zM2 55h2v1h-2zM12 55h1v1h-1zM2 57h1v1h-1zM4 57h1v1h-1zM11 57h1v1h-1zM8 58h1v1h-1zM12 60h1v1h-1zM0 61h1v1h-1zM6 61h1v1h-1zM12 61h1v1h-1zM6 62h1v1h-1zM11 62h1v1h-1zM1 63h1v1h-1zM4 63h1v1h-1zM8 64h1v1h-1zM3 68h1v1h-1zM7 68h1v1h-1zM11 74h2v1h-2zM12 76h1v1h-1zM10 77h1v1h-1zM0 78h1v1h-1zM11 81h1v1h-1zM1 85h1v1h-1zM12 85h1v1h-1zM11 86h1v1h-1zM3 87h1v1h-1zM12 87h1v1h-1zM12 89h1v1h-1zM7 90h1v1h-1zM12 91h1v1h-1zM0 92h1v1h-1zM9 92h1v1h-1zM11 92h1v1h-1zM6 93h1v1h-1zM9 93h1v1h-1zM9 94h2v1h-2zM8 95h1v1h-1zM10 95h1v1h-1z"/><path fill="#fbe4e4" d="M3 0h1v1h-1zM0 3h1v1h-1zM8 4h1v1h-1zM6 8h1v1h-1zM12 8h1v1h-1zM1 10h1v1h-1zM0 13h1v1h-1zM10 13h2v1h-2zM10 15h1v1h-1zM0 18h1v1h-1zM13 25h1v1h-1zM1 33h1v1h-1zM9 33h1v1h-1zM16 33h1v1h-1zM16 34h1v1h-1zM11 37h1v1h-1zM20 37h1v1h-1zM13 39h1v1h-1zM17 42h1v1h-1zM15 44h1v1h-1zM9 45h1v1h-1zM12 45h1v1h-1zM3 46h1v1h-1zM7 46h1v1h-1zM0 51h1v1h-1zM1 52h1v1h-1zM6 53h1v1h-1zM0 57h1v1h-1zM6 59h1v1h-1zM9 63h1v1h-1zM11 63h1v1h-1zM6 67h1v1h-1zM1 74h1v1h-1zM10 75h1v1h-1zM1 76h1v1h-1zM10 78h1v1h-1zM6 83h1v1h-1zM16 86h1v1h-1zM13 87h2v1h-2zM14 89h1v1h-1zM1 90h1v1h-1zM9 91h1v1h-1zM0 93h1v1h-1zM21 95h1v1h-1z"/><path fill="#c9c9f8" d="M5 0h1v1h-1zM14 0h1v1h-1zM14 1h1v1h-1zM7 3h1v1h-1zM0 6h2v1h-2zM2 7h1v1h-1zM0 8h1v1h-1zM10 8h1v1h-1zM11 9h1v1h-1zM5 20h1v1h-1zM20 24h1v1h-1zM13 26h1v1h-1zM13 27h1v1h-1zM19 31h1v1h-1zM23 31h1v1h-1zM16 35h1v1h-1zM16 37h1v1h-1zM22 37h2v1h-2zM14 39h2v1h-2zM17 44h1v1h-1zM0 46h1v1h-1zM8 46h1v1h-1zM16 48h1v1h-1zM14 50h1v1h-1zM14 52h1v1h-1zM9 56h2v1h-2zM14 57h1v1h-1zM11 60h1v1h-1zM14 60h1v1h-1zM13 63h1v1h-1zM18 64h1v1h-1zM22 66h1v1h-1zM9 72h1v1h-1zM8 73h1v1h-1zM6 75h1v1h-1zM9 85h2v1h-2zM17 91h1v1h-1zM17 93h2v1h-2z"/><path fill="#b4b4f6" d="M6 0h1v1h-1zM18 2h1v1h-1zM8 3h1v1h-1zM17 4h1v1h-1zM10 9h1v1h-1zM13 9h1v1h-1zM10 11h1v1h-1zM12 12h1v1h-1zM7 16h1v1h-1zM15 18h1v1h-1zM3 19h1v1h-1zM17 19h1v1h-1zM22 20h1v1h-1zM16 25h1v1h-1zM20 25h1v1h-1zM16 31h1v1h-1zM17 33h1v1h-1zM21 33h1v1h-1zM22 35h1v1h-1zM16 41h1v1h-1zM22 43h1v1h-1zM18 45h1v1h-1zM13 46h1v1h-1zM20 46h1v1h-1zM7 50h1v1h-1zM17 50h1v1h-1zM9 53h1v1h-1zM13 55h1v1h-1zM18 57h1v1h-1zM18 62h1v1h-1zM17 64h1v1h-1zM20 64h1v1h-1zM14 65h1v1h-1zM16 70h1v1h-1zM7 71h1v1h-1zM20 71h1v1h-1zM21 72h1v1h-1zM13 75h1v1h-1zM20 76h1v1h-1zM15 78h1v1h-1zM16 81h1v1h-1zM22 86h1v1h-1zM17 88h1v1h-1zM16 92h1v1h-1zM13 93h1v1h-1z"/><path fill="#0000f0" d="M7 0h2v1h-2zM10 0h4v1h-4zM15 0h9v1h-9zM11 1h1v1h-1zM13 1h1v1h-1zM15 1h5v1h-5zM21 1h3v1h-3zM6 2h1v1h-1zM10 2h4v1h-4zM15 2h1v1h-1zM19 2h5v1h-5zM6 3h1v1h-1zM10 3h1v1h-1zM13 3h5v1h-5zM19 3h1v1h-1zM21 3h3v1h-3zM6 4h1v1h-1zM9 4h1v1h-1zM11 4h2v1h-2zM18 4h2v1h-2zM21 4h3v1h-3zM7 5h1v1h-1zM9 5h3v1h-3zM13 5h11v1h-11zM7 6h5v1h-5zM13 6h11v1h-11zM11 7h1v1h-1zM14 7h1v1h-1zM16 7h8v1h-8zM13 8h11v1h-11zM14 9h3v1h-3zM18 9h3v1h-3zM22 9h2v1h-2zM14 10h10v1h-10zM8 11h1v1h-1zM14 11h3v1h-3zM18 11h6v1h-6zM7 12h1v1h-1zM15 12h3v1h-3zM19 12h1v1h-1zM21 12h3v1h-3zM7 13h1v1h-1zM16 13h1v1h-1zM19 13h5v1h-5zM7 14h1v1h-1zM10 14h1v1h-1zM13 14h1v1h-1zM15 14h9v1h-9zM12 15h2v1h-2zM15 15h3v1h-3zM19 15h5v1h-5zM6 16h1v1h-1zM9 16h5v1h-5zM16 16h1v1h-1zM18 16h1v1h-1zM20 16h1v1h-1zM22 16h1v1h-1zM3 17h1v1h-1zM6 17h1v1h-1zM8 17h7v1h-7zM16 17h8v1h-8zM4 18h11v1h-11zM16 18h1v1h-1zM18 18h1v1h-1zM20 18h4v1h-4zM5 19h4v1h-4zM10 19h1v1h-1zM14 19h1v1h-1zM16 19h1v1h-1zM19 19h5v1h-5zM4 20h1v1h-1zM6 20h2v1h-2zM13 20h2v1h-2zM16 20h1v1h-1zM20 20h1v1h-1zM23 20h1v1h-1zM1 21h1v1h-1zM6 21h1v1h-1zM8 21h3v1h-3zM12 21h12v1h-12zM0 22h2v1h-2zM6 22h4v1h-4zM11 22h4v1h-4zM16 22h8v1h-8zM0 23h2v1h-2zM3 23h1v1h-1zM5 23h19v1h-19zM18 24h1v1h-1zM21 24h3v1h-3zM19 25h1v1h-1zM23 25h1v1h-1zM16 26h1v1h-1zM18 26h1v1h-1zM20 26h4v1h-4zM16 27h1v1h-1zM18 27h1v1h-1zM21 27h2v1h-2zM16 28h3v1h-3zM20 28h1v1h-1zM23 28h1v1h-1zM14 29h1v1h-1zM16 29h5v1h-5zM22 29h2v1h-2zM16 30h5v1h-5zM22 30h2v1h-2zM20 32h1v1h-1zM23 32h1v1h-1zM20 33h1v1h-1zM17 35h1v1h-1zM18 37h1v1h-1zM21 37h1v1h-1zM14 38h1v1h-1zM16 38h1v1h-1zM18 38h1v1h-1zM21 38h3v1h-3zM16 39h1v1h-1zM18 39h1v1h-1zM21 39h3v1h-3zM17 40h1v1h-1zM20 40h4v1h-4zM18 41h1v1h-1zM20 41h1v1h-1zM22 41h2v1h-2zM16 42h1v1h-1zM18 42h1v1h-1zM21 42h3v1h-3zM23 43h1v1h-1zM16 44h1v1h-1zM20 44h4v1h-4zM16 45h1v1h-1zM20 45h4v1h-4zM16 46h1v1h-1zM21 46h3v1h-3zM13 47h1v1h-1zM15 47h1v1h-1zM17 47h2v1h-2zM20 47h3v1h-3zM15 48h1v1h-1zM17 48h6v1h-6zM13 49h1v1h-1zM15 49h2v1h-2zM18 49h5v1h-5zM15 50h1v1h-1zM18 50h1v1h-1zM20 50h4v1h-4zM15 51h8v1h-8zM16 52h1v1h-1zM18 52h2v1h-2zM21 52h3v1h-3zM13 53h4v1h-4zM18 53h2v1h-2zM22 53h2v1h-2zM17 54h4v1h-4zM22 54h2v1h-2zM14 55h3v1h-3zM18 55h6v1h-6zM13 56h3v1h-3zM19 56h4v1h-4zM15 57h2v1h-2zM19 57h5v1h-5zM14 58h3v1h-3zM19 58h5v1h-5zM13 59h1v1h-1zM16 59h1v1h-1zM18 59h6v1h-6zM15 60h1v1h-1zM19 60h2v1h-2zM22 60h2v1h-2zM15 61h4v1h-4zM20 61h4v1h-4zM13 62h5v1h-5zM20 62h4v1h-4zM15 63h1v1h-1zM18 63h1v1h-1zM20 63h1v1h-1zM22 63h2v1h-2zM15 64h2v1h-2zM21 64h3v1h-3zM15 65h4v1h-4zM20 65h1v1h-1zM22 65h2v1h-2zM11 66h1v1h-1zM15 66h1v1h-1zM18 66h4v1h-4zM23 66h1v1h-1zM19 67h5v1h-5zM14 68h2v1h-2zM18 68h2v1h-2zM21 68h3v1h-3zM14 69h3v1h-3zM18 69h2v1h-2zM22 69h2v1h-2zM6 70h1v1h-1zM8 70h1v1h-1zM10 70h1v1h-1zM15 70h1v1h-1zM17 70h1v1h-1zM20 70h4v1h-4zM6 71h1v1h-1zM13 71h1v1h-1zM16 71h4v1h-4zM21 71h3v1h-3zM6 72h1v1h-1zM16 72h4v1h-4zM22 72h2v1h-2zM13 73h2v1h-2zM16 73h8v1h-8zM13 74h11v1h-11zM14 75h8v1h-8zM8 76h1v1h-1zM13 76h7v1h-7zM21 76h1v1h-1zM23 76h1v1h-1zM13 77h3v1h-3zM18 77h6v1h-6zM13 78h2v1h-2zM16 78h2v1h-2zM19 78h5v1h-5zM15 79h3v1h-3zM19 79h3v1h-3zM23 79h1v1h-1zM13 80h4v1h-4zM18 80h3v1h-3zM22 80h2v1h-2zM14 81h2v1h-2zM17 81h3v1h-3zM22 81h1v1h-1zM14 82h2v1h-2zM17 82h7v1h-7zM13 83h1v1h-1zM16 83h3v1h-3zM20 83h4v1h-4zM13 84h2v1h-2zM18 84h2v1h-2zM21 84h1v1h-1zM23 84h1v1h-1zM18 85h3v1h-3zM22 85h2v1h-2zM18 86h3v1h-3zM23 86h1v1h-1zM18 87h2v1h-2zM21 87h3v1h-3zM16 88h1v1h-1zM19 88h2v1h-2zM22 88h2v1h-2zM13 89h1v1h-1zM15 89h1v1h-1zM21 89h3v1h-3zM16 90h1v1h-1zM18 90h3v1h-3zM22 90h2v1h-2zM16 91h1v1h-1zM19 91h5v1h-5zM20 92h4v1h-4zM15 93h1v1h-1zM21 93h3v1h-3zM19 94h2v1h-2zM22 94h1v1h-1zM19 95h2v1h-2zM22 95h1v1h-1z"/><path fill="#dddcf9" d="M9 0h1v1h-1zM12 7h1v1h-1zM6 12h1v1h-1zM14 14h1v1h-1zM15 16h1v1h-1zM5 17h1v1h-1zM15 19h1v1h-1zM3 20h1v1h-1zM10 20h1v1h-1zM12 20h1v1h-1zM3 21h1v1h-1zM2 22h1v1h-1zM4 22h1v1h-1zM2 23h1v1h-1zM4 23h1v1h-1zM17 24h1v1h-1zM19 28h1v1h-1zM15 32h1v1h-1zM15 33h1v1h-1zM20 35h1v1h-1zM23 35h1v1h-1zM17 37h1v1h-1zM19 37h1v1h-1zM16 40h1v1h-1zM19 40h1v1h-1zM17 45h1v1h-1zM6 49h1v1h-1zM17 55h1v1h-1zM13 60h1v1h-1zM11 65h1v1h-1zM10 67h1v1h-1zM13 70h1v1h-1zM9 71h1v1h-1zM6 78h1v1h-1zM13 79h1v1h-1zM18 79h1v1h-1zM21 85h1v1h-1zM15 88h1v1h-1zM20 89h1v1h-1zM13 91h1v1h-1zM14 92h1v1h-1z"/><path fill="#d0d0f9" d="M0 1h1v1h-1zM7 1h1v1h-1zM0 5h1v1h-1zM0 7h1v1h-1zM8 8h2v1h-2zM8 9h1v1h-1zM8 12h1v1h-1zM6 13h1v1h-1zM8 14h1v1h-1zM6 15h1v1h-1zM9 20h1v1h-1zM17 25h1v1h-1zM19 26h1v1h-1zM17 27h1v1h-1zM18 32h1v1h-1zM20 36h1v1h-1zM15 38h1v1h-1zM19 38h1v1h-1zM19 39h1v1h-1zM19 43h1v1h-1zM19 44h1v1h-1zM7 45h1v1h-1zM14 45h1v1h-1zM1 46h1v1h-1zM4 46h1v1h-1zM14 48h1v1h-1zM10 49h2v1h-2zM17 53h1v1h-1zM10 54h1v1h-1zM17 59h1v1h-1zM14 63h1v1h-1zM9 68h1v1h-1zM13 69h1v1h-1zM17 77h1v1h-1zM13 82h1v1h-1zM16 82h1v1h-1zM13 90h1v1h-1zM14 91h1v1h-1zM16 95h1v1h-1zM18 95h1v1h-1z"/><path fill="#f68686" d="M2 1h1v1h-1zM4 9h1v1h-1zM4 10h1v1h-1zM2 11h1v1h-1zM4 11h1v1h-1zM4 12h1v1h-1zM2 14h1v1h-1zM1 25h1v1h-1zM1 27h1v1h-1zM8 29h1v1h-1zM9 36h2v1h-2zM9 38h1v1h-1zM11 38h1v1h-1zM7 39h2v1h-2zM10 44h1v1h-1zM2 48h1v1h-1zM2 52h1v1h-1zM6 52h1v1h-1zM10 52h1v1h-1zM5 54h1v1h-1zM3 60h1v1h-1zM3 62h2v1h-2zM1 64h1v1h-1zM2 65h2v1h-2zM3 66h1v1h-1zM1 67h1v1h-1zM5 68h1v1h-1zM3 71h1v1h-1zM2 75h1v1h-1zM3 76h1v1h-1zM6 80h1v1h-1zM10 87h1v1h-1zM8 89h1v1h-1zM4 90h1v1h-1zM2 91h1v1h-1zM3 92h1v1h-1zM6 92h1v1h-1zM2 93h2v1h-2zM7 94h1v1h-1zM4 95h1v1h-1z"/><path fill="#f78e8e" d="M3 1h1v1h-1zM1 2h1v1h-1zM3 3h1v1h-1zM5 10h1v1h-1zM5 12h1v1h-1zM10 24h1v1h-1zM4 26h1v1h-1zM8 27h1v1h-1zM1 30h1v1h-1zM6 30h1v1h-1zM8 30h1v1h-1zM0 31h1v1h-1zM7 31h1v1h-1zM3 32h1v1h-1zM12 32h1v1h-1zM0 35h1v1h-1zM11 35h1v1h-1zM14 35h1v1h-1zM0 37h2v1h-2zM7 37h1v1h-1zM1 40h2v1h-2zM1 41h1v1h-1zM9 41h1v1h-1zM9 42h1v1h-1zM3 44h1v1h-1zM2 47h1v1h-1zM6 47h1v1h-1zM3 49h1v1h-1zM5 53h1v1h-1zM4 54h1v1h-1zM2 56h1v1h-1zM4 56h1v1h-1zM3 59h1v1h-1zM3 63h1v1h-1zM5 63h1v1h-1zM5 65h1v1h-1zM4 66h1v1h-1zM3 67h1v1h-1zM2 69h1v1h-1zM2 71h1v1h-1zM3 74h1v1h-1zM0 75h1v1h-1zM0 77h4v1h-4zM3 78h1v1h-1zM3 79h1v1h-1zM8 80h2v1h-2zM7 87h1v1h-1zM3 88h1v1h-1zM5 88h1v1h-1zM4 92h1v1h-1zM6 94h1v1h-1zM3 95h1v1h-1z"/><path fill="#fcf4f4" d="M4 1h1v1h-1zM0 4h1v1h-1zM1 5h1v1h-1zM0 10h1v1h-1zM9 12h1v1h-1zM1 13h1v1h-1zM7 15h1v1h-1zM9 15h1v1h-1zM3 16h1v1h-1zM1 20h1v1h-1zM7 32h1v1h-1zM13 32h1v1h-1zM10 33h1v1h-1zM13 33h1v1h-1zM22 34h1v1h-1zM12 37h1v1h-1zM15 37h1v1h-1zM13 40h1v1h-1zM8 45h1v1h-1zM11 45h1v1h-1zM5 46h1v1h-1zM10 46h1v1h-1zM6 48h1v1h-1zM7 49h1v1h-1zM11 51h1v1h-1zM7 53h1v1h-1zM11 53h1v1h-1zM7 54h1v1h-1zM1 57h1v1h-1zM10 57h1v1h-1zM10 66h1v1h-1zM11 67h1v1h-1zM0 69h1v1h-1zM7 78h1v1h-1zM16 87h1v1h-1zM9 90h1v1h-1zM1 93h1v1h-1z"/><path fill="#fbd0d0" d="M5 1h1v1h-1zM4 3h1v1h-1zM0 11h1v1h-1zM3 12h1v1h-1zM4 13h1v1h-1zM5 14h1v1h-1zM1 15h1v1h-1zM2 16h1v1h-1zM5 22h1v1h-1zM0 25h1v1h-1zM9 27h1v1h-1zM11 28h1v1h-1zM9 29h1v1h-1zM9 30h1v1h-1zM22 31h1v1h-1zM4 33h1v1h-1zM13 35h1v1h-1zM11 44h1v1h-1zM1 45h1v1h-1zM4 45h1v1h-1zM12 47h1v1h-1zM10 48h1v1h-1zM0 50h1v1h-1zM1 53h1v1h-1zM2 54h1v1h-1zM10 55h1v1h-1zM7 56h1v1h-1zM6 57h1v1h-1zM10 59h1v1h-1zM12 59h1v1h-1zM0 60h1v1h-1zM8 60h1v1h-1zM10 61h1v1h-1zM10 62h1v1h-1zM12 62h1v1h-1zM8 65h1v1h-1zM0 68h1v1h-1zM2 68h1v1h-1zM7 69h1v1h-1zM1 71h1v1h-1zM12 72h1v1h-1zM7 73h1v1h-1zM9 74h1v1h-1zM10 76h2v1h-2zM7 77h1v1h-1zM11 77h1v1h-1zM0 80h1v1h-1zM12 80h1v1h-1zM7 81h1v1h-1zM12 81h1v1h-1zM6 82h1v1h-1zM0 83h1v1h-1zM11 83h2v1h-2zM7 84h1v1h-1zM8 85h1v1h-1zM0 86h1v1h-1zM1 87h1v1h-1zM6 88h1v1h-1zM6 90h1v1h-1zM8 90h1v1h-1zM10 91h1v1h-1zM10 92h1v1h-1zM12 92h1v1h-1zM7 93h2v1h-2zM1 94h1v1h-1zM7 95h1v1h-1z"/><path fill="#e3e0f8" d="M6 1h1v1h-1zM9 1h1v1h-1zM8 2h1v1h-1zM6 6h1v1h-1zM6 7h1v1h-1zM11 8h1v1h-1zM6 9h2v1h-2zM12 13h1v1h-1zM5 16h1v1h-1zM4 17h1v1h-1zM11 20h1v1h-1zM5 21h1v1h-1zM11 21h1v1h-1zM10 22h1v1h-1zM15 24h1v1h-1zM15 25h1v1h-1zM15 26h1v1h-1zM14 30h1v1h-1zM17 31h1v1h-1zM22 32h1v1h-1zM16 36h1v1h-1zM18 36h1v1h-1zM21 36h1v1h-1zM23 36h1v1h-1zM20 38h1v1h-1zM20 42h1v1h-1zM13 43h1v1h-1zM13 52h1v1h-1zM6 54h1v1h-1zM14 61h1v1h-1zM14 64h1v1h-1zM6 65h1v1h-1zM1 69h1v1h-1zM9 70h1v1h-1zM7 72h1v1h-1zM11 72h1v1h-1zM14 72h1v1h-1zM17 80h1v1h-1zM15 83h1v1h-1zM15 84h1v1h-1zM14 90h1v1h-1zM17 90h1v1h-1zM15 91h1v1h-1zM18 94h1v1h-1zM17 95h1v1h-1z"/><path fill="#fcecec" d="M10 1h1v1h-1zM1 4h1v1h-1zM3 4h1v1h-1zM0 9h1v1h-1zM7 11h1v1h-1zM9 11h1v1h-1zM8 13h2v1h-2zM4 14h1v1h-1zM6 14h1v1h-1zM8 15h1v1h-1zM0 17h2v1h-2zM0 20h1v1h-1zM4 21h1v1h-1zM12 27h1v1h-1zM14 27h1v1h-1zM15 29h1v1h-1zM13 30h1v1h-1zM0 33h1v1h-1zM6 33h1v1h-1zM18 34h1v1h-1zM13 38h1v1h-1zM17 38h1v1h-1zM18 40h1v1h-1zM15 41h1v1h-1zM13 44h1v1h-1zM10 51h1v1h-1zM10 53h1v1h-1zM8 54h1v1h-1zM8 56h1v1h-1zM11 56h1v1h-1zM7 57h1v1h-1zM7 59h1v1h-1zM6 60h2v1h-2zM8 61h1v1h-1zM11 61h1v1h-1zM12 63h1v1h-1zM0 70h1v1h-1zM10 73h1v1h-1zM7 75h2v1h-2zM14 79h1v1h-1zM9 84h1v1h-1zM7 85h1v1h-1zM14 85h1v1h-1zM6 86h1v1h-1zM0 90h1v1h-1zM14 93h1v1h-1zM0 94h1v1h-1z"/><path fill="#a5a5f5" d="M20 1h1v1h-1zM10 4h1v1h-1zM13 4h2v1h-2zM6 5h1v1h-1zM8 5h1v1h-1zM11 12h1v1h-1zM13 13h2v1h-2zM9 14h1v1h-1zM0 19h1v1h-1zM2 19h1v1h-1zM2 20h1v1h-1zM8 20h1v1h-1zM15 20h1v1h-1zM21 25h1v1h-1zM15 27h1v1h-1zM14 28h1v1h-1zM22 28h1v1h-1zM13 29h1v1h-1zM21 35h1v1h-1zM19 42h1v1h-1zM17 43h1v1h-1zM14 44h1v1h-1zM13 45h1v1h-1zM18 46h2v1h-2zM23 48h1v1h-1zM23 49h1v1h-1zM16 50h1v1h-1zM13 51h1v1h-1zM17 58h1v1h-1zM19 62h1v1h-1zM13 64h1v1h-1zM9 65h1v1h-1zM21 65h1v1h-1zM9 66h1v1h-1zM13 66h2v1h-2zM17 66h1v1h-1zM9 67h1v1h-1zM13 67h2v1h-2zM6 68h1v1h-1zM19 70h1v1h-1zM6 73h1v1h-1zM23 75h1v1h-1zM17 84h1v1h-1zM20 84h1v1h-1zM13 86h1v1h-1zM14 88h1v1h-1zM18 88h1v1h-1zM18 91h1v1h-1zM23 95h1v1h-1z"/><path fill="#f79696" d="M0 2h1v1h-1zM3 10h1v1h-1zM5 11h1v1h-1zM3 13h1v1h-1zM2 15h1v1h-1zM6 24h1v1h-1zM8 24h2v1h-2zM1 26h1v1h-1zM12 26h1v1h-1zM0 27h1v1h-1zM7 29h1v1h-1zM11 29h2v1h-2zM1 31h1v1h-1zM2 32h1v1h-1zM5 33h1v1h-1zM1 35h1v1h-1zM3 36h1v1h-1zM12 38h1v1h-1zM0 39h1v1h-1zM6 39h1v1h-1zM9 39h1v1h-1zM4 44h3v1h-3zM8 44h1v1h-1zM5 45h1v1h-1zM4 47h1v1h-1zM3 50h1v1h-1zM12 50h1v1h-1zM7 51h1v1h-1zM8 52h1v1h-1zM2 53h2v1h-2zM3 54h1v1h-1zM5 55h1v1h-1zM1 56h1v1h-1zM2 58h1v1h-1zM4 58h1v1h-1zM2 60h1v1h-1zM4 60h2v1h-2zM5 61h1v1h-1zM2 62h1v1h-1zM5 70h1v1h-1zM0 72h2v1h-2zM3 72h1v1h-1zM3 73h1v1h-1zM6 77h1v1h-1zM2 79h1v1h-1zM3 80h1v1h-1zM7 80h1v1h-1zM11 80h1v1h-1zM6 81h1v1h-1zM5 84h1v1h-1zM8 84h1v1h-1zM8 87h1v1h-1zM0 89h1v1h-1zM7 91h1v1h-1zM2 92h1v1h-1zM5 94h1v1h-1z"/><path fill="#f67272" d="M2 2h1v1h-1zM4 24h1v1h-1zM6 25h1v1h-1zM10 25h2v1h-2zM2 26h1v1h-1zM0 28h1v1h-1zM5 29h1v1h-1zM5 31h1v1h-1zM5 32h1v1h-1zM11 34h1v1h-1zM2 37h1v1h-1zM0 38h1v1h-1zM5 40h1v1h-1zM2 41h1v1h-1zM7 41h1v1h-1zM1 42h1v1h-1zM2 43h1v1h-1zM9 43h1v1h-1zM11 43h1v1h-1zM5 48h1v1h-1zM5 50h1v1h-1zM5 51h1v1h-1zM5 58h1v1h-1zM2 64h2v1h-2zM4 72h1v1h-1zM5 77h1v1h-1zM4 79h1v1h-1zM10 79h1v1h-1zM4 80h2v1h-2zM2 81h2v1h-2zM8 81h1v1h-1zM2 83h1v1h-1zM5 83h1v1h-1zM4 94h1v1h-1z"/><path fill="#f56262" d="M3 2h1v1h-1zM2 24h2v1h-2zM3 25h1v1h-1zM3 26h1v1h-1zM5 26h1v1h-1zM2 29h1v1h-1zM5 30h1v1h-1zM3 31h1v1h-1zM4 32h1v1h-1zM7 34h2v1h-2zM6 35h3v1h-3zM5 36h1v1h-1zM7 36h1v1h-1zM11 36h1v1h-1zM1 38h1v1h-1zM2 39h1v1h-1zM8 40h1v1h-1zM3 41h1v1h-1zM5 41h1v1h-1zM11 41h1v1h-1zM2 42h1v1h-1zM8 43h1v1h-1zM12 43h1v1h-1zM2 51h1v1h-1zM5 64h1v1h-1zM4 67h1v1h-1zM5 69h1v1h-1zM4 76h1v1h-1zM6 79h1v1h-1zM9 79h1v1h-1zM2 80h1v1h-1zM4 85h1v1h-1zM3 89h1v1h-1zM7 89h1v1h-1zM2 94h1v1h-1z"/><path fill="#fac8c8" d="M5 2h1v1h-1zM1 3h2v1h-2zM5 4h1v1h-1zM4 5h1v1h-1zM2 6h1v1h-1zM5 7h1v1h-1zM2 9h1v1h-1zM2 12h1v1h-1zM5 13h1v1h-1zM1 14h1v1h-1zM11 24h1v1h-1zM0 29h2v1h-2zM8 32h1v1h-1zM14 32h1v1h-1zM15 34h1v1h-1zM1 36h1v1h-1zM14 41h1v1h-1zM1 44h1v1h-1zM1 47h1v1h-1zM9 47h3v1h-3zM12 49h1v1h-1zM1 50h1v1h-1zM9 50h1v1h-1zM12 51h1v1h-1zM12 52h1v1h-1zM0 54h1v1h-1zM4 55h1v1h-1zM7 55h1v1h-1zM9 55h1v1h-1zM3 57h1v1h-1zM5 57h1v1h-1zM1 58h1v1h-1zM7 58h1v1h-1zM9 58h1v1h-1zM11 58h1v1h-1zM0 59h1v1h-1zM9 59h1v1h-1zM11 59h1v1h-1zM9 60h1v1h-1zM7 61h1v1h-1zM0 62h1v1h-1zM0 63h1v1h-1zM10 64h3v1h-3zM0 66h1v1h-1zM7 66h1v1h-1zM6 69h1v1h-1zM8 69h1v1h-1zM11 69h1v1h-1zM2 70h2v1h-2zM12 70h1v1h-1zM0 71h1v1h-1zM5 71h1v1h-1zM1 73h1v1h-1zM12 73h1v1h-1zM0 74h1v1h-1zM6 74h1v1h-1zM11 75h2v1h-2zM9 76h1v1h-1zM12 77h1v1h-1zM0 79h1v1h-1zM0 81h1v1h-1zM10 81h1v1h-1zM7 82h1v1h-1zM3 83h1v1h-1zM6 84h1v1h-1zM0 85h1v1h-1zM11 87h1v1h-1zM0 88h2v1h-2zM9 88h1v1h-1zM12 88h1v1h-1zM11 89h1v1h-1zM10 90h1v1h-1zM12 90h1v1h-1zM11 91h1v1h-1zM1 92h1v1h-1zM7 92h2v1h-2zM11 93h2v1h-2zM0 95h1v1h-1z"/><path fill="#d8d8fa" d="M7 2h1v1h-1zM9 2h1v1h-1zM14 2h1v1h-1zM1 8h1v1h-1zM12 9h1v1h-1zM10 10h2v1h-2zM6 11h1v1h-1zM11 11h2v1h-2zM10 12h1v1h-1zM15 13h1v1h-1zM12 14h1v1h-1zM4 19h1v1h-1zM7 21h1v1h-1zM14 24h1v1h-1zM17 26h1v1h-1zM15 30h1v1h-1zM16 32h2v1h-2zM19 32h1v1h-1zM19 33h1v1h-1zM17 36h1v1h-1zM19 36h1v1h-1zM19 41h1v1h-1zM18 44h1v1h-1zM15 45h1v1h-1zM11 46h1v1h-1zM14 46h1v1h-1zM17 46h1v1h-1zM19 47h1v1h-1zM8 49h1v1h-1zM8 53h1v1h-1zM9 54h1v1h-1zM16 56h1v1h-1zM13 58h1v1h-1zM8 59h1v1h-1zM14 59h1v1h-1zM13 61h1v1h-1zM6 63h1v1h-1zM19 63h1v1h-1zM8 68h1v1h-1zM10 68h1v1h-1zM13 68h1v1h-1zM9 69h1v1h-1zM7 70h1v1h-1zM12 71h1v1h-1zM22 75h1v1h-1zM18 78h1v1h-1zM23 81h1v1h-1zM14 86h2v1h-2zM13 88h1v1h-1zM13 94h1v1h-1zM15 94h2v1h-2z"/><path fill="#adadf6" d="M16 2h1v1h-1zM12 3h1v1h-1zM20 3h1v1h-1zM9 7h1v1h-1zM13 7h1v1h-1zM17 9h1v1h-1zM9 10h1v1h-1zM13 11h1v1h-1zM14 15h1v1h-1zM17 16h1v1h-1zM15 17h1v1h-1zM17 18h1v1h-1zM1 19h1v1h-1zM0 21h1v1h-1zM15 22h1v1h-1zM18 25h1v1h-1zM21 30h1v1h-1zM18 31h1v1h-1zM20 31h1v1h-1zM23 33h1v1h-1zM14 37h1v1h-1zM14 43h1v1h-1zM16 43h1v1h-1zM19 45h1v1h-1zM23 47h1v1h-1zM9 49h1v1h-1zM21 53h1v1h-1zM14 54h1v1h-1zM19 65h1v1h-1zM16 66h1v1h-1zM18 67h1v1h-1zM20 69h1v1h-1zM14 70h1v1h-1zM15 71h1v1h-1zM15 72h1v1h-1zM22 76h1v1h-1zM16 77h1v1h-1zM20 81h1v1h-1zM22 84h1v1h-1zM13 85h1v1h-1zM16 85h1v1h-1zM17 87h1v1h-1zM18 89h1v1h-1zM21 90h1v1h-1z"/><path fill="#5858ee" d="M17 2h1v1h-1zM18 3h1v1h-1zM15 7h1v1h-1zM13 12h2v1h-2zM20 12h1v1h-1zM18 13h1v1h-1zM18 15h1v1h-1zM21 16h1v1h-1zM19 20h1v1h-1zM21 20h1v1h-1zM20 27h1v1h-1zM22 33h1v1h-1zM20 39h1v1h-1zM21 41h1v1h-1zM20 43h1v1h-1zM13 48h1v1h-1zM17 49h1v1h-1zM23 51h1v1h-1zM17 52h1v1h-1zM20 52h1v1h-1zM13 54h1v1h-1zM16 54h1v1h-1zM21 54h1v1h-1zM17 56h1v1h-1zM23 56h1v1h-1zM17 57h1v1h-1zM15 59h1v1h-1zM16 60h1v1h-1zM16 63h1v1h-1zM16 67h1v1h-1zM16 68h1v1h-1zM21 80h1v1h-1zM19 83h1v1h-1zM17 85h1v1h-1zM21 86h1v1h-1zM20 87h1v1h-1zM19 89h1v1h-1zM15 92h1v1h-1zM20 93h1v1h-1zM21 94h1v1h-1zM23 94h1v1h-1z"/><path fill="#f1ecf6" d="M9 3h1v1h-1zM3 5h1v1h-1zM12 5h1v1h-1zM5 6h1v1h-1zM7 7h1v1h-1zM1 9h1v1h-1zM7 10h2v1h-2zM12 10h1v1h-1zM11 14h1v1h-1zM3 22h1v1h-1zM19 24h1v1h-1zM13 28h1v1h-1zM15 28h1v1h-1zM13 31h1v1h-1zM11 32h1v1h-1zM11 33h1v1h-1zM14 33h1v1h-1zM18 33h1v1h-1zM19 34h2v1h-2zM18 35h1v1h-1zM13 37h1v1h-1zM0 40h1v1h-1zM14 40h2v1h-2zM15 43h1v1h-1zM6 45h1v1h-1zM10 45h1v1h-1zM12 46h1v1h-1zM7 48h1v1h-1zM11 48h1v1h-1zM6 56h1v1h-1zM6 58h1v1h-1zM10 63h1v1h-1zM10 65h1v1h-1zM6 66h1v1h-1zM12 66h1v1h-1zM12 67h1v1h-1zM9 73h1v1h-1zM11 73h1v1h-1zM7 76h1v1h-1zM8 78h1v1h-1zM15 85h1v1h-1zM9 86h1v1h-1zM15 87h1v1h-1z"/><path fill="#9999f4" d="M11 3h1v1h-1zM17 11h1v1h-1zM8 16h1v1h-1zM23 16h1v1h-1zM7 17h1v1h-1zM19 18h1v1h-1zM9 19h1v1h-1zM11 19h1v1h-1zM13 19h1v1h-1zM13 24h1v1h-1zM14 26h1v1h-1zM19 27h1v1h-1zM21 28h1v1h-1zM21 31h1v1h-1zM9 48h1v1h-1zM14 49h1v1h-1zM13 50h1v1h-1zM19 50h1v1h-1zM20 53h1v1h-1zM11 54h1v1h-1zM13 57h1v1h-1zM18 60h1v1h-1zM17 69h1v1h-1zM21 69h1v1h-1zM8 71h1v1h-1zM10 71h1v1h-1zM14 71h1v1h-1zM21 81h1v1h-1zM14 83h1v1h-1zM16 84h1v1h-1zM16 89h1v1h-1zM17 92h2v1h-2zM19 93h1v1h-1zM14 95h2v1h-2z"/><path fill="#f8a3a3" d="M4 4h1v1h-1zM5 9h1v1h-1zM6 26h1v1h-1zM8 26h1v1h-1zM6 27h1v1h-1zM6 29h1v1h-1zM6 31h1v1h-1zM5 37h2v1h-2zM8 37h1v1h-1zM10 38h1v1h-1zM1 39h1v1h-1zM10 39h1v1h-1zM3 40h1v1h-1zM10 40h1v1h-1zM12 40h1v1h-1zM7 44h1v1h-1zM5 47h1v1h-1zM8 47h1v1h-1zM3 48h2v1h-2zM2 49h1v1h-1zM2 50h1v1h-1zM8 51h1v1h-1zM4 52h2v1h-2zM3 58h1v1h-1zM4 59h1v1h-1zM5 62h1v1h-1zM4 64h1v1h-1zM2 66h1v1h-1zM2 67h1v1h-1zM4 68h1v1h-1zM3 69h1v1h-1zM2 73h1v1h-1zM2 74h1v1h-1zM4 74h1v1h-1zM7 74h2v1h-2zM3 75h1v1h-1zM2 78h1v1h-1zM10 80h1v1h-1zM9 83h1v1h-1zM4 84h1v1h-1zM2 86h1v1h-1zM5 87h1v1h-1zM2 88h1v1h-1zM1 89h1v1h-1zM10 89h1v1h-1zM0 91h2v1h-2zM3 91h1v1h-1zM8 91h1v1h-1zM5 92h1v1h-1zM5 93h1v1h-1zM8 94h1v1h-1zM2 95h1v1h-1zM5 95h1v1h-1z"/><path fill="#8e8ef3" d="M7 4h1v1h-1zM3 7h1v1h-1zM7 8h1v1h-1zM9 9h1v1h-1zM14 16h1v1h-1zM19 16h1v1h-1zM12 19h1v1h-1zM18 20h1v1h-1zM16 24h1v1h-1zM23 27h1v1h-1zM21 29h1v1h-1zM22 36h1v1h-1zM15 42h1v1h-1zM18 43h1v1h-1zM15 46h1v1h-1zM14 47h1v1h-1zM16 47h1v1h-1zM14 51h1v1h-1zM15 52h1v1h-1zM15 54h1v1h-1zM18 58h1v1h-1zM17 63h1v1h-1zM13 65h1v1h-1zM15 67h1v1h-1zM17 67h1v1h-1zM11 68h1v1h-1zM20 68h1v1h-1zM18 70h1v1h-1zM11 71h1v1h-1zM13 72h1v1h-1zM20 72h1v1h-1zM15 73h1v1h-1zM6 76h1v1h-1zM22 79h1v1h-1zM13 81h1v1h-1zM17 86h1v1h-1zM21 88h1v1h-1zM15 90h1v1h-1zM13 92h1v1h-1zM19 92h1v1h-1zM13 95h1v1h-1z"/><path fill="#6464ef" d="M15 4h1v1h-1zM13 10h1v1h-1zM18 12h1v1h-1zM17 20h1v1h-1zM22 25h1v1h-1zM21 32h1v1h-1zM17 39h1v1h-1zM21 43h1v1h-1zM18 56h1v1h-1zM17 60h1v1h-1zM19 61h1v1h-1zM17 89h1v1h-1zM16 93h1v1h-1zM17 94h1v1h-1z"/><path fill="#6f6ff0" d="M16 4h1v1h-1zM20 4h1v1h-1zM21 9h1v1h-1zM17 13h1v1h-1zM18 19h1v1h-1zM21 60h1v1h-1zM21 63h1v1h-1zM17 68h1v1h-1z"/><path fill="#fababa" d="M3 6h1v1h-1zM2 10h1v1h-1zM3 11h1v1h-1zM3 15h2v1h-2zM0 16h1v1h-1zM2 17h1v1h-1zM1 18h1v1h-1zM9 26h1v1h-1zM11 26h1v1h-1zM10 27h1v1h-1zM7 28h2v1h-2zM3 29h1v1h-1zM12 30h1v1h-1zM11 31h1v1h-1zM15 31h1v1h-1zM13 34h1v1h-1zM0 36h1v1h-1zM15 36h1v1h-1zM9 37h2v1h-2zM14 42h1v1h-1zM12 44h1v1h-1zM2 46h1v1h-1zM9 46h1v1h-1zM0 48h1v1h-1zM8 48h1v1h-1zM1 49h1v1h-1zM6 50h1v1h-1zM8 50h1v1h-1zM0 52h1v1h-1zM11 52h1v1h-1zM1 54h1v1h-1zM1 55h1v1h-1zM6 55h1v1h-1zM8 55h1v1h-1zM12 56h1v1h-1zM8 57h1v1h-1zM12 57h1v1h-1zM0 58h1v1h-1zM10 58h1v1h-1zM12 58h1v1h-1zM1 59h1v1h-1zM1 60h1v1h-1zM7 62h1v1h-1zM8 63h1v1h-1zM7 64h1v1h-1zM9 64h1v1h-1zM0 65h1v1h-1zM12 65h1v1h-1zM1 68h1v1h-1zM4 70h1v1h-1zM4 73h2v1h-2zM10 74h1v1h-1zM2 76h1v1h-1zM11 78h1v1h-1zM1 79h1v1h-1zM1 80h1v1h-1zM1 82h1v1h-1zM12 82h1v1h-1zM1 83h1v1h-1zM8 83h1v1h-1zM10 83h1v1h-1zM0 84h1v1h-1zM11 84h1v1h-1zM6 85h1v1h-1zM11 85h1v1h-1zM1 86h1v1h-1zM12 86h1v1h-1zM9 87h1v1h-1zM4 88h1v1h-1zM11 88h1v1h-1zM9 89h1v1h-1zM3 90h1v1h-1zM11 90h1v1h-1zM12 94h1v1h-1zM12 95h1v1h-1z"/><path fill="#f56a6a" d="M4 8h1v1h-1zM0 24h2v1h-2zM5 24h1v1h-1zM12 25h1v1h-1zM2 27h2v1h-2zM3 30h1v1h-1zM2 31h1v1h-1zM0 34h2v1h-2zM10 34h1v1h-1zM12 34h1v1h-1zM3 35h1v1h-1zM10 35h1v1h-1zM3 37h1v1h-1zM6 40h1v1h-1zM10 42h2v1h-2zM6 43h2v1h-2zM10 43h1v1h-1zM4 49h1v1h-1zM4 50h1v1h-1zM3 51h1v1h-1zM3 61h1v1h-1zM5 74h1v1h-1zM7 79h1v1h-1zM11 79h1v1h-1zM5 82h1v1h-1zM4 83h1v1h-1zM5 85h1v1h-1zM4 86h1v1h-1zM5 91h1v1h-1z"/><path fill="#f79c9c" d="M7 24h1v1h-1zM7 26h1v1h-1zM7 27h1v1h-1zM0 30h1v1h-1zM7 30h1v1h-1zM8 31h1v1h-1zM14 34h1v1h-1zM2 36h1v1h-1zM4 37h1v1h-1zM11 39h2v1h-2zM9 40h1v1h-1zM11 40h1v1h-1zM0 41h1v1h-1zM2 44h1v1h-1zM2 45h2v1h-2zM3 47h1v1h-1zM7 47h1v1h-1zM3 52h1v1h-1zM4 53h1v1h-1zM0 56h1v1h-1zM3 56h1v1h-1zM2 59h1v1h-1zM5 59h1v1h-1zM4 65h1v1h-1zM1 66h1v1h-1zM0 67h1v1h-1zM4 69h1v1h-1zM12 69h1v1h-1zM2 72h1v1h-1zM1 75h1v1h-1zM4 75h1v1h-1zM4 77h1v1h-1zM2 87h1v1h-1zM4 87h1v1h-1zM6 87h1v1h-1zM5 90h1v1h-1zM6 91h1v1h-1zM4 93h1v1h-1z"/><path fill="#f64e4e" d="M2 25h1v1h-1zM8 25h1v1h-1zM4 27h1v1h-1zM4 29h1v1h-1zM2 30h1v1h-1zM4 30h1v1h-1zM6 34h1v1h-1zM9 34h1v1h-1zM8 36h1v1h-1zM12 36h1v1h-1zM4 38h1v1h-1zM6 38h1v1h-1zM6 41h1v1h-1zM8 41h1v1h-1zM10 41h1v1h-1zM12 41h1v1h-1zM0 42h1v1h-1zM3 42h1v1h-1zM1 43h1v1h-1zM5 66h1v1h-1zM5 67h1v1h-1zM5 76h1v1h-1zM4 78h1v1h-1zM8 79h1v1h-1zM4 81h1v1h-1zM4 82h1v1h-1zM3 85h1v1h-1zM5 89h1v1h-1zM4 91h1v1h-1z"/><path fill="#f65858" d="M4 25h1v1h-1zM7 25h1v1h-1zM9 25h1v1h-1zM1 28h1v1h-1zM2 35h1v1h-1zM9 35h1v1h-1zM12 35h1v1h-1zM4 36h1v1h-1zM6 36h1v1h-1zM2 38h2v1h-2zM7 38h2v1h-2zM3 39h1v1h-1zM4 40h1v1h-1zM7 40h1v1h-1zM4 42h1v1h-1zM12 42h1v1h-1zM0 43h1v1h-1zM3 43h1v1h-1zM5 49h1v1h-1zM5 56h1v1h-1zM2 61h1v1h-1zM4 61h1v1h-1zM5 72h1v1h-1zM5 75h1v1h-1zM5 78h1v1h-1zM12 79h1v1h-1zM5 81h1v1h-1zM2 82h2v1h-2zM2 84h2v1h-2zM2 85h1v1h-1zM2 89h1v1h-1zM4 89h1v1h-1zM6 89h1v1h-1zM3 94h1v1h-1z"/><path fill="#f92a2a" d="M5 25h1v1h-1zM4 31h1v1h-1zM6 42h1v1h-1zM5 43h1v1h-1z"/><path fill="#fa2020" d="M5 27h1v1h-1zM2 28h4v1h-4zM2 34h3v1h-3zM5 35h1v1h-1zM5 38h1v1h-1zM4 39h2v1h-2zM4 41h1v1h-1zM5 42h1v1h-1zM7 42h2v1h-2zM4 43h1v1h-1zM4 51h1v1h-1zM5 79h1v1h-1z"/><path fill="#f83434" d="M5 34h1v1h-1zM4 35h1v1h-1z"/></g>
<path fill="none" stroke="#2a2a2a" stroke-width="1.4" d="M80.4 88.3H69.3V95.1H80.4M80.4 81.6H68.1V91.7H69.3M80.4 108.6H69.4V115.4H80.4M80.4 101.9H68.2V112.0H69.4M80.4 122.2H70.8V128.9H80.4M68.2 106.9H67.0V125.5H70.8M68.1 86.7H65.2V116.2H67.0M80.4 135.7H67.5V142.4H80.4M80.4 149.2H69.2V156.0H80.4M67.5 139.1H65.3V152.6H69.2M65.2 101.4H61.9V145.8H65.3M80.4 169.5H67.6V176.3H80.4M80.4 162.7H66.0V172.9H67.6M80.4 183.0H65.1V189.8H80.4M66.0 167.8H63.9V186.4H65.1M80.4 203.3H67.5V210.1H80.4M80.4 196.5H66.0V206.7H67.5M80.4 230.4H70.0V237.1H80.4M80.4 223.6H67.4V233.7H70.0M80.4 216.8H64.7V228.7H67.4M80.4 250.6H67.9V257.4H80.4M67.9 254.0H66.7V264.2H80.4M80.4 243.9H65.5V259.1H66.7M64.7 222.8H63.5V251.5H65.5M66.0 201.6H62.3V237.1H63.5M63.9 177.1H60.3V219.4H62.3M60.3 198.2H59.1V270.9H80.4M61.9 123.6H57.4V234.6H59.1M80.4 277.7H65.6V284.5H80.4M80.4 291.2H64.6V298.0H80.4M65.6 281.1H61.8V294.6H64.6M80.4 318.3H68.2V325.0H80.4M80.4 311.5H66.3V321.7H68.2M80.4 304.8H63.7V316.6H66.3M80.4 345.3H67.0V352.1H80.4M80.4 338.6H65.5V348.7H67.0M80.4 331.8H62.9V343.6H65.5M80.4 365.6H66.2V372.4H80.4M80.4 379.1H65.1V385.9H80.4M66.2 369.0H62.9V382.5H65.1M80.4 358.9H61.7V375.8H62.9M62.9 337.7H60.2V367.3H61.7M63.7 310.7H59.0V352.5H60.2M80.4 399.4H67.8V406.2H80.4M80.4 392.7H65.1V402.8H67.8M80.4 413.0H67.2V419.7H80.4M80.4 433.2H65.0V440.0H80.4M80.4 426.5H63.8V436.6H65.0M67.2 416.3H62.6V431.6H63.8M65.1 397.7H60.8V423.9H62.6M80.4 446.8H63.0V453.5H80.4M80.4 460.3H62.0V467.1H80.4M63.0 450.1H60.2V463.7H62.0M60.8 410.8H59.0V456.9H60.2M80.4 487.3H67.9V494.1H80.4M80.4 480.6H66.7V490.7H67.9M80.4 473.8H63.8V485.7H66.7M80.4 500.9H64.0V507.6H80.4M63.8 479.7H59.7V504.3H64.0M59.0 433.9H57.2V492.0H59.7M59.0 331.6H55.5V462.9H57.2M61.8 287.8H54.3V397.3H55.5M57.4 179.1H51.2V342.6H54.3M80.4 514.4H66.1V521.2H80.4M80.4 527.9H64.9V534.7H80.4M64.9 531.3H62.7V541.4H80.4M66.1 517.8H60.7V536.4H62.7M80.4 555.0H66.9V561.7H80.4M66.9 558.4H64.7V568.5H80.4M80.4 548.2H63.5V563.4H64.7M80.4 575.3H66.7V582.0H80.4M63.5 555.8H61.5V578.6H66.7M80.4 588.8H65.8V595.5H80.4M61.5 567.2H60.3V592.2H65.8M80.4 602.3H69.0V609.1H80.4M80.4 615.8H66.9V622.6H80.4M69.0 605.7H65.7V619.2H66.9M80.4 629.4H68.8V636.1H80.4M68.8 632.7H67.0V642.9H80.4M67.0 637.8H65.8V649.6H80.4M65.7 612.5H64.5V643.7H65.8M60.3 579.7H59.1V628.1H64.5M60.7 527.1H56.9V603.9H59.1M80.4 656.4H63.3V663.2H80.4M80.4 683.5H65.9V690.2H80.4M80.4 676.7H64.7V686.8H65.9M64.7 681.8H63.5V697.0H80.4M80.4 669.9H62.3V689.4H63.5M80.4 710.5H64.7V717.3H80.4M80.4 703.7H61.3V713.9H64.7M62.3 679.7H59.7V708.8H61.3M63.3 659.8H58.5V694.2H59.7M56.9 565.5H53.7V677.0H58.5M80.4 724.0H66.3V730.8H80.4M80.4 737.6H64.6V744.3H80.4M66.3 727.4H61.9V740.9H64.6M80.4 757.9H62.5V764.6H80.4M80.4 751.1H61.3V761.2H62.5M80.4 778.1H64.4V784.9H80.4M80.4 791.7H65.2V798.4H80.4M64.4 781.5H62.8V795.0H65.2M80.4 771.4H61.4V788.3H62.8M61.3 756.2H58.9V779.8H61.4M61.9 734.2H53.4V768.0H58.9M53.7 621.3H46.7V751.1H53.4M51.2 260.8H39.2V686.2H46.7M80.4 805.2H59.9V812.0H80.4M80.4 825.5H68.9V832.2H80.4M80.4 818.7H63.0V828.9H68.9M80.4 852.5H63.0V859.3H80.4M80.4 845.8H61.8V855.9H63.0M80.4 839.0H60.6V850.8H61.8M63.0 823.8H58.5V844.9H60.6M59.9 808.6H56.1V834.4H58.5M80.4 872.8H59.7V879.6H80.4M80.4 886.3H59.1V893.1H80.4M59.7 876.2H57.6V889.7H59.1M80.4 899.9H59.9V906.6H80.4M57.6 883.0H56.4V903.2H59.9M80.4 866.1H55.1V893.1H56.4M80.4 913.4H61.7V920.2H80.4M80.4 926.9H62.9V933.7H80.4M80.4 940.4H61.0V947.2H80.4M62.9 930.3H58.0V943.8H61.0M80.4 960.7H63.8V967.5H80.4M80.4 954.0H60.7V964.1H63.8M80.4 981.0H62.3V987.8H80.4M80.4 974.3H59.3V984.4H62.3M60.7 959.0H58.1V979.3H59.3M58.0 937.1H54.9V969.2H58.1M61.7 916.8H52.5V953.1H54.9M55.1 879.6H49.2V934.9H52.5M56.1 821.5H43.8V907.3H49.2M80.4 1001.3H60.5V1008.1H80.4M80.4 994.5H58.8V1004.7H60.5M80.4 1014.8H61.1V1021.6H80.4M58.8 999.6H57.6V1018.2H61.1M80.4 1028.4H60.2V1035.1H80.4M57.6 1008.9H56.4V1031.7H60.2M80.4 1048.6H60.1V1055.4H80.4M80.4 1062.2H59.6V1068.9H80.4M60.1 1052.0H58.4V1065.6H59.6M80.4 1041.9H56.4V1058.8H58.4M80.4 1082.5H58.2V1089.2H80.4M80.4 1075.7H57.0V1085.8H58.2M80.4 1102.7H59.8V1109.5H80.4M80.4 1096.0H56.9V1106.1H59.8M57.0 1080.8H55.7V1101.1H56.9M56.4 1050.3H51.2V1090.9H55.7M56.4 1020.3H47.2V1070.6H51.2M80.4 1116.3H61.7V1123.0H80.4M80.4 1136.6H63.8V1143.3H80.4M80.4 1129.8H62.0V1139.9H63.8M80.4 1156.9H63.5V1163.6H80.4M80.4 1150.1H61.2V1160.2H63.5M62.0 1134.9H58.3V1155.2H61.2M61.7 1119.7H57.1V1145.0H58.3M80.4 1170.4H60.4V1177.1H80.4M80.4 1183.9H59.9V1190.7H80.4M60.4 1173.8H55.7V1187.3H59.9M57.1 1132.3H49.9V1180.5H55.7M80.4 1197.4H62.0V1204.2H80.4M80.4 1217.7H63.2V1224.5H80.4M80.4 1211.0H62.0V1221.1H63.2M80.4 1231.2H63.6V1238.0H80.4M62.0 1216.0H59.3V1234.6H63.6M62.0 1200.8H58.1V1225.3H59.3M80.4 1251.5H64.0V1258.3H80.4M80.4 1244.8H62.7V1254.9H64.0M80.4 1271.8H67.7V1278.6H80.4M80.4 1265.1H63.9V1275.2H67.7M62.7 1249.8H59.4V1270.1H63.9M80.4 1292.1H65.6V1298.9H80.4M65.6 1295.5H64.4V1305.6H80.4M80.4 1285.3H60.4V1300.6H64.4M59.4 1260.0H58.2V1292.9H60.4M58.1 1213.1H53.1V1276.5H58.2M49.9 1156.4H48.7V1244.8H53.1M80.4 1312.4H60.1V1319.2H80.4M80.4 1332.7H63.9V1339.4H80.4M80.4 1346.2H64.7V1353.0H80.4M63.9 1336.1H60.3V1349.6H64.7M80.4 1325.9H55.7V1342.8H60.3M60.1 1315.8H54.5V1334.4H55.7M80.4 1359.7H62.9V1366.5H80.4M80.4 1373.3H63.1V1380.0H80.4M62.9 1363.1H57.8V1376.6H63.1M80.4 1386.8H63.3V1393.5H80.4M63.3 1390.2H60.5V1400.3H80.4M80.4 1407.1H65.7V1413.8H80.4M60.5 1395.2H59.1V1410.5H65.7M57.8 1369.9H56.6V1402.8H59.1M80.4 1420.6H64.9V1427.4H80.4M80.4 1440.9H62.8V1447.6H80.4M80.4 1434.1H61.3V1444.3H62.8M64.9 1424.0H59.7V1439.2H61.3M56.6 1386.4H55.4V1431.6H59.7M80.4 1454.4H63.2V1461.2H80.4M80.4 1474.7H63.5V1481.5H80.4M80.4 1467.9H62.3V1478.1H63.5M63.2 1457.8H61.1V1473.0H62.3M80.4 1488.2H62.9V1495.0H80.4M80.4 1501.7H62.8V1508.5H80.4M62.8 1505.1H61.0V1515.3H80.4M62.9 1491.6H59.8V1510.2H61.0M61.1 1465.4H55.6V1500.9H59.8M55.4 1409.0H54.1V1483.2H55.6M80.4 1522.0H63.4V1528.8H80.4M80.4 1535.6H62.5V1542.3H80.4M62.5 1538.9H61.3V1549.1H80.4M63.4 1525.4H58.5V1544.0H61.3M80.4 1562.6H62.1V1569.4H80.4M80.4 1555.8H59.0V1566.0H62.1M59.0 1560.9H57.8V1576.1H80.4M80.4 1589.7H62.2V1596.4H80.4M80.4 1582.9H58.7V1593.0H62.2M57.8 1568.5H56.1V1588.0H58.7M58.5 1534.7H54.0V1578.3H56.1M54.1 1446.1H52.8V1556.5H54.0M54.5 1325.1H50.4V1501.3H52.8M48.7 1200.6H44.6V1413.2H50.4M47.2 1045.5H37.4V1306.9H44.6M43.8 864.4H24.5V1176.2H37.4M39.2 473.5H3.6V1020.3H24.5"/>
<path fill="none" stroke="#2a2a2a" stroke-width="1.4" d="M1063.4 83.8H1041.4V94.8H1063.4M1063.4 105.9H1042.9V116.9H1063.4M1041.4 89.3H1038.1V111.4H1042.9M1063.4 139.0H1043.7V150.0H1063.4M1063.4 127.9H1040.9V144.5H1043.7M1038.1 100.4H1036.9V136.2H1040.9M1036.9 118.3H1035.7V161.0H1063.4M1063.4 194.1H1044.5V205.1H1063.4M1063.4 183.1H1043.3V199.6H1044.5M1063.4 172.1H1042.1V191.4H1043.3M1042.1 181.7H1040.9V216.2H1063.4M1040.9 198.9H1039.7V227.2H1063.4M1035.7 139.7H1034.5V213.1H1039.7M1063.4 238.2H1040.8V249.3H1063.4M1063.4 271.3H1042.6V282.4H1063.4M1063.4 260.3H1041.4V276.8H1042.6M1063.4 293.4H1039.2V304.4H1063.4M1063.4 326.5H1040.9V337.5H1063.4M1063.4 315.4H1038.7V332.0H1040.9M1039.2 298.9H1037.5V323.7H1038.7M1041.4 268.6H1035.8V311.3H1037.5M1040.8 243.8H1029.4V289.9H1035.8M1034.5 176.4H1023.3V266.8H1029.4M1063.4 348.5H1044.0V359.6H1063.4M1063.4 370.6H1046.7V381.6H1063.4M1063.4 403.7H1047.8V414.7H1063.4M1063.4 392.7H1044.3V409.2H1047.8M1046.7 376.1H1043.1V400.9H1044.3M1044.0 354.0H1041.9V388.5H1043.1M1063.4 436.8H1045.8V447.8H1063.4M1063.4 425.7H1043.3V442.3H1045.8M1063.4 469.9H1047.2V480.9H1063.4M1063.4 458.8H1044.8V475.4H1047.2M1043.3 434.0H1039.2V467.1H1044.8M1041.9 371.3H1035.1V450.6H1039.2M1063.4 503.0H1044.0V514.0H1063.4M1044.0 508.5H1042.0V525.0H1063.4M1063.4 547.1H1045.2V558.1H1063.4M1063.4 536.0H1044.0V552.6H1045.2M1042.0 516.7H1040.8V544.3H1044.0M1063.4 491.9H1039.6V530.5H1040.8M1035.1 410.9H1033.9V511.2H1039.6M1063.4 580.2H1044.0V591.2H1063.4M1063.4 569.1H1042.8V585.7H1044.0M1063.4 613.3H1047.2V624.3H1063.4M1063.4 602.2H1045.0V618.8H1047.2M1045.0 610.5H1043.6V635.3H1063.4M1063.4 646.3H1044.8V657.4H1063.4M1043.6 622.9H1042.4V651.9H1044.8M1063.4 679.4H1044.9V690.5H1063.4M1044.9 684.9H1043.7V701.5H1063.4M1063.4 712.5H1046.4V723.6H1063.4M1043.7 693.2H1042.5V718.0H1046.4M1063.4 668.4H1041.3V705.6H1042.5M1042.4 637.4H1040.1V687.0H1041.3M1042.8 577.4H1037.4V662.2H1040.1M1063.4 734.6H1046.5V745.6H1063.4M1063.4 756.6H1046.2V767.7H1063.4M1063.4 778.7H1045.6V789.7H1063.4M1046.2 762.2H1044.4V784.2H1045.6M1046.5 740.1H1043.2V773.2H1044.4M1063.4 811.8H1044.8V822.8H1063.4M1063.4 800.8H1043.6V817.3H1044.8M1043.6 809.0H1042.4V833.9H1063.4M1042.4 821.4H1041.2V844.9H1063.4M1043.2 756.6H1040.0V833.2H1041.2M1063.4 866.9H1043.7V878.0H1063.4M1063.4 855.9H1041.2V872.5H1043.7M1063.4 889.0H1045.7V900.0H1063.4M1063.4 911.1H1044.3V922.1H1063.4M1045.7 894.5H1042.1V916.6H1044.3M1063.4 933.1H1043.7V944.2H1063.4M1042.1 905.5H1040.6V938.6H1043.7M1041.2 864.2H1037.3V922.1H1040.6M1040.0 794.9H1033.5V893.1H1037.3M1037.4 619.8H1032.3V844.0H1033.5M1063.4 977.2H1047.2V988.3H1063.4M1063.4 966.2H1042.7V982.8H1047.2M1063.4 999.3H1045.8V1010.3H1063.4M1042.7 974.5H1041.5V1004.8H1045.8M1063.4 955.2H1040.3V989.7H1041.5M1063.4 1021.4H1046.8V1032.4H1063.4M1063.4 1043.4H1046.1V1054.5H1063.4M1046.8 1026.9H1044.6V1048.9H1046.1M1063.4 1098.6H1047.2V1109.6H1063.4M1063.4 1087.5H1046.0V1104.1H1047.2M1063.4 1120.6H1045.5V1131.7H1063.4M1046.0 1095.8H1044.1V1126.2H1045.5M1063.4 1076.5H1042.4V1111.0H1044.1M1063.4 1065.5H1041.2V1093.7H1042.4M1044.6 1037.9H1039.9V1079.6H1041.2M1040.3 972.4H1037.8V1058.8H1039.9M1032.3 731.9H1031.1V1015.6H1037.8M1033.9 461.1H1019.5V873.8H1031.1M1023.3 221.6H990.7V667.4H1019.5"/>
<rect x="80.4" y="70.5" width="408" height="4.8" fill="#a8175c"/>
<rect x="510.2" y="70.5" width="349" height="4.8" fill="#215a93"/>
<rect x="1063.2" y="70.8" width="410.2" height="4.8" fill="#a8175c"/>
<rect x="1496.7" y="70.8" width="349.2" height="4.8" fill="#215a93"/>
<rect x="80.4" y="1609.4" width="44.00" height="5.4" fill="#d11f26"/><rect x="124.1" y="1609.4" width="44.00" height="5.4" fill="#e58b1e"/><rect x="167.8" y="1609.4" width="44.00" height="5.4" fill="#1f9651"/><rect x="211.5" y="1609.4" width="44.00" height="5.4" fill="#1fa0b8"/><rect x="255.2" y="1609.4" width="44.00" height="5.4" fill="#e0571c"/><rect x="298.9" y="1609.4" width="87.71" height="5.4" fill="#f2c21b"/><rect x="386.3" y="1609.4" width="58.57" height="5.4" fill="#70c2b4"/><rect x="444.6" y="1609.4" width="44.00" height="5.4" fill="#4c4a8f"/>
<rect x="508.2" y="1609.4" width="29.44" height="5.4" fill="#e58b1e"/><rect x="537.3" y="1609.4" width="29.44" height="5.4" fill="#f5e024"/><rect x="566.5" y="1609.4" width="29.44" height="5.4" fill="#1fa0c6"/><rect x="595.6" y="1609.4" width="44.00" height="5.4" fill="#6a2b8c"/><rect x="639.3" y="1609.4" width="58.57" height="5.4" fill="#f2b81b"/><rect x="697.6" y="1609.4" width="44.00" height="5.4" fill="#c9d92b"/><rect x="741.3" y="1609.4" width="58.57" height="5.4" fill="#4c4a8f"/><rect x="799.6" y="1609.4" width="58.57" height="5.4" fill="#b01c60"/>
<rect x="1064.2" y="1142.9" width="44.00" height="4.6" fill="#d11f26"/><rect x="1107.9" y="1142.9" width="44.00" height="4.6" fill="#e58b1e"/><rect x="1151.6" y="1142.9" width="44.00" height="4.6" fill="#1f9651"/><rect x="1195.3" y="1142.9" width="44.00" height="4.6" fill="#1fa0b8"/><rect x="1239.0" y="1142.9" width="44.00" height="4.6" fill="#e0571c"/><rect x="1282.7" y="1142.9" width="87.71" height="4.6" fill="#f2c21b"/><rect x="1370.1" y="1142.9" width="58.57" height="4.6" fill="#70c2b4"/><rect x="1428.4" y="1142.9" width="44.00" height="4.6" fill="#4c4a8f"/>
<rect x="1497.2" y="1142.9" width="29.44" height="4.6" fill="#e58b1e"/><rect x="1526.3" y="1142.9" width="29.44" height="4.6" fill="#f5e024"/><rect x="1555.5" y="1142.9" width="29.44" height="4.6" fill="#1fa0c6"/><rect x="1584.6" y="1142.9" width="44.00" height="4.6" fill="#6a2b8c"/><rect x="1628.3" y="1142.9" width="58.57" height="4.6" fill="#f2b81b"/><rect x="1686.6" y="1142.9" width="44.00" height="4.6" fill="#c9d92b"/><rect x="1730.3" y="1142.9" width="58.57" height="4.6" fill="#4c4a8f"/><rect x="1788.6" y="1142.9" width="58.57" height="4.6" fill="#b01c60"/>
<text x="116.6" y="1638.5" font-size="24.5" text-anchor="end" transform="rotate(-30 116.6 1638.5)">PF</text><text x="161.5" y="1637.0" font-size="24.5" text-anchor="end" transform="rotate(-30 161.5 1637.0)">SF</text><text x="204.0" y="1637.0" font-size="24.5" text-anchor="end" transform="rotate(-30 204.0 1637.0)">GV</text><text x="242.6" y="1637.0" font-size="24.5" text-anchor="end" transform="rotate(-30 242.6 1637.0)">MII</text><text x="297.5" y="1627.5" font-size="24.5" text-anchor="end" transform="rotate(-30 297.5 1627.5)">9 h.p.e.a.</text><text x="354.4" y="1627.5" font-size="24.5" text-anchor="end" transform="rotate(-30 354.4 1627.5)">33 h.p.e.a.</text><text x="425.3" y="1627.5" font-size="24.5" text-anchor="end" transform="rotate(-30 425.3 1627.5)">44 h.p.e.a.</text><text x="478.3" y="1627.5" font-size="24.5" text-anchor="end" transform="rotate(-30 478.3 1627.5)">52 h.p.e.a.</text>
<text x="533.8" y="1638.5" font-size="24.5" text-anchor="end" transform="rotate(-30 533.8 1638.5)">PF</text><text x="561.9" y="1637.0" font-size="24.5" text-anchor="end" transform="rotate(-30 561.9 1637.0)">SF</text><text x="591.9" y="1637.0" font-size="24.5" text-anchor="end" transform="rotate(-30 591.9 1637.0)">GV</text><text x="628.4" y="1637.0" font-size="24.5" text-anchor="end" transform="rotate(-30 628.4 1637.0)">MII</text><text x="685.2" y="1627.5" font-size="24.5" text-anchor="end" transform="rotate(-30 685.2 1627.5)">9 h.p.e.a.</text><text x="734.7" y="1627.5" font-size="24.5" text-anchor="end" transform="rotate(-30 734.7 1627.5)">33 h.p.e.a.</text><text x="788.0" y="1627.5" font-size="24.5" text-anchor="end" transform="rotate(-30 788.0 1627.5)">44 h.p.e.a.</text><text x="840.0" y="1627.5" font-size="24.5" text-anchor="end" transform="rotate(-30 840.0 1627.5)">52 h.p.e.a.</text>
<text x="1095.8" y="1171.2" font-size="24.5" text-anchor="end" transform="rotate(-30 1095.8 1171.2)">PF</text><text x="1141.5" y="1170.7" font-size="24.5" text-anchor="end" transform="rotate(-30 1141.5 1170.7)">SF</text><text x="1184.7" y="1170.7" font-size="24.5" text-anchor="end" transform="rotate(-30 1184.7 1170.7)">GV</text><text x="1224.4" y="1170.7" font-size="24.5" text-anchor="end" transform="rotate(-30 1224.4 1170.7)">MII</text><text x="1275.4" y="1160.2" font-size="24.5" text-anchor="end" transform="rotate(-30 1275.4 1160.2)">9 h.p.e.a.</text><text x="1338.9" y="1160.2" font-size="24.5" text-anchor="end" transform="rotate(-30 1338.9 1160.2)">33 h.p.e.a.</text><text x="1405.8" y="1160.2" font-size="24.5" text-anchor="end" transform="rotate(-30 1405.8 1160.2)">44 h.p.e.a.</text><text x="1456.8" y="1160.2" font-size="24.5" text-anchor="end" transform="rotate(-30 1456.8 1160.2)">52 h.p.e.a.</text>
<text x="1524.7" y="1171.2" font-size="24.5" text-anchor="end" transform="rotate(-30 1524.7 1171.2)">PF</text><text x="1551.5" y="1170.7" font-size="24.5" text-anchor="end" transform="rotate(-30 1551.5 1170.7)">SF</text><text x="1582.9" y="1170.7" font-size="24.5" text-anchor="end" transform="rotate(-30 1582.9 1170.7)">GV</text><text x="1619.4" y="1170.7" font-size="24.5" text-anchor="end" transform="rotate(-30 1619.4 1170.7)">MII</text><text x="1670.7" y="1160.2" font-size="24.5" text-anchor="end" transform="rotate(-30 1670.7 1160.2)">9 h.p.e.a.</text><text x="1721.7" y="1160.2" font-size="24.5" text-anchor="end" transform="rotate(-30 1721.7 1160.2)">33 h.p.e.a.</text><text x="1772.7" y="1160.2" font-size="24.5" text-anchor="end" transform="rotate(-30 1772.7 1160.2)">44 h.p.e.a.</text><text x="1831.0" y="1160.2" font-size="24.5" text-anchor="end" transform="rotate(-30 1831.0 1160.2)">52 h.p.e.a.</text>
<text x="244" y="30.5" font-size="24.5" textLength="510" lengthAdjust="spacingAndGlyphs">33 h.p.e.a./9 h.p.e.a. up-regulated genes (225)</text>
<rect x="240" y="39" width="515.4" height="2.5" fill="#000"/>
<text x="266.3" y="62.7" font-size="25">WT</text>
<text x="630.5" y="62.7" font-size="24"><tspan font-style="italic">Piwil1</tspan><tspan font-size="15" dy="-10">m1/m1</tspan></text>
<text x="1225" y="32" font-size="24.5" textLength="509.5" lengthAdjust="spacingAndGlyphs">44 h.p.e.a./33 h.p.e.a. up-regulated genes (96)</text>
<rect x="1223.7" y="38.9" width="510.3" height="2.5" fill="#000"/>
<text x="1249.3" y="63.2" font-size="25">WT</text>
<text x="1617" y="63.4" font-size="24"><tspan font-style="italic">Piwil1</tspan><tspan font-size="15" dy="-10">m1/m1</tspan></text>
<text transform="translate(0 42.8) scale(1 1)" font-size="49" font-weight="bold" fill="#231815">a</text>
<text transform="translate(991 42.9) scale(1 1)" font-size="49" font-weight="bold" fill="#231815">b</text>
<text transform="translate(903.5 1264.5) scale(1 1)" font-size="49" font-weight="bold" fill="#231815">c</text>
<defs><linearGradient id="cbA" x1="0" y1="0" x2="0" y2="1"><stop offset="0" stop-color="#ff1010"/><stop offset="0.495" stop-color="#ffffff"/><stop offset="1" stop-color="#1010ff"/></linearGradient><linearGradient id="cbB" x1="0" y1="0" x2="0" y2="1"><stop offset="0" stop-color="#ff1010"/><stop offset="0.496" stop-color="#ffffff"/><stop offset="1" stop-color="#1010ff"/></linearGradient></defs>
<rect x="883.1" y="90.3" width="23.8" height="349.2" fill="url(#cbA)"/>
<rect x="896.3" y="183.2" width="10.7" height="1.6" fill="#222"/>
<text x="916" y="192.5" font-size="24">5</text>
<rect x="896.3" y="293.5" width="10.7" height="1.6" fill="#222"/>
<text x="916" y="302.8" font-size="24">0</text>
<rect x="896.3" y="403.8" width="10.7" height="1.6" fill="#222"/>
<text x="916" y="413.1" font-size="24">−5</text>
<rect x="1871.4" y="88" width="23.6" height="349.1" fill="url(#cbB)"/>
<rect x="1883.3" y="106.3" width="11.7" height="1.6" fill="#222"/>
<text x="1904" y="115.7" font-size="24">10</text>
<rect x="1883.3" y="205.7" width="11.7" height="1.6" fill="#222"/>
<text x="1904" y="215.1" font-size="24">5</text>
<rect x="1883.3" y="305.4" width="11.7" height="1.6" fill="#222"/>
<text x="1904" y="314.8" font-size="24">0</text>
<rect x="1883.3" y="405.0" width="11.7" height="1.6" fill="#222"/>
<text x="1904" y="414.4" font-size="24">−5</text>
<clipPath id="cp0"><rect x="1019.7" y="1290.1" width="297.2" height="285.7"/></clipPath><path clip-path="url(#cp0)" stroke="#c9c9c9" stroke-width="6.0" stroke-linecap="round" fill="none" d="M1183.4 1436.6h0M1182.8 1427.8h0M1180.8 1427.7h0M1180.6 1426.3h0M1173.8 1429.5h0M1189.3 1418.6h0M1195.9 1405.1h0M1197.2 1418.5h0M1099.4 1507.5h0M1194.0 1419.4h0M1197.8 1409.9h0M1193.0 1412.4h0M1191.4 1405.5h0M1184.0 1419.1h0M1152.9 1460.8h0M1181.2 1424.5h0M1171.6 1438.2h0M1153.2 1448.6h0M1168.0 1438.0h0M1189.8 1410.2h0M1196.4 1407.9h0M1152.2 1458.4h0M1186.2 1404.8h0M1198.2 1410.7h0M1192.4 1405.6h0M1196.3 1413.2h0M1173.8 1429.3h0M1196.0 1414.8h0M1188.3 1404.5h0M1195.1 1412.7h0M1191.3 1411.6h0M1159.1 1443.0h0M1193.4 1419.0h0M1193.0 1414.9h0M1165.9 1430.8h0M1195.2 1402.2h0M1184.8 1418.5h0M1111.4 1484.6h0M1189.3 1411.7h0M1185.9 1422.1h0M1150.9 1454.4h0M1190.9 1416.6h0M1161.8 1444.8h0M1196.3 1403.4h0M1195.9 1414.0h0M1175.6 1431.3h0M1186.8 1435.6h0M1182.0 1417.2h0M1177.2 1424.0h0M1194.1 1414.4h0M1139.5 1460.9h0M1193.0 1417.0h0M1165.2 1434.1h0M1124.6 1479.3h0M1145.7 1463.4h0M1195.5 1414.2h0M1197.2 1402.7h0M1168.3 1436.9h0M1190.9 1409.6h0M1189.7 1424.0h0M1193.5 1412.0h0M1191.8 1415.8h0M1178.1 1420.2h0M1190.1 1422.8h0M1137.0 1465.2h0M1190.5 1413.1h0M1183.7 1416.6h0M1186.9 1416.1h0M1177.4 1422.3h0M1143.8 1454.0h0M1169.4 1438.1h0M1197.3 1409.9h0M1197.8 1397.8h0M1173.4 1436.9h0M1182.0 1423.3h0M1196.3 1415.2h0M1178.8 1426.9h0M1165.4 1454.1h0M1168.4 1431.2h0M1187.6 1432.8h0M1169.8 1422.1h0M1185.0 1428.3h0M1159.8 1437.5h0M1174.1 1437.3h0M1186.4 1427.0h0M1196.2 1413.9h0M1173.2 1415.9h0M1166.2 1438.3h0M1186.1 1419.5h0M1184.0 1430.3h0M1153.5 1439.3h0M1197.5 1401.6h0M1175.6 1433.9h0M1168.8 1434.5h0M1181.3 1435.5h0M1191.0 1424.8h0M1197.9 1410.7h0M1192.6 1401.9h0M1193.6 1402.4h0M1183.9 1426.7h0M1143.6 1464.3h0M1192.8 1402.6h0M1184.4 1414.7h0M1146.1 1472.1h0M1186.3 1423.9h0M1194.6 1413.6h0M1181.4 1415.7h0M1167.7 1448.3h0M1124.7 1478.2h0M1183.5 1416.7h0M1190.3 1412.9h0M1174.1 1422.7h0M1181.5 1428.6h0M1196.3 1396.0h0M1197.4 1406.3h0M1167.9 1437.5h0M1177.5 1431.6h0M1197.7 1395.4h0M1194.6 1412.0h0M1154.8 1448.2h0M1191.6 1411.9h0M1173.9 1428.6h0M1183.7 1428.2h0M1157.8 1453.5h0M1192.7 1416.8h0M1197.9 1406.5h0M1182.5 1423.0h0M1190.4 1419.0h0M1187.8 1419.9h0M1174.8 1437.8h0M1163.6 1450.4h0M1140.1 1454.6h0M1196.0 1398.5h0M1194.8 1415.1h0M1183.4 1432.5h0M1186.6 1429.5h0M1177.6 1417.3h0M1127.4 1483.9h0M1182.9 1424.5h0M1166.8 1441.1h0M1156.3 1454.4h0M1192.3 1421.7h0M1141.7 1441.2h0M1179.3 1427.6h0M1159.8 1450.7h0M1150.7 1438.0h0M1187.7 1410.2h0M1178.6 1421.9h0M1162.3 1443.1h0M1157.6 1445.8h0M1196.6 1407.2h0M1188.2 1420.9h0M1160.1 1440.8h0M1180.4 1420.9h0M1166.6 1431.2h0M1126.7 1485.0h0M1181.6 1420.0h0M1192.1 1413.9h0M1179.8 1427.5h0M1173.2 1419.5h0M1180.0 1419.2h0M1189.0 1423.6h0M1186.4 1409.4h0M1192.5 1425.5h0M1151.5 1443.0h0M1177.3 1428.8h0M1192.7 1420.7h0M1175.4 1430.8h0M1197.5 1399.0h0M1185.6 1420.7h0M1158.6 1452.8h0M1169.4 1437.9h0M1196.5 1415.9h0M1121.1 1482.7h0M1190.5 1418.1h0M1184.2 1419.7h0M1156.7 1440.0h0M1188.8 1420.8h0M1193.0 1424.3h0M1194.8 1421.5h0M1161.1 1437.8h0M1191.9 1412.4h0M1169.7 1437.3h0M1174.5 1423.6h0M1195.5 1410.0h0M1180.7 1427.5h0M1191.1 1410.9h0M1184.1 1412.0h0M1186.6 1425.8h0M1193.9 1406.4h0M1192.6 1419.4h0M1179.7 1432.4h0M1151.4 1462.8h0M1191.7 1422.5h0M1165.1 1432.9h0M1188.9 1430.6h0M1188.9 1411.4h0M1144.6 1460.8h0M1194.7 1409.6h0M1190.8 1402.3h0M1195.7 1405.6h0M1159.9 1450.3h0M1194.9 1419.3h0M1197.8 1401.0h0M1192.7 1418.9h0M1180.9 1438.2h0M1163.4 1451.5h0M1193.1 1412.1h0M1196.4 1407.1h0M1178.5 1424.6h0M1180.5 1427.7h0M1193.2 1413.5h0M1192.6 1400.4h0M1134.0 1487.3h0M1195.7 1392.7h0M1183.0 1414.7h0M1162.7 1444.8h0M1180.4 1416.8h0M1184.4 1421.2h0M1168.6 1436.1h0M1152.6 1447.4h0M1165.2 1431.3h0M1185.4 1417.7h0M1180.6 1419.8h0M1197.8 1397.1h0M1168.3 1443.9h0M1149.8 1458.5h0M1175.7 1433.9h0M1181.0 1410.3h0M1190.9 1415.5h0M1138.8 1464.4h0M1156.8 1459.3h0M1185.4 1407.2h0M1169.1 1444.0h0M1162.4 1440.6h0M1166.7 1444.6h0M1196.4 1413.2h0M1197.9 1400.3h0M1187.4 1423.9h0M1191.7 1421.0h0M1127.2 1478.4h0M1171.7 1438.1h0M1177.5 1433.9h0M1173.0 1432.7h0M1168.6 1433.9h0M1174.8 1429.9h0M1185.6 1424.7h0M1196.9 1405.8h0M1195.7 1402.7h0M1191.1 1406.1h0M1180.8 1428.8h0M1173.3 1429.8h0M1175.9 1431.1h0M1163.3 1424.3h0M1193.9 1406.4h0M1182.5 1417.8h0M1175.0 1421.7h0M1196.7 1401.2h0M1179.8 1427.2h0M1175.8 1432.4h0M1172.1 1427.5h0M1178.0 1428.8h0M1189.6 1403.9h0M1197.9 1407.3h0M1194.0 1408.8h0M1163.7 1452.1h0M1164.3 1429.5h0M1196.9 1390.7h0M1196.3 1410.0h0M1140.3 1470.0h0M1180.0 1420.8h0M1130.3 1473.5h0M1103.6 1505.8h0M1175.5 1421.1h0M1183.3 1414.5h0M1192.6 1403.9h0M1194.9 1407.2h0M1183.8 1424.7h0M1190.7 1421.2h0M1176.8 1438.6h0M1179.6 1418.6h0M1123.4 1479.3h0M1195.2 1415.2h0M1143.4 1457.3h0M1187.3 1427.5h0M1190.4 1418.2h0M1176.2 1436.7h0M1173.6 1430.5h0M1191.2 1418.5h0M1102.5 1497.2h0M1196.7 1409.9h0M1190.4 1423.5h0M1195.5 1404.9h0M1179.1 1422.5h0M1170.5 1432.1h0M1178.6 1430.6h0M1182.2 1427.5h0M1192.4 1419.3h0M1153.5 1439.8h0M1196.3 1399.1h0M1174.2 1420.9h0M1162.3 1439.7h0M1190.9 1406.5h0M1157.5 1453.3h0M1178.7 1417.9h0M1164.6 1432.4h0M1186.9 1421.5h0M1195.7 1407.3h0M1196.1 1411.1h0M1177.8 1437.6h0M1189.5 1414.3h0M1161.5 1437.6h0M1171.6 1430.2h0M1196.1 1412.9h0M1169.1 1423.7h0M1190.0 1410.5h0M1166.4 1432.1h0M1187.0 1409.2h0M1177.5 1419.1h0M1136.7 1450.9h0M1184.1 1426.5h0M1158.3 1447.4h0M1185.7 1413.0h0M1131.3 1466.8h0M1187.2 1420.9h0M1187.0 1422.5h0M1186.2 1413.0h0M1192.9 1424.1h0M1179.1 1430.4h0M1153.8 1453.8h0M1163.3 1442.2h0M1146.0 1457.3h0M1180.4 1422.5h0M1178.9 1442.8h0M1172.4 1439.6h0M1158.2 1436.9h0M1160.1 1439.9h0M1196.0 1398.6h0M1141.9 1455.1h0M1196.0 1411.8h0M1164.6 1442.2h0M1172.5 1431.5h0M1162.6 1435.9h0M1180.1 1423.7h0M1188.1 1424.0h0M1181.5 1434.4h0M1168.0 1438.7h0M1137.7 1476.5h0M1171.2 1425.5h0M1151.1 1447.4h0M1144.3 1471.6h0M1180.0 1427.7h0M1184.8 1432.6h0M1184.8 1412.5h0M1193.7 1401.7h0M1192.6 1417.8h0M1189.2 1412.9h0M1195.2 1417.4h0M1193.3 1421.8h0M1196.6 1417.9h0M1139.3 1461.0h0M1197.3 1404.2h0M1192.2 1409.8h0M1191.6 1415.3h0M1192.0 1422.6h0M1193.2 1412.7h0M1163.4 1435.9h0M1189.0 1428.7h0M1182.2 1426.4h0M1190.8 1401.8h0M1187.9 1427.4h0M1178.8 1417.5h0M1192.1 1415.1h0M1197.0 1395.7h0M1186.3 1422.7h0M1179.8 1430.5h0M1191.5 1414.0h0M1197.9 1414.2h0M1159.1 1443.3h0M1167.5 1439.7h0M1194.0 1413.7h0M1188.7 1417.0h0M1180.4 1409.3h0M1173.3 1425.1h0M1179.4 1425.2h0M1194.2 1410.8h0M1155.9 1447.9h0M1152.3 1449.7h0M1190.5 1417.1h0M1167.3 1429.8h0M1182.7 1417.1h0M1150.4 1457.1h0M1185.0 1407.5h0M1137.2 1453.9h0M1192.5 1405.1h0M1179.0 1429.7h0M1154.4 1449.6h0M1189.0 1416.9h0M1189.2 1412.9h0M1182.8 1423.3h0M1169.7 1441.1h0M1195.5 1416.0h0M1114.6 1482.1h0M1172.2 1424.9h0M1167.8 1435.6h0M1191.5 1420.8h0M1197.9 1410.4h0M1080.8 1516.7h0M1189.8 1405.3h0M1186.6 1424.1h0M1188.1 1418.2h0M1186.0 1421.5h0M1192.7 1417.1h0M1165.9 1446.3h0M1177.9 1411.0h0M1166.6 1444.0h0M1195.8 1397.3h0M1194.5 1401.4h0M1168.0 1429.8h0M1193.3 1423.0h0M1176.2 1420.1h0M1195.9 1408.6h0M1194.9 1405.9h0M1185.4 1404.5h0M1184.5 1412.8h0M1180.6 1431.4h0M1156.0 1457.4h0M1186.2 1422.2h0M1197.8 1400.8h0M1185.6 1425.5h0M1159.9 1463.4h0M1171.7 1433.5h0M1188.3 1417.3h0M1187.9 1418.9h0M1186.6 1421.0h0M1180.7 1420.5h0M1175.0 1442.5h0M1194.0 1409.4h0M1178.7 1441.4h0M1187.5 1421.3h0M1167.5 1436.4h0M1167.4 1434.1h0M1127.1 1479.3h0M1174.0 1429.2h0M1191.3 1410.7h0M1177.1 1429.3h0M1133.3 1475.4h0M1187.2 1421.2h0M1140.7 1461.3h0M1179.0 1434.1h0M1190.7 1417.7h0M1139.3 1450.0h0M1175.6 1429.3h0M1195.0 1407.3h0M1142.4 1465.8h0M1191.4 1425.8h0M1193.2 1418.0h0M1178.7 1424.0h0M1193.3 1410.8h0M1091.6 1512.6h0M1170.9 1438.4h0M1165.4 1445.7h0M1158.2 1438.7h0M1197.8 1404.8h0M1194.4 1402.8h0M1186.2 1422.6h0M1180.2 1426.2h0M1190.7 1420.2h0M1173.0 1433.9h0M1197.3 1409.8h0M1182.6 1425.5h0M1185.2 1427.4h0M1163.4 1448.2h0M1153.5 1447.7h0M1150.8 1459.0h0M1177.7 1422.4h0M1140.4 1471.2h0M1184.3 1421.8h0M1140.6 1463.2h0M1166.5 1435.2h0M1141.7 1462.3h0M1164.0 1449.6h0M1189.3 1417.9h0M1194.9 1411.7h0M1183.7 1428.3h0M1196.9 1408.4h0M1169.1 1440.2h0M1189.2 1416.5h0M1185.8 1418.6h0M1138.8 1461.2h0M1148.8 1466.0h0M1192.0 1406.6h0M1164.5 1453.7h0M1195.7 1415.9h0M1159.6 1437.5h0M1124.2 1471.5h0M1198.2 1406.8h0M1188.6 1410.1h0M1196.6 1397.9h0M1185.8 1427.1h0M1187.4 1419.3h0M1197.4 1408.9h0M1142.1 1463.9h0M1131.5 1462.9h0M1192.5 1417.1h0M1142.5 1444.5h0M1192.9 1408.5h0M1182.5 1427.9h0M1193.6 1394.0h0M1192.7 1428.8h0M1173.6 1425.1h0M1196.9 1394.1h0M1195.4 1410.6h0M1141.6 1467.5h0M1148.2 1455.8h0M1169.0 1438.8h0M1130.0 1475.1h0M1192.0 1411.9h0M1189.2 1416.8h0M1193.3 1416.4h0M1191.6 1419.9h0M1186.8 1429.1h0M1171.6 1425.2h0M1191.8 1419.6h0M1189.4 1405.7h0M1190.2 1419.4h0M1173.1 1413.4h0M1184.0 1409.5h0M1179.8 1426.9h0M1175.7 1429.0h0M1190.0 1414.9h0M1196.0 1395.9h0M1190.0 1414.7h0M1190.2 1420.2h0M1178.7 1419.6h0M1183.0 1407.2h0M1164.1 1452.3h0M1181.2 1412.1h0M1193.3 1421.5h0M1187.3 1421.1h0M1171.9 1430.4h0M1180.9 1432.2h0M1152.4 1454.5h0M1123.9 1486.3h0M1193.5 1410.7h0M1175.2 1433.3h0M1191.6 1425.0h0M1160.3 1438.7h0M1159.8 1443.1h0M1192.1 1404.4h0M1176.9 1429.4h0M1175.9 1428.3h0M1167.4 1449.8h0M1193.3 1418.2h0M1194.2 1402.4h0M1184.2 1419.4h0M1183.9 1421.8h0M1196.4 1395.7h0M1139.8 1471.2h0M1159.7 1447.7h0"/><path clip-path="url(#cp0)" stroke="#ee1111" stroke-width="6.4" stroke-linecap="round" fill="none" d="M1053.9 1504.7h0"/><path clip-path="url(#cp0)" stroke="#0a10e0" stroke-width="6.4" stroke-linecap="round" fill="none" d="M1193.1 1433.6h0M1179.3 1446.9h0M1172.2 1452.5h0M1158.2 1469.2h0M1149.8 1477.4h0M1146.9 1487.8h0"/><path clip-path="url(#cp0)" stroke="#222" stroke-width="1.4" stroke-dasharray="1.4 3.3" fill="none" d="M1213.7 1290.1V1575.8M1019.7 1389.6H1316.9M1019.7 1550.2L1291.1 1290.1M1045.7 1575.8L1316.9 1315.9"/><path clip-path="url(#cp0)" stroke="#000" stroke-width="1.5" fill="none" d="M1019.7 1575.8L1316.9 1290.1"/><rect x="1019.7" y="1290.1" width="297.2" height="285.7" fill="none" stroke="#111" stroke-width="2.3"/><path stroke="#111" stroke-width="1.5" fill="none" d="M1031.9 1576.8v4.4M1018.7 1563.8h-4.4M1122.8 1576.8v4.4M1018.7 1476.7h-4.4M1213.7 1576.8v4.4M1018.7 1389.6h-4.4M1304.5 1576.8v4.4M1018.7 1302.5h-4.4"/><text x="1028.9" y="1606.3" font-size="24.3" text-anchor="middle" font-family="'Liberation Sans', Arial, sans-serif">−10</text><text x="1119.8" y="1606.3" font-size="24.3" text-anchor="middle" font-family="'Liberation Sans', Arial, sans-serif">−5</text><text x="1213.7" y="1606.3" font-size="24.3" text-anchor="middle" font-family="'Liberation Sans', Arial, sans-serif">0</text><text x="1304.5" y="1606.3" font-size="24.3" text-anchor="middle" font-family="'Liberation Sans', Arial, sans-serif">5</text><text x="993" y="1569.8" font-size="24.3" text-anchor="middle" font-family="'Liberation Sans', Arial, sans-serif">−10</text><text x="993" y="1482.7" font-size="24.3" text-anchor="middle" font-family="'Liberation Sans', Arial, sans-serif">−5</text><text x="993" y="1395.6" font-size="24.3" text-anchor="middle" font-family="'Liberation Sans', Arial, sans-serif">0</text><text x="993" y="1308.5" font-size="24.3" text-anchor="middle" font-family="'Liberation Sans', Arial, sans-serif">5</text><text x="1166.1" y="1279.2" font-size="24.3" text-anchor="middle" font-family="'Liberation Sans', Arial, sans-serif">MII/GV</text><text x="1167.5" y="1342" font-size="24.3" text-anchor="middle" font-family="'Liberation Sans', Arial, sans-serif">n=1</text><text x="1277.9" y="1446.7" font-size="24.3" text-anchor="middle" font-family="'Liberation Sans', Arial, sans-serif">n=6</text><text x="1168.3" y="1637.5" font-size="24.3" text-anchor="middle" font-family="'Liberation Sans', Arial, sans-serif">Log<tspan font-size="15.5" dy="1">2</tspan><tspan dy="-1">-transformed</tspan></text><text x="1168.3" y="1665.5" font-size="24.3" text-anchor="middle" font-family="'Liberation Sans', Arial, sans-serif">fold change in WT</text>
<clipPath id="cp1"><rect x="1329.1" y="1290.1" width="298.2" height="285.7"/></clipPath><path clip-path="url(#cp1)" stroke="#c9c9c9" stroke-width="6.0" stroke-linecap="round" fill="none" d="M1488.3 1408.4h0M1489.0 1411.4h0M1478.6 1412.2h0M1486.4 1420.9h0M1490.4 1416.6h0M1497.7 1410.7h0M1487.6 1409.0h0M1498.3 1426.9h0M1494.8 1411.9h0M1481.8 1418.5h0M1498.7 1397.0h0M1491.3 1399.7h0M1493.6 1412.7h0M1491.6 1400.7h0M1482.4 1410.6h0M1492.8 1408.1h0M1505.7 1391.8h0M1496.1 1415.3h0M1482.9 1406.2h0M1484.7 1405.9h0M1501.5 1403.0h0M1491.3 1414.7h0M1476.5 1421.6h0M1496.4 1400.0h0M1499.2 1427.4h0M1485.3 1436.6h0M1482.4 1421.6h0M1501.7 1408.6h0M1497.6 1412.7h0M1485.3 1413.3h0M1488.5 1418.8h0M1488.8 1406.1h0M1483.8 1420.4h0M1497.2 1429.1h0M1487.6 1404.1h0M1498.2 1392.4h0M1483.4 1414.8h0M1496.4 1403.7h0M1484.3 1407.9h0M1508.1 1398.2h0M1484.5 1408.6h0M1474.1 1418.2h0M1503.6 1424.9h0M1498.1 1400.7h0M1487.4 1413.8h0M1501.2 1406.3h0M1501.3 1414.7h0M1497.1 1398.9h0M1490.0 1409.9h0M1490.6 1397.5h0M1497.4 1400.8h0M1478.9 1421.8h0M1492.8 1416.8h0M1488.3 1405.3h0M1496.7 1418.4h0M1470.6 1423.3h0M1487.2 1406.3h0M1484.7 1413.4h0M1493.1 1408.6h0M1491.1 1425.7h0M1478.5 1410.3h0M1499.0 1405.7h0M1496.7 1423.7h0M1483.3 1403.7h0M1495.1 1398.5h0M1488.1 1413.6h0M1482.4 1416.5h0M1485.2 1420.7h0M1490.4 1401.3h0M1486.3 1417.9h0M1493.1 1418.5h0M1494.5 1400.3h0M1485.9 1416.1h0M1486.2 1430.4h0M1483.5 1430.6h0M1498.8 1399.3h0M1488.0 1412.9h0M1488.3 1413.7h0M1480.8 1426.6h0M1483.6 1420.7h0M1490.3 1410.5h0M1470.2 1417.9h0M1488.2 1421.0h0M1493.1 1417.4h0M1479.0 1426.0h0M1501.0 1401.9h0M1482.2 1440.7h0M1502.8 1415.2h0M1490.6 1423.1h0M1483.4 1417.6h0M1468.6 1423.7h0M1495.1 1404.7h0M1485.1 1421.5h0M1491.3 1404.6h0M1491.5 1411.1h0M1485.9 1423.7h0M1484.5 1405.4h0M1492.8 1424.4h0M1490.6 1425.8h0M1482.6 1413.3h0M1501.0 1406.2h0M1499.5 1421.7h0M1500.0 1433.3h0M1497.5 1410.5h0M1490.5 1424.6h0M1487.2 1423.2h0M1477.7 1408.6h0M1487.1 1420.4h0M1485.8 1407.5h0M1488.6 1400.6h0M1492.1 1407.3h0M1493.9 1405.6h0M1493.9 1415.0h0M1475.0 1428.2h0M1486.5 1417.9h0M1495.9 1401.9h0M1478.0 1432.4h0M1475.0 1421.4h0M1483.0 1412.8h0M1505.8 1418.4h0M1504.5 1409.2h0M1475.6 1424.1h0M1489.9 1432.7h0M1496.5 1411.6h0M1476.1 1419.2h0M1488.1 1407.7h0M1501.7 1395.5h0M1492.2 1394.6h0M1477.1 1422.7h0M1467.2 1426.8h0M1494.5 1407.8h0M1494.2 1414.8h0M1496.7 1401.2h0M1492.8 1401.1h0M1500.3 1396.1h0M1483.3 1422.1h0M1475.1 1411.7h0M1500.0 1409.3h0M1477.1 1420.1h0M1475.5 1420.8h0M1481.4 1433.5h0M1491.4 1404.9h0M1483.8 1406.5h0M1492.8 1401.2h0M1501.1 1395.8h0M1491.3 1396.5h0M1486.1 1409.5h0M1483.4 1421.9h0M1489.4 1410.2h0M1488.0 1411.4h0M1488.4 1401.3h0M1497.3 1403.6h0M1503.9 1406.1h0M1472.9 1425.4h0M1488.1 1413.6h0M1483.7 1429.5h0M1491.0 1420.5h0M1500.8 1399.0h0M1507.8 1408.0h0M1491.2 1409.2h0M1490.8 1406.6h0M1495.7 1399.7h0M1497.8 1414.9h0M1490.7 1413.1h0M1501.0 1396.8h0M1497.9 1416.8h0M1475.3 1422.3h0M1500.9 1395.4h0M1486.2 1405.5h0M1476.4 1418.3h0M1500.7 1411.1h0M1491.8 1421.5h0M1487.5 1411.9h0M1475.4 1414.9h0M1483.1 1430.0h0M1490.6 1407.1h0M1491.5 1401.5h0M1490.4 1412.5h0M1483.7 1423.2h0M1479.8 1412.8h0M1498.4 1404.7h0M1501.1 1406.5h0M1495.2 1413.3h0M1500.9 1399.4h0M1498.4 1404.1h0M1475.4 1422.9h0M1489.7 1404.2h0M1498.1 1433.2h0M1485.6 1412.1h0M1490.8 1396.6h0M1476.6 1419.1h0M1485.2 1401.7h0M1491.1 1424.6h0M1489.6 1417.4h0M1507.2 1407.7h0M1477.4 1425.9h0M1481.6 1419.3h0M1484.0 1403.6h0M1486.7 1426.2h0M1500.9 1394.1h0M1478.6 1424.2h0M1485.2 1439.3h0M1490.7 1399.8h0M1505.5 1392.7h0M1476.4 1412.1h0M1500.4 1399.9h0M1497.2 1408.9h0M1501.6 1398.2h0M1493.5 1435.8h0M1467.8 1449.2h0M1495.4 1416.7h0M1502.0 1411.3h0M1479.2 1436.0h0M1488.7 1404.9h0M1491.9 1415.5h0M1482.5 1433.2h0M1485.5 1419.8h0M1501.7 1414.9h0M1490.9 1401.6h0M1492.5 1408.1h0M1471.4 1417.4h0M1496.8 1410.3h0M1488.9 1402.6h0M1506.0 1406.8h0M1495.9 1408.7h0M1497.6 1403.7h0M1490.6 1434.1h0M1495.5 1415.3h0M1493.9 1421.4h0M1498.5 1400.4h0M1478.4 1412.3h0M1480.7 1408.4h0M1494.1 1416.4h0M1492.8 1394.2h0M1486.9 1416.8h0M1490.0 1422.4h0M1497.5 1424.7h0M1482.8 1414.9h0M1485.9 1415.5h0M1491.3 1423.0h0M1501.7 1410.3h0M1480.4 1423.3h0M1501.0 1402.8h0M1494.9 1416.8h0M1488.7 1421.4h0M1500.4 1407.3h0M1507.3 1405.8h0M1469.3 1434.5h0M1474.4 1421.3h0M1489.2 1424.3h0M1496.7 1398.4h0M1482.9 1409.2h0M1499.8 1403.1h0M1497.3 1423.3h0M1485.0 1406.5h0M1484.6 1407.0h0M1473.0 1416.3h0M1505.5 1406.9h0M1489.1 1417.0h0M1496.3 1408.5h0M1481.7 1415.5h0M1499.8 1420.6h0M1470.1 1417.5h0M1493.9 1409.2h0M1491.4 1423.7h0M1480.1 1416.0h0M1477.6 1412.4h0M1486.1 1442.7h0M1471.9 1423.6h0M1493.0 1427.4h0M1494.8 1407.1h0M1482.2 1421.8h0M1492.6 1418.4h0M1497.6 1403.6h0M1486.0 1414.0h0M1474.4 1422.0h0M1493.9 1404.0h0M1492.8 1425.8h0M1496.7 1415.1h0M1507.0 1410.8h0M1495.9 1412.6h0M1490.1 1413.2h0M1494.1 1409.9h0M1479.0 1415.6h0M1488.7 1417.3h0M1499.1 1412.5h0M1487.8 1417.4h0M1489.4 1417.9h0M1495.7 1396.8h0M1476.6 1409.6h0M1484.9 1406.6h0M1495.5 1402.7h0M1479.3 1423.9h0M1473.2 1431.1h0M1484.7 1423.8h0M1488.4 1434.6h0M1501.5 1400.7h0M1496.2 1404.5h0M1507.4 1409.9h0M1494.6 1415.4h0M1490.2 1414.3h0M1493.3 1401.4h0M1505.2 1396.4h0M1494.9 1410.4h0M1487.6 1414.5h0M1488.2 1409.6h0M1501.1 1404.2h0M1479.4 1427.8h0M1486.5 1425.9h0M1502.3 1404.2h0M1477.1 1410.4h0M1484.8 1407.8h0M1480.2 1421.2h0M1480.8 1415.5h0M1488.7 1414.5h0M1495.4 1410.5h0M1483.3 1426.7h0M1484.3 1416.2h0M1494.2 1399.8h0M1480.9 1412.0h0M1490.6 1412.9h0M1502.2 1395.5h0M1500.8 1401.6h0M1489.3 1422.8h0M1479.4 1410.7h0M1489.0 1421.9h0M1482.0 1425.3h0M1494.1 1412.7h0M1494.0 1402.1h0M1471.4 1428.0h0M1483.1 1417.1h0M1493.0 1415.1h0M1483.2 1412.8h0M1491.9 1415.0h0M1494.1 1412.4h0M1490.7 1425.7h0M1506.4 1399.2h0M1501.0 1416.8h0M1504.6 1392.1h0M1476.1 1423.4h0M1498.9 1389.9h0M1475.1 1426.8h0M1480.3 1417.2h0M1486.7 1415.9h0M1476.1 1413.0h0M1493.9 1405.2h0M1506.6 1408.2h0M1489.0 1417.4h0M1492.9 1401.5h0M1504.2 1398.7h0M1498.9 1405.7h0M1478.9 1421.0h0M1497.0 1410.1h0M1503.7 1405.6h0M1498.8 1398.3h0M1476.0 1419.3h0M1503.7 1401.4h0M1495.1 1419.6h0M1495.6 1412.4h0M1495.7 1414.3h0M1489.5 1419.5h0M1485.7 1413.2h0M1478.0 1415.8h0M1484.7 1423.3h0M1483.9 1435.0h0M1478.0 1416.6h0M1467.0 1442.2h0M1476.6 1413.9h0M1487.1 1407.1h0M1499.4 1418.8h0M1489.2 1410.0h0M1501.3 1410.0h0M1497.1 1418.4h0M1490.1 1426.1h0M1480.7 1422.9h0M1493.8 1401.2h0M1494.5 1410.5h0M1496.9 1421.5h0M1486.9 1422.5h0M1505.5 1417.2h0M1450.8 1448.8h0M1465.9 1448.8h0M1478.1 1444.6h0M1458.0 1441.8h0M1470.8 1434.9h0"/><path clip-path="url(#cp1)" stroke="#ee1111" stroke-width="6.4" stroke-linecap="round" fill="none" d="M1496.5 1374.1h0M1480.9 1389.8h0M1465.5 1409.8h0M1493.3 1375.5h0M1461.6 1418.7h0M1502.1 1382.0h0M1453.6 1403.8h0M1482.8 1399.1h0M1477.9 1391.5h0M1497.2 1379.8h0M1478.3 1390.6h0M1479.6 1391.8h0M1471.1 1402.3h0M1476.4 1392.6h0M1455.8 1416.6h0M1489.1 1375.3h0M1463.1 1412.9h0M1464.3 1410.9h0M1504.6 1380.9h0M1480.2 1392.8h0M1494.6 1385.9h0M1486.7 1395.0h0M1468.7 1402.8h0M1465.1 1408.2h0M1474.0 1396.1h0M1488.3 1389.5h0M1501.5 1381.3h0M1503.4 1368.8h0M1492.2 1379.4h0M1464.9 1394.1h0M1497.5 1376.6h0M1484.3 1391.1h0M1453.0 1427.2h0M1493.6 1379.7h0M1483.8 1383.9h0M1468.8 1397.9h0M1482.6 1382.2h0M1466.5 1402.5h0M1492.9 1380.5h0M1452.8 1425.3h0M1476.1 1400.2h0M1474.8 1393.4h0M1484.5 1392.2h0M1464.1 1408.1h0M1479.6 1405.1h0M1464.7 1419.6h0M1492.8 1380.0h0M1485.2 1391.5h0M1496.8 1371.6h0M1484.8 1391.8h0M1504.3 1372.2h0M1480.1 1403.6h0M1465.7 1413.4h0M1482.1 1393.9h0M1500.0 1373.2h0M1470.0 1400.1h0M1479.9 1394.4h0M1486.0 1396.1h0M1470.5 1408.0h0M1466.8 1396.9h0M1471.8 1400.7h0M1489.3 1390.7h0M1485.2 1386.4h0M1458.3 1411.9h0M1474.5 1395.3h0M1478.5 1401.4h0M1472.3 1402.7h0M1489.4 1390.8h0M1479.7 1389.4h0M1466.3 1396.5h0M1477.0 1398.6h0M1485.5 1396.4h0M1480.5 1387.4h0M1494.5 1383.7h0M1457.4 1401.6h0M1494.8 1383.4h0M1491.8 1375.7h0M1487.6 1395.6h0M1488.6 1395.2h0M1472.7 1391.9h0M1485.3 1399.3h0M1483.2 1393.8h0M1469.0 1404.6h0M1504.8 1368.0h0M1485.2 1387.1h0M1494.0 1386.4h0M1489.2 1389.4h0M1482.3 1389.7h0M1468.7 1402.9h0M1487.2 1385.3h0M1487.0 1390.6h0M1483.3 1386.4h0M1491.4 1383.9h0M1482.7 1389.7h0M1466.6 1408.2h0M1464.4 1413.7h0M1452.2 1421.8h0M1488.5 1385.7h0M1472.8 1357.2h0M1491.2 1354.2h0M1500.0 1363.3h0M1486.0 1369.5h0M1437.8 1430.7h0M1460.6 1424.6h0M1464.1 1419.4h0M1501.8 1368.7h0"/><path clip-path="url(#cp1)" stroke="#0a10e0" stroke-width="6.4" stroke-linecap="round" fill="none" d=""/><path clip-path="url(#cp1)" stroke="#222" stroke-width="1.4" stroke-dasharray="1.4 3.3" fill="none" d="M1523.7 1290.1V1575.8M1329.1 1389.6H1627.3M1329.1 1550.2L1601.4 1290.1M1355.2 1575.8L1627.3 1315.9"/><path clip-path="url(#cp1)" stroke="#000" stroke-width="1.5" fill="none" d="M1329.1 1575.8L1627.3 1290.1"/><rect x="1329.1" y="1290.1" width="298.2" height="285.7" fill="none" stroke="#111" stroke-width="2.3"/><path stroke="#111" stroke-width="1.5" fill="none" d="M1341.3 1576.8v4.4M1328.1 1563.8h-4.4M1432.5 1576.8v4.4M1328.1 1476.7h-4.4M1523.7 1576.8v4.4M1328.1 1389.6h-4.4M1614.9 1576.8v4.4M1328.1 1302.5h-4.4"/><text x="1338.3" y="1606.3" font-size="24.3" text-anchor="middle" font-family="'Liberation Sans', Arial, sans-serif">−10</text><text x="1429.5" y="1606.3" font-size="24.3" text-anchor="middle" font-family="'Liberation Sans', Arial, sans-serif">−5</text><text x="1523.7" y="1606.3" font-size="24.3" text-anchor="middle" font-family="'Liberation Sans', Arial, sans-serif">0</text><text x="1614.9" y="1606.3" font-size="24.3" text-anchor="middle" font-family="'Liberation Sans', Arial, sans-serif">5</text><text x="1475.5" y="1279.2" font-size="24.3" text-anchor="middle" font-family="'Liberation Sans', Arial, sans-serif">9 h.p.e.a./MII</text><text x="1484.0" y="1342" font-size="24.3" text-anchor="middle" font-family="'Liberation Sans', Arial, sans-serif">n=106</text><text x="1588.3" y="1446.7" font-size="24.3" text-anchor="middle" font-family="'Liberation Sans', Arial, sans-serif">n=0</text><text x="1478.2" y="1637.5" font-size="24.3" text-anchor="middle" font-family="'Liberation Sans', Arial, sans-serif">Log<tspan font-size="15.5" dy="1">2</tspan><tspan dy="-1">-transformed</tspan></text><text x="1478.2" y="1665.5" font-size="24.3" text-anchor="middle" font-family="'Liberation Sans', Arial, sans-serif">fold change in WT</text>
<clipPath id="cp2"><rect x="1642.8" y="1290.1" width="297.9" height="285.7"/></clipPath><path clip-path="url(#cp2)" stroke="#d3d3d3" stroke-width="6.0" stroke-linecap="round" fill="none" d="M1817.5 1414.9h0M1813.5 1395.8h0M1804.0 1429.3h0M1754.8 1472.0h0M1795.0 1446.0h0M1794.6 1442.5h0M1819.8 1416.2h0M1760.5 1465.7h0M1813.4 1410.4h0M1812.8 1413.5h0M1820.0 1413.2h0M1810.4 1411.5h0M1776.5 1459.3h0M1794.6 1429.6h0M1805.6 1418.1h0M1819.0 1407.9h0M1801.5 1409.2h0M1794.0 1437.4h0M1802.3 1429.3h0M1730.6 1501.0h0M1788.3 1441.7h0M1795.0 1441.4h0M1809.7 1395.8h0M1705.7 1510.7h0M1791.0 1437.9h0M1806.5 1410.9h0M1809.6 1401.3h0M1784.1 1426.4h0M1806.8 1397.4h0M1816.5 1413.0h0M1786.5 1447.0h0M1792.0 1421.7h0M1800.8 1430.2h0M1820.7 1413.6h0M1785.0 1439.3h0M1778.9 1449.7h0M1792.0 1431.8h0M1793.3 1449.1h0M1807.0 1439.9h0M1796.3 1412.5h0M1809.6 1406.4h0M1746.8 1473.7h0M1797.5 1435.2h0M1786.9 1426.3h0M1793.2 1435.7h0M1806.4 1412.3h0M1803.2 1432.4h0M1811.6 1409.7h0M1752.6 1451.1h0M1716.5 1500.2h0M1751.3 1487.5h0M1753.1 1461.4h0M1805.7 1402.6h0M1809.1 1414.5h0M1790.8 1435.1h0M1803.2 1418.4h0M1719.4 1516.1h0M1777.5 1432.4h0M1816.0 1403.8h0M1734.9 1489.9h0M1771.2 1446.5h0M1761.3 1447.6h0M1815.2 1412.0h0M1766.4 1437.6h0M1759.5 1456.3h0M1756.3 1457.4h0M1700.4 1530.0h0M1792.4 1439.7h0M1819.8 1399.7h0M1813.5 1410.2h0M1776.4 1455.0h0M1758.2 1469.4h0M1804.9 1432.3h0M1807.5 1412.2h0M1772.2 1437.8h0M1711.1 1516.7h0M1683.2 1541.1h0M1789.8 1427.5h0M1792.8 1411.8h0M1788.7 1431.4h0M1794.0 1431.2h0M1811.5 1422.1h0M1784.4 1439.6h0M1817.8 1398.9h0M1818.6 1415.3h0M1696.2 1514.3h0M1798.4 1433.1h0M1793.9 1426.8h0M1797.0 1435.0h0M1786.9 1454.0h0M1777.9 1425.4h0M1808.7 1425.4h0M1788.2 1423.7h0M1812.0 1413.9h0M1759.9 1457.9h0M1787.2 1435.3h0M1807.5 1421.2h0M1804.7 1437.2h0M1759.8 1473.4h0M1795.2 1442.8h0M1797.1 1418.6h0M1691.1 1521.9h0M1818.4 1400.1h0M1771.1 1449.2h0M1796.7 1420.7h0M1785.1 1431.4h0M1763.7 1472.3h0M1772.9 1442.4h0M1780.7 1427.8h0M1815.0 1406.0h0M1818.5 1409.4h0M1817.6 1408.0h0M1800.0 1430.0h0M1692.0 1527.4h0M1792.9 1439.7h0M1815.5 1415.1h0M1805.6 1416.0h0M1791.0 1413.1h0M1798.7 1444.0h0M1808.3 1404.2h0M1755.2 1471.0h0M1801.7 1434.5h0M1796.7 1437.0h0M1779.8 1441.8h0M1798.6 1432.4h0M1795.4 1412.6h0M1793.9 1422.6h0M1801.0 1432.0h0M1725.1 1494.4h0M1774.2 1460.1h0M1764.2 1464.2h0M1695.5 1509.0h0M1774.5 1463.5h0M1810.1 1409.5h0M1803.3 1429.1h0M1768.7 1444.3h0M1759.9 1462.4h0M1808.2 1422.9h0M1799.5 1430.4h0M1811.6 1410.9h0M1784.2 1442.2h0M1748.7 1468.8h0M1783.4 1449.9h0M1768.6 1453.9h0M1784.6 1457.2h0M1808.7 1420.6h0M1787.9 1449.6h0M1814.7 1409.4h0M1766.5 1466.3h0M1785.7 1450.8h0M1813.2 1414.7h0M1779.7 1432.5h0M1806.5 1428.5h0M1752.1 1476.1h0M1781.8 1439.7h0M1785.5 1445.0h0M1761.2 1454.4h0M1771.5 1448.4h0M1771.7 1447.4h0M1807.4 1427.1h0M1802.2 1425.3h0M1801.1 1424.6h0M1775.9 1442.8h0M1734.5 1480.6h0M1812.6 1409.8h0M1754.6 1465.6h0M1764.5 1460.2h0M1771.0 1440.8h0M1819.6 1397.7h0M1810.9 1433.6h0M1769.9 1456.9h0M1732.5 1498.7h0M1810.5 1424.1h0M1796.4 1427.1h0M1750.7 1485.2h0M1810.2 1421.5h0M1810.3 1419.7h0M1796.5 1432.6h0M1797.2 1417.0h0M1773.5 1471.0h0M1812.9 1422.8h0M1810.6 1402.1h0M1731.0 1485.9h0M1801.8 1428.8h0M1809.9 1416.3h0M1771.0 1456.1h0M1818.1 1400.8h0M1784.1 1451.3h0M1816.6 1399.9h0M1782.4 1439.3h0M1737.7 1480.2h0M1819.9 1404.2h0M1770.8 1449.4h0M1774.7 1441.8h0M1771.0 1458.1h0M1806.5 1408.4h0M1786.3 1444.4h0M1808.8 1408.9h0M1806.3 1419.2h0M1805.2 1418.3h0M1783.2 1441.8h0M1742.4 1475.1h0M1794.3 1439.6h0M1729.4 1493.3h0M1762.0 1472.5h0M1771.4 1463.2h0M1791.7 1441.9h0M1791.4 1428.0h0M1794.3 1443.3h0M1755.7 1469.8h0M1819.9 1407.0h0M1754.1 1466.5h0M1780.2 1445.6h0M1735.8 1479.9h0M1745.0 1484.2h0M1763.6 1474.6h0M1795.4 1440.1h0M1731.8 1482.4h0M1716.5 1497.9h0M1787.9 1433.1h0M1790.5 1441.9h0M1790.3 1415.0h0M1817.5 1406.7h0M1814.1 1411.8h0M1800.1 1428.3h0M1786.2 1442.3h0M1760.6 1474.4h0M1812.8 1420.4h0M1794.7 1417.6h0M1810.6 1424.2h0M1796.0 1438.1h0M1784.7 1442.4h0M1779.0 1437.9h0M1776.0 1447.3h0M1810.7 1399.0h0M1803.8 1413.7h0M1816.3 1414.9h0M1750.2 1478.9h0M1766.8 1456.7h0M1819.4 1410.2h0M1753.8 1464.9h0M1819.5 1401.0h0M1804.6 1416.4h0M1808.2 1414.1h0M1778.6 1451.5h0M1780.8 1440.6h0M1786.1 1439.7h0M1800.6 1421.0h0M1768.2 1462.7h0M1809.3 1415.4h0M1807.1 1404.7h0M1818.0 1415.7h0M1812.2 1412.8h0M1742.8 1471.2h0M1770.3 1438.1h0M1779.4 1446.8h0M1800.6 1427.1h0M1818.3 1419.6h0M1792.4 1442.0h0M1818.7 1398.7h0M1819.6 1396.4h0M1804.0 1422.4h0M1814.1 1431.1h0M1812.5 1426.0h0M1791.7 1450.9h0M1785.9 1438.6h0M1809.4 1410.0h0M1817.4 1392.9h0M1737.0 1478.8h0M1794.4 1429.1h0M1743.0 1492.3h0M1760.8 1474.4h0M1767.1 1438.1h0M1814.1 1405.4h0M1813.4 1409.9h0M1733.0 1488.6h0M1800.7 1421.7h0M1742.3 1478.6h0M1782.2 1439.6h0M1815.8 1411.5h0M1806.7 1416.9h0M1811.4 1409.5h0M1778.0 1443.1h0M1788.7 1430.4h0M1801.1 1416.1h0M1791.1 1422.7h0M1800.2 1427.9h0M1780.8 1443.0h0M1811.8 1414.6h0M1729.2 1491.6h0M1783.7 1450.9h0M1800.5 1416.4h0M1769.2 1465.9h0M1806.8 1406.9h0M1806.3 1419.1h0M1770.4 1471.7h0M1799.9 1414.6h0M1815.8 1424.2h0M1764.3 1452.7h0M1781.8 1449.9h0M1687.2 1552.4h0M1744.2 1488.7h0M1776.1 1442.3h0M1799.1 1427.4h0M1786.0 1426.2h0M1818.1 1394.4h0M1779.3 1446.7h0M1781.7 1433.6h0M1811.9 1433.3h0M1808.0 1410.8h0M1801.7 1425.8h0M1741.6 1487.4h0M1811.5 1423.0h0M1820.8 1408.6h0M1820.8 1396.0h0M1807.3 1418.0h0M1778.3 1430.7h0M1809.7 1409.2h0M1793.3 1435.1h0M1804.8 1440.9h0M1799.6 1432.2h0M1794.8 1414.3h0M1772.3 1441.0h0M1811.3 1399.4h0M1780.6 1442.2h0M1798.4 1424.3h0M1812.3 1415.0h0M1773.8 1463.7h0M1818.3 1405.4h0M1795.0 1428.3h0M1747.9 1480.3h0M1739.5 1495.0h0M1801.3 1412.5h0M1819.7 1396.5h0M1809.9 1409.6h0M1818.0 1406.7h0M1789.0 1425.8h0M1748.0 1464.7h0M1803.1 1410.8h0M1766.2 1446.8h0M1730.5 1504.6h0M1737.5 1489.5h0M1773.4 1442.1h0M1758.4 1466.3h0M1778.8 1446.9h0M1793.7 1430.9h0M1808.0 1427.5h0M1790.9 1441.3h0M1818.3 1398.0h0M1772.8 1440.7h0M1754.9 1471.2h0M1791.3 1422.3h0M1752.5 1489.1h0M1793.1 1417.3h0M1799.5 1435.3h0M1818.8 1405.9h0M1799.4 1411.9h0M1814.0 1404.3h0M1814.0 1424.3h0M1760.4 1456.5h0M1796.2 1431.6h0M1728.9 1483.5h0M1810.8 1393.1h0M1793.2 1430.1h0M1814.9 1396.5h0M1762.9 1444.1h0M1818.0 1411.2h0M1796.1 1435.4h0M1781.9 1419.2h0M1803.7 1413.9h0M1814.3 1410.5h0M1819.2 1411.7h0M1776.6 1469.6h0M1755.3 1463.7h0M1811.1 1400.9h0M1794.2 1426.7h0M1805.8 1413.4h0M1777.6 1450.1h0M1817.6 1385.7h0M1780.5 1455.6h0M1804.6 1424.4h0M1754.4 1491.0h0M1819.1 1412.7h0M1787.7 1437.1h0M1695.2 1525.2h0M1804.8 1407.3h0M1813.1 1413.3h0M1803.6 1439.3h0M1798.0 1432.7h0M1794.7 1446.1h0M1815.5 1405.0h0M1747.4 1471.8h0M1792.1 1438.9h0M1801.5 1431.5h0M1812.7 1398.9h0M1815.0 1413.0h0M1770.0 1465.6h0M1759.2 1472.4h0M1781.5 1423.1h0M1798.9 1445.5h0M1777.0 1454.7h0M1801.7 1415.9h0M1777.1 1452.9h0M1742.2 1472.6h0M1753.4 1478.7h0M1800.4 1442.8h0M1777.7 1446.6h0M1816.4 1400.4h0M1753.7 1461.6h0M1800.9 1428.5h0M1815.6 1400.9h0M1808.5 1405.4h0M1761.2 1459.0h0M1802.6 1401.5h0M1793.9 1428.4h0M1797.7 1419.1h0M1807.1 1418.7h0M1778.1 1448.6h0M1752.8 1473.4h0M1815.5 1404.3h0M1817.4 1404.8h0M1820.2 1419.6h0M1795.5 1436.9h0M1819.3 1412.0h0M1797.9 1444.1h0M1802.1 1400.8h0M1713.6 1512.6h0M1751.7 1473.8h0M1816.9 1413.5h0M1816.7 1410.8h0M1798.7 1408.4h0M1725.5 1495.6h0M1794.0 1446.0h0M1757.8 1468.5h0M1789.2 1440.9h0M1798.4 1443.1h0M1771.9 1453.7h0M1785.5 1434.3h0M1816.7 1428.1h0M1814.2 1405.6h0M1796.6 1426.6h0M1794.6 1438.1h0M1757.6 1469.0h0M1803.9 1410.7h0M1820.8 1420.9h0M1787.6 1419.0h0M1817.8 1396.2h0M1807.8 1416.1h0M1774.7 1463.2h0M1798.5 1433.6h0M1794.8 1431.0h0M1808.3 1419.4h0M1814.6 1415.6h0M1811.6 1427.6h0M1820.7 1408.2h0M1745.2 1482.0h0M1747.6 1471.1h0M1812.6 1412.4h0M1815.4 1429.7h0M1813.3 1409.8h0M1815.1 1388.4h0M1802.6 1421.8h0M1767.5 1441.2h0M1758.1 1475.9h0M1794.4 1426.1h0M1801.4 1439.0h0M1768.7 1450.6h0M1804.3 1426.4h0M1818.9 1409.5h0M1800.3 1426.6h0M1817.3 1406.5h0M1797.6 1408.8h0M1819.5 1413.5h0M1804.9 1426.6h0M1814.6 1404.5h0M1783.4 1435.6h0M1812.7 1421.7h0M1816.1 1392.0h0M1809.8 1414.1h0M1766.9 1455.7h0"/><path clip-path="url(#cp2)" stroke="#ee1111" stroke-width="6.4" stroke-linecap="round" fill="none" d="M1722.3 1456.1h0M1744.9 1439.1h0M1704.4 1478.5h0M1754.3 1441.6h0M1746.3 1437.8h0M1713.1 1457.8h0M1701.2 1470.6h0M1723.4 1451.3h0M1729.9 1451.7h0M1725.0 1461.7h0M1745.2 1431.9h0M1704.9 1467.1h0M1763.7 1416.9h0M1710.8 1460.3h0M1737.8 1450.3h0M1742.2 1429.2h0M1722.0 1458.2h0M1725.0 1457.1h0M1763.0 1431.0h0M1740.7 1441.4h0M1745.5 1441.4h0M1737.2 1452.4h0M1722.8 1470.6h0M1732.7 1451.8h0M1738.8 1449.1h0M1744.9 1439.2h0M1735.6 1451.2h0M1727.9 1447.4h0M1736.4 1443.0h0M1731.1 1449.4h0M1714.6 1476.7h0M1732.2 1451.7h0M1707.3 1466.4h0M1691.0 1470.9h0M1716.7 1470.3h0M1725.1 1455.2h0M1726.8 1455.9h0M1702.3 1463.8h0M1758.6 1422.7h0M1745.3 1429.2h0M1737.8 1455.5h0M1762.3 1419.0h0M1733.4 1453.2h0M1693.9 1481.5h0M1709.2 1454.8h0M1745.6 1441.3h0M1718.6 1450.0h0M1716.1 1452.1h0M1737.3 1450.4h0M1728.3 1434.8h0M1699.2 1469.9h0M1746.6 1442.5h0M1754.0 1425.9h0M1728.4 1430.2h0M1706.9 1454.4h0M1712.3 1466.8h0M1742.3 1451.8h0M1716.1 1455.0h0M1728.2 1450.1h0M1730.1 1448.8h0M1758.8 1428.2h0M1726.7 1455.5h0M1742.0 1438.1h0M1694.3 1483.1h0M1724.4 1428.2h0M1723.0 1462.0h0M1711.8 1468.8h0M1705.5 1482.7h0M1731.2 1460.0h0M1745.0 1422.9h0M1768.6 1420.0h0M1730.0 1426.3h0M1710.5 1449.9h0M1709.5 1457.9h0M1706.5 1476.9h0M1729.9 1456.1h0M1696.6 1479.0h0M1718.1 1446.1h0M1728.0 1442.7h0M1734.3 1457.6h0M1709.7 1473.9h0M1716.8 1467.1h0M1718.7 1447.9h0M1712.4 1463.8h0M1710.8 1465.8h0M1753.6 1440.3h0M1710.6 1468.7h0M1736.1 1455.5h0M1739.0 1445.0h0M1737.9 1432.3h0M1705.7 1450.6h0M1717.3 1472.1h0M1721.7 1462.7h0M1738.4 1448.6h0M1731.9 1462.6h0M1699.6 1486.1h0M1704.8 1463.8h0M1682.0 1479.4h0M1682.0 1494.7h0M1709.3 1460.2h0M1713.1 1468.1h0M1728.8 1446.7h0M1701.6 1461.5h0M1723.2 1447.3h0M1700.2 1465.2h0M1725.6 1447.9h0M1715.4 1455.3h0M1741.4 1446.1h0M1726.0 1460.8h0M1742.8 1432.1h0M1771.0 1415.3h0M1752.2 1435.1h0M1738.6 1454.3h0M1769.6 1424.6h0M1731.5 1456.4h0M1732.9 1456.6h0M1739.4 1438.0h0M1705.7 1478.1h0M1702.0 1463.9h0M1706.6 1467.0h0M1734.9 1449.8h0M1686.9 1469.0h0M1725.3 1449.3h0M1703.9 1454.9h0M1724.8 1446.6h0M1721.4 1445.1h0M1743.2 1443.3h0M1746.8 1444.9h0M1758.5 1437.4h0M1740.6 1415.8h0M1690.4 1466.1h0M1705.7 1473.9h0M1758.5 1417.5h0M1741.8 1439.2h0M1732.4 1445.9h0M1730.0 1456.4h0M1699.5 1458.2h0M1720.3 1439.3h0M1742.6 1437.6h0M1713.7 1469.4h0M1818.6 1383.5h0M1795.5 1391.3h0M1684.3 1446.4h0M1667.8 1493.6h0M1669.6 1497.6h0M1677.4 1507.7h0M1687.1 1505.1h0M1694.0 1497.9h0M1684.3 1473.5h0M1694.0 1462.2h0M1700.2 1442.0h0M1710.6 1441.1h0M1725.5 1432.4h0M1744.8 1425.5h0M1762.3 1424.4h0M1772.7 1428.4h0M1753.4 1431.4h0M1737.0 1433.1h0"/><path clip-path="url(#cp2)" stroke="#0a10e0" stroke-width="6.4" stroke-linecap="round" fill="none" d="M1774.8 1484.4h0M1785.7 1498.0h0M1771.2 1492.4h0M1770.8 1493.9h0M1763.6 1513.8h0M1794.5 1463.6h0M1773.8 1496.4h0M1775.4 1489.3h0M1800.5 1455.2h0M1790.2 1463.8h0M1773.5 1484.9h0M1747.2 1533.5h0M1770.4 1488.0h0M1783.2 1484.7h0M1759.1 1497.5h0M1770.6 1489.0h0M1779.5 1473.2h0M1782.3 1486.0h0M1784.9 1490.8h0M1796.4 1457.9h0M1793.7 1458.4h0M1774.5 1480.3h0M1772.6 1490.0h0M1771.3 1499.6h0M1756.7 1514.8h0M1764.1 1505.6h0M1782.5 1492.2h0M1780.5 1477.3h0M1779.5 1481.4h0M1787.1 1481.2h0M1780.7 1476.9h0M1771.9 1492.9h0M1784.0 1492.8h0M1780.9 1475.1h0M1783.3 1468.7h0M1780.4 1491.0h0M1772.9 1494.2h0M1751.4 1525.7h0M1764.4 1495.2h0M1786.0 1468.2h0M1783.5 1472.8h0M1771.4 1521.3h0M1767.6 1487.6h0M1788.4 1473.6h0M1759.3 1493.1h0M1785.4 1483.0h0M1761.6 1496.5h0M1752.0 1512.9h0M1782.0 1482.2h0M1771.5 1520.9h0M1755.7 1511.4h0M1768.2 1497.0h0M1775.6 1480.3h0M1756.7 1501.1h0M1784.8 1493.2h0M1759.4 1511.4h0M1764.7 1488.3h0M1754.1 1507.8h0M1814.8 1434.7h0M1804.4 1448.1h0M1807.0 1458.7h0M1799.9 1457.0h0M1809.5 1468.3h0M1813.0 1475.3h0M1799.1 1483.1h0M1799.9 1525.1h0M1782.4 1501.6h0M1779.8 1492.7h0M1773.6 1516.4h0M1771.1 1539.0h0M1765.8 1528.6h0M1760.5 1527.7h0M1748.3 1519.0h0M1723.0 1531.2h0M1737.7 1511.2h0M1750.1 1506.8h0M1753.6 1493.6h0M1798.9 1485.4h0"/><path clip-path="url(#cp2)" stroke="#222" stroke-width="1.4" stroke-dasharray="1.4 3.3" fill="none" d="M1837.2 1290.1V1575.8M1642.8 1389.6H1940.7M1642.8 1550.2L1914.8 1290.1M1668.9 1575.8L1940.7 1315.9"/><path clip-path="url(#cp2)" stroke="#000" stroke-width="1.5" fill="none" d="M1642.8 1575.8L1940.7 1290.1"/><rect x="1642.8" y="1290.1" width="297.9" height="285.7" fill="none" stroke="#111" stroke-width="2.3"/><path stroke="#111" stroke-width="1.5" fill="none" d="M1655.0 1576.8v4.4M1641.8 1563.8h-4.4M1746.1 1576.8v4.4M1641.8 1476.7h-4.4M1837.2 1576.8v4.4M1641.8 1389.6h-4.4M1928.3 1576.8v4.4M1641.8 1302.5h-4.4"/><text x="1652.0" y="1606.3" font-size="24.3" text-anchor="middle" font-family="'Liberation Sans', Arial, sans-serif">−10</text><text x="1743.1" y="1606.3" font-size="24.3" text-anchor="middle" font-family="'Liberation Sans', Arial, sans-serif">−5</text><text x="1837.2" y="1606.3" font-size="24.3" text-anchor="middle" font-family="'Liberation Sans', Arial, sans-serif">0</text><text x="1928.3" y="1606.3" font-size="24.3" text-anchor="middle" font-family="'Liberation Sans', Arial, sans-serif">5</text><text x="1784.8" y="1279.2" font-size="24.3" text-anchor="middle" font-family="'Liberation Sans', Arial, sans-serif">33 h.p.e.a./9 h.p.e.a.</text><text x="1797.5" y="1342" font-size="24.3" text-anchor="middle" font-family="'Liberation Sans', Arial, sans-serif">n=158</text><text x="1901.7" y="1446.7" font-size="24.3" text-anchor="middle" font-family="'Liberation Sans', Arial, sans-serif">n=78</text><text x="1791.8" y="1637.5" font-size="24.3" text-anchor="middle" font-family="'Liberation Sans', Arial, sans-serif">Log<tspan font-size="15.5" dy="1">2</tspan><tspan dy="-1">-transformed</tspan></text><text x="1791.8" y="1665.5" font-size="24.3" text-anchor="middle" font-family="'Liberation Sans', Arial, sans-serif">fold change in WT</text>
<text transform="translate(932.5 1407.5) rotate(-90)" font-size="24.3" text-anchor="middle" font-family="'Liberation Sans', Arial, sans-serif">Log<tspan font-size="15.5" dy="1">2</tspan><tspan dy="-1">-transformed</tspan></text>
<text transform="translate(961 1429.7) rotate(-90)" font-size="24.3" text-anchor="middle" font-family="'Liberation Sans', Arial, sans-serif">fold change in <tspan font-style="italic">Piwil1</tspan><tspan font-size="15.5" dy="-9">m1/m1</tspan></text>
</svg></body></html>
